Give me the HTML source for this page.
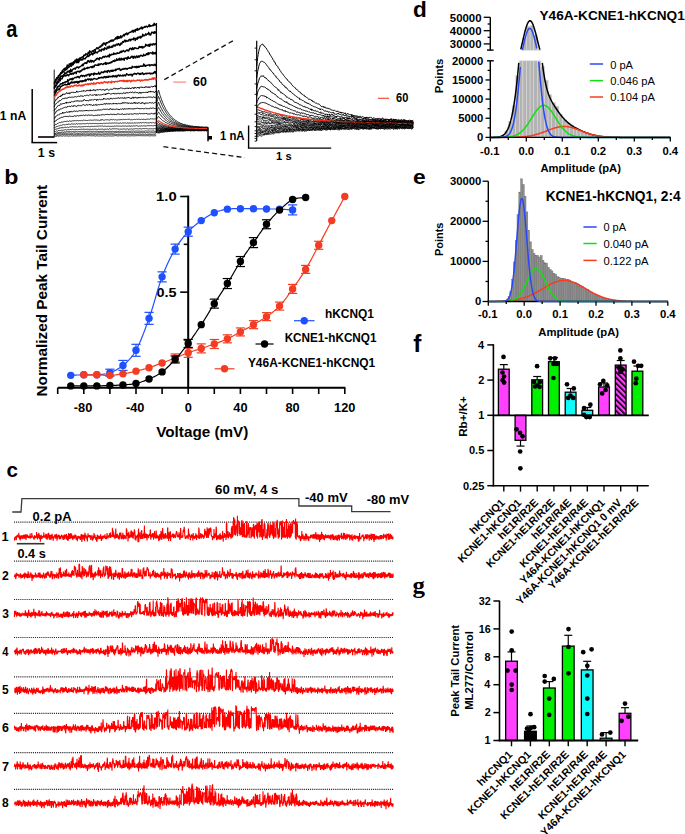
<!DOCTYPE html>
<html><head><meta charset="utf-8"><style>
html,body{margin:0;padding:0;background:#fff;}
svg{display:block;}
</style></head><body>
<svg width="685" height="834" viewBox="0 0 685 834">
<rect width="685" height="834" fill="#fff"/>
<text x="6.20" y="36.76" font-family="Liberation Sans" font-weight="bold" font-size="24.00" textLength="11.12" lengthAdjust="spacingAndGlyphs" fill="#000" >a</text>
<line x1="32.20" y1="89.00" x2="32.20" y2="142.60" stroke="#000" stroke-width="1.5" />
<line x1="31.45" y1="142.60" x2="57.20" y2="142.60" stroke="#000" stroke-width="1.5" />
<text x="-0.13" y="119.80" font-family="Liberation Sans" font-weight="bold" font-size="12.46" textLength="26.40" lengthAdjust="spacingAndGlyphs" fill="#000" >1 nA</text>
<text x="37.86" y="157.07" font-family="Liberation Sans" font-weight="bold" font-size="12.57" textLength="17.18" lengthAdjust="spacingAndGlyphs" fill="#000" >1 s</text>
<line x1="38.00" y1="137.00" x2="54.20" y2="137.00" stroke="#1a0808" stroke-width="1.7" />
<polyline points="54.2,83.3 54.7,82.3 55.2,80.9 55.7,79.5 56.2,78.8 56.7,77.7 57.2,77.7 57.7,77.9 58.2,75.9 58.7,75.4 59.2,75.5 59.7,74.9 60.2,74.1 60.7,72.6 61.2,72.8 61.7,72.9 62.2,70.8 62.7,71.1 63.2,69.5 63.7,69.5 64.2,68.6 64.7,69.5 65.2,68.0 65.7,68.9 66.2,68.2 66.7,67.3 67.2,64.9 67.7,66.3 68.2,66.3 68.7,65.9 69.2,63.9 69.7,64.6 70.2,63.7 70.7,63.5 71.2,64.6 71.7,62.9 72.2,63.2 72.7,63.6 73.2,62.1 73.7,62.0 74.2,61.9 74.7,61.3 75.2,60.0 75.7,60.8 76.2,61.6 76.7,59.0 77.2,60.8 77.7,60.1 78.2,59.1 78.7,60.9 79.2,59.7 79.7,57.9 80.2,58.3 80.7,58.4 81.2,57.4 81.7,57.8 82.2,56.8 82.7,57.0 83.2,57.3 83.7,55.3 84.2,55.8 84.7,54.9 85.2,55.3 85.7,53.8 86.2,54.0 86.7,53.9 87.2,54.6 87.7,54.7 88.2,52.3 88.7,52.4 89.2,53.3 89.7,50.8 90.2,51.7 90.7,51.9 91.2,52.7 91.7,52.1 92.2,51.0 92.7,50.8 93.2,50.6 93.7,51.7 94.2,49.9 94.7,49.7 95.2,50.0 95.7,49.2 96.2,48.8 96.7,47.8 97.2,48.6 97.7,47.8 98.2,48.8 98.7,48.0 99.2,47.1 99.7,47.3 100.2,46.1 100.7,47.0 101.2,45.9 101.7,46.1 102.2,44.2 102.7,45.4 103.2,43.4 103.7,42.9 104.2,44.1 104.7,43.2 105.2,43.7 105.7,45.2 106.2,42.6 106.7,42.6 107.2,43.1 107.7,42.9 108.2,42.1 108.7,41.8 109.2,42.2 109.7,41.9 110.2,40.5 110.7,41.1 111.2,41.2 111.7,40.0 112.2,41.0 112.7,39.9 113.2,41.0 113.7,40.1 114.2,39.8 114.7,39.0 115.2,39.2 115.7,37.6 116.2,38.0 116.7,38.8 117.2,36.5 117.7,38.7 118.2,36.5 118.7,38.3 119.2,36.9 119.7,38.1 120.2,37.2 120.7,35.7 121.2,37.7 121.7,37.5 122.2,36.2 122.7,35.8 123.2,35.6 123.7,34.5 124.2,36.1 124.7,34.5 125.2,34.6 125.7,33.7 126.2,33.6 126.7,33.0 127.2,34.8 127.7,33.4 128.2,34.0 128.7,33.1 129.2,32.5 129.7,32.6 130.2,32.2 130.7,32.4 131.2,31.8 131.7,31.7 132.2,30.5 132.7,30.6 133.2,32.3 133.7,30.3 134.2,30.0 134.7,31.0 135.2,31.8 135.7,29.5 136.2,30.2 136.7,29.6 137.2,28.4 137.7,30.3 138.2,29.4 138.7,29.5 139.2,28.5 139.7,29.2 140.2,28.2 140.7,28.3 141.2,27.4 141.7,27.1 142.2,29.1 142.7,27.5 143.2,28.0 143.7,27.7 144.2,27.0 144.7,26.6 145.2,27.3 145.7,26.5 146.2,26.2 146.7,26.3 147.2,27.2 147.7,26.8 148.2,26.4 148.7,25.6 149.2,24.6 149.7,26.6 150.2,26.4 150.7,25.4 151.2,25.9 151.7,26.0 152.2,25.7 152.7,25.6 153.2,24.4 153.7,25.7 154.2,23.3 154.7,25.0 155.2,24.5 155.7,24.6 156.2,25.2" fill="none" stroke="#000" stroke-width="1.4" stroke-linejoin="round"/>
<polyline points="156.6,99.1 157.1,96.4 157.6,93.7 158.1,91.1 158.6,90.2 159.1,91.9 159.6,93.8 160.1,95.5 160.6,96.7 161.1,98.4 161.6,99.7 162.1,101.0 162.6,102.4 163.1,103.5 163.6,104.8 164.1,105.7 164.6,106.8 165.1,107.7 165.6,108.6 166.1,109.7 166.6,110.4 167.1,111.3 167.6,112.0 168.1,112.7 168.6,113.5 169.1,114.2 169.6,114.9 170.1,115.3 170.6,116.0 171.1,116.3 171.6,117.1 172.1,117.4 172.6,117.8 173.1,118.5 173.6,119.0 174.1,119.1 174.6,119.6 175.1,120.0 175.6,120.3 176.1,120.8 176.6,121.0 177.1,121.3 177.6,121.8 178.1,121.9 178.6,122.3 179.1,122.4 179.6,122.6 180.1,122.8 180.6,123.4 181.1,123.4 181.6,123.6 182.1,123.8 182.6,124.0 183.1,124.2 183.6,124.5 184.1,124.3 184.6,124.4 185.1,124.6 185.6,124.7 186.1,125.1 186.6,125.2 187.1,125.1 187.6,125.2 188.1,125.4 188.6,125.7 189.1,125.3 189.6,125.8 190.1,125.7 190.6,126.1 191.1,125.9 191.6,126.1 192.1,126.0 192.6,126.1 193.1,126.5 193.6,126.5 194.1,126.4 194.6,126.4 195.1,126.3 195.6,126.5 196.1,126.6 196.6,126.7 197.1,126.7 197.6,126.6 198.1,126.8 198.6,126.8 199.1,127.0 199.6,127.1 200.1,126.9 200.6,126.9 201.1,127.0 201.6,127.0 202.1,127.0 202.6,127.1 203.1,127.0 203.6,127.2 204.1,127.1 204.6,127.2 205.1,127.2 205.6,127.1 206.1,127.1 206.6,127.2 207.1,127.2 207.6,127.3" fill="none" stroke="#000" stroke-width="0.85" stroke-linejoin="round"/>
<polyline points="54.2,84.5 54.7,82.4 55.2,82.5 55.7,80.5 56.2,80.3 56.7,79.8 57.2,77.6 57.7,78.4 58.2,77.6 58.7,76.6 59.2,75.9 59.7,75.3 60.2,74.1 60.7,74.1 61.2,73.5 61.7,73.3 62.2,71.8 62.7,72.4 63.2,71.9 63.7,71.4 64.2,70.9 64.7,70.9 65.2,68.9 65.7,70.1 66.2,69.5 66.7,69.1 67.2,68.9 67.7,67.5 68.2,67.4 68.7,67.6 69.2,67.0 69.7,66.4 70.2,64.9 70.7,66.2 71.2,66.4 71.7,65.7 72.2,64.9 72.7,63.2 73.2,64.8 73.7,63.6 74.2,61.4 74.7,63.1 75.2,61.5 75.7,61.3 76.2,61.6 76.7,62.8 77.2,61.3 77.7,61.6 78.2,62.7 78.7,62.4 79.2,60.9 79.7,60.7 80.2,59.5 80.7,59.6 81.2,60.0 81.7,59.8 82.2,59.3 82.7,59.9 83.2,58.4 83.7,58.7 84.2,58.8 84.7,58.5 85.2,58.8 85.7,57.9 86.2,57.1 86.7,57.3 87.2,56.0 87.7,55.2 88.2,56.6 88.7,55.9 89.2,56.1 89.7,54.2 90.2,54.9 90.7,54.5 91.2,54.2 91.7,52.8 92.2,54.0 92.7,54.8 93.2,53.9 93.7,52.9 94.2,53.2 94.7,53.5 95.2,50.5 95.7,52.2 96.2,52.6 96.7,52.4 97.2,52.9 97.7,52.2 98.2,51.4 98.7,51.3 99.2,51.3 99.7,49.8 100.2,50.1 100.7,50.6 101.2,51.2 101.7,49.2 102.2,49.3 102.7,49.3 103.2,50.1 103.7,48.8 104.2,49.9 104.7,47.8 105.2,48.4 105.7,48.5 106.2,49.1 106.7,49.1 107.2,46.9 107.7,47.3 108.2,48.2 108.7,47.2 109.2,46.1 109.7,47.9 110.2,47.3 110.7,47.1 111.2,46.3 111.7,47.4 112.2,46.3 112.7,47.0 113.2,45.3 113.7,45.2 114.2,45.9 114.7,45.0 115.2,45.9 115.7,45.6 116.2,44.2 116.7,44.7 117.2,44.3 117.7,45.1 118.2,43.7 118.7,43.6 119.2,44.7 119.7,45.5 120.2,45.1 120.7,43.3 121.2,43.3 121.7,44.1 122.2,42.5 122.7,41.6 123.2,42.4 123.7,42.3 124.2,41.0 124.7,40.1 125.2,40.2 125.7,41.8 126.2,40.5 126.7,40.9 127.2,41.1 127.7,41.2 128.2,40.2 128.7,40.9 129.2,39.5 129.7,39.8 130.2,39.2 130.7,40.8 131.2,39.8 131.7,39.1 132.2,39.2 132.7,39.2 133.2,39.8 133.7,37.9 134.2,38.2 134.7,38.4 135.2,40.6 135.7,39.2 136.2,38.1 136.7,38.4 137.2,39.4 137.7,37.3 138.2,37.0 138.7,38.1 139.2,37.3 139.7,37.3 140.2,36.3 140.7,38.0 141.2,37.4 141.7,36.5 142.2,36.5 142.7,34.1 143.2,36.0 143.7,35.2 144.2,35.6 144.7,35.7 145.2,35.0 145.7,33.8 146.2,35.1 146.7,34.1 147.2,34.3 147.7,33.8 148.2,33.9 148.7,32.3 149.2,34.9 149.7,33.9 150.2,34.5 150.7,35.0 151.2,33.5 151.7,32.1 152.2,32.6 152.7,32.3 153.2,33.0 153.7,33.3 154.2,31.6 154.7,33.1 155.2,31.8 155.7,33.1 156.2,32.5" fill="none" stroke="#000" stroke-width="1.4" stroke-linejoin="round"/>
<polyline points="156.6,103.6 157.1,101.6 157.6,99.4 158.1,97.2 158.6,96.4 159.1,97.9 159.6,99.3 160.1,100.6 160.6,102.0 161.1,102.9 161.6,104.4 162.1,105.3 162.6,106.6 163.1,107.4 163.6,108.3 164.1,109.4 164.6,110.1 165.1,110.9 165.6,111.7 166.1,112.6 166.6,113.4 167.1,114.1 167.6,114.6 168.1,115.4 168.6,115.9 169.1,116.4 169.6,117.0 170.1,117.6 170.6,117.9 171.1,118.4 171.6,118.8 172.1,119.3 172.6,119.6 173.1,120.2 173.6,120.4 174.1,120.8 174.6,121.0 175.1,121.5 175.6,121.8 176.1,122.0 176.6,122.5 177.1,122.6 177.6,123.0 178.1,123.1 178.6,123.2 179.1,123.4 179.6,123.7 180.1,123.9 180.6,124.0 181.1,124.2 181.6,124.2 182.1,124.5 182.6,124.4 183.1,124.9 183.6,124.9 184.1,125.0 184.6,125.2 185.1,125.4 185.6,125.3 186.1,125.4 186.6,125.6 187.1,125.5 187.6,125.8 188.1,126.2 188.6,125.9 189.1,126.2 189.6,126.0 190.1,126.3 190.6,126.3 191.1,126.4 191.6,126.5 192.1,126.7 192.6,126.6 193.1,126.7 193.6,126.6 194.1,126.8 194.6,126.8 195.1,126.9 195.6,126.9 196.1,127.1 196.6,126.7 197.1,127.0 197.6,127.1 198.1,127.0 198.6,127.0 199.1,127.1 199.6,127.0 200.1,127.2 200.6,127.5 201.1,127.4 201.6,127.1 202.1,127.2 202.6,127.3 203.1,127.5 203.6,127.3 204.1,127.3 204.6,127.5 205.1,127.5 205.6,127.4 206.1,127.3 206.6,127.3 207.1,127.4 207.6,127.2" fill="none" stroke="#000" stroke-width="0.85" stroke-linejoin="round"/>
<polyline points="54.2,87.8 54.7,85.7 55.2,85.5 55.7,85.5 56.2,84.2 56.7,81.9 57.2,82.6 57.7,82.0 58.2,79.9 58.7,79.1 59.2,79.2 59.7,77.6 60.2,79.1 60.7,76.0 61.2,76.2 61.7,76.3 62.2,75.8 62.7,75.6 63.2,75.3 63.7,74.7 64.2,75.4 64.7,72.7 65.2,73.9 65.7,73.0 66.2,73.3 66.7,73.0 67.2,71.6 67.7,71.3 68.2,72.1 68.7,71.6 69.2,70.6 69.7,72.3 70.2,72.1 70.7,69.3 71.2,70.3 71.7,71.7 72.2,70.2 72.7,69.6 73.2,69.1 73.7,68.7 74.2,68.8 74.7,68.3 75.2,69.2 75.7,68.0 76.2,67.9 76.7,67.0 77.2,67.5 77.7,66.9 78.2,67.3 78.7,68.0 79.2,67.2 79.7,67.0 80.2,66.6 80.7,66.3 81.2,65.8 81.7,65.2 82.2,65.7 82.7,64.2 83.2,65.6 83.7,64.3 84.2,63.3 84.7,63.2 85.2,62.8 85.7,63.3 86.2,62.5 86.7,63.4 87.2,62.1 87.7,60.8 88.2,61.7 88.7,60.6 89.2,61.8 89.7,62.2 90.2,61.7 90.7,60.3 91.2,60.5 91.7,62.0 92.2,60.9 92.7,60.6 93.2,61.2 93.7,62.1 94.2,61.2 94.7,60.4 95.2,60.3 95.7,60.2 96.2,59.1 96.7,58.6 97.2,59.1 97.7,58.2 98.2,58.7 98.7,58.8 99.2,59.9 99.7,57.7 100.2,58.0 100.7,58.0 101.2,58.3 101.7,58.6 102.2,57.5 102.7,57.1 103.2,56.4 103.7,56.6 104.2,57.3 104.7,57.0 105.2,56.1 105.7,56.6 106.2,56.7 106.7,56.9 107.2,56.2 107.7,56.5 108.2,55.3 108.7,55.5 109.2,57.1 109.7,54.3 110.2,55.1 110.7,55.5 111.2,54.7 111.7,54.2 112.2,54.5 112.7,54.5 113.2,54.5 113.7,53.0 114.2,54.2 114.7,53.7 115.2,53.5 115.7,54.0 116.2,53.9 116.7,53.9 117.2,52.6 117.7,53.4 118.2,53.4 118.7,53.2 119.2,53.3 119.7,52.1 120.2,52.0 120.7,52.6 121.2,51.0 121.7,52.2 122.2,51.6 122.7,51.5 123.2,50.4 123.7,50.7 124.2,51.2 124.7,51.7 125.2,51.7 125.7,50.9 126.2,50.6 126.7,50.0 127.2,50.7 127.7,50.1 128.2,50.5 128.7,51.0 129.2,49.6 129.7,48.5 130.2,48.9 130.7,48.3 131.2,48.4 131.7,49.9 132.2,48.9 132.7,47.6 133.2,49.1 133.7,49.4 134.2,48.2 134.7,47.7 135.2,47.9 135.7,48.2 136.2,48.1 136.7,48.6 137.2,48.6 137.7,48.5 138.2,48.6 138.7,48.0 139.2,46.4 139.7,47.2 140.2,47.4 140.7,46.8 141.2,47.7 141.7,46.8 142.2,46.4 142.7,48.1 143.2,47.2 143.7,46.8 144.2,47.0 144.7,46.8 145.2,46.4 145.7,44.2 146.2,45.4 146.7,45.6 147.2,44.9 147.7,45.5 148.2,46.1 148.7,44.8 149.2,44.3 149.7,46.4 150.2,44.7 150.7,44.0 151.2,44.9 151.7,44.9 152.2,44.0 152.7,45.1 153.2,44.0 153.7,43.7 154.2,44.3 154.7,44.7 155.2,43.7 155.7,44.1 156.2,43.7" fill="none" stroke="#000" stroke-width="1.4" stroke-linejoin="round"/>
<polyline points="156.6,108.3 157.1,106.7 157.6,104.7 158.1,103.0 158.6,102.3 159.1,103.8 159.6,104.8 160.1,106.1 160.6,107.0 161.1,108.1 161.6,108.8 162.1,109.8 162.6,110.9 163.1,111.3 163.6,112.3 164.1,113.2 164.6,113.7 165.1,114.4 165.6,115.1 166.1,115.5 166.6,116.2 167.1,116.6 167.6,117.2 168.1,117.7 168.6,118.2 169.1,118.7 169.6,119.2 170.1,119.4 170.6,120.2 171.1,120.5 171.6,120.8 172.1,121.0 172.6,121.3 173.1,121.7 173.6,122.0 174.1,122.0 174.6,122.6 175.1,123.1 175.6,122.8 176.1,123.4 176.6,123.5 177.1,123.7 177.6,124.0 178.1,123.9 178.6,124.3 179.1,124.6 179.6,124.6 180.1,124.7 180.6,124.9 181.1,125.0 181.6,125.4 182.1,125.2 182.6,125.5 183.1,125.4 183.6,125.7 184.1,125.7 184.6,125.5 185.1,126.0 185.6,125.9 186.1,126.1 186.6,126.4 187.1,126.2 187.6,126.2 188.1,126.6 188.6,126.5 189.1,126.8 189.6,126.7 190.1,126.6 190.6,126.8 191.1,127.0 191.6,127.0 192.1,126.9 192.6,127.0 193.1,127.0 193.6,127.0 194.1,127.3 194.6,127.1 195.1,127.0 195.6,127.1 196.1,127.3 196.6,127.3 197.1,127.3 197.6,127.2 198.1,127.4 198.6,127.2 199.1,127.2 199.6,127.5 200.1,127.4 200.6,127.5 201.1,127.6 201.6,127.6 202.1,127.5 202.6,127.8 203.1,127.6 203.6,127.5 204.1,127.7 204.6,127.7 205.1,127.5 205.6,127.6 206.1,127.6 206.6,127.4 207.1,127.6 207.6,127.6" fill="none" stroke="#000" stroke-width="0.85" stroke-linejoin="round"/>
<polyline points="54.2,89.0 54.7,87.1 55.2,87.0 55.7,86.3 56.2,85.4 56.7,83.9 57.2,84.1 57.7,82.2 58.2,82.2 58.7,82.6 59.2,80.8 59.7,80.2 60.2,80.7 60.7,79.3 61.2,78.8 61.7,78.6 62.2,78.7 62.7,76.2 63.2,76.7 63.7,76.2 64.2,75.8 64.7,75.8 65.2,75.7 65.7,76.1 66.2,75.0 66.7,75.5 67.2,75.4 67.7,74.6 68.2,75.0 68.7,75.8 69.2,74.8 69.7,74.0 70.2,74.3 70.7,73.5 71.2,74.1 71.7,74.3 72.2,73.2 72.7,73.4 73.2,74.2 73.7,73.0 74.2,73.3 74.7,72.3 75.2,72.1 75.7,72.2 76.2,73.7 76.7,71.9 77.2,71.5 77.7,71.3 78.2,71.4 78.7,71.8 79.2,71.3 79.7,72.2 80.2,70.9 80.7,71.5 81.2,70.7 81.7,70.7 82.2,69.2 82.7,69.9 83.2,69.7 83.7,69.3 84.2,67.9 84.7,69.5 85.2,68.6 85.7,68.4 86.2,68.2 86.7,68.0 87.2,68.5 87.7,67.3 88.2,67.5 88.7,68.1 89.2,67.8 89.7,67.3 90.2,67.1 90.7,66.7 91.2,67.0 91.7,67.6 92.2,66.1 92.7,67.6 93.2,67.0 93.7,66.1 94.2,66.7 94.7,65.1 95.2,64.9 95.7,65.0 96.2,65.4 96.7,65.3 97.2,65.1 97.7,65.4 98.2,63.9 98.7,65.4 99.2,64.0 99.7,64.5 100.2,64.5 100.7,63.9 101.2,63.7 101.7,63.8 102.2,64.4 102.7,64.6 103.2,64.6 103.7,63.4 104.2,63.5 104.7,63.2 105.2,64.1 105.7,62.4 106.2,64.4 106.7,63.2 107.2,63.0 107.7,63.6 108.2,63.7 108.7,63.0 109.2,63.3 109.7,62.6 110.2,63.0 110.7,62.8 111.2,61.8 111.7,62.6 112.2,61.7 112.7,61.6 113.2,60.7 113.7,60.8 114.2,61.4 114.7,60.0 115.2,61.1 115.7,60.7 116.2,60.5 116.7,58.8 117.2,60.0 117.7,60.3 118.2,59.4 118.7,59.8 119.2,58.1 119.7,60.0 120.2,59.0 120.7,59.9 121.2,58.2 121.7,59.8 122.2,59.1 122.7,59.6 123.2,58.4 123.7,58.7 124.2,60.3 124.7,58.2 125.2,58.1 125.7,58.3 126.2,57.7 126.7,59.0 127.2,59.2 127.7,57.4 128.2,56.7 128.7,58.4 129.2,58.3 129.7,58.2 130.2,58.3 130.7,56.9 131.2,57.2 131.7,56.2 132.2,56.1 132.7,57.7 133.2,56.5 133.7,58.2 134.2,56.7 134.7,56.2 135.2,57.2 135.7,57.9 136.2,57.0 136.7,55.9 137.2,56.7 137.7,57.4 138.2,56.2 138.7,56.0 139.2,57.1 139.7,56.4 140.2,55.4 140.7,55.7 141.2,55.3 141.7,55.8 142.2,55.7 142.7,56.2 143.2,55.7 143.7,54.2 144.2,55.4 144.7,55.6 145.2,55.2 145.7,55.2 146.2,54.0 146.7,53.7 147.2,54.7 147.7,53.5 148.2,52.7 148.7,54.6 149.2,53.3 149.7,53.4 150.2,52.8 150.7,52.9 151.2,52.9 151.7,53.3 152.2,53.7 152.7,52.0 153.2,54.0 153.7,52.7 154.2,52.8 154.7,53.8 155.2,53.3 155.7,52.3 156.2,54.5" fill="none" stroke="#000" stroke-width="1.4" stroke-linejoin="round"/>
<polyline points="156.6,112.1 157.1,111.0 157.6,109.5 158.1,107.8 158.6,107.3 159.1,108.5 159.6,109.3 160.1,110.0 160.6,111.2 161.1,111.9 161.6,112.6 162.1,113.6 162.6,114.1 163.1,114.7 163.6,115.4 164.1,115.9 164.6,116.5 165.1,117.1 165.6,117.5 166.1,118.1 166.6,118.8 167.1,119.1 167.6,119.6 168.1,119.9 168.6,120.3 169.1,120.8 169.6,121.0 170.1,121.5 170.6,121.5 171.1,121.9 171.6,122.1 172.1,122.5 172.6,122.8 173.1,123.2 173.6,123.2 174.1,123.5 174.6,123.7 175.1,123.8 175.6,124.0 176.1,124.3 176.6,124.3 177.1,124.6 177.6,124.8 178.1,124.9 178.6,125.0 179.1,125.1 179.6,125.6 180.1,125.3 180.6,125.8 181.1,125.8 181.6,125.8 182.1,125.8 182.6,126.2 183.1,126.3 183.6,126.1 184.1,126.3 184.6,126.5 185.1,126.5 185.6,126.8 186.1,126.6 186.6,126.8 187.1,126.6 187.6,127.1 188.1,126.8 188.6,126.7 189.1,127.0 189.6,127.0 190.1,127.3 190.6,127.1 191.1,127.2 191.6,127.3 192.1,127.4 192.6,127.3 193.1,127.5 193.6,127.4 194.1,127.4 194.6,127.4 195.1,127.5 195.6,127.4 196.1,127.7 196.6,127.4 197.1,127.7 197.6,127.7 198.1,127.6 198.6,127.5 199.1,127.6 199.6,127.7 200.1,127.8 200.6,127.7 201.1,127.8 201.6,127.7 202.1,127.8 202.6,127.6 203.1,127.9 203.6,127.8 204.1,127.8 204.6,128.0 205.1,127.9 205.6,127.5 206.1,127.9 206.6,127.7 207.1,128.0 207.6,128.2" fill="none" stroke="#000" stroke-width="0.85" stroke-linejoin="round"/>
<polyline points="54.2,92.8 54.7,92.0 55.2,90.8 55.7,90.1 56.2,89.4 56.7,88.9 57.2,87.0 57.7,87.8 58.2,85.9 58.7,86.2 59.2,86.3 59.7,85.6 60.2,84.2 60.7,83.9 61.2,83.6 61.7,83.7 62.2,84.1 62.7,82.6 63.2,83.2 63.7,82.9 64.2,82.4 64.7,82.1 65.2,82.4 65.7,81.7 66.2,81.9 66.7,81.6 67.2,82.1 67.7,79.7 68.2,81.3 68.7,80.2 69.2,80.0 69.7,79.4 70.2,78.7 70.7,79.4 71.2,79.0 71.7,79.7 72.2,78.2 72.7,79.7 73.2,78.9 73.7,78.4 74.2,77.9 74.7,77.7 75.2,77.4 75.7,77.5 76.2,77.7 76.7,77.5 77.2,76.6 77.7,77.1 78.2,76.6 78.7,77.1 79.2,77.9 79.7,77.1 80.2,76.5 80.7,75.6 81.2,75.5 81.7,75.3 82.2,76.6 82.7,75.7 83.2,75.9 83.7,75.4 84.2,76.0 84.7,76.6 85.2,75.4 85.7,75.5 86.2,75.1 86.7,75.9 87.2,74.7 87.7,74.6 88.2,74.3 88.7,74.1 89.2,75.1 89.7,76.2 90.2,74.0 90.7,75.0 91.2,74.5 91.7,73.7 92.2,74.1 92.7,74.1 93.2,73.8 93.7,75.2 94.2,73.0 94.7,74.1 95.2,74.1 95.7,73.5 96.2,73.8 96.7,74.3 97.2,73.8 97.7,73.9 98.2,73.9 98.7,72.2 99.2,74.0 99.7,74.3 100.2,73.4 100.7,73.4 101.2,71.9 101.7,72.5 102.2,72.1 102.7,72.1 103.2,72.8 103.7,71.8 104.2,72.1 104.7,70.9 105.2,71.8 105.7,71.8 106.2,71.2 106.7,71.2 107.2,72.5 107.7,70.6 108.2,70.6 108.7,70.5 109.2,71.6 109.7,72.1 110.2,71.0 110.7,70.5 111.2,70.5 111.7,71.3 112.2,70.1 112.7,71.3 113.2,71.1 113.7,70.2 114.2,70.3 114.7,70.3 115.2,70.7 115.7,69.1 116.2,70.2 116.7,69.3 117.2,68.9 117.7,69.4 118.2,69.2 118.7,68.8 119.2,68.4 119.7,68.7 120.2,70.2 120.7,70.5 121.2,69.7 121.7,69.9 122.2,68.9 122.7,69.2 123.2,69.4 123.7,68.5 124.2,68.5 124.7,69.1 125.2,68.7 125.7,68.2 126.2,68.9 126.7,68.6 127.2,69.2 127.7,68.5 128.2,68.2 128.7,68.3 129.2,68.2 129.7,67.8 130.2,67.7 130.7,68.2 131.2,68.0 131.7,68.3 132.2,66.3 132.7,67.0 133.2,67.0 133.7,67.1 134.2,66.9 134.7,66.7 135.2,67.5 135.7,67.2 136.2,66.3 136.7,67.8 137.2,67.4 137.7,66.4 138.2,67.3 138.7,66.3 139.2,67.2 139.7,66.4 140.2,66.0 140.7,66.3 141.2,66.0 141.7,66.4 142.2,66.3 142.7,66.3 143.2,65.8 143.7,63.9 144.2,66.1 144.7,64.8 145.2,66.1 145.7,66.4 146.2,65.8 146.7,65.3 147.2,65.3 147.7,65.3 148.2,65.1 148.7,64.9 149.2,64.6 149.7,65.9 150.2,65.0 150.7,65.5 151.2,64.8 151.7,64.9 152.2,64.8 152.7,65.3 153.2,65.4 153.7,65.1 154.2,64.5 154.7,64.3 155.2,65.7 155.7,64.5 156.2,64.3" fill="none" stroke="#000" stroke-width="1.4" stroke-linejoin="round"/>
<polyline points="156.6,115.8 157.1,114.9 157.6,113.7 158.1,112.4 158.6,112.2 159.1,112.8 159.6,113.6 160.1,114.3 160.6,114.9 161.1,115.8 161.6,116.1 162.1,116.5 162.6,117.4 163.1,117.7 163.6,118.2 164.1,118.4 164.6,119.3 165.1,119.7 165.6,120.1 166.1,120.5 166.6,121.0 167.1,121.1 167.6,121.6 168.1,121.7 168.6,122.0 169.1,122.5 169.6,122.7 170.1,122.7 170.6,123.2 171.1,123.4 171.6,123.5 172.1,123.9 172.6,124.0 173.1,124.1 173.6,124.3 174.1,124.8 174.6,124.6 175.1,125.0 175.6,125.2 176.1,125.3 176.6,125.2 177.1,125.5 177.6,125.7 178.1,125.9 178.6,125.8 179.1,125.8 179.6,126.2 180.1,126.3 180.6,126.3 181.1,126.3 181.6,126.5 182.1,126.6 182.6,126.7 183.1,126.6 183.6,126.8 184.1,126.8 184.6,126.8 185.1,127.0 185.6,127.0 186.1,127.0 186.6,127.2 187.1,127.0 187.6,127.2 188.1,127.3 188.6,127.4 189.1,127.5 189.6,127.3 190.1,127.3 190.6,127.5 191.1,127.6 191.6,127.8 192.1,127.6 192.6,127.5 193.1,127.7 193.6,127.6 194.1,127.5 194.6,128.0 195.1,127.8 195.6,127.8 196.1,127.8 196.6,128.0 197.1,127.8 197.6,128.0 198.1,127.7 198.6,127.7 199.1,128.1 199.6,128.1 200.1,128.0 200.6,128.0 201.1,128.0 201.6,127.9 202.1,128.1 202.6,128.1 203.1,128.0 203.6,128.0 204.1,128.1 204.6,128.1 205.1,128.1 205.6,127.9 206.1,128.1 206.6,128.3 207.1,128.0 207.6,128.0" fill="none" stroke="#000" stroke-width="0.85" stroke-linejoin="round"/>
<polyline points="54.2,95.7 54.7,94.9 55.2,93.7 55.7,91.7 56.2,92.1 56.7,90.4 57.2,90.0 57.7,90.0 58.2,89.0 58.7,89.2 59.2,90.0 59.7,88.3 60.2,88.0 60.7,86.7 61.2,86.6 61.7,86.0 62.2,85.9 62.7,85.4 63.2,85.4 63.7,85.3 64.2,84.7 64.7,84.3 65.2,84.1 65.7,85.0 66.2,84.6 66.7,84.8 67.2,84.7 67.7,83.7 68.2,84.2 68.7,82.8 69.2,84.6 69.7,83.8 70.2,83.0 70.7,82.4 71.2,83.1 71.7,81.8 72.2,82.3 72.7,82.9 73.2,82.4 73.7,82.1 74.2,82.9 74.7,81.8 75.2,82.5 75.7,81.9 76.2,81.6 76.7,82.3 77.2,81.5 77.7,83.0 78.2,81.6 78.7,82.8 79.2,81.3 79.7,82.0 80.2,81.0 80.7,80.9 81.2,81.5 81.7,81.7 82.2,80.6 82.7,81.7 83.2,80.7 83.7,81.0 84.2,81.0 84.7,80.8 85.2,79.5 85.7,81.1 86.2,80.5 86.7,79.8 87.2,79.4 87.7,78.9 88.2,78.9 88.7,79.9 89.2,79.4 89.7,78.9 90.2,79.2 90.7,80.2 91.2,79.1 91.7,78.9 92.2,79.9 92.7,79.5 93.2,79.2 93.7,78.8 94.2,78.4 94.7,78.6 95.2,78.9 95.7,78.9 96.2,79.1 96.7,79.2 97.2,79.0 97.7,78.9 98.2,78.3 98.7,77.6 99.2,78.3 99.7,77.8 100.2,77.7 100.7,77.8 101.2,77.2 101.7,77.2 102.2,77.7 102.7,77.7 103.2,77.1 103.7,77.7 104.2,77.1 104.7,76.6 105.2,77.0 105.7,77.8 106.2,76.5 106.7,77.4 107.2,77.3 107.7,77.4 108.2,76.1 108.7,77.4 109.2,76.4 109.7,76.3 110.2,76.4 110.7,76.8 111.2,76.5 111.7,76.3 112.2,76.9 112.7,75.8 113.2,75.5 113.7,76.6 114.2,76.5 114.7,76.7 115.2,75.6 115.7,76.7 116.2,76.4 116.7,77.0 117.2,75.3 117.7,76.1 118.2,75.6 118.7,74.9 119.2,75.4 119.7,76.2 120.2,75.3 120.7,75.2 121.2,75.9 121.7,75.9 122.2,76.0 122.7,75.1 123.2,75.4 123.7,76.0 124.2,75.1 124.7,74.9 125.2,75.7 125.7,75.9 126.2,74.5 126.7,73.7 127.2,74.3 127.7,74.6 128.2,74.9 128.7,75.3 129.2,74.8 129.7,74.5 130.2,74.9 130.7,74.2 131.2,74.7 131.7,74.5 132.2,76.0 132.7,74.9 133.2,74.0 133.7,73.9 134.2,74.1 134.7,73.3 135.2,73.8 135.7,73.7 136.2,74.5 136.7,73.9 137.2,73.5 137.7,73.2 138.2,73.2 138.7,73.7 139.2,73.5 139.7,74.4 140.2,73.4 140.7,74.3 141.2,74.0 141.7,73.7 142.2,72.7 142.7,73.1 143.2,74.1 143.7,74.5 144.2,73.8 144.7,74.0 145.2,73.4 145.7,73.5 146.2,73.2 146.7,74.0 147.2,73.5 147.7,73.3 148.2,73.2 148.7,73.5 149.2,73.4 149.7,72.9 150.2,74.1 150.7,73.3 151.2,73.1 151.7,73.8 152.2,73.7 152.7,73.1 153.2,73.4 153.7,72.4 154.2,72.4 154.7,71.5 155.2,73.3 155.7,71.7 156.2,72.9" fill="none" stroke="#000" stroke-width="1.4" stroke-linejoin="round"/>
<polyline points="156.6,119.6 157.1,118.5 157.6,117.8 158.1,116.5 158.6,116.6 159.1,117.1 159.6,117.8 160.1,118.2 160.6,118.5 161.1,119.2 161.6,119.6 162.1,120.0 162.6,120.5 163.1,120.9 163.6,121.1 164.1,121.3 164.6,121.6 165.1,122.3 165.6,122.5 166.1,122.7 166.6,122.9 167.1,123.2 167.6,123.4 168.1,123.6 168.6,123.8 169.1,124.4 169.6,124.3 170.1,124.4 170.6,124.5 171.1,124.8 171.6,125.1 172.1,125.3 172.6,125.3 173.1,125.5 173.6,125.6 174.1,125.6 174.6,126.0 175.1,126.0 175.6,126.4 176.1,126.1 176.6,126.3 177.1,126.5 177.6,126.5 178.1,126.4 178.6,126.5 179.1,126.8 179.6,126.9 180.1,126.9 180.6,127.1 181.1,127.1 181.6,127.1 182.1,127.2 182.6,127.2 183.1,127.3 183.6,127.4 184.1,127.4 184.6,127.5 185.1,127.4 185.6,127.3 186.1,127.4 186.6,127.7 187.1,127.7 187.6,127.8 188.1,127.7 188.6,127.8 189.1,127.9 189.6,127.9 190.1,127.7 190.6,127.8 191.1,127.9 191.6,127.8 192.1,128.0 192.6,128.0 193.1,127.9 193.6,128.2 194.1,127.9 194.6,128.0 195.1,128.0 195.6,127.9 196.1,128.1 196.6,128.1 197.1,128.3 197.6,128.2 198.1,128.2 198.6,128.1 199.1,127.9 199.6,128.1 200.1,128.0 200.6,128.3 201.1,128.2 201.6,128.4 202.1,128.3 202.6,128.3 203.1,128.2 203.6,128.2 204.1,128.3 204.6,128.3 205.1,128.1 205.6,128.3 206.1,128.5 206.6,128.2 207.1,128.2 207.6,128.2" fill="none" stroke="#000" stroke-width="0.85" stroke-linejoin="round"/>
<polyline points="54.2,103.5 54.7,101.8 55.2,101.4 55.7,100.4 56.2,98.9 56.7,99.4 57.2,98.8 57.7,97.6 58.2,97.9 58.7,96.8 59.2,96.5 59.7,96.5 60.2,95.9 60.7,96.8 61.2,94.9 61.7,95.7 62.2,95.6 62.7,94.0 63.2,93.8 63.7,94.6 64.2,93.9 64.7,94.3 65.2,94.4 65.7,93.6 66.2,93.2 66.7,92.5 67.2,93.7 67.7,93.0 68.2,93.6 68.7,93.4 69.2,92.6 69.7,93.8 70.2,93.4 70.7,93.2 71.2,92.2 71.7,92.4 72.2,92.3 72.7,92.3 73.2,92.0 73.7,92.7 74.2,92.5 74.7,92.5 75.2,92.0 75.7,92.7 76.2,92.2 76.7,90.9 77.2,91.7 77.7,92.0 78.2,92.3 78.7,91.6 79.2,91.6 79.7,91.3 80.2,91.8 80.7,91.3 81.2,91.2 81.7,91.2 82.2,91.6 82.7,91.1 83.2,90.4 83.7,91.3 84.2,90.6 84.7,91.1 85.2,91.0 85.7,91.4 86.2,91.2 86.7,90.3 87.2,90.4 87.7,89.9 88.2,91.1 88.7,90.6 89.2,91.1 89.7,90.3 90.2,89.6 90.7,91.1 91.2,90.3 91.7,90.3 92.2,90.2 92.7,90.4 93.2,90.4 93.7,89.5 94.2,90.6 94.7,89.9 95.2,89.9 95.7,90.8 96.2,90.4 96.7,89.9 97.2,89.3 97.7,90.1 98.2,90.2 98.7,89.9 99.2,89.4 99.7,89.5 100.2,89.2 100.7,89.8 101.2,90.0 101.7,90.1 102.2,89.4 102.7,89.8 103.2,89.9 103.7,89.5 104.2,89.6 104.7,90.6 105.2,89.7 105.7,89.9 106.2,89.3 106.7,89.5 107.2,88.8 107.7,89.5 108.2,89.9 108.7,90.3 109.2,90.0 109.7,89.7 110.2,89.4 110.7,89.1 111.2,89.2 111.7,89.5 112.2,88.9 112.7,89.5 113.2,88.7 113.7,88.3 114.2,88.5 114.7,88.2 115.2,88.2 115.7,89.2 116.2,88.6 116.7,88.7 117.2,89.1 117.7,89.0 118.2,88.2 118.7,89.2 119.2,88.7 119.7,88.4 120.2,88.5 120.7,87.6 121.2,88.0 121.7,88.2 122.2,88.6 122.7,88.2 123.2,88.3 123.7,88.8 124.2,88.9 124.7,88.6 125.2,88.8 125.7,88.0 126.2,88.1 126.7,88.4 127.2,88.1 127.7,88.0 128.2,89.0 128.7,88.2 129.2,87.7 129.7,88.3 130.2,88.9 130.7,88.0 131.2,88.6 131.7,87.8 132.2,87.8 132.7,87.7 133.2,87.8 133.7,88.6 134.2,87.3 134.7,88.3 135.2,87.3 135.7,87.6 136.2,88.1 136.7,88.0 137.2,87.8 137.7,87.0 138.2,87.7 138.7,87.1 139.2,88.5 139.7,87.4 140.2,87.5 140.7,86.9 141.2,87.3 141.7,86.9 142.2,87.9 142.7,87.3 143.2,87.6 143.7,87.0 144.2,87.0 144.7,87.8 145.2,86.8 145.7,86.5 146.2,87.4 146.7,86.7 147.2,86.9 147.7,87.5 148.2,86.7 148.7,87.5 149.2,86.7 149.7,87.6 150.2,87.5 150.7,86.7 151.2,86.7 151.7,86.3 152.2,86.7 152.7,87.1 153.2,86.0 153.7,87.0 154.2,85.9 154.7,86.0 155.2,85.5 155.7,87.1 156.2,86.2" fill="none" stroke="#000" stroke-width="1.0" stroke-linejoin="round"/>
<polyline points="156.6,124.1 157.1,123.7 157.6,123.4 158.1,122.8 158.6,122.6 159.1,122.9 159.6,123.6 160.1,123.3 160.6,123.8 161.1,124.2 161.6,124.3 162.1,124.4 162.6,124.7 163.1,125.0 163.6,125.2 164.1,125.1 164.6,125.5 165.1,125.5 165.6,125.8 166.1,126.0 166.6,125.9 167.1,125.9 167.6,126.2 168.1,126.5 168.6,126.5 169.1,126.6 169.6,126.9 170.1,126.6 170.6,126.9 171.1,126.8 171.6,127.0 172.1,127.1 172.6,127.3 173.1,127.1 173.6,127.2 174.1,127.2 174.6,127.5 175.1,127.4 175.6,127.6 176.1,127.4 176.6,127.6 177.1,127.8 177.6,127.7 178.1,127.8 178.6,127.9 179.1,127.8 179.6,127.7 180.1,128.0 180.6,128.0 181.1,128.1 181.6,127.8 182.1,127.9 182.6,127.8 183.1,128.0 183.6,128.3 184.1,128.2 184.6,128.2 185.1,128.2 185.6,128.3 186.1,128.2 186.6,128.3 187.1,128.3 187.6,128.0 188.1,128.3 188.6,128.5 189.1,128.3 189.6,128.3 190.1,128.3 190.6,128.3 191.1,128.5 191.6,128.4 192.1,128.3 192.6,128.1 193.1,128.4 193.6,128.2 194.1,128.2 194.6,128.6 195.1,128.6 195.6,128.3 196.1,128.6 196.6,128.6 197.1,128.4 197.6,128.6 198.1,128.3 198.6,128.4 199.1,128.4 199.6,128.4 200.1,128.7 200.6,128.4 201.1,128.4 201.6,128.4 202.1,128.6 202.6,128.5 203.1,128.7 203.6,128.5 204.1,128.4 204.6,128.5 205.1,128.6 205.6,128.5 206.1,128.6 206.6,128.8 207.1,128.5 207.6,128.6" fill="none" stroke="#000" stroke-width="0.85" stroke-linejoin="round"/>
<polyline points="54.2,107.1 54.7,105.5 55.2,104.6 55.7,103.8 56.2,103.8 56.7,103.3 57.2,102.5 57.7,102.1 58.2,102.2 58.7,101.8 59.2,100.6 59.7,100.8 60.2,100.6 60.7,100.5 61.2,99.8 61.7,99.4 62.2,99.2 62.7,98.5 63.2,99.0 63.7,98.6 64.2,98.8 64.7,98.1 65.2,98.4 65.7,98.0 66.2,97.9 66.7,98.5 67.2,97.8 67.7,98.1 68.2,97.4 68.7,97.7 69.2,96.9 69.7,97.3 70.2,97.2 70.7,97.5 71.2,97.4 71.7,97.1 72.2,97.4 72.7,97.0 73.2,97.2 73.7,97.2 74.2,96.9 74.7,96.8 75.2,96.9 75.7,96.5 76.2,96.8 76.7,97.0 77.2,96.8 77.7,96.3 78.2,96.0 78.7,96.3 79.2,96.2 79.7,96.6 80.2,95.9 80.7,95.9 81.2,96.3 81.7,95.7 82.2,95.7 82.7,96.5 83.2,96.5 83.7,96.0 84.2,95.8 84.7,95.4 85.2,95.9 85.7,95.7 86.2,95.6 86.7,95.2 87.2,95.3 87.7,95.2 88.2,95.4 88.7,95.8 89.2,95.4 89.7,94.7 90.2,94.9 90.7,94.6 91.2,94.9 91.7,95.4 92.2,95.4 92.7,95.0 93.2,95.3 93.7,94.9 94.2,94.7 94.7,94.6 95.2,94.7 95.7,95.5 96.2,94.3 96.7,95.4 97.2,95.5 97.7,94.8 98.2,94.9 98.7,94.6 99.2,94.8 99.7,95.0 100.2,94.6 100.7,95.0 101.2,95.0 101.7,94.7 102.2,94.7 102.7,94.5 103.2,94.6 103.7,93.9 104.2,94.3 104.7,94.2 105.2,93.7 105.7,94.9 106.2,93.7 106.7,93.7 107.2,94.0 107.7,93.0 108.2,93.5 108.7,93.1 109.2,93.3 109.7,93.6 110.2,93.8 110.7,94.1 111.2,93.9 111.7,93.9 112.2,93.7 112.7,93.2 113.2,93.8 113.7,93.2 114.2,93.2 114.7,94.1 115.2,93.8 115.7,93.6 116.2,93.8 116.7,93.7 117.2,92.9 117.7,93.5 118.2,93.1 118.7,93.5 119.2,93.3 119.7,94.0 120.2,93.7 120.7,93.2 121.2,93.5 121.7,92.9 122.2,93.5 122.7,93.7 123.2,93.5 123.7,92.6 124.2,93.1 124.7,93.3 125.2,93.2 125.7,93.5 126.2,92.4 126.7,93.1 127.2,92.6 127.7,92.9 128.2,92.9 128.7,93.0 129.2,92.5 129.7,92.6 130.2,92.1 130.7,91.9 131.2,92.7 131.7,92.5 132.2,91.9 132.7,92.1 133.2,92.4 133.7,93.1 134.2,92.8 134.7,92.7 135.2,91.8 135.7,92.4 136.2,92.6 136.7,92.6 137.2,92.6 137.7,92.4 138.2,93.3 138.7,93.2 139.2,92.5 139.7,92.1 140.2,93.4 140.7,92.4 141.2,93.0 141.7,93.2 142.2,92.0 142.7,92.5 143.2,92.3 143.7,92.6 144.2,92.4 144.7,93.0 145.2,92.4 145.7,92.1 146.2,92.6 146.7,92.0 147.2,92.0 147.7,93.0 148.2,91.7 148.7,91.6 149.2,91.8 149.7,91.4 150.2,91.0 150.7,92.2 151.2,91.5 151.7,91.7 152.2,91.8 152.7,91.5 153.2,91.4 153.7,91.8 154.2,92.7 154.7,92.0 155.2,92.1 155.7,91.2 156.2,91.9" fill="none" stroke="#000" stroke-width="1.0" stroke-linejoin="round"/>
<polyline points="156.6,125.5 157.1,125.1 157.6,124.8 158.1,124.6 158.6,124.5 159.1,124.5 159.6,124.8 160.1,124.8 160.6,125.1 161.1,125.2 161.6,125.3 162.1,125.6 162.6,125.7 163.1,126.0 163.6,126.2 164.1,126.2 164.6,126.2 165.1,126.5 165.6,126.3 166.1,126.4 166.6,126.9 167.1,126.9 167.6,127.1 168.1,127.0 168.6,127.0 169.1,127.1 169.6,127.3 170.1,127.3 170.6,127.3 171.1,127.3 171.6,127.4 172.1,127.7 172.6,127.7 173.1,127.6 173.6,127.6 174.1,127.7 174.6,127.9 175.1,127.8 175.6,127.9 176.1,127.7 176.6,127.9 177.1,128.1 177.6,128.2 178.1,128.0 178.6,128.1 179.1,128.3 179.6,128.2 180.1,128.2 180.6,128.3 181.1,128.3 181.6,128.5 182.1,128.4 182.6,128.3 183.1,128.4 183.6,128.4 184.1,128.3 184.6,128.3 185.1,128.6 185.6,128.3 186.1,128.6 186.6,128.5 187.1,128.5 187.6,128.6 188.1,128.6 188.6,128.7 189.1,128.5 189.6,128.5 190.1,128.6 190.6,128.8 191.1,128.7 191.6,128.5 192.1,128.6 192.6,128.5 193.1,128.6 193.6,128.7 194.1,128.9 194.6,128.4 195.1,128.8 195.6,128.7 196.1,128.6 196.6,128.7 197.1,128.6 197.6,128.7 198.1,128.8 198.6,128.5 199.1,128.9 199.6,128.7 200.1,128.9 200.6,128.8 201.1,128.9 201.6,128.8 202.1,128.9 202.6,128.7 203.1,128.6 203.6,128.8 204.1,128.8 204.6,129.0 205.1,128.5 205.6,128.7 206.1,128.9 206.6,128.6 207.1,128.7 207.6,129.0" fill="none" stroke="#000" stroke-width="0.85" stroke-linejoin="round"/>
<polyline points="54.2,110.9 54.7,109.2 55.2,109.4 55.7,108.7 56.2,108.0 56.7,107.3 57.2,106.7 57.7,105.9 58.2,105.7 58.7,105.7 59.2,105.2 59.7,105.6 60.2,104.5 60.7,103.6 61.2,104.1 61.7,104.2 62.2,104.0 62.7,103.7 63.2,103.2 63.7,103.9 64.2,103.1 64.7,103.5 65.2,103.0 65.7,102.5 66.2,103.4 66.7,101.9 67.2,102.4 67.7,102.8 68.2,102.5 68.7,102.7 69.2,102.3 69.7,102.0 70.2,102.9 70.7,102.0 71.2,101.9 71.7,101.5 72.2,101.5 72.7,102.0 73.2,101.9 73.7,101.6 74.2,101.3 74.7,101.6 75.2,100.7 75.7,101.2 76.2,101.2 76.7,100.8 77.2,101.1 77.7,100.7 78.2,100.5 78.7,101.4 79.2,101.0 79.7,101.2 80.2,100.9 80.7,101.1 81.2,100.9 81.7,101.1 82.2,101.5 82.7,100.6 83.2,100.7 83.7,100.6 84.2,99.3 84.7,100.0 85.2,100.5 85.7,100.7 86.2,100.1 86.7,100.8 87.2,100.8 87.7,100.2 88.2,100.8 88.7,100.8 89.2,100.4 89.7,99.7 90.2,100.5 90.7,99.8 91.2,99.7 91.7,99.9 92.2,99.6 92.7,100.1 93.2,99.9 93.7,100.0 94.2,99.7 94.7,99.2 95.2,99.4 95.7,99.9 96.2,99.4 96.7,100.7 97.2,99.5 97.7,99.3 98.2,99.9 98.7,99.8 99.2,99.5 99.7,99.3 100.2,99.6 100.7,99.8 101.2,99.7 101.7,99.3 102.2,99.6 102.7,99.6 103.2,99.6 103.7,98.1 104.2,98.9 104.7,98.9 105.2,99.0 105.7,99.1 106.2,99.2 106.7,99.1 107.2,98.7 107.7,98.7 108.2,99.3 108.7,98.5 109.2,98.8 109.7,99.4 110.2,98.8 110.7,97.9 111.2,98.7 111.7,98.5 112.2,98.6 112.7,98.9 113.2,98.6 113.7,98.3 114.2,98.7 114.7,98.4 115.2,98.3 115.7,98.4 116.2,98.4 116.7,98.2 117.2,98.0 117.7,98.2 118.2,97.8 118.7,97.7 119.2,98.5 119.7,97.9 120.2,97.9 120.7,97.9 121.2,97.9 121.7,98.0 122.2,98.1 122.7,97.7 123.2,98.4 123.7,97.8 124.2,98.4 124.7,97.4 125.2,97.7 125.7,98.5 126.2,98.1 126.7,97.8 127.2,98.1 127.7,97.5 128.2,98.0 128.7,97.2 129.2,97.9 129.7,97.9 130.2,98.3 130.7,98.4 131.2,97.8 131.7,98.7 132.2,97.7 132.7,97.1 133.2,97.0 133.7,98.4 134.2,97.7 134.7,97.5 135.2,97.4 135.7,97.2 136.2,98.2 136.7,97.7 137.2,98.4 137.7,97.7 138.2,97.0 138.7,98.1 139.2,97.5 139.7,97.5 140.2,98.1 140.7,97.3 141.2,97.7 141.7,97.3 142.2,97.0 142.7,97.5 143.2,97.1 143.7,97.8 144.2,97.7 144.7,97.4 145.2,97.5 145.7,97.4 146.2,97.2 146.7,97.6 147.2,97.2 147.7,97.4 148.2,96.8 148.7,97.2 149.2,97.3 149.7,96.9 150.2,97.0 150.7,96.9 151.2,97.5 151.7,96.9 152.2,97.3 152.7,97.7 153.2,97.3 153.7,96.5 154.2,97.2 154.7,97.5 155.2,97.0 155.7,97.6 156.2,97.4" fill="none" stroke="#000" stroke-width="1.0" stroke-linejoin="round"/>
<polyline points="156.6,126.3 157.1,126.2 157.6,125.8 158.1,125.9 158.6,125.7 159.1,126.0 159.6,126.2 160.1,125.5 160.6,126.4 161.1,126.0 161.6,126.6 162.1,126.5 162.6,126.8 163.1,127.2 163.6,126.6 164.1,127.1 164.6,127.1 165.1,126.8 165.6,127.5 166.1,127.4 166.6,127.3 167.1,127.4 167.6,128.3 168.1,127.6 168.6,127.3 169.1,127.6 169.6,127.8 170.1,127.8 170.6,127.9 171.1,127.8 171.6,128.2 172.1,128.0 172.6,127.8 173.1,128.0 173.6,128.1 174.1,128.4 174.6,128.4 175.1,128.2 175.6,128.3 176.1,128.4 176.6,128.8 177.1,128.3 177.6,128.5 178.1,128.6 178.6,128.3 179.1,128.5 179.6,128.6 180.1,128.4 180.6,128.7 181.1,128.8 181.6,128.9 182.1,128.6 182.6,128.7 183.1,129.2 183.6,128.4 184.1,128.7 184.6,128.9 185.1,128.7 185.6,128.9 186.1,128.8 186.6,128.9 187.1,129.0 187.6,128.7 188.1,128.8 188.6,128.8 189.1,128.7 189.6,128.8 190.1,128.5 190.6,129.0 191.1,129.2 191.6,129.2 192.1,129.1 192.6,128.6 193.1,129.2 193.6,128.7 194.1,128.8 194.6,129.3 195.1,128.6 195.6,129.0 196.1,128.9 196.6,128.8 197.1,128.7 197.6,129.0 198.1,128.8 198.6,129.1 199.1,129.2 199.6,128.6 200.1,128.8 200.6,128.8 201.1,128.6 201.6,128.7 202.1,128.9 202.6,128.9 203.1,128.5 203.6,128.8 204.1,129.0 204.6,128.6 205.1,128.7 205.6,129.3 206.1,129.2 206.6,128.6 207.1,128.6 207.6,129.0" fill="none" stroke="#000" stroke-width="0.85" stroke-linejoin="round"/>
<polyline points="54.2,114.2 54.7,113.8 55.2,113.0 55.7,112.8 56.2,111.2 56.7,110.9 57.2,110.7 57.7,111.0 58.2,110.3 58.7,109.5 59.2,109.9 59.7,109.8 60.2,109.1 60.7,108.8 61.2,108.9 61.7,108.9 62.2,108.4 62.7,108.3 63.2,108.0 63.7,107.7 64.2,107.4 64.7,107.6 65.2,107.2 65.7,107.2 66.2,107.4 66.7,107.3 67.2,107.2 67.7,106.3 68.2,106.9 68.7,106.4 69.2,106.3 69.7,106.2 70.2,106.8 70.7,106.6 71.2,106.0 71.7,105.8 72.2,106.2 72.7,106.0 73.2,106.6 73.7,105.5 74.2,105.5 74.7,105.9 75.2,106.0 75.7,106.0 76.2,106.2 76.7,106.6 77.2,105.7 77.7,105.6 78.2,105.2 78.7,105.8 79.2,106.0 79.7,105.5 80.2,105.9 80.7,105.5 81.2,105.9 81.7,105.5 82.2,104.9 82.7,104.9 83.2,104.6 83.7,104.6 84.2,105.2 84.7,105.3 85.2,105.6 85.7,104.9 86.2,104.8 86.7,104.5 87.2,105.2 87.7,105.0 88.2,104.6 88.7,105.1 89.2,105.0 89.7,104.2 90.2,105.1 90.7,104.9 91.2,104.8 91.7,104.8 92.2,105.5 92.7,105.5 93.2,105.6 93.7,104.6 94.2,104.8 94.7,105.3 95.2,104.6 95.7,104.7 96.2,104.3 96.7,105.5 97.2,105.2 97.7,104.9 98.2,104.8 98.7,104.5 99.2,104.5 99.7,104.8 100.2,104.4 100.7,105.0 101.2,104.4 101.7,104.2 102.2,104.8 102.7,104.3 103.2,104.5 103.7,104.0 104.2,103.4 104.7,104.2 105.2,103.6 105.7,104.4 106.2,103.5 106.7,103.3 107.2,104.0 107.7,104.0 108.2,104.0 108.7,103.5 109.2,104.3 109.7,103.5 110.2,103.7 110.7,103.6 111.2,103.7 111.7,104.1 112.2,103.6 112.7,103.9 113.2,104.0 113.7,103.2 114.2,103.4 114.7,103.7 115.2,103.6 115.7,103.8 116.2,103.1 116.7,104.0 117.2,104.0 117.7,103.6 118.2,103.2 118.7,103.6 119.2,103.4 119.7,103.7 120.2,103.5 120.7,103.7 121.2,103.3 121.7,103.8 122.2,102.5 122.7,102.9 123.2,103.3 123.7,102.5 124.2,103.3 124.7,102.6 125.2,103.0 125.7,102.6 126.2,102.8 126.7,103.0 127.2,102.9 127.7,102.8 128.2,103.7 128.7,103.0 129.2,102.7 129.7,103.3 130.2,103.3 130.7,103.4 131.2,103.6 131.7,102.7 132.2,103.4 132.7,103.4 133.2,103.0 133.7,103.2 134.2,102.1 134.7,102.9 135.2,103.7 135.7,102.5 136.2,102.9 136.7,103.1 137.2,103.2 137.7,103.6 138.2,102.5 138.7,103.0 139.2,103.3 139.7,102.6 140.2,103.0 140.7,103.6 141.2,103.5 141.7,103.3 142.2,102.2 142.7,103.1 143.2,103.2 143.7,103.1 144.2,103.1 144.7,104.2 145.2,103.1 145.7,102.8 146.2,103.2 146.7,103.0 147.2,103.0 147.7,103.1 148.2,103.3 148.7,103.0 149.2,102.5 149.7,102.8 150.2,102.9 150.7,102.7 151.2,103.2 151.7,103.0 152.2,102.4 152.7,102.8 153.2,103.4 153.7,103.2 154.2,102.7 154.7,103.0 155.2,102.4 155.7,102.1 156.2,102.7" fill="none" stroke="#000" stroke-width="1.0" stroke-linejoin="round"/>
<polyline points="156.6,127.2 157.1,126.9 157.6,127.1 158.1,126.8 158.6,126.8 159.1,126.9 159.6,127.1 160.1,126.9 160.6,127.1 161.1,126.9 161.6,126.9 162.1,127.0 162.6,127.8 163.1,127.2 163.6,127.8 164.1,128.0 164.6,127.7 165.1,128.2 165.6,128.3 166.1,128.2 166.6,128.5 167.1,128.2 167.6,128.0 168.1,128.3 168.6,128.1 169.1,128.0 169.6,128.0 170.1,128.8 170.6,128.2 171.1,128.4 171.6,128.3 172.1,128.5 172.6,128.4 173.1,128.4 173.6,128.3 174.1,128.3 174.6,128.4 175.1,128.7 175.6,129.1 176.1,128.9 176.6,129.1 177.1,128.8 177.6,128.7 178.1,128.5 178.6,128.8 179.1,128.3 179.6,128.7 180.1,129.2 180.6,128.9 181.1,129.1 181.6,128.8 182.1,128.6 182.6,128.8 183.1,128.8 183.6,129.2 184.1,129.3 184.6,128.8 185.1,128.8 185.6,128.9 186.1,128.9 186.6,128.7 187.1,129.0 187.6,129.0 188.1,129.1 188.6,128.7 189.1,129.0 189.6,128.6 190.1,129.2 190.6,128.8 191.1,128.9 191.6,128.9 192.1,128.9 192.6,128.8 193.1,128.6 193.6,129.4 194.1,129.1 194.6,129.1 195.1,129.5 195.6,129.0 196.1,129.2 196.6,129.1 197.1,129.3 197.6,129.2 198.1,129.1 198.6,129.0 199.1,129.1 199.6,129.3 200.1,128.6 200.6,129.0 201.1,129.0 201.6,129.0 202.1,128.6 202.6,129.2 203.1,128.9 203.6,129.0 204.1,129.0 204.6,128.7 205.1,129.0 205.6,128.7 206.1,128.9 206.6,129.0 207.1,129.1 207.6,129.1" fill="none" stroke="#000" stroke-width="0.85" stroke-linejoin="round"/>
<polyline points="54.2,118.4 54.7,118.5 55.2,117.5 55.7,116.4 56.2,116.2 56.7,115.8 57.2,115.5 57.7,115.1 58.2,114.7 58.7,115.2 59.2,114.4 59.7,114.0 60.2,113.8 60.7,113.6 61.2,114.0 61.7,113.5 62.2,113.6 62.7,112.1 63.2,113.0 63.7,113.1 64.2,113.3 64.7,112.7 65.2,112.0 65.7,112.6 66.2,112.1 66.7,111.7 67.2,112.0 67.7,112.4 68.2,112.2 68.7,112.1 69.2,111.4 69.7,112.4 70.2,111.3 70.7,111.6 71.2,111.2 71.7,111.9 72.2,111.7 72.7,111.8 73.2,111.4 73.7,111.3 74.2,111.3 74.7,110.7 75.2,111.4 75.7,111.4 76.2,111.0 76.7,111.1 77.2,111.2 77.7,111.5 78.2,111.1 78.7,111.0 79.2,110.9 79.7,110.6 80.2,110.8 80.7,110.9 81.2,110.8 81.7,110.8 82.2,111.0 82.7,110.8 83.2,110.7 83.7,110.8 84.2,110.7 84.7,110.7 85.2,110.8 85.7,110.2 86.2,111.0 86.7,110.2 87.2,110.9 87.7,110.6 88.2,110.9 88.7,110.5 89.2,110.2 89.7,110.7 90.2,110.4 90.7,110.5 91.2,110.5 91.7,110.7 92.2,110.7 92.7,110.5 93.2,110.0 93.7,110.3 94.2,110.5 94.7,110.9 95.2,110.4 95.7,110.3 96.2,110.6 96.7,110.1 97.2,110.2 97.7,110.1 98.2,109.6 98.7,110.3 99.2,110.1 99.7,109.9 100.2,109.7 100.7,110.0 101.2,110.3 101.7,109.7 102.2,109.5 102.7,109.8 103.2,109.2 103.7,108.9 104.2,109.4 104.7,109.3 105.2,109.4 105.7,109.2 106.2,109.5 106.7,109.3 107.2,109.2 107.7,109.1 108.2,109.4 108.7,109.6 109.2,109.6 109.7,109.6 110.2,108.4 110.7,109.0 111.2,109.2 111.7,109.4 112.2,108.8 112.7,109.7 113.2,109.5 113.7,109.2 114.2,109.4 114.7,109.3 115.2,109.2 115.7,109.5 116.2,109.2 116.7,108.9 117.2,109.1 117.7,109.3 118.2,109.0 118.7,109.7 119.2,109.0 119.7,109.7 120.2,109.4 120.7,108.8 121.2,109.1 121.7,109.4 122.2,109.0 122.7,108.7 123.2,109.0 123.7,109.5 124.2,108.5 124.7,109.1 125.2,109.0 125.7,108.9 126.2,108.8 126.7,108.8 127.2,109.1 127.7,109.0 128.2,108.5 128.7,109.2 129.2,108.3 129.7,108.8 130.2,108.7 130.7,108.9 131.2,108.7 131.7,108.9 132.2,108.6 132.7,108.9 133.2,108.7 133.7,109.3 134.2,108.4 134.7,108.9 135.2,108.6 135.7,108.5 136.2,108.3 136.7,108.5 137.2,108.0 137.7,108.1 138.2,108.7 138.7,108.1 139.2,109.0 139.7,108.6 140.2,108.7 140.7,108.7 141.2,108.8 141.7,108.5 142.2,108.5 142.7,108.5 143.2,108.8 143.7,108.8 144.2,108.8 144.7,108.5 145.2,108.4 145.7,107.9 146.2,108.6 146.7,108.7 147.2,108.4 147.7,108.8 148.2,108.9 148.7,108.5 149.2,108.8 149.7,108.5 150.2,107.8 150.7,108.2 151.2,108.2 151.7,108.5 152.2,108.0 152.7,108.1 153.2,107.9 153.7,108.2 154.2,108.3 154.7,108.6 155.2,108.5 155.7,108.4 156.2,108.3" fill="none" stroke="#000" stroke-width="1.0" stroke-linejoin="round"/>
<polyline points="156.6,128.2 157.1,128.0 157.6,127.5 158.1,127.4 158.6,127.9 159.1,127.5 159.6,127.7 160.1,128.0 160.6,127.9 161.1,128.1 161.6,127.9 162.1,128.2 162.6,128.4 163.1,128.3 163.6,127.8 164.1,128.5 164.6,128.4 165.1,128.2 165.6,128.7 166.1,128.1 166.6,128.9 167.1,128.4 167.6,128.9 168.1,128.6 168.6,128.4 169.1,128.7 169.6,128.8 170.1,128.8 170.6,129.0 171.1,128.6 171.6,128.9 172.1,129.0 172.6,128.8 173.1,128.6 173.6,128.7 174.1,129.1 174.6,129.1 175.1,128.7 175.6,128.6 176.1,129.2 176.6,128.6 177.1,129.0 177.6,128.8 178.1,128.6 178.6,129.0 179.1,129.0 179.6,129.3 180.1,129.5 180.6,129.0 181.1,129.3 181.6,129.3 182.1,129.0 182.6,128.9 183.1,129.4 183.6,129.0 184.1,129.1 184.6,129.0 185.1,129.1 185.6,129.0 186.1,129.3 186.6,129.4 187.1,129.1 187.6,128.8 188.1,129.2 188.6,128.8 189.1,129.0 189.6,129.4 190.1,129.7 190.6,129.2 191.1,128.9 191.6,129.3 192.1,128.7 192.6,129.0 193.1,129.5 193.6,129.3 194.1,128.9 194.6,128.8 195.1,129.4 195.6,129.2 196.1,129.1 196.6,129.3 197.1,129.1 197.6,128.8 198.1,129.4 198.6,129.1 199.1,129.0 199.6,128.9 200.1,129.3 200.6,129.0 201.1,129.3 201.6,129.2 202.1,129.5 202.6,129.1 203.1,129.1 203.6,128.8 204.1,129.0 204.6,129.4 205.1,129.9 205.6,128.9 206.1,129.0 206.6,129.3 207.1,129.3 207.6,129.1" fill="none" stroke="#000" stroke-width="0.85" stroke-linejoin="round"/>
<polyline points="54.2,122.1 54.7,121.2 55.2,121.1 55.7,121.0 56.2,120.7 56.7,119.8 57.2,119.5 57.7,119.4 58.2,119.3 58.7,118.8 59.2,118.2 59.7,118.3 60.2,118.3 60.7,117.6 61.2,117.2 61.7,117.5 62.2,117.4 62.7,117.3 63.2,117.0 63.7,116.7 64.2,116.7 64.7,116.4 65.2,116.4 65.7,116.4 66.2,116.3 66.7,116.7 67.2,116.1 67.7,116.4 68.2,116.2 68.7,116.7 69.2,116.3 69.7,116.1 70.2,116.4 70.7,116.2 71.2,116.0 71.7,116.5 72.2,116.3 72.7,116.5 73.2,116.4 73.7,116.3 74.2,116.1 74.7,115.7 75.2,116.2 75.7,116.0 76.2,116.1 76.7,115.9 77.2,115.7 77.7,115.5 78.2,115.9 78.7,115.9 79.2,115.6 79.7,115.7 80.2,115.9 80.7,115.3 81.2,115.4 81.7,115.2 82.2,115.8 82.7,115.5 83.2,115.3 83.7,114.9 84.2,115.3 84.7,115.6 85.2,115.3 85.7,115.2 86.2,115.5 86.7,114.9 87.2,115.3 87.7,115.5 88.2,115.1 88.7,115.0 89.2,115.3 89.7,115.1 90.2,115.1 90.7,115.3 91.2,115.3 91.7,115.0 92.2,115.1 92.7,115.4 93.2,115.6 93.7,115.7 94.2,115.1 94.7,115.6 95.2,115.5 95.7,115.2 96.2,115.3 96.7,115.4 97.2,115.6 97.7,114.8 98.2,115.2 98.7,115.0 99.2,115.0 99.7,115.4 100.2,115.3 100.7,114.8 101.2,114.9 101.7,114.9 102.2,114.5 102.7,115.0 103.2,114.7 103.7,114.7 104.2,114.7 104.7,115.1 105.2,114.6 105.7,114.4 106.2,115.0 106.7,114.4 107.2,114.4 107.7,114.1 108.2,114.8 108.7,114.5 109.2,114.6 109.7,114.5 110.2,114.3 110.7,114.2 111.2,114.1 111.7,114.5 112.2,114.4 112.7,114.7 113.2,114.1 113.7,114.2 114.2,114.1 114.7,114.7 115.2,114.0 115.7,114.5 116.2,114.7 116.7,114.3 117.2,114.5 117.7,113.7 118.2,114.2 118.7,113.8 119.2,114.3 119.7,114.2 120.2,114.0 120.7,114.5 121.2,114.3 121.7,114.1 122.2,114.1 122.7,113.9 123.2,114.3 123.7,114.9 124.2,114.1 124.7,114.3 125.2,114.1 125.7,114.5 126.2,114.3 126.7,114.1 127.2,113.8 127.7,114.0 128.2,114.5 128.7,114.1 129.2,114.3 129.7,114.0 130.2,113.7 130.7,114.2 131.2,114.2 131.7,113.9 132.2,114.0 132.7,114.1 133.2,113.9 133.7,114.1 134.2,113.9 134.7,113.4 135.2,114.0 135.7,113.8 136.2,113.7 136.7,114.0 137.2,113.8 137.7,113.9 138.2,114.1 138.7,113.8 139.2,113.4 139.7,113.5 140.2,113.9 140.7,113.6 141.2,113.5 141.7,113.7 142.2,113.8 142.7,113.7 143.2,113.9 143.7,113.5 144.2,113.6 144.7,113.6 145.2,113.7 145.7,113.1 146.2,113.6 146.7,113.3 147.2,114.0 147.7,114.1 148.2,114.2 148.7,113.9 149.2,113.6 149.7,114.0 150.2,113.6 150.7,113.9 151.2,113.5 151.7,113.4 152.2,113.6 152.7,114.0 153.2,113.5 153.7,114.1 154.2,114.2 154.7,113.2 155.2,113.5 155.7,113.2 156.2,113.4" fill="none" stroke="#000" stroke-width="1.0" stroke-linejoin="round"/>
<polyline points="156.6,128.6 157.1,128.8 157.6,128.3 158.1,128.7 158.6,128.6 159.1,128.3 159.6,128.5 160.1,128.5 160.6,128.7 161.1,128.8 161.6,128.4 162.1,128.4 162.6,129.0 163.1,128.8 163.6,128.9 164.1,128.9 164.6,129.2 165.1,128.6 165.6,129.1 166.1,128.7 166.6,129.1 167.1,129.3 167.6,128.7 168.1,129.1 168.6,129.0 169.1,129.0 169.6,129.1 170.1,128.8 170.6,128.9 171.1,129.2 171.6,129.3 172.1,129.0 172.6,128.8 173.1,129.7 173.6,129.4 174.1,129.3 174.6,129.0 175.1,129.1 175.6,129.3 176.1,129.0 176.6,129.6 177.1,129.3 177.6,129.3 178.1,129.0 178.6,129.1 179.1,129.1 179.6,129.3 180.1,129.2 180.6,129.2 181.1,129.4 181.6,129.3 182.1,129.6 182.6,129.3 183.1,129.1 183.6,129.3 184.1,129.6 184.6,129.2 185.1,129.3 185.6,129.2 186.1,129.4 186.6,129.4 187.1,129.2 187.6,129.3 188.1,129.5 188.6,129.6 189.1,129.5 189.6,129.5 190.1,129.3 190.6,129.3 191.1,129.6 191.6,129.1 192.1,129.3 192.6,129.0 193.1,129.3 193.6,129.2 194.1,129.1 194.6,129.5 195.1,129.2 195.6,129.3 196.1,129.3 196.6,129.2 197.1,129.7 197.6,129.3 198.1,129.4 198.6,129.1 199.1,129.3 199.6,129.3 200.1,129.3 200.6,129.2 201.1,129.4 201.6,129.7 202.1,129.3 202.6,129.3 203.1,129.3 203.6,129.9 204.1,129.7 204.6,129.5 205.1,129.5 205.6,129.2 206.1,129.4 206.6,129.4 207.1,129.4 207.6,129.2" fill="none" stroke="#000" stroke-width="0.85" stroke-linejoin="round"/>
<polyline points="54.2,125.6 54.7,125.5 55.2,125.0 55.7,124.2 56.2,124.3 56.7,124.3 57.2,123.6 57.7,123.5 58.2,122.9 58.7,123.2 59.2,122.6 59.7,122.4 60.2,122.5 60.7,122.9 61.2,122.2 61.7,121.9 62.2,122.2 62.7,122.0 63.2,122.2 63.7,121.5 64.2,121.4 64.7,121.5 65.2,121.6 65.7,121.5 66.2,121.7 66.7,121.0 67.2,121.1 67.7,121.2 68.2,121.4 68.7,121.3 69.2,121.1 69.7,120.9 70.2,121.2 70.7,121.2 71.2,121.5 71.7,120.8 72.2,121.2 72.7,120.6 73.2,120.8 73.7,120.7 74.2,120.7 74.7,120.6 75.2,120.6 75.7,120.7 76.2,120.6 76.7,120.8 77.2,120.6 77.7,120.6 78.2,120.9 78.7,120.6 79.2,120.6 79.7,120.5 80.2,120.5 80.7,120.6 81.2,120.3 81.7,120.7 82.2,120.8 82.7,120.7 83.2,120.2 83.7,120.0 84.2,120.2 84.7,120.4 85.2,120.5 85.7,120.3 86.2,120.3 86.7,120.7 87.2,120.2 87.7,120.6 88.2,120.5 88.7,120.0 89.2,120.4 89.7,120.2 90.2,120.1 90.7,120.0 91.2,120.0 91.7,120.4 92.2,120.2 92.7,120.3 93.2,120.0 93.7,120.2 94.2,120.2 94.7,119.8 95.2,119.8 95.7,120.2 96.2,120.2 96.7,119.9 97.2,120.1 97.7,120.2 98.2,120.5 98.7,119.9 99.2,120.2 99.7,120.5 100.2,120.1 100.7,120.3 101.2,119.4 101.7,120.3 102.2,119.9 102.7,119.5 103.2,120.1 103.7,120.2 104.2,120.2 104.7,120.1 105.2,119.9 105.7,119.7 106.2,119.8 106.7,119.8 107.2,119.9 107.7,119.6 108.2,119.8 108.7,120.0 109.2,119.8 109.7,120.2 110.2,120.2 110.7,119.4 111.2,119.6 111.7,119.4 112.2,119.5 112.7,119.9 113.2,119.5 113.7,119.5 114.2,119.7 114.7,120.0 115.2,119.7 115.7,119.7 116.2,120.0 116.7,119.9 117.2,119.9 117.7,119.9 118.2,119.5 118.7,119.8 119.2,119.5 119.7,119.9 120.2,119.9 120.7,119.5 121.2,120.0 121.7,119.4 122.2,119.9 122.7,119.7 123.2,119.4 123.7,119.4 124.2,119.5 124.7,119.5 125.2,119.4 125.7,119.7 126.2,119.2 126.7,119.5 127.2,119.5 127.7,119.1 128.2,119.6 128.7,119.2 129.2,119.0 129.7,119.4 130.2,119.5 130.7,119.8 131.2,119.4 131.7,119.8 132.2,119.8 132.7,119.7 133.2,119.7 133.7,119.4 134.2,119.2 134.7,119.5 135.2,119.6 135.7,119.4 136.2,119.3 136.7,119.0 137.2,119.5 137.7,119.4 138.2,119.0 138.7,119.4 139.2,119.5 139.7,119.3 140.2,119.5 140.7,119.5 141.2,119.0 141.7,119.3 142.2,119.4 142.7,119.5 143.2,119.7 143.7,118.9 144.2,119.3 144.7,119.5 145.2,119.6 145.7,119.7 146.2,119.0 146.7,119.1 147.2,119.0 147.7,119.3 148.2,118.8 148.7,119.4 149.2,119.3 149.7,119.2 150.2,118.7 150.7,118.9 151.2,119.2 151.7,118.7 152.2,118.9 152.7,118.9 153.2,119.1 153.7,119.0 154.2,119.0 154.7,118.8 155.2,118.9 155.7,118.9 156.2,119.1" fill="none" stroke="#000" stroke-width="0.8" stroke-linejoin="round"/>
<polyline points="156.6,129.4 157.1,129.0 157.6,128.8 158.1,129.1 158.6,128.8 159.1,129.2 159.6,128.9 160.1,129.1 160.6,129.1 161.1,129.1 161.6,129.1 162.1,129.0 162.6,129.2 163.1,129.1 163.6,129.3 164.1,129.2 164.6,128.8 165.1,129.3 165.6,129.6 166.1,129.4 166.6,129.4 167.1,129.4 167.6,129.2 168.1,129.0 168.6,129.5 169.1,129.6 169.6,129.5 170.1,129.5 170.6,129.5 171.1,129.4 171.6,129.4 172.1,129.4 172.6,129.5 173.1,129.2 173.6,129.3 174.1,129.5 174.6,129.4 175.1,128.9 175.6,129.5 176.1,129.0 176.6,129.8 177.1,129.6 177.6,129.6 178.1,129.3 178.6,129.2 179.1,129.4 179.6,129.5 180.1,129.3 180.6,129.5 181.1,129.6 181.6,129.6 182.1,129.3 182.6,129.0 183.1,129.5 183.6,129.3 184.1,129.6 184.6,129.8 185.1,129.8 185.6,129.6 186.1,129.7 186.6,129.8 187.1,129.5 187.6,129.6 188.1,129.7 188.6,129.5 189.1,129.4 189.6,129.3 190.1,129.5 190.6,129.4 191.1,129.7 191.6,129.4 192.1,129.8 192.6,129.8 193.1,129.3 193.6,129.7 194.1,129.4 194.6,129.8 195.1,129.6 195.6,129.5 196.1,129.7 196.6,129.4 197.1,129.6 197.6,129.6 198.1,129.5 198.6,129.6 199.1,129.3 199.6,129.6 200.1,129.3 200.6,129.7 201.1,129.6 201.6,129.7 202.1,129.4 202.6,130.2 203.1,129.5 203.6,129.6 204.1,129.4 204.6,129.8 205.1,129.4 205.6,129.7 206.1,129.3 206.6,129.6 207.1,129.5 207.6,129.7" fill="none" stroke="#000" stroke-width="0.85" stroke-linejoin="round"/>
<polyline points="54.2,128.0 54.7,127.5 55.2,127.4 55.7,126.9 56.2,126.7 56.7,126.8 57.2,126.1 57.7,126.4 58.2,126.1 58.7,125.8 59.2,125.8 59.7,125.7 60.2,125.4 60.7,125.3 61.2,125.4 61.7,125.3 62.2,125.0 62.7,124.8 63.2,124.6 63.7,124.7 64.2,124.8 64.7,124.8 65.2,124.7 65.7,124.9 66.2,124.4 66.7,124.4 67.2,124.3 67.7,124.7 68.2,123.8 68.7,124.2 69.2,124.2 69.7,124.1 70.2,124.6 70.7,124.3 71.2,124.2 71.7,123.8 72.2,124.1 72.7,123.9 73.2,124.0 73.7,124.1 74.2,123.9 74.7,124.1 75.2,124.3 75.7,124.1 76.2,123.9 76.7,123.5 77.2,124.1 77.7,124.1 78.2,123.8 78.7,123.8 79.2,124.0 79.7,123.8 80.2,124.1 80.7,123.7 81.2,123.7 81.7,123.9 82.2,123.6 82.7,123.8 83.2,123.9 83.7,123.5 84.2,123.9 84.7,123.6 85.2,123.8 85.7,123.7 86.2,123.6 86.7,123.5 87.2,123.3 87.7,123.5 88.2,123.5 88.7,123.9 89.2,123.7 89.7,123.3 90.2,123.6 90.7,123.5 91.2,123.4 91.7,123.6 92.2,123.6 92.7,123.4 93.2,123.4 93.7,123.5 94.2,123.3 94.7,123.6 95.2,123.5 95.7,123.4 96.2,123.4 96.7,123.6 97.2,123.7 97.7,123.6 98.2,123.3 98.7,123.6 99.2,123.5 99.7,123.6 100.2,123.7 100.7,123.4 101.2,123.5 101.7,123.4 102.2,123.3 102.7,123.8 103.2,123.6 103.7,123.1 104.2,123.5 104.7,123.2 105.2,123.5 105.7,123.3 106.2,123.2 106.7,123.3 107.2,123.3 107.7,123.3 108.2,123.2 108.7,123.2 109.2,123.3 109.7,123.0 110.2,123.2 110.7,123.1 111.2,123.0 111.7,123.2 112.2,122.9 112.7,123.1 113.2,123.0 113.7,123.2 114.2,123.0 114.7,123.0 115.2,123.2 115.7,122.8 116.2,123.1 116.7,123.0 117.2,123.1 117.7,123.1 118.2,123.3 118.7,123.2 119.2,123.4 119.7,123.1 120.2,122.9 120.7,122.9 121.2,123.2 121.7,123.4 122.2,123.1 122.7,122.9 123.2,123.1 123.7,123.0 124.2,123.0 124.7,122.9 125.2,122.6 125.7,123.0 126.2,123.3 126.7,123.2 127.2,122.7 127.7,123.0 128.2,122.7 128.7,123.5 129.2,123.1 129.7,122.9 130.2,123.3 130.7,122.9 131.2,123.1 131.7,123.0 132.2,122.8 132.7,123.1 133.2,122.8 133.7,123.3 134.2,123.0 134.7,122.8 135.2,122.6 135.7,123.3 136.2,123.2 136.7,122.7 137.2,123.1 137.7,122.9 138.2,122.8 138.7,122.8 139.2,122.7 139.7,123.1 140.2,122.8 140.7,122.4 141.2,123.2 141.7,122.9 142.2,122.5 142.7,122.6 143.2,122.6 143.7,122.7 144.2,122.8 144.7,122.8 145.2,122.7 145.7,122.6 146.2,122.9 146.7,122.7 147.2,123.2 147.7,122.6 148.2,123.0 148.7,122.7 149.2,122.6 149.7,123.0 150.2,122.7 150.7,122.5 151.2,122.6 151.7,122.9 152.2,122.5 152.7,123.0 153.2,122.8 153.7,122.6 154.2,122.9 154.7,123.0 155.2,122.8 155.7,122.7 156.2,122.9" fill="none" stroke="#000" stroke-width="0.8" stroke-linejoin="round"/>
<polyline points="156.6,129.0 157.1,129.5 157.6,129.7 158.1,129.5 158.6,129.4 159.1,129.7 159.6,130.0 160.1,129.6 160.6,129.5 161.1,129.4 161.6,130.1 162.1,129.6 162.6,129.8 163.1,129.9 163.6,129.9 164.1,129.4 164.6,129.9 165.1,129.8 165.6,129.8 166.1,129.9 166.6,129.5 167.1,129.6 167.6,129.5 168.1,129.8 168.6,129.5 169.1,129.8 169.6,129.4 170.1,129.6 170.6,129.6 171.1,129.6 171.6,129.7 172.1,129.6 172.6,129.6 173.1,129.2 173.6,129.9 174.1,129.5 174.6,129.6 175.1,129.5 175.6,129.9 176.1,129.5 176.6,129.8 177.1,129.9 177.6,130.0 178.1,129.9 178.6,129.8 179.1,129.4 179.6,130.0 180.1,129.9 180.6,129.9 181.1,129.9 181.6,129.7 182.1,129.6 182.6,129.9 183.1,130.0 183.6,129.5 184.1,129.9 184.6,129.7 185.1,129.9 185.6,129.8 186.1,129.9 186.6,129.9 187.1,129.9 187.6,129.4 188.1,129.9 188.6,129.7 189.1,129.5 189.6,129.9 190.1,129.4 190.6,129.9 191.1,130.1 191.6,129.6 192.1,129.9 192.6,129.8 193.1,129.8 193.6,129.4 194.1,129.8 194.6,129.7 195.1,129.9 195.6,129.7 196.1,129.9 196.6,129.8 197.1,129.9 197.6,130.0 198.1,129.7 198.6,129.9 199.1,129.8 199.6,129.8 200.1,129.6 200.6,129.9 201.1,130.0 201.6,129.7 202.1,129.9 202.6,129.8 203.1,129.5 203.6,129.8 204.1,130.0 204.6,129.6 205.1,129.3 205.6,129.8 206.1,129.6 206.6,130.1 207.1,129.7 207.6,129.7" fill="none" stroke="#000" stroke-width="0.85" stroke-linejoin="round"/>
<polyline points="54.2,130.0 54.7,129.9 55.2,129.5 55.7,129.2 56.2,129.2 56.7,128.9 57.2,129.1 57.7,128.5 58.2,128.5 58.7,128.3 59.2,128.0 59.7,128.4 60.2,127.6 60.7,128.2 61.2,127.6 61.7,127.8 62.2,128.1 62.7,127.3 63.2,127.4 63.7,127.8 64.2,127.5 64.7,127.4 65.2,127.4 65.7,127.2 66.2,127.3 66.7,127.5 67.2,127.1 67.7,127.1 68.2,127.3 68.7,127.4 69.2,126.9 69.7,127.1 70.2,126.9 70.7,126.9 71.2,126.9 71.7,126.9 72.2,126.7 72.7,126.6 73.2,126.8 73.7,126.9 74.2,127.1 74.7,126.7 75.2,126.8 75.7,126.9 76.2,126.9 76.7,126.8 77.2,126.8 77.7,127.2 78.2,126.7 78.7,126.7 79.2,126.5 79.7,126.9 80.2,126.7 80.7,127.1 81.2,126.7 81.7,126.8 82.2,126.8 82.7,127.0 83.2,126.4 83.7,126.9 84.2,126.6 84.7,126.6 85.2,126.6 85.7,126.6 86.2,126.6 86.7,126.2 87.2,126.7 87.7,126.5 88.2,126.3 88.7,126.5 89.2,126.9 89.7,126.5 90.2,126.3 90.7,126.7 91.2,126.3 91.7,126.4 92.2,126.3 92.7,126.4 93.2,126.5 93.7,126.5 94.2,126.3 94.7,126.4 95.2,126.4 95.7,126.3 96.2,126.3 96.7,126.1 97.2,126.1 97.7,126.3 98.2,126.0 98.7,126.3 99.2,126.2 99.7,126.0 100.2,126.0 100.7,126.1 101.2,126.1 101.7,126.1 102.2,126.0 102.7,126.0 103.2,126.4 103.7,126.3 104.2,126.1 104.7,126.3 105.2,126.2 105.7,126.1 106.2,126.1 106.7,126.6 107.2,126.3 107.7,126.3 108.2,126.1 108.7,126.3 109.2,126.6 109.7,126.2 110.2,126.3 110.7,126.4 111.2,126.2 111.7,126.4 112.2,126.2 112.7,126.2 113.2,126.0 113.7,126.6 114.2,126.2 114.7,126.1 115.2,126.3 115.7,126.0 116.2,126.1 116.7,125.9 117.2,126.1 117.7,126.0 118.2,126.2 118.7,126.0 119.2,126.0 119.7,126.1 120.2,126.1 120.7,126.1 121.2,126.3 121.7,126.3 122.2,126.2 122.7,125.9 123.2,126.2 123.7,125.9 124.2,126.1 124.7,126.1 125.2,126.0 125.7,125.9 126.2,125.9 126.7,126.5 127.2,126.0 127.7,126.0 128.2,126.2 128.7,126.1 129.2,126.2 129.7,125.8 130.2,125.8 130.7,126.6 131.2,126.0 131.7,125.9 132.2,126.0 132.7,126.1 133.2,125.7 133.7,126.0 134.2,125.9 134.7,126.1 135.2,126.0 135.7,125.8 136.2,125.8 136.7,125.6 137.2,126.2 137.7,125.8 138.2,126.0 138.7,126.3 139.2,125.9 139.7,126.1 140.2,125.9 140.7,126.1 141.2,126.0 141.7,125.8 142.2,126.1 142.7,125.9 143.2,125.7 143.7,125.9 144.2,126.0 144.7,125.7 145.2,126.0 145.7,126.0 146.2,126.3 146.7,125.7 147.2,125.9 147.7,125.4 148.2,125.6 148.7,125.7 149.2,125.8 149.7,125.7 150.2,125.7 150.7,125.6 151.2,125.6 151.7,125.7 152.2,125.8 152.7,125.8 153.2,125.9 153.7,125.9 154.2,125.3 154.7,125.5 155.2,125.6 155.7,125.5 156.2,125.8" fill="none" stroke="#000" stroke-width="0.8" stroke-linejoin="round"/>
<polyline points="156.6,129.8 157.1,130.4 157.6,129.7 158.1,129.9 158.6,130.3 159.1,130.2 159.6,130.6 160.1,130.5 160.6,130.2 161.1,130.2 161.6,129.7 162.1,129.9 162.6,130.0 163.1,130.0 163.6,129.7 164.1,129.8 164.6,129.8 165.1,130.2 165.6,130.1 166.1,129.9 166.6,129.9 167.1,130.0 167.6,129.8 168.1,129.9 168.6,129.6 169.1,130.1 169.6,130.2 170.1,130.0 170.6,130.0 171.1,130.0 171.6,130.4 172.1,130.0 172.6,129.6 173.1,129.7 173.6,130.1 174.1,130.1 174.6,130.1 175.1,130.1 175.6,129.9 176.1,129.6 176.6,129.8 177.1,129.5 177.6,129.8 178.1,129.6 178.6,129.9 179.1,129.9 179.6,129.5 180.1,130.0 180.6,130.0 181.1,129.6 181.6,129.9 182.1,130.0 182.6,129.8 183.1,130.1 183.6,129.9 184.1,130.1 184.6,129.9 185.1,129.8 185.6,130.0 186.1,130.0 186.6,129.9 187.1,129.8 187.6,129.7 188.1,129.8 188.6,129.7 189.1,129.9 189.6,129.9 190.1,129.8 190.6,129.9 191.1,129.9 191.6,130.2 192.1,130.1 192.6,129.7 193.1,129.9 193.6,129.8 194.1,129.8 194.6,129.8 195.1,129.7 195.6,129.6 196.1,129.3 196.6,129.9 197.1,130.1 197.6,129.7 198.1,130.0 198.6,129.8 199.1,129.9 199.6,129.7 200.1,129.8 200.6,129.8 201.1,129.3 201.6,129.9 202.1,129.8 202.6,129.3 203.1,130.0 203.6,129.8 204.1,129.9 204.6,129.9 205.1,129.8 205.6,129.6 206.1,129.8 206.6,129.8 207.1,130.3 207.6,130.2" fill="none" stroke="#000" stroke-width="0.85" stroke-linejoin="round"/>
<polyline points="54.2,131.9 54.7,131.7 55.2,131.7 55.7,131.5 56.2,131.1 56.7,130.9 57.2,131.3 57.7,131.1 58.2,130.5 58.7,130.4 59.2,130.5 59.7,130.6 60.2,130.6 60.7,130.4 61.2,130.1 61.7,130.3 62.2,130.3 62.7,130.2 63.2,130.1 63.7,130.2 64.2,130.0 64.7,129.8 65.2,129.9 65.7,129.6 66.2,130.0 66.7,129.9 67.2,129.6 67.7,129.8 68.2,130.0 68.7,129.4 69.2,129.7 69.7,130.0 70.2,129.4 70.7,129.6 71.2,129.4 71.7,129.6 72.2,129.2 72.7,129.3 73.2,129.5 73.7,129.6 74.2,129.6 74.7,129.6 75.2,129.7 75.7,129.6 76.2,129.6 76.7,129.4 77.2,129.4 77.7,129.9 78.2,129.7 78.7,129.5 79.2,129.4 79.7,129.4 80.2,129.2 80.7,129.6 81.2,129.2 81.7,129.3 82.2,129.6 82.7,128.9 83.2,129.4 83.7,129.0 84.2,129.2 84.7,129.3 85.2,129.3 85.7,129.4 86.2,129.2 86.7,129.3 87.2,129.1 87.7,129.3 88.2,129.1 88.7,129.5 89.2,129.1 89.7,129.5 90.2,129.3 90.7,129.3 91.2,129.5 91.7,129.4 92.2,129.0 92.7,129.4 93.2,128.9 93.7,129.4 94.2,129.3 94.7,129.1 95.2,129.3 95.7,129.2 96.2,129.6 96.7,129.2 97.2,129.5 97.7,129.5 98.2,129.2 98.7,129.1 99.2,129.5 99.7,129.2 100.2,129.3 100.7,129.2 101.2,129.1 101.7,129.2 102.2,129.1 102.7,129.0 103.2,129.2 103.7,129.5 104.2,129.4 104.7,129.1 105.2,129.2 105.7,129.2 106.2,129.3 106.7,129.2 107.2,129.0 107.7,129.0 108.2,129.2 108.7,129.5 109.2,128.9 109.7,128.7 110.2,129.2 110.7,129.0 111.2,129.0 111.7,129.2 112.2,129.0 112.7,128.7 113.2,128.6 113.7,128.9 114.2,128.7 114.7,128.9 115.2,128.7 115.7,128.9 116.2,128.7 116.7,128.9 117.2,128.9 117.7,129.1 118.2,129.2 118.7,129.0 119.2,128.8 119.7,129.3 120.2,129.1 120.7,129.1 121.2,129.1 121.7,129.2 122.2,129.1 122.7,129.1 123.2,129.1 123.7,128.9 124.2,128.9 124.7,129.0 125.2,129.1 125.7,129.1 126.2,129.1 126.7,129.1 127.2,129.0 127.7,128.8 128.2,129.2 128.7,129.2 129.2,128.9 129.7,129.2 130.2,129.2 130.7,129.1 131.2,128.7 131.7,128.9 132.2,128.9 132.7,129.3 133.2,128.8 133.7,129.0 134.2,128.8 134.7,128.9 135.2,129.1 135.7,128.6 136.2,128.5 136.7,129.0 137.2,128.9 137.7,128.8 138.2,129.0 138.7,129.0 139.2,128.5 139.7,128.8 140.2,129.0 140.7,128.6 141.2,128.7 141.7,129.0 142.2,128.7 142.7,128.6 143.2,128.7 143.7,128.6 144.2,128.9 144.7,128.5 145.2,129.0 145.7,128.5 146.2,128.8 146.7,128.5 147.2,128.7 147.7,128.9 148.2,128.9 148.7,129.0 149.2,128.8 149.7,128.7 150.2,128.7 150.7,128.8 151.2,128.6 151.7,128.9 152.2,128.8 152.7,128.9 153.2,128.8 153.7,128.8 154.2,128.6 154.7,128.7 155.2,128.5 155.7,128.7 156.2,128.7" fill="none" stroke="#000" stroke-width="0.8" stroke-linejoin="round"/>
<polyline points="156.6,130.8 157.1,131.1 157.6,130.7 158.1,130.4 158.6,130.7 159.1,130.7 159.6,130.7 160.1,130.8 160.6,130.8 161.1,130.0 161.6,130.8 162.1,130.4 162.6,130.3 163.1,130.7 163.6,130.4 164.1,130.1 164.6,130.1 165.1,130.4 165.6,130.5 166.1,130.7 166.6,130.3 167.1,130.2 167.6,130.6 168.1,130.2 168.6,130.6 169.1,130.3 169.6,130.3 170.1,130.2 170.6,130.3 171.1,130.1 171.6,130.0 172.1,130.2 172.6,130.0 173.1,130.2 173.6,130.2 174.1,130.1 174.6,130.1 175.1,130.1 175.6,130.5 176.1,130.1 176.6,130.0 177.1,130.0 177.6,130.2 178.1,130.1 178.6,130.1 179.1,130.0 179.6,130.1 180.1,130.2 180.6,130.2 181.1,129.7 181.6,129.8 182.1,129.5 182.6,130.2 183.1,130.3 183.6,130.3 184.1,130.1 184.6,130.3 185.1,130.0 185.6,130.0 186.1,129.7 186.6,129.9 187.1,129.9 187.6,130.2 188.1,130.4 188.6,129.9 189.1,130.1 189.6,130.1 190.1,129.9 190.6,129.6 191.1,129.9 191.6,129.7 192.1,130.0 192.6,130.0 193.1,130.0 193.6,130.0 194.1,130.1 194.6,129.8 195.1,130.2 195.6,129.6 196.1,130.0 196.6,130.1 197.1,129.8 197.6,129.7 198.1,130.1 198.6,129.9 199.1,130.2 199.6,130.2 200.1,130.0 200.6,130.0 201.1,130.2 201.6,130.1 202.1,129.8 202.6,130.0 203.1,130.1 203.6,130.0 204.1,130.0 204.6,130.0 205.1,130.0 205.6,129.8 206.1,129.7 206.6,130.2 207.1,129.9 207.6,130.0" fill="none" stroke="#000" stroke-width="0.85" stroke-linejoin="round"/>
<polyline points="54.2,133.3 54.7,133.4 55.2,133.2 55.7,133.6 56.2,132.9 56.7,132.8 57.2,133.0 57.7,132.9 58.2,132.3 58.7,132.6 59.2,132.7 59.7,132.3 60.2,132.5 60.7,132.3 61.2,132.1 61.7,132.2 62.2,132.1 62.7,131.9 63.2,132.4 63.7,131.9 64.2,131.8 64.7,132.0 65.2,131.8 65.7,132.0 66.2,131.7 66.7,131.8 67.2,131.7 67.7,131.7 68.2,131.7 68.7,131.7 69.2,131.9 69.7,131.6 70.2,131.6 70.7,131.6 71.2,131.7 71.7,131.7 72.2,131.8 72.7,131.4 73.2,131.7 73.7,131.6 74.2,131.6 74.7,131.7 75.2,131.3 75.7,131.7 76.2,131.7 76.7,131.4 77.2,131.6 77.7,131.9 78.2,131.6 78.7,131.7 79.2,131.6 79.7,131.5 80.2,131.5 80.7,131.5 81.2,131.8 81.7,131.7 82.2,131.4 82.7,131.7 83.2,131.5 83.7,131.4 84.2,131.6 84.7,131.3 85.2,131.3 85.7,131.7 86.2,131.2 86.7,131.5 87.2,131.2 87.7,131.4 88.2,131.4 88.7,131.4 89.2,131.1 89.7,131.3 90.2,131.4 90.7,131.2 91.2,131.4 91.7,131.5 92.2,131.3 92.7,131.4 93.2,131.2 93.7,131.4 94.2,131.5 94.7,131.8 95.2,131.5 95.7,131.4 96.2,131.6 96.7,131.2 97.2,131.5 97.7,131.3 98.2,131.3 98.7,131.6 99.2,131.4 99.7,131.6 100.2,131.3 100.7,131.5 101.2,131.4 101.7,131.4 102.2,131.1 102.7,131.6 103.2,131.4 103.7,131.3 104.2,131.1 104.7,131.2 105.2,131.6 105.7,131.4 106.2,131.4 106.7,131.5 107.2,131.4 107.7,131.5 108.2,131.5 108.7,131.4 109.2,131.5 109.7,131.2 110.2,131.5 110.7,131.4 111.2,131.4 111.7,131.4 112.2,131.3 112.7,131.4 113.2,131.6 113.7,131.4 114.2,131.3 114.7,131.6 115.2,131.6 115.7,131.4 116.2,131.4 116.7,131.3 117.2,131.4 117.7,131.6 118.2,131.5 118.7,131.4 119.2,131.4 119.7,131.1 120.2,131.4 120.7,131.4 121.2,131.5 121.7,131.6 122.2,131.4 122.7,131.4 123.2,131.1 123.7,131.5 124.2,131.4 124.7,131.5 125.2,131.3 125.7,131.3 126.2,131.5 126.7,131.2 127.2,131.4 127.7,131.4 128.2,131.1 128.7,131.1 129.2,131.3 129.7,131.3 130.2,131.3 130.7,131.3 131.2,131.1 131.7,131.2 132.2,131.3 132.7,131.1 133.2,131.1 133.7,131.0 134.2,131.2 134.7,131.4 135.2,130.9 135.7,131.2 136.2,131.3 136.7,131.0 137.2,131.1 137.7,131.0 138.2,131.0 138.7,131.2 139.2,131.2 139.7,131.1 140.2,131.2 140.7,131.2 141.2,131.0 141.7,131.4 142.2,131.4 142.7,131.1 143.2,131.4 143.7,131.2 144.2,131.1 144.7,131.4 145.2,130.8 145.7,130.9 146.2,131.2 146.7,131.0 147.2,130.9 147.7,131.3 148.2,131.2 148.7,130.9 149.2,131.0 149.7,131.2 150.2,131.4 150.7,130.8 151.2,131.2 151.7,131.1 152.2,130.9 152.7,131.1 153.2,130.8 153.7,131.0 154.2,131.3 154.7,131.2 155.2,131.3 155.7,131.2 156.2,131.1" fill="none" stroke="#000" stroke-width="0.8" stroke-linejoin="round"/>
<polyline points="156.6,131.3 157.1,130.7 157.6,131.2 158.1,130.9 158.6,131.4 159.1,131.4 159.6,131.2 160.1,131.3 160.6,131.1 161.1,131.1 161.6,131.4 162.1,131.2 162.6,130.8 163.1,130.7 163.6,130.8 164.1,130.7 164.6,130.8 165.1,130.6 165.6,130.9 166.1,130.7 166.6,130.7 167.1,130.6 167.6,130.8 168.1,130.3 168.6,130.9 169.1,130.6 169.6,130.6 170.1,130.7 170.6,130.7 171.1,130.6 171.6,130.5 172.1,130.4 172.6,130.1 173.1,130.5 173.6,130.3 174.1,130.3 174.6,130.9 175.1,130.0 175.6,130.4 176.1,130.6 176.6,130.6 177.1,130.6 177.6,130.1 178.1,130.1 178.6,130.5 179.1,130.2 179.6,130.7 180.1,130.4 180.6,130.3 181.1,130.4 181.6,130.2 182.1,130.3 182.6,130.1 183.1,130.3 183.6,130.2 184.1,130.3 184.6,129.9 185.1,129.9 185.6,130.3 186.1,130.3 186.6,130.0 187.1,130.2 187.6,130.0 188.1,130.7 188.6,129.9 189.1,130.6 189.6,130.0 190.1,130.3 190.6,130.2 191.1,130.1 191.6,130.4 192.1,130.4 192.6,130.1 193.1,130.0 193.6,130.7 194.1,130.5 194.6,130.2 195.1,130.1 195.6,130.3 196.1,130.2 196.6,130.5 197.1,130.0 197.6,130.2 198.1,130.0 198.6,130.5 199.1,130.6 199.6,130.2 200.1,130.3 200.6,130.5 201.1,130.1 201.6,130.0 202.1,130.4 202.6,130.3 203.1,130.1 203.6,130.5 204.1,130.2 204.6,129.8 205.1,130.3 205.6,130.2 206.1,130.6 206.6,130.2 207.1,130.1 207.6,130.3" fill="none" stroke="#000" stroke-width="0.85" stroke-linejoin="round"/>
<polyline points="54.2,134.4 54.7,134.1 55.2,134.2 55.7,134.0 56.2,134.2 56.7,134.3 57.2,133.7 57.7,133.7 58.2,133.6 58.7,133.6 59.2,133.6 59.7,133.6 60.2,133.8 60.7,133.3 61.2,133.2 61.7,133.1 62.2,133.5 62.7,133.5 63.2,133.1 63.7,133.1 64.2,133.3 64.7,133.4 65.2,133.4 65.7,133.2 66.2,133.3 66.7,133.2 67.2,133.1 67.7,133.4 68.2,133.2 68.7,133.0 69.2,133.1 69.7,133.0 70.2,133.2 70.7,133.3 71.2,133.0 71.7,133.3 72.2,133.4 72.7,133.2 73.2,133.0 73.7,133.0 74.2,133.1 74.7,132.9 75.2,133.0 75.7,133.1 76.2,133.1 76.7,133.3 77.2,133.0 77.7,133.5 78.2,133.3 78.7,133.3 79.2,133.0 79.7,133.3 80.2,133.0 80.7,133.3 81.2,133.2 81.7,132.9 82.2,133.0 82.7,133.3 83.2,133.1 83.7,132.9 84.2,133.0 84.7,133.0 85.2,132.9 85.7,132.9 86.2,132.9 86.7,132.9 87.2,133.0 87.7,132.8 88.2,133.0 88.7,133.0 89.2,133.0 89.7,133.1 90.2,133.2 90.7,133.1 91.2,133.1 91.7,133.0 92.2,133.1 92.7,132.9 93.2,133.1 93.7,133.2 94.2,133.1 94.7,133.1 95.2,132.9 95.7,133.2 96.2,132.9 96.7,133.0 97.2,133.0 97.7,133.1 98.2,132.9 98.7,132.8 99.2,132.7 99.7,132.9 100.2,132.8 100.7,132.9 101.2,133.1 101.7,132.5 102.2,132.6 102.7,132.9 103.2,133.0 103.7,132.9 104.2,132.9 104.7,133.0 105.2,133.0 105.7,133.2 106.2,133.0 106.7,132.8 107.2,132.9 107.7,133.0 108.2,132.8 108.7,132.9 109.2,132.9 109.7,132.9 110.2,133.1 110.7,132.9 111.2,132.8 111.7,132.9 112.2,133.0 112.7,133.2 113.2,132.9 113.7,133.1 114.2,132.9 114.7,132.6 115.2,132.9 115.7,132.7 116.2,132.6 116.7,132.6 117.2,133.1 117.7,132.5 118.2,132.7 118.7,133.0 119.2,132.9 119.7,132.5 120.2,132.7 120.7,132.7 121.2,132.8 121.7,132.9 122.2,132.7 122.7,132.7 123.2,132.9 123.7,132.5 124.2,132.7 124.7,132.8 125.2,132.6 125.7,132.7 126.2,132.6 126.7,132.8 127.2,132.7 127.7,132.9 128.2,132.9 128.7,132.7 129.2,132.7 129.7,132.8 130.2,132.7 130.7,132.5 131.2,132.9 131.7,132.8 132.2,132.9 132.7,132.6 133.2,132.9 133.7,133.1 134.2,132.9 134.7,132.5 135.2,132.7 135.7,132.7 136.2,132.7 136.7,132.6 137.2,132.7 137.7,132.6 138.2,132.7 138.7,132.5 139.2,132.6 139.7,132.8 140.2,132.6 140.7,132.7 141.2,132.5 141.7,132.6 142.2,132.6 142.7,132.8 143.2,132.5 143.7,132.8 144.2,132.4 144.7,132.6 145.2,132.8 145.7,132.8 146.2,132.6 146.7,132.6 147.2,132.9 147.7,132.5 148.2,132.8 148.7,132.7 149.2,132.8 149.7,133.1 150.2,133.0 150.7,132.8 151.2,132.6 151.7,132.8 152.2,132.8 152.7,132.7 153.2,133.0 153.7,132.5 154.2,132.8 154.7,132.8 155.2,132.7 155.7,133.0 156.2,132.6" fill="none" stroke="#000" stroke-width="0.8" stroke-linejoin="round"/>
<polyline points="156.6,131.6 157.1,131.6 157.6,131.5 158.1,131.8 158.6,132.2 159.1,131.7 159.6,131.5 160.1,131.7 160.6,131.2 161.1,131.5 161.6,131.3 162.1,131.6 162.6,131.3 163.1,131.5 163.6,131.7 164.1,131.1 164.6,130.9 165.1,131.2 165.6,131.0 166.1,131.0 166.6,130.8 167.1,131.1 167.6,130.9 168.1,130.4 168.6,130.8 169.1,130.9 169.6,131.1 170.1,130.7 170.6,130.6 171.1,131.0 171.6,130.6 172.1,130.7 172.6,130.8 173.1,130.8 173.6,130.6 174.1,130.4 174.6,130.8 175.1,130.5 175.6,130.5 176.1,131.0 176.6,130.8 177.1,130.3 177.6,130.4 178.1,130.5 178.6,130.3 179.1,130.1 179.6,130.7 180.1,130.7 180.6,130.5 181.1,130.4 181.6,130.5 182.1,130.6 182.6,130.2 183.1,130.4 183.6,130.3 184.1,130.6 184.6,130.5 185.1,130.1 185.6,130.3 186.1,130.8 186.6,130.2 187.1,130.4 187.6,130.2 188.1,130.7 188.6,130.4 189.1,130.3 189.6,130.1 190.1,130.3 190.6,130.6 191.1,130.5 191.6,130.1 192.1,130.7 192.6,130.3 193.1,130.1 193.6,130.4 194.1,130.2 194.6,130.2 195.1,130.2 195.6,130.3 196.1,130.2 196.6,130.0 197.1,130.5 197.6,130.2 198.1,130.6 198.6,130.5 199.1,130.5 199.6,130.4 200.1,130.6 200.6,130.3 201.1,130.1 201.6,130.4 202.1,129.7 202.6,130.2 203.1,130.4 203.6,130.2 204.1,130.6 204.6,130.5 205.1,130.3 205.6,130.2 206.1,130.6 206.6,130.2 207.1,130.2 207.6,130.5" fill="none" stroke="#000" stroke-width="0.85" stroke-linejoin="round"/>
<polyline points="54.2,135.3 54.7,135.4 55.2,135.1 55.7,134.8 56.2,135.1 56.7,135.2 57.2,134.9 57.7,135.1 58.2,135.1 58.7,134.8 59.2,134.8 59.7,134.7 60.2,134.9 60.7,134.9 61.2,134.9 61.7,134.6 62.2,134.6 62.7,134.5 63.2,134.4 63.7,134.4 64.2,134.4 64.7,134.6 65.2,134.7 65.7,134.7 66.2,134.6 66.7,134.5 67.2,134.6 67.7,134.7 68.2,134.5 68.7,134.6 69.2,134.5 69.7,134.5 70.2,134.6 70.7,134.4 71.2,134.7 71.7,134.3 72.2,134.6 72.7,134.4 73.2,134.8 73.7,134.8 74.2,134.5 74.7,134.6 75.2,134.5 75.7,134.6 76.2,134.7 76.7,135.0 77.2,134.4 77.7,134.8 78.2,134.5 78.7,134.6 79.2,134.7 79.7,134.6 80.2,134.6 80.7,134.5 81.2,134.5 81.7,134.5 82.2,134.7 82.7,134.3 83.2,134.4 83.7,134.3 84.2,134.3 84.7,134.3 85.2,134.5 85.7,134.7 86.2,134.6 86.7,134.2 87.2,134.4 87.7,134.2 88.2,134.4 88.7,134.6 89.2,134.5 89.7,134.5 90.2,134.4 90.7,134.1 91.2,134.1 91.7,134.4 92.2,134.5 92.7,134.6 93.2,134.4 93.7,134.4 94.2,134.5 94.7,134.6 95.2,134.4 95.7,134.3 96.2,134.6 96.7,134.5 97.2,134.5 97.7,134.3 98.2,134.5 98.7,134.2 99.2,134.2 99.7,134.4 100.2,134.4 100.7,134.5 101.2,134.6 101.7,134.4 102.2,134.7 102.7,134.3 103.2,134.5 103.7,134.2 104.2,134.4 104.7,134.4 105.2,134.3 105.7,134.5 106.2,134.1 106.7,134.4 107.2,134.3 107.7,134.4 108.2,134.4 108.7,134.3 109.2,134.3 109.7,134.2 110.2,134.4 110.7,134.2 111.2,134.4 111.7,134.1 112.2,134.5 112.7,134.2 113.2,134.5 113.7,134.3 114.2,134.4 114.7,134.3 115.2,134.4 115.7,134.4 116.2,134.6 116.7,134.5 117.2,134.5 117.7,134.6 118.2,134.3 118.7,134.6 119.2,134.5 119.7,134.3 120.2,134.6 120.7,134.5 121.2,134.8 121.7,134.5 122.2,134.5 122.7,134.6 123.2,134.2 123.7,134.5 124.2,134.4 124.7,134.7 125.2,134.7 125.7,134.5 126.2,134.3 126.7,134.5 127.2,134.5 127.7,134.6 128.2,134.4 128.7,134.3 129.2,134.5 129.7,134.3 130.2,134.7 130.7,134.3 131.2,134.3 131.7,134.4 132.2,134.2 132.7,134.4 133.2,134.4 133.7,134.4 134.2,134.4 134.7,134.6 135.2,134.5 135.7,134.2 136.2,134.3 136.7,134.5 137.2,134.3 137.7,134.4 138.2,134.3 138.7,134.3 139.2,134.2 139.7,134.2 140.2,134.1 140.7,134.3 141.2,134.2 141.7,134.5 142.2,134.3 142.7,134.3 143.2,134.5 143.7,134.3 144.2,134.3 144.7,134.3 145.2,134.2 145.7,134.3 146.2,134.3 146.7,134.6 147.2,134.3 147.7,134.4 148.2,134.3 148.7,134.5 149.2,134.7 149.7,134.3 150.2,134.5 150.7,134.5 151.2,134.4 151.7,134.4 152.2,134.2 152.7,134.5 153.2,134.4 153.7,134.2 154.2,134.5 154.7,134.4 155.2,134.4 155.7,134.0 156.2,134.2" fill="none" stroke="#000" stroke-width="0.8" stroke-linejoin="round"/>
<polyline points="156.6,131.5 157.1,132.3 157.6,132.3 158.1,132.4 158.6,132.7 159.1,132.7 159.6,132.5 160.1,132.0 160.6,131.8 161.1,131.8 161.6,131.5 162.1,132.3 162.6,131.7 163.1,131.8 163.6,131.7 164.1,132.1 164.6,131.4 165.1,131.8 165.6,131.5 166.1,131.4 166.6,130.9 167.1,131.5 167.6,131.1 168.1,131.1 168.6,131.3 169.1,131.2 169.6,131.4 170.1,130.9 170.6,131.1 171.1,131.1 171.6,131.0 172.1,131.1 172.6,130.9 173.1,131.2 173.6,130.8 174.1,130.6 174.6,130.9 175.1,131.1 175.6,130.7 176.1,130.7 176.6,130.7 177.1,130.8 177.6,130.7 178.1,130.8 178.6,130.4 179.1,131.1 179.6,130.8 180.1,130.5 180.6,131.0 181.1,130.8 181.6,131.0 182.1,130.4 182.6,131.0 183.1,130.7 183.6,130.2 184.1,130.8 184.6,130.5 185.1,130.4 185.6,130.6 186.1,130.2 186.6,130.7 187.1,130.5 187.6,130.5 188.1,130.9 188.6,130.6 189.1,130.4 189.6,130.3 190.1,130.5 190.6,130.8 191.1,130.4 191.6,130.3 192.1,130.7 192.6,130.5 193.1,130.5 193.6,131.0 194.1,130.2 194.6,130.6 195.1,130.1 195.6,130.4 196.1,130.6 196.6,130.8 197.1,130.2 197.6,130.7 198.1,130.7 198.6,130.5 199.1,131.1 199.6,130.5 200.1,130.3 200.6,130.6 201.1,130.1 201.6,130.8 202.1,130.7 202.6,130.4 203.1,130.6 203.6,130.6 204.1,130.9 204.6,130.3 205.1,130.2 205.6,130.0 206.1,130.4 206.6,130.1 207.1,130.4 207.6,130.6" fill="none" stroke="#000" stroke-width="0.85" stroke-linejoin="round"/>
<polyline points="54.2,136.2 54.7,136.1 55.2,136.4 55.7,136.2 56.2,136.2 56.7,136.3 57.2,135.9 57.7,136.0 58.2,136.4 58.7,136.0 59.2,135.9 59.7,136.0 60.2,135.9 60.7,135.9 61.2,136.0 61.7,136.0 62.2,136.0 62.7,136.1 63.2,135.8 63.7,135.8 64.2,136.1 64.7,135.9 65.2,136.1 65.7,135.9 66.2,135.7 66.7,136.0 67.2,135.8 67.7,136.0 68.2,136.1 68.7,136.2 69.2,135.9 69.7,136.0 70.2,136.0 70.7,136.0 71.2,135.6 71.7,135.9 72.2,136.0 72.7,136.0 73.2,135.8 73.7,136.0 74.2,136.0 74.7,135.9 75.2,135.9 75.7,135.9 76.2,135.9 76.7,136.1 77.2,136.1 77.7,135.8 78.2,135.8 78.7,135.8 79.2,136.0 79.7,135.9 80.2,135.9 80.7,135.9 81.2,135.9 81.7,135.8 82.2,135.7 82.7,135.7 83.2,135.8 83.7,135.8 84.2,135.8 84.7,135.8 85.2,136.0 85.7,135.8 86.2,135.8 86.7,135.8 87.2,135.7 87.7,135.6 88.2,135.7 88.7,135.7 89.2,135.9 89.7,135.6 90.2,135.7 90.7,135.8 91.2,135.8 91.7,135.9 92.2,136.0 92.7,135.7 93.2,135.8 93.7,135.7 94.2,136.0 94.7,135.8 95.2,135.9 95.7,136.1 96.2,135.8 96.7,135.8 97.2,135.9 97.7,135.8 98.2,136.0 98.7,136.0 99.2,136.0 99.7,135.9 100.2,135.9 100.7,135.9 101.2,135.9 101.7,135.7 102.2,135.9 102.7,136.0 103.2,135.9 103.7,135.9 104.2,135.9 104.7,136.0 105.2,136.0 105.7,136.2 106.2,135.8 106.7,136.0 107.2,136.0 107.7,135.9 108.2,135.9 108.7,135.8 109.2,135.9 109.7,136.0 110.2,136.1 110.7,135.8 111.2,136.0 111.7,136.0 112.2,136.0 112.7,135.9 113.2,135.9 113.7,135.9 114.2,135.7 114.7,135.8 115.2,135.6 115.7,135.6 116.2,135.7 116.7,135.6 117.2,135.9 117.7,136.0 118.2,135.8 118.7,135.8 119.2,135.7 119.7,135.8 120.2,135.8 120.7,135.8 121.2,135.7 121.7,135.7 122.2,135.7 122.7,135.8 123.2,135.7 123.7,135.9 124.2,135.7 124.7,135.9 125.2,135.6 125.7,135.7 126.2,135.8 126.7,135.8 127.2,135.8 127.7,136.0 128.2,135.8 128.7,135.8 129.2,135.7 129.7,136.0 130.2,135.9 130.7,135.8 131.2,135.5 131.7,135.8 132.2,135.7 132.7,135.9 133.2,135.9 133.7,135.7 134.2,135.8 134.7,135.9 135.2,135.8 135.7,135.7 136.2,135.6 136.7,135.7 137.2,135.6 137.7,135.8 138.2,135.7 138.7,135.5 139.2,135.7 139.7,135.6 140.2,135.3 140.7,135.9 141.2,135.9 141.7,135.6 142.2,135.7 142.7,135.8 143.2,135.7 143.7,135.7 144.2,135.7 144.7,135.8 145.2,135.7 145.7,135.8 146.2,135.8 146.7,135.7 147.2,135.8 147.7,135.6 148.2,135.9 148.7,135.6 149.2,135.8 149.7,135.9 150.2,135.9 150.7,135.8 151.2,135.9 151.7,135.6 152.2,135.8 152.7,135.8 153.2,135.8 153.7,135.7 154.2,135.9 154.7,135.7 155.2,135.7 155.7,135.8 156.2,135.8" fill="none" stroke="#000" stroke-width="0.8" stroke-linejoin="round"/>
<polyline points="156.6,132.6 157.1,132.5 157.6,133.0 158.1,132.9 158.6,132.9 159.1,133.3 159.6,132.9 160.1,132.3 160.6,132.6 161.1,132.3 161.6,132.2 162.1,132.2 162.6,132.2 163.1,132.2 163.6,131.9 164.1,131.6 164.6,131.9 165.1,132.1 165.6,131.5 166.1,131.9 166.6,131.8 167.1,131.6 167.6,131.7 168.1,131.4 168.6,131.4 169.1,131.3 169.6,131.5 170.1,131.7 170.6,131.2 171.1,131.6 171.6,130.8 172.1,131.1 172.6,131.0 173.1,131.6 173.6,131.0 174.1,131.3 174.6,130.7 175.1,131.1 175.6,131.2 176.1,131.0 176.6,130.4 177.1,131.0 177.6,131.2 178.1,131.3 178.6,131.0 179.1,130.6 179.6,130.9 180.1,131.1 180.6,130.7 181.1,131.0 181.6,130.8 182.1,130.9 182.6,131.0 183.1,130.7 183.6,131.4 184.1,130.8 184.6,130.9 185.1,130.6 185.6,130.8 186.1,130.7 186.6,130.4 187.1,130.4 187.6,130.8 188.1,130.7 188.6,130.2 189.1,130.3 189.6,130.7 190.1,130.7 190.6,130.8 191.1,130.4 191.6,130.8 192.1,130.6 192.6,130.6 193.1,130.7 193.6,130.9 194.1,130.8 194.6,130.9 195.1,130.5 195.6,130.6 196.1,130.4 196.6,130.5 197.1,130.6 197.6,130.6 198.1,130.8 198.6,130.7 199.1,130.8 199.6,130.7 200.1,130.9 200.6,130.7 201.1,130.9 201.6,130.7 202.1,130.8 202.6,130.6 203.1,130.4 203.6,130.3 204.1,131.1 204.6,130.7 205.1,130.7 205.6,130.6 206.1,130.5 206.6,131.3 207.1,130.4 207.6,130.6" fill="none" stroke="#000" stroke-width="0.85" stroke-linejoin="round"/>
<line x1="54.20" y1="69.60" x2="54.20" y2="137.50" stroke="#000" stroke-width="0.9" />
<line x1="156.40" y1="23.00" x2="156.40" y2="133.00" stroke="#000" stroke-width="1.3" />
<polyline points="54.2,96.8 54.7,97.2 55.2,95.7 55.7,95.2 56.2,95.3 56.7,94.8 57.2,92.6 57.7,93.0 58.2,92.4 58.7,91.8 59.2,91.3 59.7,90.7 60.2,91.1 60.7,90.3 61.2,89.7 61.7,90.0 62.2,89.6 62.7,89.1 63.2,88.9 63.7,89.3 64.2,88.5 64.7,88.2 65.2,87.6 65.7,87.7 66.2,87.1 66.7,87.6 67.2,87.6 67.7,86.3 68.2,87.1 68.7,87.2 69.2,86.9 69.7,86.4 70.2,87.2 70.7,86.1 71.2,85.8 71.7,85.9 72.2,86.2 72.7,86.6 73.2,86.6 73.7,86.1 74.2,85.3 74.7,85.6 75.2,85.3 75.7,85.6 76.2,84.9 76.7,85.9 77.2,86.0 77.7,85.6 78.2,85.9 78.7,85.2 79.2,84.9 79.7,85.2 80.2,86.0 80.7,85.8 81.2,85.0 81.7,85.8 82.2,85.1 82.7,85.9 83.2,85.4 83.7,84.8 84.2,85.3 84.7,84.5 85.2,84.3 85.7,84.0 86.2,84.6 86.7,84.3 87.2,84.1 87.7,83.8 88.2,84.7 88.7,83.8 89.2,83.6 89.7,84.4 90.2,84.4 90.7,83.9 91.2,83.0 91.7,83.5 92.2,83.9 92.7,83.6 93.2,84.3 93.7,82.8 94.2,83.8 94.7,83.2 95.2,84.1 95.7,83.4 96.2,83.8 96.7,83.0 97.2,82.6 97.7,82.7 98.2,82.9 98.7,82.7 99.2,83.6 99.7,83.6 100.2,83.0 100.7,82.4 101.2,82.7 101.7,82.3 102.2,83.4 102.7,82.9 103.2,82.9 103.7,82.4 104.2,81.6 104.7,82.1 105.2,81.8 105.7,82.5 106.2,82.3 106.7,82.0 107.2,82.2 107.7,83.1 108.2,81.9 108.7,81.8 109.2,82.1 109.7,81.9 110.2,82.0 110.7,82.4 111.2,82.9 111.7,81.2 112.2,82.1 112.7,81.9 113.2,81.8 113.7,81.7 114.2,81.6 114.7,82.2 115.2,81.4 115.7,81.5 116.2,81.6 116.7,81.6 117.2,81.3 117.7,81.7 118.2,81.3 118.7,81.4 119.2,81.4 119.7,80.8 120.2,80.8 120.7,80.6 121.2,81.1 121.7,80.7 122.2,80.4 122.7,81.1 123.2,81.2 123.7,80.2 124.2,81.7 124.7,80.9 125.2,80.8 125.7,81.4 126.2,80.9 126.7,80.6 127.2,81.9 127.7,80.4 128.2,80.9 128.7,81.2 129.2,80.3 129.7,80.8 130.2,81.0 130.7,82.0 131.2,80.4 131.7,80.8 132.2,81.1 132.7,80.8 133.2,80.1 133.7,80.8 134.2,80.5 134.7,80.8 135.2,81.0 135.7,81.0 136.2,80.7 136.7,80.6 137.2,79.9 137.7,80.3 138.2,80.4 138.7,80.1 139.2,80.4 139.7,80.0 140.2,81.0 140.7,81.2 141.2,80.0 141.7,80.3 142.2,80.1 142.7,80.8 143.2,80.3 143.7,80.1 144.2,80.0 144.7,80.1 145.2,79.4 145.7,80.1 146.2,79.5 146.7,80.0 147.2,79.7 147.7,80.1 148.2,79.5 148.7,79.9 149.2,79.0 149.7,79.5 150.2,79.1 150.7,79.2 151.2,79.1 151.7,79.4 152.2,77.9 152.7,79.0 153.2,78.1 153.7,79.4 154.2,77.8 154.7,78.3 155.2,78.0 155.7,79.7 156.2,78.3" fill="none" stroke="#f2361e" stroke-width="1.4" stroke-linejoin="round"/>
<polyline points="156.6,122.4 157.1,122.1 157.6,121.4 158.1,120.8 158.6,120.7 159.1,120.9 159.6,121.5 160.1,121.7 160.6,122.1 161.1,122.3 161.6,122.7 162.1,122.8 162.6,123.3 163.1,123.6 163.6,123.8 164.1,124.0 164.6,124.2 165.1,124.0 165.6,124.6 166.1,124.7 166.6,124.9 167.1,125.0 167.6,125.1 168.1,125.3 168.6,125.6 169.1,125.8 169.6,125.7 170.1,125.8 170.6,126.2 171.1,126.1 171.6,126.5 172.1,126.4 172.6,126.4 173.1,126.7 173.6,126.9 174.1,126.6 174.6,127.0 175.1,126.9 175.6,127.2 176.1,127.0 176.6,126.9 177.1,127.3 177.6,127.4 178.1,127.6 178.6,127.6 179.1,127.5 179.6,127.5 180.1,127.5 180.6,127.5 181.1,127.5 181.6,127.6 182.1,127.4 182.6,127.8 183.1,127.8 183.6,128.1 184.1,127.9 184.6,127.8 185.1,128.0 185.6,127.8 186.1,127.9 186.6,127.8 187.1,128.2 187.6,128.1 188.1,127.9 188.6,128.1 189.1,128.2 189.6,128.2 190.1,128.2 190.6,128.0 191.1,128.1 191.6,128.2 192.1,128.3 192.6,128.1 193.1,128.1 193.6,128.4 194.1,128.1 194.6,128.4 195.1,128.3 195.6,128.4 196.1,128.5 196.6,128.4 197.1,128.4 197.6,128.2 198.1,128.2 198.6,128.4 199.1,128.5 199.6,128.5 200.1,128.6 200.6,128.4 201.1,128.4 201.6,128.5 202.1,128.4 202.6,128.4 203.1,128.3 203.6,128.5 204.1,128.3 204.6,128.5 205.1,128.2 205.6,128.5 206.1,128.3 206.6,128.5 207.1,128.2 207.6,128.4" fill="none" stroke="#f2361e" stroke-width="1.1" stroke-linejoin="round"/>
<line x1="208.00" y1="127.20" x2="208.00" y2="141.30" stroke="#000" stroke-width="1.5" />
<rect x="208" y="136" width="4" height="3.5" fill="#000"/>
<line x1="173.20" y1="82.10" x2="186.10" y2="82.10" stroke="#f58a7a" stroke-width="1.2" />
<text x="193.06" y="86.17" font-family="Liberation Sans" font-weight="bold" font-size="12.54" textLength="13.90" lengthAdjust="spacingAndGlyphs" fill="#000" >60</text>
<line x1="164.30" y1="79.60" x2="234.70" y2="39.80" stroke="#111" stroke-width="1.3" stroke-dasharray="5,3.2"/>
<line x1="163.40" y1="146.70" x2="244.90" y2="157.60" stroke="#111" stroke-width="1.3" stroke-dasharray="5,3.2"/>
<text x="219.92" y="140.00" font-family="Liberation Sans" font-weight="bold" font-size="12.46" textLength="24.63" lengthAdjust="spacingAndGlyphs" fill="#000" >1 nA</text>
<line x1="248.60" y1="125.50" x2="248.60" y2="148.10" stroke="#000" stroke-width="1.4" />
<line x1="247.90" y1="148.10" x2="331.20" y2="148.10" stroke="#000" stroke-width="1.4" />
<text x="276.13" y="160.49" font-family="Liberation Sans" font-weight="bold" font-size="10.57" textLength="15.46" lengthAdjust="spacingAndGlyphs" fill="#000" >1 s</text>
<polyline points="256.7,66.1 257.2,61.5 257.7,57.6 258.2,54.4 258.7,51.7 259.2,49.2 259.7,47.7 260.2,45.7 260.7,45.1 261.2,44.9 261.7,44.7 262.2,44.2 262.7,43.9 263.2,45.3 263.7,45.6 264.2,45.7 264.7,46.8 265.2,46.9 265.7,47.7 266.2,48.1 266.7,49.2 267.2,49.8 267.7,50.5 268.2,51.8 268.7,52.4 269.2,52.7 269.7,54.1 270.2,55.0 270.7,55.4 271.2,56.3 271.7,57.3 272.2,58.0 272.7,58.9 273.2,59.9 273.7,60.4 274.2,61.9 274.7,61.9 275.2,62.8 275.7,64.3 276.2,65.2 276.7,65.3 277.2,66.0 277.7,66.5 278.2,67.9 278.7,68.3 279.2,68.8 279.7,69.8 280.2,70.8 280.7,71.3 281.2,72.5 281.7,72.9 282.2,73.3 282.7,73.9 283.2,74.7 283.7,75.5 284.2,76.1 284.7,76.8 285.2,77.2 285.7,77.9 286.2,78.7 286.7,78.9 287.2,79.2 287.7,80.6 288.2,80.9 288.7,81.2 289.2,81.9 289.7,82.3 290.2,82.5 290.7,83.4 291.2,83.6 291.7,84.6 292.2,85.1 292.7,85.9 293.2,86.1 293.7,86.7 294.2,87.0 294.7,87.5 295.2,87.7 295.7,88.8 296.2,89.1 296.7,89.3 297.2,90.0 297.7,90.3 298.2,90.6 298.7,91.3 299.2,92.0 299.7,92.0 300.2,92.1 300.7,92.8 301.2,93.8 301.7,93.5 302.2,94.5 302.7,94.5 303.2,95.1 303.7,95.3 304.2,95.2 304.7,95.9 305.2,97.0 305.7,96.7 306.2,97.3 306.7,97.3 307.2,97.8 307.7,98.2 308.2,98.6 308.7,99.5 309.2,99.1 309.7,99.4 310.2,99.5 310.7,99.6 311.2,99.8 311.7,100.9 312.2,100.4 312.7,101.7 313.2,101.8 313.7,101.7 314.2,101.7 314.7,102.4 315.2,102.7 315.7,103.3 316.2,103.0 316.7,103.3 317.2,103.7 317.7,103.9 318.2,104.0 318.7,103.9 319.2,104.1 319.7,104.7 320.2,105.1 320.7,105.8 321.2,106.5 321.7,106.5 322.2,106.3 322.7,107.1 323.2,106.5 323.7,106.6 324.2,107.9 324.7,106.8 325.2,107.3 325.7,107.5 326.2,108.4 326.7,107.8 327.2,108.5 327.7,108.2 328.2,108.1 328.7,108.9 329.2,109.0 329.7,108.7 330.2,109.0 330.7,109.2 331.2,110.1 331.7,110.0 332.2,110.1 332.7,110.4 333.2,110.1 333.7,110.7 334.2,110.4 334.7,110.3 335.2,110.7 335.7,111.2 336.2,111.3 336.7,111.9 337.2,110.8 337.7,111.6 338.2,112.0 338.7,111.6 339.2,112.3 339.7,112.1 340.2,111.9 340.7,113.1 341.2,112.1 341.7,113.3 342.2,112.8 342.7,112.6 343.2,112.8 343.7,113.0 344.2,113.0 344.7,113.7 345.2,112.8 345.7,114.4 346.2,114.3 346.7,114.7 347.2,113.7 347.7,113.1 348.2,114.0 348.7,114.4 349.2,114.7 349.7,114.4 350.2,114.7 350.7,114.9 351.2,114.2 351.7,115.9 352.2,114.6 352.7,115.4 353.2,115.9 353.7,115.0 354.2,115.5 354.7,116.4 355.2,115.5 355.7,116.3 356.2,116.0 356.7,116.1 357.2,116.4 357.7,116.0 358.2,116.1 358.7,116.8 359.2,116.5 359.7,116.7 360.2,115.9 360.7,116.6 361.2,117.3 361.7,117.2 362.2,117.0 362.7,116.6 363.2,116.6 363.7,117.2 364.2,117.8 364.7,117.2 365.2,117.9 365.7,117.1 366.2,118.0 366.7,116.9 367.2,117.6 367.7,117.0 368.2,117.9 368.7,118.0 369.2,117.2 369.7,117.4 370.2,117.6 370.7,117.1 371.2,117.4 371.7,117.5 372.2,118.5 372.7,118.8 373.2,117.9 373.7,118.0 374.2,118.4 374.7,118.0 375.2,118.2 375.7,118.8 376.2,118.6 376.7,118.5 377.2,118.2 377.7,119.4 378.2,118.3 378.7,118.7 379.2,118.2 379.7,118.5 380.2,118.9 380.7,118.6 381.2,119.2 381.7,119.0 382.2,118.2 382.7,117.8 383.2,119.6 383.7,118.8 384.2,119.9 384.7,119.2 385.2,118.8 385.7,119.5 386.2,119.1 386.7,119.3 387.2,118.9 387.7,119.7 388.2,120.0 388.7,119.2 389.2,120.4 389.7,119.2 390.2,119.7 390.7,118.7 391.2,118.6 391.7,120.8 392.2,120.4 392.7,120.3 393.2,118.8 393.7,119.9 394.2,120.0 394.7,119.9 395.2,120.0 395.7,119.4 396.2,119.8 396.7,119.3 397.2,119.8 397.7,120.2 398.2,119.6 398.7,119.9 399.2,119.8 399.7,120.1 400.2,120.6 400.7,120.3 401.2,120.4 401.7,119.4 402.2,120.0 402.7,120.7 403.2,119.8 403.7,120.0 404.2,119.8 404.7,121.0 405.2,120.1 405.7,120.0 406.2,120.7 406.7,121.0 407.2,120.7 407.7,121.0 408.2,120.6 408.7,120.4 409.2,120.3 409.7,120.2 410.2,120.2 410.7,120.7 411.2,120.5 411.7,120.6 412.2,120.9 412.7,120.6 413.2,119.9" fill="none" stroke="#000" stroke-width="1.0" stroke-linejoin="round"/>
<polyline points="256.7,78.0 257.2,74.6 257.7,71.4 258.2,69.3 258.7,66.7 259.2,64.8 259.7,63.3 260.2,62.7 260.7,61.6 261.2,61.5 261.7,61.2 262.2,61.2 262.7,61.6 263.2,61.9 263.7,62.0 264.2,62.1 264.7,62.7 265.2,63.0 265.7,63.7 266.2,64.4 266.7,65.3 267.2,65.9 267.7,66.3 268.2,67.0 268.7,67.5 269.2,68.8 269.7,69.1 270.2,70.1 270.7,70.1 271.2,70.8 271.7,71.6 272.2,72.0 272.7,72.7 273.2,73.0 273.7,74.2 274.2,74.6 274.7,75.4 275.2,75.7 275.7,75.9 276.2,77.2 276.7,78.0 277.2,77.9 277.7,78.5 278.2,79.3 278.7,79.9 279.2,80.1 279.7,81.6 280.2,82.0 280.7,82.1 281.2,82.3 281.7,83.4 282.2,84.4 282.7,84.6 283.2,85.2 283.7,85.2 284.2,86.0 284.7,86.0 285.2,87.5 285.7,87.6 286.2,87.3 286.7,87.9 287.2,89.0 287.7,89.4 288.2,89.7 288.7,90.4 289.2,91.2 289.7,91.2 290.2,91.0 290.7,91.9 291.2,92.0 291.7,92.6 292.2,93.3 292.7,93.6 293.2,93.7 293.7,94.4 294.2,94.6 294.7,95.3 295.2,95.5 295.7,96.0 296.2,96.2 296.7,96.9 297.2,97.0 297.7,97.4 298.2,97.6 298.7,98.1 299.2,97.9 299.7,99.5 300.2,98.9 300.7,99.4 301.2,99.6 301.7,99.9 302.2,100.4 302.7,100.5 303.2,100.8 303.7,100.8 304.2,101.3 304.7,101.5 305.2,102.6 305.7,102.0 306.2,102.3 306.7,103.0 307.2,103.6 307.7,102.9 308.2,103.2 308.7,104.0 309.2,104.4 309.7,104.0 310.2,104.2 310.7,104.7 311.2,105.5 311.7,105.5 312.2,106.0 312.7,105.9 313.2,106.2 313.7,106.6 314.2,106.6 314.7,106.9 315.2,106.7 315.7,107.1 316.2,107.6 316.7,107.6 317.2,107.6 317.7,108.3 318.2,108.5 318.7,108.5 319.2,108.4 319.7,109.2 320.2,110.0 320.7,108.9 321.2,108.8 321.7,109.3 322.2,109.4 322.7,109.5 323.2,109.7 323.7,110.6 324.2,110.8 324.7,111.2 325.2,111.1 325.7,110.7 326.2,111.5 326.7,111.0 327.2,111.3 327.7,111.1 328.2,112.2 328.7,112.2 329.2,111.8 329.7,112.0 330.2,112.3 330.7,112.5 331.2,112.9 331.7,112.7 332.2,113.0 332.7,112.3 333.2,113.0 333.7,112.5 334.2,114.1 334.7,114.0 335.2,113.9 335.7,114.2 336.2,114.7 336.7,114.3 337.2,113.4 337.7,114.1 338.2,113.2 338.7,114.0 339.2,113.9 339.7,114.6 340.2,114.9 340.7,114.4 341.2,114.8 341.7,115.1 342.2,115.0 342.7,115.1 343.2,114.2 343.7,115.2 344.2,115.9 344.7,115.7 345.2,115.0 345.7,115.6 346.2,116.0 346.7,115.5 347.2,116.4 347.7,115.7 348.2,116.0 348.7,116.2 349.2,117.5 349.7,116.3 350.2,116.3 350.7,117.0 351.2,116.5 351.7,116.9 352.2,115.7 352.7,117.1 353.2,117.0 353.7,116.4 354.2,117.8 354.7,117.1 355.2,117.2 355.7,116.7 356.2,116.6 356.7,117.2 357.2,116.7 357.7,117.9 358.2,118.1 358.7,117.4 359.2,116.9 359.7,117.6 360.2,117.3 360.7,118.1 361.2,118.1 361.7,117.9 362.2,118.2 362.7,118.7 363.2,119.2 363.7,118.0 364.2,118.7 364.7,118.3 365.2,117.9 365.7,119.2 366.2,118.8 366.7,118.7 367.2,118.8 367.7,118.6 368.2,118.2 368.7,119.7 369.2,119.3 369.7,119.0 370.2,119.5 370.7,119.7 371.2,118.9 371.7,119.4 372.2,118.9 372.7,119.5 373.2,119.1 373.7,120.5 374.2,119.1 374.7,119.6 375.2,119.6 375.7,119.2 376.2,119.9 376.7,119.4 377.2,119.3 377.7,119.5 378.2,119.2 378.7,120.3 379.2,120.0 379.7,120.2 380.2,119.0 380.7,119.9 381.2,119.4 381.7,119.9 382.2,120.5 382.7,120.0 383.2,119.8 383.7,120.5 384.2,120.5 384.7,121.0 385.2,119.0 385.7,120.2 386.2,119.9 386.7,119.7 387.2,120.2 387.7,119.6 388.2,119.0 388.7,119.8 389.2,120.1 389.7,121.3 390.2,119.9 390.7,119.7 391.2,119.3 391.7,120.2 392.2,120.3 392.7,120.5 393.2,119.7 393.7,120.1 394.2,119.3 394.7,120.6 395.2,119.7 395.7,119.1 396.2,121.2 396.7,120.9 397.2,120.8 397.7,120.8 398.2,120.1 398.7,121.3 399.2,120.2 399.7,121.7 400.2,120.9 400.7,119.8 401.2,121.2 401.7,121.8 402.2,120.7 402.7,121.4 403.2,120.7 403.7,120.5 404.2,119.5 404.7,121.6 405.2,120.7 405.7,121.1 406.2,120.4 406.7,120.5 407.2,121.6 407.7,120.8 408.2,120.8 408.7,120.4 409.2,121.2 409.7,121.5 410.2,120.8 410.7,121.0 411.2,120.5 411.7,121.9 412.2,120.8 412.7,121.1 413.2,122.1" fill="none" stroke="#000" stroke-width="1.0" stroke-linejoin="round"/>
<polyline points="256.7,88.8 257.2,85.9 257.7,83.8 258.2,81.9 258.7,80.8 259.2,78.9 259.7,77.7 260.2,77.1 260.7,76.6 261.2,75.7 261.7,76.3 262.2,76.2 262.7,76.2 263.2,75.6 263.7,76.6 264.2,77.2 264.7,77.0 265.2,78.1 265.7,77.9 266.2,78.0 266.7,78.9 267.2,79.3 267.7,79.9 268.2,80.1 268.7,81.0 269.2,81.0 269.7,81.7 270.2,81.8 270.7,82.4 271.2,83.2 271.7,83.4 272.2,84.0 272.7,84.6 273.2,85.2 273.7,85.8 274.2,86.3 274.7,86.8 275.2,87.1 275.7,87.3 276.2,87.5 276.7,88.3 277.2,88.7 277.7,88.8 278.2,90.3 278.7,89.7 279.2,90.8 279.7,91.3 280.2,91.5 280.7,92.7 281.2,92.4 281.7,92.6 282.2,93.7 282.7,93.4 283.2,93.6 283.7,94.1 284.2,94.6 284.7,95.2 285.2,95.6 285.7,95.5 286.2,96.4 286.7,97.3 287.2,96.8 287.7,97.3 288.2,97.9 288.7,98.4 289.2,98.2 289.7,98.5 290.2,98.8 290.7,99.7 291.2,100.0 291.7,99.4 292.2,99.7 292.7,100.3 293.2,100.5 293.7,101.4 294.2,101.6 294.7,102.4 295.2,102.4 295.7,102.4 296.2,103.0 296.7,102.7 297.2,102.8 297.7,103.5 298.2,104.0 298.7,103.6 299.2,104.6 299.7,104.8 300.2,104.7 300.7,105.1 301.2,105.2 301.7,105.6 302.2,106.0 302.7,105.8 303.2,106.5 303.7,106.7 304.2,107.0 304.7,106.3 305.2,106.6 305.7,107.6 306.2,107.4 306.7,107.5 307.2,107.7 307.7,107.7 308.2,108.3 308.7,108.3 309.2,108.6 309.7,109.1 310.2,108.8 310.7,109.7 311.2,108.8 311.7,110.5 312.2,109.4 312.7,110.3 313.2,110.5 313.7,110.4 314.2,110.8 314.7,110.7 315.2,110.3 315.7,111.2 316.2,111.6 316.7,111.2 317.2,110.9 317.7,111.5 318.2,112.0 318.7,112.1 319.2,112.5 319.7,112.5 320.2,112.6 320.7,111.8 321.2,113.5 321.7,112.9 322.2,113.3 322.7,113.0 323.2,113.2 323.7,113.4 324.2,114.1 324.7,114.2 325.2,114.0 325.7,114.7 326.2,113.8 326.7,114.3 327.2,114.0 327.7,114.9 328.2,114.5 328.7,115.0 329.2,115.4 329.7,113.9 330.2,115.8 330.7,115.1 331.2,115.0 331.7,114.4 332.2,115.2 332.7,114.4 333.2,115.6 333.7,115.5 334.2,116.5 334.7,115.7 335.2,116.4 335.7,116.5 336.2,117.0 336.7,116.1 337.2,116.6 337.7,115.7 338.2,115.9 338.7,116.4 339.2,116.6 339.7,116.1 340.2,116.6 340.7,117.2 341.2,116.7 341.7,116.9 342.2,116.7 342.7,117.8 343.2,118.1 343.7,117.4 344.2,117.3 344.7,118.2 345.2,117.7 345.7,117.3 346.2,117.0 346.7,117.4 347.2,118.9 347.7,117.6 348.2,119.3 348.7,118.0 349.2,117.9 349.7,118.8 350.2,118.0 350.7,118.4 351.2,117.8 351.7,117.7 352.2,118.0 352.7,118.6 353.2,118.2 353.7,117.5 354.2,118.9 354.7,118.6 355.2,118.6 355.7,118.5 356.2,117.6 356.7,119.7 357.2,118.7 357.7,119.3 358.2,119.8 358.7,119.7 359.2,119.2 359.7,119.2 360.2,119.4 360.7,119.8 361.2,119.6 361.7,119.1 362.2,119.6 362.7,119.6 363.2,119.9 363.7,119.6 364.2,120.3 364.7,119.7 365.2,120.1 365.7,119.7 366.2,119.4 366.7,119.2 367.2,119.7 367.7,120.1 368.2,120.6 368.7,119.9 369.2,119.7 369.7,119.7 370.2,120.7 370.7,120.1 371.2,119.8 371.7,120.5 372.2,119.4 372.7,120.2 373.2,120.2 373.7,120.2 374.2,119.6 374.7,120.8 375.2,121.2 375.7,119.6 376.2,120.4 376.7,120.8 377.2,121.7 377.7,120.2 378.2,120.0 378.7,120.5 379.2,121.6 379.7,120.6 380.2,120.7 380.7,121.6 381.2,119.5 381.7,119.5 382.2,121.2 382.7,121.1 383.2,120.0 383.7,121.1 384.2,120.8 384.7,120.9 385.2,120.4 385.7,120.6 386.2,120.4 386.7,120.9 387.2,120.8 387.7,121.9 388.2,121.3 388.7,120.1 389.2,121.2 389.7,121.8 390.2,121.2 390.7,121.7 391.2,121.1 391.7,121.5 392.2,120.6 392.7,121.6 393.2,120.4 393.7,121.9 394.2,120.4 394.7,120.1 395.2,121.5 395.7,121.1 396.2,121.3 396.7,121.5 397.2,121.3 397.7,120.8 398.2,121.4 398.7,121.5 399.2,121.6 399.7,122.4 400.2,121.0 400.7,121.4 401.2,121.7 401.7,121.2 402.2,120.8 402.7,121.1 403.2,122.0 403.7,121.3 404.2,121.8 404.7,121.1 405.2,121.8 405.7,121.2 406.2,121.1 406.7,121.6 407.2,121.6 407.7,122.4 408.2,120.7 408.7,121.9 409.2,122.5 409.7,122.4 410.2,121.4 410.7,121.3 411.2,121.4 411.7,121.8 412.2,121.8 412.7,121.9 413.2,122.0" fill="none" stroke="#000" stroke-width="1.0" stroke-linejoin="round"/>
<polyline points="256.7,96.2 257.2,94.2 257.7,92.3 258.2,90.7 258.7,89.7 259.2,88.7 259.7,88.5 260.2,87.2 260.7,86.6 261.2,86.7 261.7,86.1 262.2,86.4 262.7,86.7 263.2,86.8 263.7,86.9 264.2,86.9 264.7,86.9 265.2,87.5 265.7,87.7 266.2,88.4 266.7,88.5 267.2,89.1 267.7,88.8 268.2,89.9 268.7,89.8 269.2,89.9 269.7,90.4 270.2,91.0 270.7,91.9 271.2,92.2 271.7,92.0 272.2,92.8 272.7,93.1 273.2,93.1 273.7,93.6 274.2,93.7 274.7,94.4 275.2,94.3 275.7,95.2 276.2,95.5 276.7,95.9 277.2,96.2 277.7,97.2 278.2,97.1 278.7,97.6 279.2,98.1 279.7,98.5 280.2,98.7 280.7,98.7 281.2,98.9 281.7,99.3 282.2,99.7 282.7,100.2 283.2,100.5 283.7,101.1 284.2,101.1 284.7,101.9 285.2,102.0 285.7,101.8 286.2,102.5 286.7,101.7 287.2,103.2 287.7,103.2 288.2,103.5 288.7,103.2 289.2,104.6 289.7,104.1 290.2,104.4 290.7,105.0 291.2,104.9 291.7,104.9 292.2,105.6 292.7,105.4 293.2,106.1 293.7,106.2 294.2,106.7 294.7,106.3 295.2,107.2 295.7,107.1 296.2,107.8 296.7,107.3 297.2,108.2 297.7,108.1 298.2,108.4 298.7,108.1 299.2,108.7 299.7,108.9 300.2,108.7 300.7,108.8 301.2,109.1 301.7,109.9 302.2,109.7 302.7,110.2 303.2,110.1 303.7,110.3 304.2,110.5 304.7,110.5 305.2,111.1 305.7,111.0 306.2,111.2 306.7,110.8 307.2,111.5 307.7,111.4 308.2,111.6 308.7,112.2 309.2,111.7 309.7,112.1 310.2,112.5 310.7,112.9 311.2,112.4 311.7,112.9 312.2,113.0 312.7,112.7 313.2,112.4 313.7,112.7 314.2,113.7 314.7,113.6 315.2,113.2 315.7,113.6 316.2,113.8 316.7,114.0 317.2,114.2 317.7,115.1 318.2,114.2 318.7,114.6 319.2,114.4 319.7,114.6 320.2,114.6 320.7,114.9 321.2,114.9 321.7,115.4 322.2,115.4 322.7,115.1 323.2,116.3 323.7,115.2 324.2,115.9 324.7,116.7 325.2,115.7 325.7,116.6 326.2,116.7 326.7,116.4 327.2,115.6 327.7,117.0 328.2,116.5 328.7,116.4 329.2,117.2 329.7,116.4 330.2,117.3 330.7,116.7 331.2,117.2 331.7,116.6 332.2,117.0 332.7,116.8 333.2,117.0 333.7,117.5 334.2,117.4 334.7,117.6 335.2,118.2 335.7,117.6 336.2,116.9 336.7,117.7 337.2,117.9 337.7,118.4 338.2,118.5 338.7,118.5 339.2,118.1 339.7,118.5 340.2,117.6 340.7,118.9 341.2,118.6 341.7,118.7 342.2,118.4 342.7,118.6 343.2,118.3 343.7,119.0 344.2,118.1 344.7,119.3 345.2,119.1 345.7,119.9 346.2,119.0 346.7,119.0 347.2,119.2 347.7,119.2 348.2,119.1 348.7,118.7 349.2,118.7 349.7,119.1 350.2,119.2 350.7,118.8 351.2,118.9 351.7,119.4 352.2,119.9 352.7,119.5 353.2,120.0 353.7,120.2 354.2,120.1 354.7,119.6 355.2,119.6 355.7,118.9 356.2,119.5 356.7,120.2 357.2,119.4 357.7,120.7 358.2,120.8 358.7,119.9 359.2,120.6 359.7,119.4 360.2,119.6 360.7,120.0 361.2,120.3 361.7,120.2 362.2,119.9 362.7,121.4 363.2,120.6 363.7,120.6 364.2,120.8 364.7,120.6 365.2,120.4 365.7,120.3 366.2,119.7 366.7,121.4 367.2,120.2 367.7,119.8 368.2,120.3 368.7,119.9 369.2,121.9 369.7,121.0 370.2,121.6 370.7,121.6 371.2,121.2 371.7,121.2 372.2,120.5 372.7,120.9 373.2,120.7 373.7,121.0 374.2,120.6 374.7,121.7 375.2,121.5 375.7,121.0 376.2,120.2 376.7,121.5 377.2,121.6 377.7,121.1 378.2,120.5 378.7,121.5 379.2,121.8 379.7,120.2 380.2,121.6 380.7,120.3 381.2,121.4 381.7,122.3 382.2,121.4 382.7,121.6 383.2,121.2 383.7,121.4 384.2,122.7 384.7,122.2 385.2,121.3 385.7,121.3 386.2,121.5 386.7,122.7 387.2,121.7 387.7,122.2 388.2,121.4 388.7,120.9 389.2,122.3 389.7,121.6 390.2,121.2 390.7,121.3 391.2,121.3 391.7,121.4 392.2,120.9 392.7,122.4 393.2,121.9 393.7,122.3 394.2,121.6 394.7,122.0 395.2,121.9 395.7,122.4 396.2,122.2 396.7,122.0 397.2,121.5 397.7,121.2 398.2,121.4 398.7,121.5 399.2,121.6 399.7,121.2 400.2,122.8 400.7,122.1 401.2,120.8 401.7,121.3 402.2,121.2 402.7,122.1 403.2,122.5 403.7,121.4 404.2,122.3 404.7,121.9 405.2,122.6 405.7,122.8 406.2,122.2 406.7,122.4 407.2,122.0 407.7,121.9 408.2,121.4 408.7,122.3 409.2,122.0 409.7,121.9 410.2,122.1 410.7,122.0 411.2,121.6 411.7,121.8 412.2,122.7 412.7,122.0 413.2,122.9" fill="none" stroke="#000" stroke-width="1.0" stroke-linejoin="round"/>
<polyline points="256.7,102.9 257.2,101.4 257.7,100.4 258.2,99.4 258.7,98.0 259.2,97.5 259.7,96.9 260.2,96.5 260.7,95.8 261.2,95.6 261.7,95.1 262.2,95.6 262.7,95.8 263.2,96.2 263.7,95.6 264.2,95.9 264.7,96.0 265.2,96.8 265.7,96.1 266.2,96.7 266.7,97.9 267.2,97.7 267.7,97.4 268.2,98.1 268.7,98.6 269.2,98.8 269.7,98.9 270.2,99.0 270.7,99.8 271.2,99.9 271.7,100.4 272.2,100.6 272.7,100.6 273.2,101.4 273.7,101.2 274.2,101.7 274.7,101.7 275.2,102.1 275.7,102.4 276.2,102.5 276.7,103.1 277.2,103.6 277.7,104.1 278.2,104.2 278.7,104.0 279.2,104.7 279.7,104.7 280.2,105.3 280.7,104.7 281.2,105.7 281.7,105.4 282.2,106.1 282.7,105.9 283.2,106.5 283.7,106.4 284.2,106.2 284.7,106.7 285.2,107.1 285.7,107.4 286.2,107.0 286.7,107.5 287.2,107.8 287.7,108.2 288.2,108.5 288.7,108.4 289.2,108.4 289.7,109.1 290.2,109.2 290.7,109.7 291.2,109.5 291.7,110.0 292.2,109.8 292.7,110.3 293.2,110.4 293.7,110.7 294.2,110.5 294.7,110.9 295.2,110.8 295.7,111.2 296.2,111.6 296.7,112.4 297.2,111.7 297.7,112.1 298.2,112.1 298.7,112.5 299.2,112.5 299.7,112.8 300.2,112.7 300.7,113.5 301.2,113.3 301.7,112.6 302.2,113.3 302.7,113.4 303.2,112.8 303.7,113.4 304.2,113.6 304.7,113.7 305.2,114.0 305.7,113.6 306.2,114.5 306.7,114.6 307.2,114.6 307.7,114.5 308.2,114.7 308.7,114.7 309.2,115.3 309.7,115.2 310.2,115.8 310.7,115.2 311.2,115.9 311.7,115.3 312.2,115.6 312.7,115.4 313.2,116.0 313.7,115.9 314.2,116.2 314.7,116.6 315.2,116.2 315.7,116.5 316.2,116.7 316.7,116.5 317.2,116.4 317.7,116.8 318.2,117.0 318.7,117.2 319.2,117.3 319.7,116.8 320.2,117.3 320.7,117.7 321.2,117.1 321.7,117.5 322.2,117.2 322.7,117.6 323.2,118.3 323.7,117.8 324.2,117.4 324.7,118.0 325.2,118.0 325.7,118.4 326.2,117.5 326.7,117.8 327.2,118.2 327.7,117.6 328.2,118.8 328.7,117.6 329.2,118.1 329.7,117.9 330.2,118.3 330.7,119.0 331.2,119.0 331.7,119.2 332.2,119.1 332.7,118.0 333.2,119.1 333.7,118.2 334.2,118.8 334.7,119.0 335.2,118.9 335.7,119.4 336.2,118.9 336.7,120.1 337.2,119.6 337.7,120.0 338.2,119.8 338.7,119.9 339.2,119.6 339.7,120.5 340.2,119.2 340.7,119.9 341.2,119.8 341.7,119.7 342.2,120.0 342.7,119.6 343.2,120.4 343.7,120.4 344.2,120.1 344.7,120.4 345.2,119.6 345.7,119.3 346.2,119.9 346.7,120.1 347.2,121.5 347.7,120.2 348.2,120.9 348.7,120.8 349.2,121.5 349.7,120.5 350.2,120.8 350.7,120.4 351.2,120.2 351.7,120.1 352.2,120.3 352.7,121.4 353.2,120.9 353.7,120.7 354.2,120.8 354.7,120.5 355.2,120.8 355.7,120.8 356.2,121.2 356.7,121.4 357.2,120.1 357.7,121.1 358.2,121.7 358.7,120.5 359.2,120.9 359.7,121.2 360.2,121.7 360.7,121.5 361.2,121.1 361.7,121.5 362.2,121.8 362.7,121.5 363.2,122.3 363.7,121.5 364.2,120.8 364.7,120.9 365.2,121.3 365.7,121.3 366.2,121.8 366.7,121.6 367.2,122.4 367.7,121.9 368.2,122.3 368.7,121.1 369.2,121.3 369.7,121.9 370.2,121.6 370.7,121.9 371.2,121.8 371.7,121.3 372.2,122.6 372.7,122.3 373.2,120.9 373.7,121.4 374.2,121.8 374.7,122.1 375.2,121.7 375.7,121.1 376.2,122.3 376.7,121.7 377.2,122.5 377.7,122.0 378.2,122.4 378.7,122.3 379.2,122.4 379.7,121.7 380.2,122.5 380.7,122.1 381.2,121.3 381.7,121.8 382.2,121.8 382.7,122.3 383.2,122.4 383.7,121.5 384.2,122.4 384.7,122.0 385.2,121.5 385.7,122.5 386.2,121.7 386.7,121.5 387.2,122.5 387.7,122.6 388.2,121.8 388.7,122.7 389.2,122.7 389.7,121.9 390.2,123.3 390.7,122.2 391.2,122.4 391.7,121.0 392.2,122.6 392.7,121.9 393.2,122.5 393.7,121.4 394.2,122.9 394.7,123.1 395.2,123.3 395.7,120.8 396.2,122.7 396.7,122.5 397.2,120.8 397.7,122.0 398.2,122.3 398.7,123.1 399.2,122.0 399.7,122.5 400.2,122.4 400.7,122.6 401.2,122.2 401.7,122.9 402.2,123.0 402.7,121.7 403.2,123.1 403.7,122.1 404.2,122.3 404.7,123.1 405.2,122.6 405.7,122.8 406.2,122.9 406.7,122.8 407.2,122.2 407.7,122.0 408.2,122.9 408.7,123.0 409.2,122.7 409.7,122.5 410.2,123.0 410.7,122.6 411.2,121.9 411.7,122.7 412.2,122.9 412.7,123.0 413.2,122.1" fill="none" stroke="#000" stroke-width="1.0" stroke-linejoin="round"/>
<polyline points="256.7,108.0 257.2,107.1 257.7,105.9 258.2,105.1 258.7,104.6 259.2,103.8 259.7,103.7 260.2,102.8 260.7,103.0 261.2,102.6 261.7,103.0 262.2,102.4 262.7,102.4 263.2,102.9 263.7,102.5 264.2,102.6 264.7,102.9 265.2,103.1 265.7,102.8 266.2,103.5 266.7,103.5 267.2,103.8 267.7,104.1 268.2,104.2 268.7,104.8 269.2,104.8 269.7,104.9 270.2,105.2 270.7,105.7 271.2,105.8 271.7,106.2 272.2,106.0 272.7,106.3 273.2,107.0 273.7,106.7 274.2,107.4 274.7,107.4 275.2,107.2 275.7,107.2 276.2,108.0 276.7,107.8 277.2,108.0 277.7,107.9 278.2,108.9 278.7,108.8 279.2,109.0 279.7,109.3 280.2,109.5 280.7,109.6 281.2,109.9 281.7,109.9 282.2,109.4 282.7,110.5 283.2,110.6 283.7,110.7 284.2,111.3 284.7,110.6 285.2,110.4 285.7,111.8 286.2,111.7 286.7,111.2 287.2,111.8 287.7,112.2 288.2,111.8 288.7,112.5 289.2,113.1 289.7,113.0 290.2,112.8 290.7,113.0 291.2,112.8 291.7,113.3 292.2,113.3 292.7,113.2 293.2,113.3 293.7,114.3 294.2,113.9 294.7,113.8 295.2,114.1 295.7,114.7 296.2,114.9 296.7,114.4 297.2,114.7 297.7,115.0 298.2,114.8 298.7,114.7 299.2,114.9 299.7,115.3 300.2,115.2 300.7,115.1 301.2,115.5 301.7,116.0 302.2,116.0 302.7,115.9 303.2,116.6 303.7,115.9 304.2,116.2 304.7,115.9 305.2,116.7 305.7,116.5 306.2,116.1 306.7,116.5 307.2,117.4 307.7,117.1 308.2,117.0 308.7,117.4 309.2,116.7 309.7,117.0 310.2,116.9 310.7,117.2 311.2,117.4 311.7,117.8 312.2,118.0 312.7,118.1 313.2,118.7 313.7,117.8 314.2,118.0 314.7,118.2 315.2,117.9 315.7,118.1 316.2,118.4 316.7,118.1 317.2,118.6 317.7,118.9 318.2,118.2 318.7,117.8 319.2,118.7 319.7,118.4 320.2,118.9 320.7,118.7 321.2,119.1 321.7,119.4 322.2,119.4 322.7,119.0 323.2,118.8 323.7,118.3 324.2,118.5 324.7,119.1 325.2,119.5 325.7,119.2 326.2,119.3 326.7,119.0 327.2,119.0 327.7,119.0 328.2,120.0 328.7,119.0 329.2,120.1 329.7,119.5 330.2,120.2 330.7,120.1 331.2,120.3 331.7,120.6 332.2,119.8 332.7,119.8 333.2,120.0 333.7,119.9 334.2,120.6 334.7,120.3 335.2,120.4 335.7,120.6 336.2,120.3 336.7,121.0 337.2,119.7 337.7,120.7 338.2,120.8 338.7,120.3 339.2,120.4 339.7,121.1 340.2,120.6 340.7,119.9 341.2,120.2 341.7,121.3 342.2,120.5 342.7,121.5 343.2,121.6 343.7,120.9 344.2,121.3 344.7,120.7 345.2,120.9 345.7,120.8 346.2,121.4 346.7,120.6 347.2,121.2 347.7,121.3 348.2,121.5 348.7,120.3 349.2,120.5 349.7,120.9 350.2,121.3 350.7,121.5 351.2,121.5 351.7,122.5 352.2,121.8 352.7,121.8 353.2,121.3 353.7,122.0 354.2,121.9 354.7,122.0 355.2,121.6 355.7,122.0 356.2,122.5 356.7,121.3 357.2,120.6 357.7,122.2 358.2,122.2 358.7,121.7 359.2,121.6 359.7,123.3 360.2,121.6 360.7,121.2 361.2,121.6 361.7,122.2 362.2,121.6 362.7,121.7 363.2,122.1 363.7,121.8 364.2,122.1 364.7,122.0 365.2,121.5 365.7,122.1 366.2,121.5 366.7,122.6 367.2,121.6 367.7,122.0 368.2,121.2 368.7,121.9 369.2,121.5 369.7,123.0 370.2,122.1 370.7,122.5 371.2,121.3 371.7,121.6 372.2,122.2 372.7,121.6 373.2,122.9 373.7,122.1 374.2,122.4 374.7,122.5 375.2,122.3 375.7,122.8 376.2,122.0 376.7,122.6 377.2,123.0 377.7,122.5 378.2,122.5 378.7,122.3 379.2,122.5 379.7,122.8 380.2,122.3 380.7,121.6 381.2,122.6 381.7,122.4 382.2,122.8 382.7,122.6 383.2,123.4 383.7,121.9 384.2,122.1 384.7,122.9 385.2,122.0 385.7,122.8 386.2,122.6 386.7,121.6 387.2,123.0 387.7,123.3 388.2,122.7 388.7,121.9 389.2,123.1 389.7,122.1 390.2,122.6 390.7,122.9 391.2,122.3 391.7,121.8 392.2,122.6 392.7,122.7 393.2,122.3 393.7,122.3 394.2,123.1 394.7,122.7 395.2,122.5 395.7,122.5 396.2,122.9 396.7,122.8 397.2,122.7 397.7,122.1 398.2,122.6 398.7,122.5 399.2,122.8 399.7,123.4 400.2,123.3 400.7,123.2 401.2,122.9 401.7,122.7 402.2,123.0 402.7,122.6 403.2,122.7 403.7,122.4 404.2,122.8 404.7,122.8 405.2,123.8 405.7,123.2 406.2,122.7 406.7,123.3 407.2,122.7 407.7,123.4 408.2,123.3 408.7,124.4 409.2,122.4 409.7,122.9 410.2,122.9 410.7,123.1 411.2,123.3 411.7,122.4 412.2,122.6 412.7,123.1 413.2,123.5" fill="none" stroke="#000" stroke-width="1.0" stroke-linejoin="round"/>
<polyline points="256.7,109.0 257.2,109.6 257.7,110.2 258.2,109.4 258.7,109.9 259.2,110.9 259.7,110.0 260.2,110.4 260.7,111.0 261.2,111.0 261.7,110.9 262.2,112.1 262.7,111.3 263.2,111.9 263.7,111.7 264.2,111.8 264.7,111.3 265.2,112.3 265.7,111.9 266.2,112.8 266.7,111.9 267.2,112.3 267.7,112.8 268.2,113.0 268.7,112.7 269.2,113.1 269.7,112.8 270.2,113.6 270.7,112.6 271.2,113.9 271.7,114.5 272.2,114.5 272.7,114.6 273.2,114.2 273.7,114.7 274.2,114.4 274.7,114.6 275.2,114.7 275.7,113.5 276.2,115.4 276.7,115.3 277.2,115.5 277.7,114.6 278.2,115.4 278.7,115.4 279.2,114.3 279.7,114.7 280.2,115.7 280.7,115.3 281.2,115.6 281.7,115.4 282.2,116.5 282.7,115.1 283.2,115.4 283.7,115.7 284.2,115.7 284.7,115.9 285.2,116.2 285.7,115.6 286.2,116.5 286.7,117.1 287.2,117.2 287.7,117.5 288.2,117.3 288.7,117.0 289.2,117.8 289.7,117.3 290.2,117.9 290.7,117.1 291.2,116.3 291.7,116.8 292.2,117.3 292.7,117.5 293.2,117.3 293.7,118.0 294.2,117.1 294.7,117.3 295.2,118.1 295.7,117.9 296.2,117.9 296.7,118.6 297.2,118.4 297.7,117.8 298.2,118.2 298.7,117.3 299.2,118.0 299.7,118.3 300.2,117.6 300.7,119.2 301.2,119.3 301.7,118.8 302.2,119.0 302.7,119.3 303.2,118.6 303.7,119.3 304.2,119.2 304.7,118.4 305.2,118.7 305.7,118.8 306.2,119.6 306.7,119.3 307.2,119.7 307.7,119.1 308.2,118.8 308.7,120.3 309.2,120.4 309.7,119.4 310.2,119.2 310.7,119.8 311.2,118.8 311.7,119.2 312.2,118.7 312.7,119.5 313.2,119.5 313.7,119.3 314.2,119.2 314.7,119.0 315.2,119.3 315.7,120.1 316.2,119.5 316.7,120.3 317.2,119.5 317.7,119.8 318.2,119.8 318.7,119.8 319.2,120.3 319.7,119.1 320.2,120.4 320.7,120.3 321.2,120.0 321.7,120.0 322.2,119.8 322.7,120.3 323.2,120.0 323.7,119.6 324.2,120.1 324.7,120.4 325.2,120.2 325.7,120.1 326.2,120.4 326.7,120.1 327.2,120.2 327.7,119.8 328.2,120.4 328.7,121.0 329.2,120.5 329.7,120.3 330.2,121.1 330.7,120.8 331.2,120.8 331.7,121.0 332.2,121.1 332.7,120.8 333.2,120.4 333.7,121.6 334.2,120.9 334.7,120.6 335.2,121.1 335.7,121.5 336.2,120.5 336.7,121.7 337.2,121.2 337.7,122.1 338.2,121.5 338.7,121.3 339.2,121.8 339.7,121.9 340.2,121.1 340.7,121.3 341.2,121.1 341.7,121.6 342.2,120.6 342.7,121.1 343.2,120.3 343.7,121.5 344.2,120.3 344.7,120.9 345.2,121.5 345.7,121.2 346.2,121.3 346.7,121.1 347.2,121.4 347.7,120.9 348.2,121.9 348.7,122.1 349.2,122.0 349.7,121.7 350.2,122.2 350.7,121.9 351.2,122.1 351.7,121.9 352.2,121.8 352.7,121.4 353.2,120.6 353.7,122.0 354.2,121.7 354.7,122.7 355.2,121.0 355.7,122.3 356.2,121.5 356.7,121.8 357.2,121.4 357.7,121.9 358.2,121.7 358.7,122.2 359.2,122.0 359.7,122.0 360.2,122.3 360.7,122.1 361.2,121.8 361.7,122.4 362.2,122.0 362.7,122.3 363.2,121.9 363.7,121.8 364.2,120.7 364.7,122.2 365.2,121.5 365.7,122.3 366.2,122.6 366.7,121.3 367.2,122.2 367.7,121.8 368.2,122.1 368.7,121.3 369.2,121.9 369.7,121.8 370.2,122.5 370.7,122.8 371.2,122.0 371.7,121.8 372.2,122.9 372.7,121.9 373.2,122.0 373.7,122.1 374.2,122.3 374.7,122.4 375.2,121.9 375.7,122.1 376.2,122.8 376.7,122.7 377.2,122.2 377.7,122.0 378.2,121.8 378.7,122.2 379.2,121.5 379.7,121.9 380.2,121.5 380.7,121.4 381.2,121.7 381.7,121.7 382.2,121.4 382.7,121.7 383.2,121.9 383.7,121.6 384.2,121.6 384.7,121.8 385.2,122.2 385.7,122.5 386.2,122.1 386.7,121.9 387.2,122.0 387.7,122.9 388.2,122.5 388.7,121.8 389.2,122.3 389.7,122.2 390.2,122.2 390.7,121.6 391.2,122.3 391.7,121.7 392.2,122.0 392.7,123.0 393.2,122.7 393.7,122.0 394.2,121.9 394.7,121.8 395.2,121.4 395.7,121.8 396.2,122.3 396.7,121.9 397.2,122.6 397.7,122.3 398.2,122.1 398.7,123.2 399.2,122.8 399.7,122.6 400.2,123.3 400.7,123.1 401.2,122.2 401.7,122.6 402.2,122.4 402.7,122.1 403.2,123.5 403.7,123.3 404.2,122.0 404.7,122.7 405.2,121.6 405.7,122.8 406.2,122.3 406.7,122.3 407.2,123.0 407.7,122.4 408.2,122.1 408.7,122.6 409.2,122.1 409.7,122.6 410.2,122.3 410.7,122.8 411.2,122.8 411.7,122.9 412.2,122.1 412.7,123.3 413.2,122.5" fill="none" stroke="#000" stroke-width="0.7" stroke-linejoin="round"/>
<polyline points="256.7,111.4 257.2,111.4 257.7,112.2 258.2,112.2 258.7,112.7 259.2,112.1 259.7,113.1 260.2,112.7 260.7,112.5 261.2,112.4 261.7,112.4 262.2,112.4 262.7,113.8 263.2,112.6 263.7,113.7 264.2,113.4 264.7,113.4 265.2,113.7 265.7,114.0 266.2,114.7 266.7,114.6 267.2,114.3 267.7,113.9 268.2,113.8 268.7,115.7 269.2,114.4 269.7,114.3 270.2,115.6 270.7,114.6 271.2,115.6 271.7,115.8 272.2,115.7 272.7,116.1 273.2,115.1 273.7,115.3 274.2,115.8 274.7,116.0 275.2,116.0 275.7,116.4 276.2,115.8 276.7,115.4 277.2,116.6 277.7,116.3 278.2,116.9 278.7,117.6 279.2,116.7 279.7,117.0 280.2,116.6 280.7,117.5 281.2,117.3 281.7,117.2 282.2,117.5 282.7,116.7 283.2,117.6 283.7,117.6 284.2,118.2 284.7,116.8 285.2,117.7 285.7,118.6 286.2,117.5 286.7,117.7 287.2,118.8 287.7,119.2 288.2,118.1 288.7,117.7 289.2,117.8 289.7,117.8 290.2,117.6 290.7,117.7 291.2,118.1 291.7,118.1 292.2,118.3 292.7,118.2 293.2,117.6 293.7,118.7 294.2,118.7 294.7,118.4 295.2,118.8 295.7,119.2 296.2,119.0 296.7,119.0 297.2,119.4 297.7,119.5 298.2,118.9 298.7,119.2 299.2,118.7 299.7,119.0 300.2,119.4 300.7,119.4 301.2,119.2 301.7,119.2 302.2,119.0 302.7,119.5 303.2,118.9 303.7,119.6 304.2,119.5 304.7,119.2 305.2,120.0 305.7,119.8 306.2,120.3 306.7,119.8 307.2,120.3 307.7,120.8 308.2,120.2 308.7,120.4 309.2,120.0 309.7,120.1 310.2,119.3 310.7,120.0 311.2,119.5 311.7,120.1 312.2,119.2 312.7,119.7 313.2,120.2 313.7,120.4 314.2,119.6 314.7,120.1 315.2,121.5 315.7,120.7 316.2,120.4 316.7,119.1 317.2,119.9 317.7,120.4 318.2,120.4 318.7,120.5 319.2,120.7 319.7,120.5 320.2,120.7 320.7,119.5 321.2,121.6 321.7,120.5 322.2,120.4 322.7,121.4 323.2,121.2 323.7,121.4 324.2,120.6 324.7,121.0 325.2,121.1 325.7,120.5 326.2,121.0 326.7,121.0 327.2,120.9 327.7,120.7 328.2,120.5 328.7,121.2 329.2,121.2 329.7,121.7 330.2,121.3 330.7,121.0 331.2,120.7 331.7,121.3 332.2,121.1 332.7,122.3 333.2,122.4 333.7,122.3 334.2,121.2 334.7,121.1 335.2,121.6 335.7,121.4 336.2,122.5 336.7,121.8 337.2,121.5 337.7,121.8 338.2,122.2 338.7,121.3 339.2,121.9 339.7,121.0 340.2,121.5 340.7,121.3 341.2,121.7 341.7,121.7 342.2,122.2 342.7,122.1 343.2,121.6 343.7,121.3 344.2,121.4 344.7,121.5 345.2,121.8 345.7,121.5 346.2,122.4 346.7,122.2 347.2,121.6 347.7,121.5 348.2,121.6 348.7,121.7 349.2,121.8 349.7,121.1 350.2,121.8 350.7,121.2 351.2,121.9 351.7,122.1 352.2,121.5 352.7,122.1 353.2,121.8 353.7,121.7 354.2,122.8 354.7,122.4 355.2,122.2 355.7,121.8 356.2,122.0 356.7,121.9 357.2,122.2 357.7,121.6 358.2,122.0 358.7,121.9 359.2,121.5 359.7,122.8 360.2,122.5 360.7,121.9 361.2,121.5 361.7,121.9 362.2,121.7 362.7,121.8 363.2,121.4 363.7,121.6 364.2,122.0 364.7,122.1 365.2,121.1 365.7,122.0 366.2,121.5 366.7,121.6 367.2,121.9 367.7,121.9 368.2,122.6 368.7,122.5 369.2,122.2 369.7,122.0 370.2,123.0 370.7,123.1 371.2,122.5 371.7,122.2 372.2,122.7 372.7,122.9 373.2,122.0 373.7,123.0 374.2,122.1 374.7,122.7 375.2,122.1 375.7,122.4 376.2,122.1 376.7,122.4 377.2,122.9 377.7,122.2 378.2,122.5 378.7,122.9 379.2,122.4 379.7,123.6 380.2,122.0 380.7,123.8 381.2,122.4 381.7,123.2 382.2,123.3 382.7,122.7 383.2,121.7 383.7,122.2 384.2,122.3 384.7,122.7 385.2,122.8 385.7,123.0 386.2,123.0 386.7,121.9 387.2,122.9 387.7,121.6 388.2,122.6 388.7,122.2 389.2,121.8 389.7,123.0 390.2,122.6 390.7,123.1 391.2,122.0 391.7,122.1 392.2,122.6 392.7,122.3 393.2,122.6 393.7,122.3 394.2,122.4 394.7,122.1 395.2,123.1 395.7,122.4 396.2,122.1 396.7,122.9 397.2,122.8 397.7,122.8 398.2,122.7 398.7,122.6 399.2,122.8 399.7,121.8 400.2,122.0 400.7,122.2 401.2,123.0 401.7,123.4 402.2,122.7 402.7,122.7 403.2,123.3 403.7,122.6 404.2,123.0 404.7,122.9 405.2,122.1 405.7,122.8 406.2,122.7 406.7,122.0 407.2,122.0 407.7,121.9 408.2,123.1 408.7,123.3 409.2,122.8 409.7,123.3 410.2,121.8 410.7,123.1 411.2,123.4 411.7,123.2 412.2,122.1 412.7,123.1 413.2,122.6" fill="none" stroke="#000" stroke-width="0.7" stroke-linejoin="round"/>
<polyline points="256.7,116.0 257.2,116.1 257.7,115.3 258.2,116.5 258.7,115.8 259.2,116.2 259.7,117.5 260.2,116.1 260.7,116.8 261.2,116.9 261.7,117.0 262.2,117.1 262.7,117.0 263.2,118.2 263.7,116.4 264.2,116.8 264.7,118.2 265.2,117.7 265.7,117.0 266.2,117.1 266.7,117.5 267.2,118.6 267.7,117.6 268.2,117.0 268.7,117.6 269.2,117.4 269.7,118.4 270.2,117.9 270.7,118.5 271.2,118.1 271.7,118.9 272.2,118.2 272.7,118.3 273.2,117.7 273.7,118.0 274.2,118.5 274.7,118.2 275.2,119.6 275.7,118.5 276.2,118.2 276.7,119.1 277.2,118.6 277.7,119.2 278.2,119.1 278.7,118.9 279.2,119.7 279.7,119.2 280.2,119.7 280.7,119.1 281.2,118.7 281.7,118.8 282.2,119.2 282.7,119.3 283.2,119.4 283.7,119.6 284.2,118.9 284.7,119.7 285.2,119.0 285.7,119.2 286.2,120.9 286.7,120.3 287.2,119.8 287.7,120.7 288.2,120.6 288.7,120.4 289.2,120.8 289.7,120.1 290.2,120.3 290.7,120.1 291.2,120.9 291.7,120.1 292.2,120.4 292.7,120.8 293.2,120.4 293.7,120.9 294.2,121.6 294.7,120.4 295.2,121.5 295.7,120.5 296.2,120.4 296.7,121.0 297.2,121.4 297.7,120.7 298.2,120.8 298.7,120.8 299.2,120.8 299.7,121.1 300.2,120.7 300.7,121.1 301.2,121.4 301.7,120.9 302.2,121.7 302.7,120.9 303.2,120.8 303.7,122.1 304.2,122.1 304.7,121.4 305.2,121.9 305.7,121.8 306.2,121.2 306.7,121.8 307.2,121.7 307.7,122.2 308.2,120.8 308.7,122.0 309.2,121.8 309.7,121.4 310.2,121.4 310.7,121.5 311.2,121.0 311.7,121.4 312.2,122.0 312.7,121.1 313.2,121.6 313.7,120.7 314.2,121.6 314.7,121.9 315.2,121.8 315.7,121.9 316.2,121.4 316.7,122.2 317.2,121.5 317.7,122.4 318.2,122.0 318.7,122.0 319.2,122.7 319.7,121.9 320.2,122.8 320.7,122.4 321.2,122.4 321.7,122.9 322.2,122.5 322.7,122.4 323.2,122.3 323.7,122.5 324.2,122.2 324.7,122.2 325.2,121.7 325.7,120.9 326.2,122.1 326.7,122.1 327.2,122.7 327.7,122.4 328.2,122.7 328.7,123.2 329.2,122.4 329.7,122.1 330.2,122.8 330.7,122.3 331.2,122.5 331.7,123.2 332.2,122.7 332.7,123.0 333.2,121.9 333.7,122.6 334.2,122.9 334.7,121.8 335.2,122.5 335.7,122.7 336.2,121.5 336.7,123.2 337.2,122.2 337.7,122.5 338.2,123.3 338.7,121.8 339.2,122.9 339.7,122.5 340.2,122.9 340.7,122.5 341.2,123.3 341.7,122.2 342.2,122.9 342.7,123.0 343.2,122.7 343.7,122.7 344.2,122.7 344.7,123.2 345.2,123.0 345.7,122.7 346.2,122.3 346.7,122.9 347.2,123.1 347.7,122.8 348.2,123.6 348.7,122.0 349.2,124.0 349.7,122.7 350.2,122.3 350.7,122.1 351.2,123.3 351.7,123.3 352.2,123.0 352.7,123.1 353.2,123.2 353.7,123.0 354.2,123.7 354.7,123.6 355.2,123.3 355.7,122.7 356.2,123.9 356.7,123.1 357.2,122.9 357.7,123.8 358.2,123.4 358.7,122.3 359.2,122.3 359.7,123.0 360.2,122.6 360.7,123.1 361.2,124.4 361.7,124.6 362.2,123.2 362.7,123.4 363.2,123.5 363.7,123.2 364.2,122.6 364.7,123.8 365.2,123.2 365.7,123.4 366.2,123.6 366.7,122.8 367.2,124.0 367.7,123.1 368.2,123.4 368.7,123.2 369.2,123.6 369.7,123.9 370.2,123.1 370.7,123.6 371.2,123.1 371.7,122.7 372.2,123.1 372.7,123.6 373.2,123.5 373.7,123.7 374.2,122.8 374.7,123.0 375.2,123.1 375.7,123.3 376.2,123.1 376.7,122.7 377.2,122.6 377.7,123.8 378.2,123.8 378.7,123.0 379.2,124.0 379.7,123.4 380.2,123.6 380.7,123.9 381.2,123.2 381.7,123.0 382.2,122.5 382.7,123.3 383.2,123.3 383.7,123.6 384.2,123.6 384.7,123.4 385.2,123.8 385.7,122.8 386.2,123.5 386.7,123.5 387.2,123.3 387.7,124.0 388.2,123.5 388.7,123.9 389.2,123.6 389.7,123.0 390.2,123.9 390.7,123.6 391.2,123.1 391.7,123.0 392.2,122.5 392.7,122.8 393.2,122.8 393.7,122.9 394.2,122.7 394.7,123.1 395.2,122.9 395.7,122.2 396.2,122.7 396.7,122.6 397.2,122.4 397.7,122.9 398.2,123.5 398.7,122.6 399.2,122.2 399.7,123.0 400.2,124.5 400.7,122.9 401.2,123.2 401.7,123.0 402.2,123.5 402.7,123.8 403.2,123.1 403.7,123.8 404.2,122.8 404.7,123.4 405.2,122.8 405.7,123.5 406.2,123.1 406.7,123.5 407.2,122.9 407.7,123.5 408.2,123.4 408.7,123.2 409.2,123.1 409.7,123.0 410.2,123.4 410.7,123.6 411.2,123.3 411.7,123.5 412.2,124.0 412.7,123.3 413.2,123.7" fill="none" stroke="#000" stroke-width="0.7" stroke-linejoin="round"/>
<polyline points="256.7,117.8 257.2,117.0 257.7,118.5 258.2,117.8 258.7,118.1 259.2,118.5 259.7,118.2 260.2,118.0 260.7,118.2 261.2,118.5 261.7,118.4 262.2,119.1 262.7,116.8 263.2,117.9 263.7,117.9 264.2,118.6 264.7,118.5 265.2,118.9 265.7,117.9 266.2,118.5 266.7,119.0 267.2,118.8 267.7,118.9 268.2,119.3 268.7,119.9 269.2,118.4 269.7,120.1 270.2,119.6 270.7,119.2 271.2,120.1 271.7,119.9 272.2,120.5 272.7,119.7 273.2,120.5 273.7,119.7 274.2,120.2 274.7,120.4 275.2,120.1 275.7,120.5 276.2,120.0 276.7,120.7 277.2,120.0 277.7,120.1 278.2,120.3 278.7,120.2 279.2,119.9 279.7,120.7 280.2,120.4 280.7,120.8 281.2,119.9 281.7,120.0 282.2,120.6 282.7,120.3 283.2,120.6 283.7,120.9 284.2,121.2 284.7,121.4 285.2,121.1 285.7,120.5 286.2,121.1 286.7,120.8 287.2,121.4 287.7,120.6 288.2,121.6 288.7,121.2 289.2,121.1 289.7,120.7 290.2,121.4 290.7,121.0 291.2,121.4 291.7,121.0 292.2,121.1 292.7,121.7 293.2,122.1 293.7,120.9 294.2,121.5 294.7,121.9 295.2,121.6 295.7,121.7 296.2,122.9 296.7,121.6 297.2,122.1 297.7,121.7 298.2,121.8 298.7,120.8 299.2,122.4 299.7,121.9 300.2,121.5 300.7,122.9 301.2,121.8 301.7,121.7 302.2,121.6 302.7,122.5 303.2,122.1 303.7,122.0 304.2,121.6 304.7,121.7 305.2,122.2 305.7,122.1 306.2,121.2 306.7,121.7 307.2,122.3 307.7,123.6 308.2,121.9 308.7,121.4 309.2,122.7 309.7,122.2 310.2,121.9 310.7,122.8 311.2,122.5 311.7,122.3 312.2,122.3 312.7,122.8 313.2,122.8 313.7,122.2 314.2,123.4 314.7,122.4 315.2,123.6 315.7,123.0 316.2,122.8 316.7,123.0 317.2,122.6 317.7,122.8 318.2,123.6 318.7,122.6 319.2,123.2 319.7,122.5 320.2,122.9 320.7,123.4 321.2,122.3 321.7,123.1 322.2,121.9 322.7,122.4 323.2,122.7 323.7,123.4 324.2,123.2 324.7,122.4 325.2,122.7 325.7,122.9 326.2,122.1 326.7,123.2 327.2,123.5 327.7,123.6 328.2,122.7 328.7,122.8 329.2,122.5 329.7,122.9 330.2,123.0 330.7,123.5 331.2,123.1 331.7,122.8 332.2,123.5 332.7,123.6 333.2,122.8 333.7,123.0 334.2,123.2 334.7,122.4 335.2,123.0 335.7,123.3 336.2,123.9 336.7,123.1 337.2,122.9 337.7,123.0 338.2,123.4 338.7,123.6 339.2,122.8 339.7,123.2 340.2,123.6 340.7,122.4 341.2,124.0 341.7,123.3 342.2,123.8 342.7,123.4 343.2,123.3 343.7,123.3 344.2,123.5 344.7,123.7 345.2,123.2 345.7,122.6 346.2,122.9 346.7,122.9 347.2,123.7 347.7,122.9 348.2,124.0 348.7,123.4 349.2,123.4 349.7,124.0 350.2,123.4 350.7,123.5 351.2,124.1 351.7,124.0 352.2,123.1 352.7,124.6 353.2,123.9 353.7,123.0 354.2,123.5 354.7,124.0 355.2,123.7 355.7,124.0 356.2,124.7 356.7,123.9 357.2,124.5 357.7,123.9 358.2,123.3 358.7,124.2 359.2,123.2 359.7,123.9 360.2,123.8 360.7,123.0 361.2,123.1 361.7,123.3 362.2,123.6 362.7,124.1 363.2,123.5 363.7,124.4 364.2,124.0 364.7,123.4 365.2,123.5 365.7,123.8 366.2,123.6 366.7,123.8 367.2,124.2 367.7,123.9 368.2,124.1 368.7,123.3 369.2,123.3 369.7,122.9 370.2,122.8 370.7,123.3 371.2,123.4 371.7,123.3 372.2,123.5 372.7,124.3 373.2,123.1 373.7,123.5 374.2,123.3 374.7,123.0 375.2,124.1 375.7,123.6 376.2,124.2 376.7,123.2 377.2,124.5 377.7,124.6 378.2,123.2 378.7,123.5 379.2,123.4 379.7,123.8 380.2,123.0 380.7,123.7 381.2,123.8 381.7,123.2 382.2,122.4 382.7,123.3 383.2,123.5 383.7,124.0 384.2,123.5 384.7,123.2 385.2,124.1 385.7,124.1 386.2,124.2 386.7,123.8 387.2,124.2 387.7,123.9 388.2,122.8 388.7,123.6 389.2,123.9 389.7,123.6 390.2,124.3 390.7,123.3 391.2,123.8 391.7,123.1 392.2,123.7 392.7,123.5 393.2,123.3 393.7,123.1 394.2,123.8 394.7,123.9 395.2,123.4 395.7,123.2 396.2,123.3 396.7,124.0 397.2,123.0 397.7,124.2 398.2,122.8 398.7,123.8 399.2,124.0 399.7,124.2 400.2,123.5 400.7,123.2 401.2,122.9 401.7,124.1 402.2,123.8 402.7,123.6 403.2,123.6 403.7,124.0 404.2,123.8 404.7,124.5 405.2,123.2 405.7,124.4 406.2,123.9 406.7,124.0 407.2,123.8 407.7,123.9 408.2,124.3 408.7,124.0 409.2,123.2 409.7,123.8 410.2,123.7 410.7,123.9 411.2,123.8 411.7,123.8 412.2,124.4 412.7,123.5 413.2,125.0" fill="none" stroke="#000" stroke-width="0.7" stroke-linejoin="round"/>
<polyline points="256.7,121.3 257.2,121.8 257.7,121.0 258.2,121.1 258.7,121.8 259.2,121.8 259.7,122.0 260.2,121.9 260.7,121.7 261.2,121.7 261.7,121.6 262.2,122.1 262.7,122.5 263.2,122.9 263.7,121.7 264.2,122.1 264.7,122.1 265.2,122.1 265.7,121.8 266.2,123.3 266.7,123.0 267.2,122.3 267.7,122.4 268.2,122.6 268.7,122.1 269.2,122.5 269.7,122.9 270.2,123.4 270.7,123.1 271.2,123.3 271.7,122.2 272.2,121.3 272.7,123.2 273.2,122.6 273.7,122.5 274.2,123.2 274.7,122.1 275.2,122.1 275.7,122.1 276.2,123.1 276.7,122.9 277.2,121.7 277.7,123.2 278.2,122.6 278.7,122.9 279.2,122.3 279.7,123.6 280.2,123.0 280.7,123.6 281.2,122.5 281.7,123.3 282.2,123.0 282.7,122.9 283.2,122.7 283.7,122.8 284.2,122.5 284.7,122.9 285.2,123.1 285.7,123.4 286.2,122.4 286.7,122.8 287.2,123.0 287.7,122.6 288.2,123.1 288.7,123.2 289.2,123.2 289.7,123.4 290.2,123.7 290.7,123.5 291.2,123.2 291.7,123.2 292.2,122.7 292.7,122.7 293.2,123.4 293.7,123.4 294.2,124.2 294.7,123.2 295.2,122.8 295.7,123.3 296.2,123.1 296.7,123.0 297.2,124.1 297.7,124.3 298.2,123.6 298.7,123.1 299.2,123.5 299.7,123.3 300.2,122.8 300.7,123.9 301.2,123.7 301.7,124.1 302.2,123.3 302.7,123.6 303.2,123.6 303.7,122.9 304.2,124.8 304.7,122.9 305.2,123.3 305.7,123.8 306.2,123.2 306.7,124.2 307.2,123.7 307.7,123.9 308.2,124.0 308.7,124.0 309.2,124.1 309.7,123.8 310.2,124.1 310.7,124.3 311.2,123.8 311.7,123.7 312.2,123.7 312.7,124.1 313.2,123.8 313.7,123.8 314.2,123.3 314.7,124.7 315.2,123.3 315.7,124.6 316.2,124.2 316.7,124.2 317.2,124.0 317.7,124.2 318.2,124.1 318.7,124.3 319.2,124.2 319.7,124.6 320.2,123.5 320.7,124.2 321.2,124.7 321.7,124.6 322.2,123.6 322.7,124.1 323.2,124.2 323.7,124.2 324.2,123.0 324.7,124.5 325.2,123.4 325.7,125.1 326.2,124.4 326.7,124.1 327.2,124.3 327.7,124.1 328.2,123.8 328.7,123.9 329.2,124.1 329.7,123.8 330.2,124.5 330.7,124.7 331.2,124.7 331.7,124.7 332.2,124.8 332.7,124.6 333.2,125.0 333.7,124.5 334.2,124.7 334.7,125.0 335.2,125.3 335.7,124.2 336.2,123.7 336.7,125.3 337.2,124.8 337.7,125.0 338.2,124.6 338.7,124.4 339.2,124.0 339.7,123.7 340.2,124.9 340.7,124.6 341.2,124.4 341.7,123.8 342.2,124.1 342.7,124.1 343.2,124.4 343.7,123.2 344.2,124.5 344.7,125.0 345.2,124.2 345.7,124.3 346.2,124.5 346.7,123.9 347.2,124.6 347.7,124.0 348.2,124.3 348.7,124.6 349.2,124.7 349.7,124.8 350.2,124.4 350.7,125.1 351.2,124.5 351.7,125.2 352.2,124.6 352.7,124.3 353.2,124.8 353.7,124.2 354.2,124.4 354.7,124.6 355.2,124.8 355.7,124.8 356.2,124.6 356.7,124.3 357.2,123.7 357.7,124.3 358.2,124.2 358.7,124.3 359.2,124.2 359.7,124.1 360.2,124.6 360.7,123.8 361.2,124.4 361.7,124.9 362.2,124.0 362.7,124.0 363.2,124.4 363.7,124.4 364.2,124.6 364.7,125.1 365.2,124.7 365.7,124.9 366.2,124.4 366.7,124.4 367.2,124.9 367.7,124.4 368.2,125.1 368.7,124.4 369.2,124.4 369.7,124.0 370.2,124.2 370.7,123.8 371.2,124.0 371.7,123.5 372.2,124.3 372.7,124.9 373.2,123.4 373.7,125.1 374.2,124.2 374.7,124.7 375.2,123.9 375.7,125.2 376.2,124.0 376.7,124.4 377.2,125.0 377.7,123.8 378.2,123.4 378.7,124.4 379.2,123.9 379.7,123.9 380.2,123.9 380.7,123.7 381.2,125.0 381.7,124.9 382.2,123.8 382.7,124.5 383.2,124.3 383.7,125.0 384.2,124.0 384.7,125.1 385.2,124.4 385.7,124.1 386.2,124.3 386.7,124.1 387.2,125.5 387.7,124.5 388.2,124.1 388.7,124.4 389.2,125.1 389.7,124.0 390.2,123.7 390.7,125.1 391.2,124.8 391.7,124.4 392.2,124.5 392.7,125.0 393.2,123.4 393.7,125.3 394.2,124.6 394.7,125.0 395.2,124.8 395.7,126.1 396.2,124.4 396.7,125.3 397.2,123.7 397.7,124.7 398.2,125.1 398.7,124.0 399.2,123.9 399.7,124.8 400.2,125.1 400.7,125.3 401.2,124.5 401.7,124.9 402.2,124.1 402.7,125.4 403.2,124.5 403.7,125.3 404.2,124.6 404.7,124.5 405.2,125.3 405.7,124.1 406.2,125.1 406.7,124.3 407.2,124.2 407.7,124.2 408.2,125.1 408.7,124.6 409.2,124.4 409.7,123.9 410.2,125.2 410.7,125.3 411.2,125.0 411.7,125.3 412.2,123.4 412.7,124.6 413.2,124.9" fill="none" stroke="#000" stroke-width="0.7" stroke-linejoin="round"/>
<polyline points="256.7,123.4 257.2,123.4 257.7,122.9 258.2,122.9 258.7,123.3 259.2,123.2 259.7,124.1 260.2,123.3 260.7,123.3 261.2,123.2 261.7,122.5 262.2,123.0 262.7,122.7 263.2,123.4 263.7,122.4 264.2,122.8 264.7,123.6 265.2,122.5 265.7,122.9 266.2,124.1 266.7,123.0 267.2,123.5 267.7,123.6 268.2,123.0 268.7,122.5 269.2,124.0 269.7,123.2 270.2,123.6 270.7,123.0 271.2,123.5 271.7,122.7 272.2,122.8 272.7,123.1 273.2,123.4 273.7,123.5 274.2,123.6 274.7,123.9 275.2,123.5 275.7,124.2 276.2,123.6 276.7,124.2 277.2,124.4 277.7,124.7 278.2,122.9 278.7,124.5 279.2,123.0 279.7,124.6 280.2,124.0 280.7,124.1 281.2,123.6 281.7,124.3 282.2,124.3 282.7,123.8 283.2,123.8 283.7,124.6 284.2,124.8 284.7,124.7 285.2,124.2 285.7,124.4 286.2,124.8 286.7,124.7 287.2,124.9 287.7,124.4 288.2,124.1 288.7,124.6 289.2,124.6 289.7,124.3 290.2,124.7 290.7,124.1 291.2,124.7 291.7,124.3 292.2,125.6 292.7,125.2 293.2,124.8 293.7,123.9 294.2,123.9 294.7,124.8 295.2,124.4 295.7,124.6 296.2,123.8 296.7,123.8 297.2,124.5 297.7,124.3 298.2,123.7 298.7,124.0 299.2,124.7 299.7,124.3 300.2,124.7 300.7,125.2 301.2,124.6 301.7,124.3 302.2,123.9 302.7,124.9 303.2,123.8 303.7,124.0 304.2,124.4 304.7,123.8 305.2,124.9 305.7,124.3 306.2,124.8 306.7,124.4 307.2,124.5 307.7,124.7 308.2,123.6 308.7,123.9 309.2,124.2 309.7,125.6 310.2,125.0 310.7,124.9 311.2,124.1 311.7,124.9 312.2,125.0 312.7,124.8 313.2,125.6 313.7,123.9 314.2,124.0 314.7,124.3 315.2,123.9 315.7,124.3 316.2,124.6 316.7,124.3 317.2,124.4 317.7,124.6 318.2,124.8 318.7,124.2 319.2,124.2 319.7,125.1 320.2,124.4 320.7,124.3 321.2,124.7 321.7,124.3 322.2,124.5 322.7,124.6 323.2,124.8 323.7,124.9 324.2,124.1 324.7,124.0 325.2,125.3 325.7,124.2 326.2,123.9 326.7,123.8 327.2,124.8 327.7,124.5 328.2,123.9 328.7,124.2 329.2,124.1 329.7,125.0 330.2,124.8 330.7,124.7 331.2,124.3 331.7,124.7 332.2,125.1 332.7,124.8 333.2,125.3 333.7,124.8 334.2,125.2 334.7,125.2 335.2,124.6 335.7,125.5 336.2,124.9 336.7,125.2 337.2,124.4 337.7,124.3 338.2,124.7 338.7,124.5 339.2,125.1 339.7,125.0 340.2,125.3 340.7,125.1 341.2,124.3 341.7,125.3 342.2,124.5 342.7,124.5 343.2,125.0 343.7,124.9 344.2,125.3 344.7,126.2 345.2,125.2 345.7,125.7 346.2,124.9 346.7,125.0 347.2,124.7 347.7,124.7 348.2,125.6 348.7,125.0 349.2,125.1 349.7,124.5 350.2,125.7 350.7,124.9 351.2,124.6 351.7,124.9 352.2,125.3 352.7,125.3 353.2,125.5 353.7,124.2 354.2,124.6 354.7,125.5 355.2,125.8 355.7,124.5 356.2,124.6 356.7,124.0 357.2,124.4 357.7,124.4 358.2,124.7 358.7,124.3 359.2,125.2 359.7,124.8 360.2,124.8 360.7,125.3 361.2,124.7 361.7,124.3 362.2,125.0 362.7,125.8 363.2,124.8 363.7,125.0 364.2,124.8 364.7,124.9 365.2,125.2 365.7,123.8 366.2,124.4 366.7,124.7 367.2,124.8 367.7,125.4 368.2,126.0 368.7,125.3 369.2,125.2 369.7,125.2 370.2,125.4 370.7,124.3 371.2,124.5 371.7,124.8 372.2,125.0 372.7,123.9 373.2,125.0 373.7,124.0 374.2,125.1 374.7,125.1 375.2,123.7 375.7,125.1 376.2,124.9 376.7,124.6 377.2,125.3 377.7,125.7 378.2,125.1 378.7,124.4 379.2,124.3 379.7,124.4 380.2,124.5 380.7,125.5 381.2,125.2 381.7,125.0 382.2,125.4 382.7,124.9 383.2,124.9 383.7,124.4 384.2,124.5 384.7,124.8 385.2,124.3 385.7,125.6 386.2,124.8 386.7,124.4 387.2,125.2 387.7,124.2 388.2,125.3 388.7,124.9 389.2,125.7 389.7,124.7 390.2,124.7 390.7,124.6 391.2,124.4 391.7,125.2 392.2,124.6 392.7,125.2 393.2,124.7 393.7,125.4 394.2,123.8 394.7,125.2 395.2,125.2 395.7,125.3 396.2,124.8 396.7,125.9 397.2,124.9 397.7,125.2 398.2,124.9 398.7,124.9 399.2,125.1 399.7,125.4 400.2,124.6 400.7,124.9 401.2,124.4 401.7,125.1 402.2,124.6 402.7,124.7 403.2,125.4 403.7,125.2 404.2,125.3 404.7,125.1 405.2,125.4 405.7,125.2 406.2,124.6 406.7,125.1 407.2,124.9 407.7,124.9 408.2,125.1 408.7,124.7 409.2,124.5 409.7,125.5 410.2,125.7 410.7,124.6 411.2,125.3 411.7,125.0 412.2,124.6 412.7,124.6 413.2,124.8" fill="none" stroke="#000" stroke-width="0.7" stroke-linejoin="round"/>
<polyline points="256.7,126.2 257.2,126.3 257.7,127.1 258.2,126.1 258.7,126.9 259.2,126.4 259.7,126.5 260.2,126.2 260.7,126.6 261.2,125.6 261.7,126.3 262.2,126.8 262.7,126.8 263.2,125.6 263.7,125.9 264.2,126.2 264.7,127.3 265.2,126.3 265.7,126.5 266.2,126.4 266.7,126.6 267.2,126.2 267.7,126.8 268.2,126.9 268.7,127.0 269.2,126.2 269.7,127.0 270.2,127.4 270.7,126.9 271.2,126.8 271.7,125.4 272.2,127.0 272.7,127.3 273.2,126.9 273.7,126.6 274.2,126.8 274.7,127.8 275.2,126.0 275.7,126.2 276.2,126.9 276.7,126.6 277.2,125.5 277.7,126.7 278.2,126.7 278.7,126.1 279.2,126.7 279.7,126.8 280.2,125.8 280.7,126.8 281.2,127.5 281.7,127.3 282.2,126.0 282.7,125.8 283.2,126.5 283.7,126.6 284.2,125.8 284.7,126.1 285.2,126.9 285.7,126.5 286.2,126.8 286.7,126.3 287.2,126.7 287.7,126.0 288.2,126.0 288.7,125.7 289.2,125.2 289.7,125.9 290.2,125.4 290.7,125.7 291.2,125.9 291.7,126.1 292.2,126.1 292.7,125.7 293.2,126.0 293.7,126.6 294.2,126.0 294.7,126.1 295.2,125.0 295.7,125.6 296.2,126.6 296.7,125.7 297.2,125.6 297.7,126.6 298.2,125.6 298.7,126.5 299.2,125.9 299.7,125.8 300.2,125.2 300.7,126.7 301.2,125.2 301.7,125.5 302.2,126.4 302.7,125.3 303.2,126.0 303.7,125.7 304.2,125.7 304.7,125.4 305.2,125.4 305.7,125.8 306.2,125.2 306.7,126.0 307.2,125.9 307.7,126.1 308.2,125.9 308.7,125.9 309.2,125.9 309.7,126.0 310.2,125.9 310.7,126.0 311.2,125.3 311.7,124.9 312.2,125.6 312.7,126.0 313.2,125.2 313.7,125.0 314.2,125.6 314.7,126.1 315.2,126.3 315.7,125.6 316.2,125.3 316.7,125.8 317.2,126.1 317.7,125.9 318.2,126.5 318.7,125.8 319.2,126.4 319.7,126.7 320.2,125.5 320.7,125.5 321.2,126.3 321.7,127.4 322.2,126.4 322.7,126.2 323.2,126.9 323.7,126.1 324.2,125.4 324.7,125.7 325.2,126.7 325.7,125.4 326.2,125.4 326.7,126.4 327.2,126.0 327.7,126.4 328.2,125.3 328.7,125.4 329.2,125.6 329.7,125.1 330.2,125.6 330.7,125.7 331.2,126.1 331.7,125.8 332.2,125.5 332.7,126.0 333.2,126.3 333.7,126.4 334.2,126.0 334.7,125.7 335.2,125.8 335.7,125.5 336.2,126.0 336.7,125.9 337.2,126.6 337.7,126.1 338.2,126.2 338.7,126.3 339.2,124.7 339.7,125.2 340.2,125.4 340.7,125.5 341.2,124.8 341.7,125.8 342.2,126.0 342.7,125.9 343.2,126.0 343.7,125.3 344.2,126.5 344.7,125.8 345.2,125.3 345.7,126.2 346.2,126.3 346.7,125.7 347.2,125.2 347.7,125.3 348.2,125.8 348.7,124.8 349.2,126.4 349.7,126.3 350.2,125.7 350.7,126.2 351.2,125.5 351.7,125.1 352.2,126.0 352.7,125.9 353.2,125.2 353.7,124.8 354.2,125.0 354.7,125.9 355.2,125.3 355.7,126.8 356.2,125.1 356.7,125.8 357.2,125.7 357.7,125.4 358.2,125.9 358.7,125.1 359.2,125.5 359.7,125.0 360.2,124.6 360.7,125.6 361.2,125.0 361.7,125.0 362.2,125.9 362.7,125.6 363.2,125.8 363.7,126.4 364.2,125.7 364.7,125.8 365.2,125.1 365.7,126.0 366.2,125.9 366.7,125.1 367.2,125.9 367.7,125.7 368.2,125.4 368.7,125.4 369.2,126.5 369.7,125.1 370.2,125.3 370.7,125.5 371.2,125.4 371.7,124.6 372.2,125.8 372.7,125.9 373.2,126.3 373.7,125.3 374.2,125.0 374.7,126.0 375.2,125.1 375.7,125.4 376.2,125.3 376.7,125.5 377.2,125.3 377.7,125.8 378.2,125.2 378.7,126.6 379.2,125.9 379.7,125.2 380.2,125.0 380.7,125.5 381.2,125.3 381.7,125.1 382.2,126.1 382.7,125.8 383.2,124.9 383.7,125.7 384.2,125.4 384.7,125.9 385.2,125.4 385.7,126.7 386.2,125.8 386.7,126.7 387.2,125.7 387.7,126.5 388.2,125.9 388.7,126.7 389.2,125.9 389.7,125.5 390.2,125.5 390.7,125.6 391.2,126.1 391.7,126.0 392.2,125.9 392.7,126.2 393.2,126.6 393.7,125.5 394.2,126.4 394.7,126.9 395.2,125.6 395.7,125.6 396.2,126.1 396.7,126.1 397.2,125.7 397.7,125.8 398.2,126.6 398.7,126.3 399.2,125.4 399.7,124.9 400.2,125.2 400.7,125.7 401.2,125.2 401.7,125.0 402.2,125.7 402.7,125.4 403.2,125.4 403.7,125.7 404.2,126.1 404.7,125.6 405.2,125.8 405.7,125.5 406.2,126.2 406.7,125.0 407.2,125.1 407.7,125.4 408.2,126.4 408.7,126.1 409.2,125.0 409.7,125.4 410.2,125.8 410.7,125.6 411.2,126.0 411.7,125.4 412.2,124.9 412.7,126.0 413.2,126.3" fill="none" stroke="#000" stroke-width="0.7" stroke-linejoin="round"/>
<polyline points="256.7,128.5 257.2,127.8 257.7,127.6 258.2,128.3 258.7,127.3 259.2,128.2 259.7,127.3 260.2,128.7 260.7,128.3 261.2,127.5 261.7,127.5 262.2,126.8 262.7,127.7 263.2,128.3 263.7,128.1 264.2,127.7 264.7,128.6 265.2,127.9 265.7,127.8 266.2,127.4 266.7,127.8 267.2,128.8 267.7,127.8 268.2,126.8 268.7,127.7 269.2,128.4 269.7,128.1 270.2,127.4 270.7,127.7 271.2,127.0 271.7,128.0 272.2,127.3 272.7,127.4 273.2,127.4 273.7,127.4 274.2,128.4 274.7,128.2 275.2,127.4 275.7,127.5 276.2,128.3 276.7,127.5 277.2,127.3 277.7,127.2 278.2,128.2 278.7,127.5 279.2,127.4 279.7,127.2 280.2,127.1 280.7,127.9 281.2,127.1 281.7,127.1 282.2,126.5 282.7,126.8 283.2,127.1 283.7,127.0 284.2,126.6 284.7,127.0 285.2,127.1 285.7,125.9 286.2,127.2 286.7,126.9 287.2,126.4 287.7,126.9 288.2,127.2 288.7,127.0 289.2,126.9 289.7,126.9 290.2,127.2 290.7,126.3 291.2,126.7 291.7,127.1 292.2,127.0 292.7,126.4 293.2,126.7 293.7,126.5 294.2,126.9 294.7,126.1 295.2,126.0 295.7,126.1 296.2,126.7 296.7,127.8 297.2,127.2 297.7,127.3 298.2,126.8 298.7,127.6 299.2,127.1 299.7,126.9 300.2,127.4 300.7,126.3 301.2,125.9 301.7,126.4 302.2,127.3 302.7,127.0 303.2,126.6 303.7,126.4 304.2,126.3 304.7,126.6 305.2,126.0 305.7,126.8 306.2,126.0 306.7,126.9 307.2,126.1 307.7,125.9 308.2,126.2 308.7,126.0 309.2,126.3 309.7,125.5 310.2,126.1 310.7,126.3 311.2,126.3 311.7,126.0 312.2,126.8 312.7,125.6 313.2,126.4 313.7,126.2 314.2,126.4 314.7,126.2 315.2,126.9 315.7,126.2 316.2,125.8 316.7,127.4 317.2,126.2 317.7,126.1 318.2,126.4 318.7,125.6 319.2,125.9 319.7,126.3 320.2,125.5 320.7,125.9 321.2,126.6 321.7,126.8 322.2,126.0 322.7,126.0 323.2,126.6 323.7,125.4 324.2,125.8 324.7,125.8 325.2,125.4 325.7,125.1 326.2,126.0 326.7,126.6 327.2,126.7 327.7,126.9 328.2,125.2 328.7,126.3 329.2,127.0 329.7,126.0 330.2,125.5 330.7,126.2 331.2,126.2 331.7,126.5 332.2,126.2 332.7,126.8 333.2,126.6 333.7,126.5 334.2,126.4 334.7,126.8 335.2,126.3 335.7,127.2 336.2,127.2 336.7,127.1 337.2,126.2 337.7,126.9 338.2,126.7 338.7,126.9 339.2,125.7 339.7,126.1 340.2,126.4 340.7,127.0 341.2,126.1 341.7,126.8 342.2,126.3 342.7,127.0 343.2,126.3 343.7,125.5 344.2,126.1 344.7,126.5 345.2,126.9 345.7,126.5 346.2,126.1 346.7,125.6 347.2,126.1 347.7,126.2 348.2,126.9 348.7,126.7 349.2,125.7 349.7,125.3 350.2,126.1 350.7,126.4 351.2,125.9 351.7,126.2 352.2,127.0 352.7,126.8 353.2,125.7 353.7,126.6 354.2,126.5 354.7,126.4 355.2,126.6 355.7,126.6 356.2,127.4 356.7,126.4 357.2,125.8 357.7,125.9 358.2,126.4 358.7,126.9 359.2,126.3 359.7,126.2 360.2,126.2 360.7,125.9 361.2,126.1 361.7,125.6 362.2,126.5 362.7,126.4 363.2,126.3 363.7,125.8 364.2,126.0 364.7,125.9 365.2,126.4 365.7,126.0 366.2,126.2 366.7,126.5 367.2,126.7 367.7,125.6 368.2,126.0 368.7,125.6 369.2,126.8 369.7,125.8 370.2,126.8 370.7,125.9 371.2,126.6 371.7,125.9 372.2,125.9 372.7,126.0 373.2,126.1 373.7,126.0 374.2,126.3 374.7,126.4 375.2,126.4 375.7,125.7 376.2,125.2 376.7,126.1 377.2,124.8 377.7,126.5 378.2,126.4 378.7,125.5 379.2,126.2 379.7,125.8 380.2,126.7 380.7,125.8 381.2,125.9 381.7,125.9 382.2,126.2 382.7,125.6 383.2,127.1 383.7,125.9 384.2,126.9 384.7,126.0 385.2,126.0 385.7,125.7 386.2,125.7 386.7,126.1 387.2,126.4 387.7,126.0 388.2,125.6 388.7,126.0 389.2,125.5 389.7,124.8 390.2,126.0 390.7,125.1 391.2,125.6 391.7,125.9 392.2,125.7 392.7,125.8 393.2,126.7 393.7,126.4 394.2,126.7 394.7,126.2 395.2,126.1 395.7,126.9 396.2,126.0 396.7,126.5 397.2,126.4 397.7,126.4 398.2,126.6 398.7,126.3 399.2,126.6 399.7,125.9 400.2,126.4 400.7,125.8 401.2,126.6 401.7,126.6 402.2,126.1 402.7,126.0 403.2,126.2 403.7,126.4 404.2,125.5 404.7,125.7 405.2,126.4 405.7,126.0 406.2,125.5 406.7,124.9 407.2,125.5 407.7,125.0 408.2,125.7 408.7,125.6 409.2,126.5 409.7,125.1 410.2,125.9 410.7,125.1 411.2,125.1 411.7,125.5 412.2,125.3 412.7,126.7 413.2,125.7" fill="none" stroke="#000" stroke-width="0.7" stroke-linejoin="round"/>
<polyline points="256.7,131.7 257.2,130.9 257.7,131.3 258.2,130.4 258.7,131.0 259.2,130.9 259.7,129.8 260.2,130.8 260.7,130.2 261.2,131.0 261.7,130.6 262.2,130.3 262.7,131.6 263.2,130.6 263.7,130.1 264.2,130.4 264.7,130.3 265.2,130.6 265.7,129.4 266.2,130.8 266.7,129.6 267.2,129.6 267.7,129.4 268.2,129.5 268.7,130.4 269.2,129.7 269.7,129.0 270.2,129.3 270.7,129.5 271.2,129.9 271.7,129.2 272.2,129.5 272.7,130.6 273.2,129.1 273.7,129.1 274.2,128.5 274.7,129.4 275.2,128.9 275.7,129.9 276.2,129.4 276.7,129.3 277.2,128.5 277.7,128.4 278.2,128.4 278.7,128.7 279.2,128.4 279.7,128.3 280.2,128.6 280.7,128.4 281.2,128.3 281.7,129.0 282.2,129.0 282.7,128.4 283.2,129.6 283.7,129.0 284.2,129.3 284.7,129.6 285.2,128.2 285.7,129.1 286.2,129.3 286.7,129.4 287.2,129.2 287.7,129.3 288.2,128.1 288.7,128.4 289.2,129.0 289.7,127.9 290.2,128.5 290.7,128.6 291.2,128.7 291.7,128.9 292.2,128.4 292.7,127.9 293.2,127.8 293.7,128.2 294.2,128.4 294.7,128.3 295.2,128.1 295.7,128.0 296.2,127.4 296.7,128.0 297.2,128.3 297.7,127.6 298.2,128.4 298.7,128.5 299.2,129.3 299.7,128.2 300.2,127.9 300.7,127.6 301.2,127.6 301.7,127.3 302.2,127.3 302.7,128.3 303.2,127.9 303.7,127.9 304.2,127.0 304.7,126.7 305.2,126.8 305.7,128.3 306.2,128.1 306.7,127.0 307.2,127.6 307.7,127.6 308.2,127.1 308.7,127.2 309.2,127.9 309.7,127.8 310.2,128.0 310.7,127.7 311.2,127.7 311.7,127.8 312.2,127.6 312.7,128.4 313.2,127.7 313.7,127.8 314.2,127.7 314.7,127.3 315.2,127.6 315.7,127.4 316.2,127.2 316.7,127.9 317.2,128.4 317.7,127.6 318.2,127.5 318.7,127.2 319.2,126.9 319.7,127.9 320.2,127.9 320.7,127.3 321.2,127.7 321.7,127.4 322.2,128.4 322.7,127.7 323.2,127.8 323.7,128.3 324.2,126.5 324.7,127.7 325.2,127.7 325.7,127.3 326.2,127.3 326.7,127.8 327.2,126.9 327.7,126.9 328.2,128.0 328.7,127.9 329.2,127.6 329.7,127.6 330.2,127.3 330.7,127.0 331.2,127.1 331.7,127.4 332.2,127.1 332.7,126.6 333.2,127.3 333.7,127.3 334.2,127.0 334.7,127.4 335.2,127.3 335.7,127.6 336.2,127.2 336.7,127.1 337.2,127.4 337.7,127.5 338.2,127.0 338.7,126.6 339.2,127.7 339.7,126.9 340.2,127.2 340.7,126.8 341.2,127.2 341.7,127.7 342.2,127.9 342.7,126.6 343.2,126.5 343.7,125.6 344.2,127.5 344.7,127.9 345.2,127.3 345.7,127.1 346.2,127.6 346.7,126.8 347.2,127.4 347.7,127.6 348.2,127.5 348.7,127.3 349.2,126.7 349.7,126.8 350.2,126.4 350.7,127.7 351.2,127.4 351.7,127.0 352.2,127.0 352.7,127.1 353.2,126.8 353.7,127.3 354.2,127.2 354.7,127.2 355.2,127.0 355.7,125.9 356.2,126.9 356.7,126.5 357.2,126.3 357.7,128.0 358.2,126.8 358.7,126.9 359.2,126.9 359.7,126.7 360.2,127.8 360.7,126.3 361.2,127.4 361.7,126.8 362.2,127.5 362.7,127.4 363.2,127.0 363.7,126.3 364.2,127.3 364.7,127.4 365.2,127.3 365.7,126.8 366.2,127.2 366.7,126.6 367.2,127.1 367.7,127.2 368.2,126.9 368.7,126.7 369.2,127.1 369.7,126.8 370.2,126.6 370.7,127.5 371.2,127.0 371.7,127.0 372.2,126.9 372.7,127.4 373.2,127.0 373.7,126.8 374.2,127.0 374.7,126.9 375.2,126.5 375.7,126.3 376.2,127.5 376.7,126.6 377.2,127.1 377.7,126.8 378.2,126.6 378.7,126.6 379.2,127.4 379.7,126.4 380.2,126.5 380.7,126.4 381.2,126.7 381.7,126.4 382.2,127.1 382.7,126.5 383.2,127.3 383.7,127.1 384.2,127.0 384.7,126.8 385.2,127.6 385.7,127.9 386.2,126.8 386.7,126.4 387.2,127.1 387.7,126.5 388.2,126.8 388.7,126.9 389.2,126.0 389.7,126.9 390.2,126.0 390.7,125.9 391.2,126.3 391.7,127.3 392.2,126.5 392.7,127.0 393.2,126.5 393.7,127.2 394.2,127.0 394.7,127.5 395.2,127.0 395.7,127.0 396.2,126.1 396.7,127.2 397.2,127.2 397.7,126.9 398.2,126.9 398.7,127.1 399.2,127.1 399.7,126.4 400.2,126.7 400.7,126.9 401.2,126.8 401.7,126.3 402.2,125.8 402.7,127.0 403.2,127.1 403.7,127.5 404.2,126.9 404.7,126.3 405.2,126.8 405.7,126.7 406.2,126.4 406.7,126.1 407.2,126.0 407.7,126.6 408.2,126.6 408.7,126.8 409.2,126.9 409.7,127.1 410.2,127.7 410.7,126.9 411.2,127.5 411.7,126.5 412.2,126.5 412.7,126.6 413.2,125.9" fill="none" stroke="#000" stroke-width="0.7" stroke-linejoin="round"/>
<polyline points="256.7,131.8 257.2,132.1 257.7,131.6 258.2,132.1 258.7,132.1 259.2,131.8 259.7,132.1 260.2,131.6 260.7,131.8 261.2,131.3 261.7,132.5 262.2,131.7 262.7,132.1 263.2,132.5 263.7,132.2 264.2,131.3 264.7,131.4 265.2,131.1 265.7,131.3 266.2,130.7 266.7,130.2 267.2,131.0 267.7,130.8 268.2,131.5 268.7,131.6 269.2,130.3 269.7,130.5 270.2,131.2 270.7,131.4 271.2,130.8 271.7,130.7 272.2,129.8 272.7,131.4 273.2,130.1 273.7,130.6 274.2,130.3 274.7,129.6 275.2,130.4 275.7,130.5 276.2,129.9 276.7,129.9 277.2,130.1 277.7,130.2 278.2,130.2 278.7,129.5 279.2,129.5 279.7,129.6 280.2,128.6 280.7,129.1 281.2,129.6 281.7,129.4 282.2,129.3 282.7,130.1 283.2,129.8 283.7,130.0 284.2,129.5 284.7,129.3 285.2,128.9 285.7,129.4 286.2,128.6 286.7,129.0 287.2,129.6 287.7,129.6 288.2,129.3 288.7,128.9 289.2,129.6 289.7,129.0 290.2,129.3 290.7,129.0 291.2,130.2 291.7,130.1 292.2,128.9 292.7,128.7 293.2,129.3 293.7,129.5 294.2,129.7 294.7,129.2 295.2,128.6 295.7,129.1 296.2,129.1 296.7,128.3 297.2,128.8 297.7,128.9 298.2,128.6 298.7,129.1 299.2,129.4 299.7,129.3 300.2,128.5 300.7,128.6 301.2,129.3 301.7,128.8 302.2,128.8 302.7,130.0 303.2,127.9 303.7,128.6 304.2,128.6 304.7,128.7 305.2,129.4 305.7,128.6 306.2,128.4 306.7,128.5 307.2,128.3 307.7,128.6 308.2,129.5 308.7,128.0 309.2,128.1 309.7,128.1 310.2,127.2 310.7,128.3 311.2,128.1 311.7,127.3 312.2,128.0 312.7,128.3 313.2,127.7 313.7,128.6 314.2,127.8 314.7,127.4 315.2,128.3 315.7,128.1 316.2,128.1 316.7,127.3 317.2,127.3 317.7,127.5 318.2,127.8 318.7,127.9 319.2,128.4 319.7,128.5 320.2,128.1 320.7,128.1 321.2,128.9 321.7,128.1 322.2,128.5 322.7,127.9 323.2,128.1 323.7,128.0 324.2,127.8 324.7,128.3 325.2,127.7 325.7,127.8 326.2,128.1 326.7,128.7 327.2,127.0 327.7,127.9 328.2,128.1 328.7,127.7 329.2,128.2 329.7,128.1 330.2,128.1 330.7,127.7 331.2,127.8 331.7,127.8 332.2,127.5 332.7,127.9 333.2,127.4 333.7,127.5 334.2,127.3 334.7,128.3 335.2,127.5 335.7,127.3 336.2,128.1 336.7,127.6 337.2,127.9 337.7,127.6 338.2,127.9 338.7,127.8 339.2,126.7 339.7,128.1 340.2,128.1 340.7,127.0 341.2,128.0 341.7,127.6 342.2,127.7 342.7,128.1 343.2,128.0 343.7,127.9 344.2,128.3 344.7,128.0 345.2,127.4 345.7,127.0 346.2,127.9 346.7,126.8 347.2,127.3 347.7,127.3 348.2,127.2 348.7,128.1 349.2,127.6 349.7,127.3 350.2,127.7 350.7,127.1 351.2,127.8 351.7,128.2 352.2,127.2 352.7,127.2 353.2,127.7 353.7,126.4 354.2,126.7 354.7,127.0 355.2,126.7 355.7,127.4 356.2,127.6 356.7,127.5 357.2,127.6 357.7,128.0 358.2,128.0 358.7,128.0 359.2,127.4 359.7,127.6 360.2,128.1 360.7,127.7 361.2,128.2 361.7,127.4 362.2,127.5 362.7,127.0 363.2,127.4 363.7,127.6 364.2,127.2 364.7,128.2 365.2,126.6 365.7,127.7 366.2,126.9 366.7,127.3 367.2,126.9 367.7,127.3 368.2,127.4 368.7,127.0 369.2,126.8 369.7,127.1 370.2,127.5 370.7,127.7 371.2,128.1 371.7,126.7 372.2,127.7 372.7,127.2 373.2,127.4 373.7,127.4 374.2,127.6 374.7,127.5 375.2,127.4 375.7,128.0 376.2,127.6 376.7,127.5 377.2,127.9 377.7,126.8 378.2,127.0 378.7,128.0 379.2,127.5 379.7,126.7 380.2,127.8 380.7,127.8 381.2,127.0 381.7,126.6 382.2,127.1 382.7,127.3 383.2,126.8 383.7,126.5 384.2,127.1 384.7,127.0 385.2,126.2 385.7,126.3 386.2,126.7 386.7,126.6 387.2,127.0 387.7,127.2 388.2,127.8 388.7,127.3 389.2,127.6 389.7,126.5 390.2,127.0 390.7,127.7 391.2,126.8 391.7,128.0 392.2,127.7 392.7,127.4 393.2,127.3 393.7,126.8 394.2,126.8 394.7,127.1 395.2,127.1 395.7,127.8 396.2,126.8 396.7,126.9 397.2,126.3 397.7,127.0 398.2,127.1 398.7,127.6 399.2,128.0 399.7,127.6 400.2,126.9 400.7,127.4 401.2,127.4 401.7,127.2 402.2,126.8 402.7,127.5 403.2,127.0 403.7,127.4 404.2,127.4 404.7,126.3 405.2,127.6 405.7,128.3 406.2,127.1 406.7,127.1 407.2,127.7 407.7,126.8 408.2,127.3 408.7,127.3 409.2,126.9 409.7,126.9 410.2,126.7 410.7,126.8 411.2,127.3 411.7,126.6 412.2,126.7 412.7,126.8 413.2,127.3" fill="none" stroke="#000" stroke-width="0.7" stroke-linejoin="round"/>
<polyline points="256.7,133.7 257.2,133.4 257.7,133.7 258.2,133.3 258.7,133.4 259.2,133.1 259.7,132.8 260.2,133.2 260.7,133.5 261.2,133.4 261.7,133.0 262.2,133.1 262.7,132.5 263.2,132.9 263.7,133.3 264.2,133.3 264.7,133.5 265.2,132.2 265.7,133.5 266.2,133.0 266.7,133.4 267.2,132.6 267.7,133.2 268.2,132.5 268.7,131.9 269.2,132.4 269.7,132.0 270.2,132.2 270.7,132.5 271.2,132.5 271.7,132.4 272.2,132.5 272.7,131.3 273.2,132.5 273.7,131.6 274.2,132.0 274.7,131.7 275.2,131.5 275.7,132.3 276.2,131.2 276.7,131.4 277.2,132.2 277.7,130.5 278.2,130.6 278.7,131.9 279.2,131.2 279.7,131.6 280.2,131.2 280.7,130.8 281.2,131.3 281.7,130.8 282.2,130.9 282.7,131.2 283.2,130.5 283.7,130.5 284.2,130.3 284.7,131.4 285.2,131.8 285.7,131.5 286.2,130.7 286.7,130.7 287.2,130.3 287.7,130.6 288.2,131.1 288.7,130.6 289.2,130.5 289.7,129.0 290.2,130.5 290.7,129.8 291.2,130.2 291.7,130.4 292.2,130.3 292.7,130.6 293.2,130.9 293.7,129.1 294.2,129.4 294.7,130.8 295.2,130.2 295.7,129.6 296.2,129.7 296.7,130.0 297.2,130.4 297.7,129.8 298.2,130.0 298.7,129.4 299.2,130.8 299.7,130.3 300.2,129.9 300.7,129.5 301.2,130.1 301.7,130.6 302.2,131.2 302.7,131.1 303.2,130.1 303.7,129.9 304.2,129.6 304.7,130.1 305.2,129.6 305.7,130.3 306.2,130.1 306.7,130.1 307.2,129.3 307.7,130.2 308.2,129.5 308.7,129.0 309.2,129.6 309.7,129.6 310.2,129.5 310.7,129.9 311.2,129.9 311.7,130.4 312.2,129.1 312.7,129.7 313.2,127.9 313.7,129.8 314.2,128.9 314.7,129.4 315.2,128.7 315.7,129.1 316.2,129.0 316.7,128.4 317.2,128.5 317.7,127.6 318.2,129.1 318.7,128.8 319.2,128.8 319.7,129.5 320.2,129.0 320.7,128.9 321.2,127.9 321.7,128.9 322.2,128.7 322.7,129.2 323.2,128.4 323.7,128.1 324.2,128.6 324.7,129.5 325.2,128.2 325.7,129.3 326.2,128.7 326.7,127.8 327.2,128.9 327.7,129.7 328.2,128.8 328.7,128.2 329.2,128.6 329.7,128.2 330.2,129.8 330.7,128.8 331.2,127.5 331.7,128.8 332.2,128.7 332.7,128.1 333.2,128.3 333.7,128.6 334.2,129.3 334.7,128.1 335.2,128.0 335.7,128.8 336.2,128.0 336.7,127.8 337.2,128.3 337.7,128.6 338.2,128.3 338.7,128.0 339.2,128.8 339.7,128.8 340.2,127.5 340.7,127.9 341.2,128.1 341.7,128.4 342.2,128.5 342.7,128.2 343.2,128.4 343.7,128.6 344.2,128.1 344.7,127.8 345.2,128.9 345.7,129.3 346.2,128.6 346.7,128.2 347.2,128.7 347.7,128.2 348.2,127.9 348.7,128.3 349.2,128.7 349.7,128.3 350.2,128.3 350.7,127.8 351.2,128.3 351.7,128.7 352.2,127.8 352.7,127.7 353.2,128.4 353.7,127.9 354.2,127.3 354.7,127.6 355.2,128.4 355.7,128.0 356.2,128.6 356.7,128.1 357.2,128.0 357.7,128.5 358.2,127.9 358.7,128.6 359.2,128.0 359.7,127.9 360.2,128.2 360.7,127.9 361.2,127.5 361.7,127.6 362.2,128.3 362.7,128.2 363.2,128.1 363.7,128.3 364.2,127.7 364.7,128.0 365.2,128.9 365.7,127.9 366.2,129.0 366.7,128.4 367.2,128.7 367.7,128.6 368.2,128.4 368.7,128.6 369.2,128.9 369.7,128.3 370.2,128.1 370.7,128.8 371.2,128.2 371.7,128.2 372.2,128.1 372.7,128.0 373.2,127.3 373.7,127.9 374.2,127.8 374.7,127.5 375.2,127.9 375.7,128.2 376.2,129.0 376.7,127.9 377.2,128.7 377.7,128.0 378.2,128.5 378.7,128.1 379.2,128.6 379.7,128.3 380.2,128.0 380.7,127.5 381.2,128.7 381.7,127.6 382.2,128.0 382.7,129.0 383.2,128.2 383.7,127.9 384.2,128.0 384.7,127.9 385.2,127.6 385.7,127.8 386.2,127.5 386.7,127.3 387.2,127.6 387.7,127.8 388.2,127.7 388.7,127.9 389.2,128.6 389.7,128.6 390.2,127.9 390.7,127.3 391.2,128.4 391.7,127.9 392.2,128.3 392.7,127.8 393.2,128.2 393.7,127.4 394.2,128.1 394.7,127.3 395.2,128.7 395.7,127.7 396.2,126.9 396.7,128.3 397.2,128.3 397.7,128.4 398.2,127.3 398.7,127.9 399.2,128.3 399.7,127.7 400.2,127.8 400.7,127.6 401.2,127.6 401.7,128.3 402.2,127.3 402.7,127.6 403.2,127.8 403.7,127.6 404.2,128.0 404.7,126.8 405.2,128.2 405.7,127.3 406.2,127.6 406.7,127.6 407.2,128.0 407.7,127.7 408.2,127.8 408.7,128.3 409.2,128.9 409.7,127.7 410.2,127.5 410.7,127.4 411.2,127.2 411.7,127.1 412.2,127.5 412.7,127.9 413.2,127.4" fill="none" stroke="#000" stroke-width="0.7" stroke-linejoin="round"/>
<polyline points="256.7,136.4 257.2,134.8 257.7,134.9 258.2,134.4 258.7,134.8 259.2,134.8 259.7,135.3 260.2,133.4 260.7,134.4 261.2,134.7 261.7,134.6 262.2,133.8 262.7,134.2 263.2,135.0 263.7,134.2 264.2,134.9 264.7,133.4 265.2,133.6 265.7,133.7 266.2,133.2 266.7,133.9 267.2,133.1 267.7,133.7 268.2,132.7 268.7,133.0 269.2,133.5 269.7,133.5 270.2,132.8 270.7,132.4 271.2,133.3 271.7,132.5 272.2,133.0 272.7,133.4 273.2,133.0 273.7,131.9 274.2,132.9 274.7,132.6 275.2,131.9 275.7,131.9 276.2,132.7 276.7,132.3 277.2,132.3 277.7,132.6 278.2,132.2 278.7,133.2 279.2,132.5 279.7,131.9 280.2,132.0 280.7,131.7 281.2,132.2 281.7,131.1 282.2,131.9 282.7,131.3 283.2,130.7 283.7,132.0 284.2,131.7 284.7,131.7 285.2,131.4 285.7,131.4 286.2,131.1 286.7,132.1 287.2,132.1 287.7,131.5 288.2,131.6 288.7,131.6 289.2,131.8 289.7,131.5 290.2,131.3 290.7,131.3 291.2,131.5 291.7,131.2 292.2,131.0 292.7,131.7 293.2,131.2 293.7,131.2 294.2,130.3 294.7,131.0 295.2,130.5 295.7,130.2 296.2,129.9 296.7,130.1 297.2,130.1 297.7,130.3 298.2,130.1 298.7,131.0 299.2,130.4 299.7,130.2 300.2,130.1 300.7,129.7 301.2,129.8 301.7,130.2 302.2,129.3 302.7,130.7 303.2,130.7 303.7,129.3 304.2,130.6 304.7,130.5 305.2,130.6 305.7,130.4 306.2,130.7 306.7,129.5 307.2,129.8 307.7,130.3 308.2,130.1 308.7,129.4 309.2,130.3 309.7,130.3 310.2,129.7 310.7,129.9 311.2,130.2 311.7,128.8 312.2,129.6 312.7,129.3 313.2,129.6 313.7,129.1 314.2,129.1 314.7,129.9 315.2,130.6 315.7,129.3 316.2,130.4 316.7,130.1 317.2,130.1 317.7,130.2 318.2,129.4 318.7,130.0 319.2,128.8 319.7,129.0 320.2,129.4 320.7,129.6 321.2,128.6 321.7,128.4 322.2,129.3 322.7,129.2 323.2,129.5 323.7,129.0 324.2,128.4 324.7,129.6 325.2,129.5 325.7,129.3 326.2,130.2 326.7,129.2 327.2,129.8 327.7,129.1 328.2,127.8 328.7,128.5 329.2,127.8 329.7,129.1 330.2,129.6 330.7,128.4 331.2,129.4 331.7,128.9 332.2,129.6 332.7,129.4 333.2,128.7 333.7,129.4 334.2,129.1 334.7,129.5 335.2,129.7 335.7,128.7 336.2,129.5 336.7,128.8 337.2,129.2 337.7,129.0 338.2,128.5 338.7,128.8 339.2,128.6 339.7,128.9 340.2,128.2 340.7,128.3 341.2,129.2 341.7,128.9 342.2,128.8 342.7,128.7 343.2,128.9 343.7,128.8 344.2,129.1 344.7,128.3 345.2,129.0 345.7,128.5 346.2,128.3 346.7,128.9 347.2,129.4 347.7,129.1 348.2,129.9 348.7,129.3 349.2,129.2 349.7,129.0 350.2,128.3 350.7,128.8 351.2,128.8 351.7,129.6 352.2,128.3 352.7,128.6 353.2,128.2 353.7,128.7 354.2,127.8 354.7,128.7 355.2,128.6 355.7,128.7 356.2,129.9 356.7,128.6 357.2,128.9 357.7,128.7 358.2,129.3 358.7,129.8 359.2,129.6 359.7,129.1 360.2,128.4 360.7,129.0 361.2,128.1 361.7,128.4 362.2,128.5 362.7,128.2 363.2,128.7 363.7,128.4 364.2,128.2 364.7,128.8 365.2,128.2 365.7,129.1 366.2,128.8 366.7,128.4 367.2,128.7 367.7,128.2 368.2,128.2 368.7,128.9 369.2,127.8 369.7,128.7 370.2,129.4 370.7,127.4 371.2,129.5 371.7,127.5 372.2,127.3 372.7,127.6 373.2,127.9 373.7,128.3 374.2,127.7 374.7,128.5 375.2,128.9 375.7,128.0 376.2,128.5 376.7,128.8 377.2,129.4 377.7,128.6 378.2,128.9 378.7,128.9 379.2,128.5 379.7,128.4 380.2,128.6 380.7,128.8 381.2,127.9 381.7,128.2 382.2,128.4 382.7,128.4 383.2,128.5 383.7,129.1 384.2,128.8 384.7,127.8 385.2,129.1 385.7,128.1 386.2,128.1 386.7,128.8 387.2,128.2 387.7,127.5 388.2,128.6 388.7,128.3 389.2,128.3 389.7,127.5 390.2,128.4 390.7,127.7 391.2,128.3 391.7,127.4 392.2,127.8 392.7,127.4 393.2,128.0 393.7,128.8 394.2,128.4 394.7,128.0 395.2,128.9 395.7,128.4 396.2,128.5 396.7,128.4 397.2,128.2 397.7,128.3 398.2,128.4 398.7,128.7 399.2,128.5 399.7,128.7 400.2,127.7 400.7,127.5 401.2,128.6 401.7,128.6 402.2,128.7 402.7,128.0 403.2,128.4 403.7,127.9 404.2,128.3 404.7,128.2 405.2,128.1 405.7,128.3 406.2,127.9 406.7,128.1 407.2,128.3 407.7,128.6 408.2,128.1 408.7,128.1 409.2,128.0 409.7,128.6 410.2,128.9 410.7,127.7 411.2,128.4 411.7,128.2 412.2,128.8 412.7,127.1 413.2,128.0" fill="none" stroke="#000" stroke-width="0.7" stroke-linejoin="round"/>
<polyline points="256.7,106.6 257.2,106.8 257.7,107.2 258.2,107.4 258.7,107.6 259.2,107.7 259.7,107.9 260.2,108.1 260.7,108.4 261.2,108.5 261.7,108.7 262.2,109.0 262.7,109.0 263.2,109.2 263.7,109.4 264.2,109.6 264.7,109.8 265.2,110.0 265.7,110.1 266.2,110.4 266.7,110.5 267.2,110.6 267.7,110.9 268.2,110.9 268.7,111.1 269.2,111.3 269.7,111.4 270.2,111.6 270.7,111.8 271.2,111.8 271.7,112.0 272.2,112.2 272.7,112.4 273.2,112.5 273.7,112.8 274.2,112.8 274.7,112.9 275.2,113.0 275.7,113.2 276.2,113.3 276.7,113.4 277.2,113.7 277.7,113.6 278.2,113.9 278.7,114.0 279.2,114.0 279.7,114.2 280.2,114.3 280.7,114.4 281.2,114.7 281.7,114.7 282.2,114.7 282.7,114.8 283.2,114.9 283.7,115.1 284.2,115.2 284.7,115.2 285.2,115.3 285.7,115.5 286.2,115.6 286.7,115.7 287.2,115.8 287.7,116.0 288.2,116.1 288.7,116.1 289.2,116.0 289.7,116.3 290.2,116.4 290.7,116.5 291.2,116.6 291.7,116.7 292.2,116.6 292.7,116.7 293.2,117.0 293.7,117.0 294.2,117.1 294.7,117.2 295.2,117.3 295.7,117.5 296.2,117.3 296.7,117.5 297.2,117.5 297.7,117.7 298.2,117.8 298.7,117.9 299.2,117.9 299.7,117.9 300.2,118.1 300.7,118.2 301.2,118.3 301.7,118.4 302.2,118.4 302.7,118.3 303.2,118.4 303.7,118.5 304.2,118.7 304.7,118.6 305.2,118.8 305.7,118.8 306.2,118.8 306.7,118.9 307.2,118.9 307.7,119.0 308.2,119.1 308.7,119.2 309.2,119.1 309.7,119.3 310.2,119.1 310.7,119.3 311.2,119.4 311.7,119.6 312.2,119.6 312.7,119.5 313.2,119.6 313.7,119.7 314.2,119.7 314.7,120.0 315.2,119.6 315.7,119.9 316.2,119.7 316.7,120.1 317.2,120.0 317.7,120.2 318.2,120.1 318.7,120.2 319.2,120.2 319.7,120.3 320.2,120.3 320.7,120.1 321.2,120.3 321.7,120.3 322.2,120.5 322.7,120.6 323.2,120.6 323.7,120.6 324.2,120.6 324.7,120.6 325.2,120.9 325.7,120.8 326.2,120.8 326.7,120.7 327.2,120.8 327.7,120.9 328.2,120.9 328.7,120.9 329.2,121.0 329.7,121.0 330.2,121.1 330.7,121.0 331.2,121.1 331.7,121.1 332.2,121.3 332.7,121.3 333.2,121.3 333.7,121.2 334.2,121.3 334.7,121.4 335.2,121.5 335.7,121.3 336.2,121.4 336.7,121.5 337.2,121.5 337.7,121.5 338.2,121.6 338.7,121.5 339.2,121.7 339.7,121.6 340.2,121.7 340.7,121.7 341.2,121.8 341.7,121.8 342.2,121.8 342.7,121.9 343.2,121.8 343.7,121.9 344.2,122.0 344.7,121.8 345.2,121.8 345.7,121.9 346.2,122.1 346.7,122.1 347.2,122.0 347.7,122.1 348.2,122.1 348.7,122.2 349.2,122.0 349.7,122.1 350.2,122.1 350.7,122.2 351.2,122.2 351.7,122.2 352.2,122.2 352.7,122.1 353.2,122.5 353.7,122.3 354.2,122.4 354.7,122.3 355.2,122.4 355.7,122.5 356.2,122.5 356.7,122.4 357.2,122.3 357.7,122.4 358.2,122.4 358.7,122.5 359.2,122.4 359.7,122.5 360.2,122.5 360.7,122.5 361.2,122.6 361.7,122.5 362.2,122.5 362.7,122.6 363.2,122.7 363.7,122.6 364.2,122.6 364.7,122.7 365.2,122.7 365.7,122.6 366.2,122.7 366.7,122.7 367.2,122.8 367.7,122.7 368.2,122.7 368.7,122.7 369.2,122.7 369.7,122.8 370.2,122.8 370.7,122.7 371.2,122.8 371.7,122.9 372.2,122.9 372.7,122.9 373.2,123.0 373.7,122.9 374.2,122.9 374.7,122.9 375.2,122.8 375.7,122.9 376.2,123.0 376.7,123.0 377.2,123.0 377.7,122.9 378.2,122.9 378.7,123.0 379.2,123.0 379.7,123.1 380.2,122.8 380.7,123.1 381.2,123.1 381.7,123.1 382.2,123.1 382.7,123.1 383.2,123.0 383.7,123.1 384.2,123.1 384.7,123.0 385.2,123.0 385.7,123.1 386.2,123.0 386.7,123.1 387.2,123.0 387.7,123.2 388.2,123.2 388.7,123.1 389.2,123.1 389.7,123.1 390.2,123.0 390.7,123.2 391.2,123.2 391.7,123.3 392.2,123.2 392.7,123.2 393.2,123.3 393.7,123.4 394.2,123.2 394.7,123.3 395.2,123.4 395.7,123.3 396.2,123.2 396.7,123.2 397.2,123.3 397.7,123.5 398.2,123.3 398.7,123.4 399.2,123.5 399.7,123.2 400.2,123.3 400.7,123.4 401.2,123.4 401.7,123.4 402.2,123.3 402.7,123.4 403.2,123.3 403.7,123.6 404.2,123.3 404.7,123.2 405.2,123.4 405.7,123.5 406.2,123.4 406.7,123.4 407.2,123.3 407.7,123.4 408.2,123.3 408.7,123.3 409.2,123.3 409.7,123.4 410.2,123.6 410.7,123.4 411.2,123.5 411.7,123.6 412.2,123.4 412.7,123.4 413.2,123.5" fill="none" stroke="#f2361e" stroke-width="1.3" />
<polyline points="256.7,113.9 257.2,113.3 257.7,113.6 258.2,113.6 258.7,113.8 259.2,113.5 259.7,113.3 260.2,114.2 260.7,115.0 261.2,115.0 261.7,114.0 262.2,114.9 262.7,114.9 263.2,115.4 263.7,114.7 264.2,115.8 264.7,115.4 265.2,115.9 265.7,115.9 266.2,114.6 266.7,115.4 267.2,116.3 267.7,115.8 268.2,116.2 268.7,115.9 269.2,115.6 269.7,116.0 270.2,116.4 270.7,116.6 271.2,116.8 271.7,115.8 272.2,116.7 272.7,115.9 273.2,116.5 273.7,116.6 274.2,117.3 274.7,117.2 275.2,117.7 275.7,117.0 276.2,117.8 276.7,117.6 277.2,117.7 277.7,117.2 278.2,118.0 278.7,118.0 279.2,118.3 279.7,117.9 280.2,117.9 280.7,118.3 281.2,118.3 281.7,118.4 282.2,119.0 282.7,117.9 283.2,119.4 283.7,117.2 284.2,119.1 284.7,118.4 285.2,119.8 285.7,118.5 286.2,119.4 286.7,118.6 287.2,118.6 287.7,119.5 288.2,119.5 288.7,118.8 289.2,120.1 289.7,118.9 290.2,119.8 290.7,118.8 291.2,118.8 291.7,119.4 292.2,118.9 292.7,119.6 293.2,118.6 293.7,119.7 294.2,119.4 294.7,119.4 295.2,119.9 295.7,119.8 296.2,119.7 296.7,120.4 297.2,120.2 297.7,120.3 298.2,120.8 298.7,120.1 299.2,120.5 299.7,120.0 300.2,120.5 300.7,120.5 301.2,120.0 301.7,119.6 302.2,119.7 302.7,120.0 303.2,120.6 303.7,120.3 304.2,120.2 304.7,120.6 305.2,120.8 305.7,121.1 306.2,120.2 306.7,120.7 307.2,120.9 307.7,120.1 308.2,120.7 308.7,120.4 309.2,120.8 309.7,121.3 310.2,120.3 310.7,120.6 311.2,120.7 311.7,121.2 312.2,120.9 312.7,121.5 313.2,120.9 313.7,121.1 314.2,121.6 314.7,121.5 315.2,121.4 315.7,121.4 316.2,121.8 316.7,122.1 317.2,121.3 317.7,121.1 318.2,121.0 318.7,122.2 319.2,121.2 319.7,121.0 320.2,121.6 320.7,122.0 321.2,120.9 321.7,121.5 322.2,120.9 322.7,121.2 323.2,122.4 323.7,121.7 324.2,121.6 324.7,121.7 325.2,121.9 325.7,121.8 326.2,121.4 326.7,121.5 327.2,122.8 327.7,121.5 328.2,122.4 328.7,121.6 329.2,122.5 329.7,122.2 330.2,121.7 330.7,122.7 331.2,121.4 331.7,121.6 332.2,121.4 332.7,121.5 333.2,121.8 333.7,121.6 334.2,122.0 334.7,122.8 335.2,121.4 335.7,121.6 336.2,121.7 336.7,121.9 337.2,122.7 337.7,122.7 338.2,122.6 338.7,122.5 339.2,123.5 339.7,121.8 340.2,121.8 340.7,122.3 341.2,122.5 341.7,122.4 342.2,122.1 342.7,121.9 343.2,122.4 343.7,122.1 344.2,122.1 344.7,121.9 345.2,123.0 345.7,122.8 346.2,123.5 346.7,122.5 347.2,122.6 347.7,122.5 348.2,122.6 348.7,122.4 349.2,122.5 349.7,121.8 350.2,122.5 350.7,122.9 351.2,121.7 351.7,122.3 352.2,122.7 352.7,123.1 353.2,122.5 353.7,122.8 354.2,123.3 354.7,123.3 355.2,122.5 355.7,122.4 356.2,123.0 356.7,122.7 357.2,122.5 357.7,122.6 358.2,122.8 358.7,122.5 359.2,122.4 359.7,122.5 360.2,121.9 360.7,123.3 361.2,123.2 361.7,123.4 362.2,122.6 362.7,122.8 363.2,122.9 363.7,123.1 364.2,121.9 364.7,123.0 365.2,122.4 365.7,122.7 366.2,122.5 366.7,123.6 367.2,123.1 367.7,122.9 368.2,123.5 368.7,122.8 369.2,122.5 369.7,122.8 370.2,122.7 370.7,122.9 371.2,123.0 371.7,122.7 372.2,122.7 372.7,123.3 373.2,122.9 373.7,123.3 374.2,123.0 374.7,122.5 375.2,122.6 375.7,122.4 376.2,123.6 376.7,123.5 377.2,123.0 377.7,122.6 378.2,123.3 378.7,123.1 379.2,123.2 379.7,122.6 380.2,122.5 380.7,123.8 381.2,122.6 381.7,123.1 382.2,123.5 382.7,122.2 383.2,123.4 383.7,123.0 384.2,122.9 384.7,123.0 385.2,122.3 385.7,121.8 386.2,123.5 386.7,122.7 387.2,123.3 387.7,123.5 388.2,123.3 388.7,123.3 389.2,123.6 389.7,124.0 390.2,123.6 390.7,123.9 391.2,123.2 391.7,123.1 392.2,123.2 392.7,123.3 393.2,123.3 393.7,123.8 394.2,123.3 394.7,122.9 395.2,123.7 395.7,122.9 396.2,122.8 396.7,123.0 397.2,122.6 397.7,122.2 398.2,122.7 398.7,122.6 399.2,122.4 399.7,122.9 400.2,122.6 400.7,122.5 401.2,122.0 401.7,122.8 402.2,123.6 402.7,123.3 403.2,123.4 403.7,122.8 404.2,123.4 404.7,122.6 405.2,122.7 405.7,123.2 406.2,122.3 406.7,123.1 407.2,123.1 407.7,123.7 408.2,122.7 408.7,123.2 409.2,122.9 409.7,122.7 410.2,121.7 410.7,122.5 411.2,123.4 411.7,123.2 412.2,123.0 412.7,124.2 413.2,123.3" fill="none" stroke="#000" stroke-width="0.7" stroke-linejoin="round"/>
<polyline points="256.7,119.2 257.2,120.0 257.7,119.2 258.2,120.0 258.7,119.6 259.2,120.3 259.7,119.8 260.2,119.7 260.7,120.0 261.2,120.0 261.7,120.4 262.2,119.8 262.7,119.5 263.2,119.6 263.7,120.9 264.2,120.0 264.7,120.4 265.2,120.2 265.7,121.1 266.2,120.4 266.7,121.3 267.2,120.5 267.7,121.0 268.2,121.3 268.7,121.4 269.2,120.5 269.7,120.9 270.2,121.0 270.7,120.2 271.2,121.3 271.7,121.3 272.2,121.4 272.7,120.6 273.2,121.2 273.7,121.4 274.2,121.6 274.7,121.0 275.2,121.7 275.7,122.3 276.2,121.4 276.7,121.6 277.2,121.5 277.7,121.0 278.2,121.5 278.7,122.6 279.2,121.5 279.7,121.8 280.2,122.3 280.7,122.1 281.2,121.9 281.7,121.7 282.2,121.7 282.7,122.0 283.2,122.3 283.7,122.2 284.2,122.5 284.7,121.3 285.2,122.7 285.7,122.1 286.2,122.3 286.7,122.1 287.2,122.7 287.7,122.5 288.2,122.7 288.7,122.2 289.2,122.5 289.7,123.0 290.2,123.0 290.7,122.3 291.2,122.6 291.7,122.4 292.2,122.5 292.7,122.4 293.2,122.9 293.7,122.7 294.2,123.1 294.7,123.2 295.2,122.0 295.7,122.7 296.2,122.3 296.7,121.8 297.2,122.3 297.7,122.5 298.2,123.5 298.7,122.8 299.2,122.6 299.7,122.7 300.2,122.3 300.7,122.7 301.2,122.6 301.7,122.1 302.2,122.6 302.7,124.3 303.2,123.2 303.7,123.0 304.2,123.5 304.7,122.6 305.2,123.0 305.7,123.4 306.2,122.3 306.7,122.6 307.2,122.7 307.7,122.7 308.2,122.6 308.7,122.8 309.2,123.2 309.7,122.9 310.2,123.3 310.7,123.5 311.2,122.9 311.7,123.3 312.2,123.1 312.7,123.5 313.2,123.1 313.7,123.2 314.2,124.2 314.7,123.3 315.2,122.8 315.7,123.6 316.2,123.7 316.7,123.3 317.2,123.5 317.7,124.0 318.2,123.4 318.7,123.5 319.2,123.3 319.7,123.8 320.2,123.4 320.7,122.9 321.2,123.1 321.7,123.9 322.2,122.3 322.7,122.5 323.2,123.3 323.7,122.5 324.2,124.0 324.7,122.6 325.2,122.7 325.7,123.2 326.2,124.0 326.7,123.9 327.2,123.9 327.7,123.9 328.2,124.2 328.7,122.9 329.2,123.9 329.7,124.4 330.2,123.3 330.7,123.8 331.2,124.2 331.7,124.3 332.2,123.7 332.7,124.6 333.2,124.0 333.7,124.3 334.2,123.2 334.7,123.3 335.2,123.3 335.7,124.4 336.2,122.5 336.7,122.7 337.2,123.9 337.7,123.6 338.2,122.1 338.7,123.2 339.2,123.2 339.7,124.0 340.2,122.7 340.7,123.3 341.2,124.0 341.7,123.8 342.2,123.1 342.7,123.4 343.2,122.8 343.7,124.1 344.2,123.3 344.7,124.1 345.2,123.9 345.7,123.2 346.2,123.5 346.7,124.0 347.2,123.9 347.7,124.4 348.2,124.2 348.7,123.9 349.2,124.0 349.7,123.4 350.2,123.5 350.7,124.1 351.2,124.0 351.7,123.3 352.2,123.8 352.7,123.6 353.2,123.7 353.7,124.5 354.2,123.6 354.7,123.6 355.2,124.2 355.7,124.0 356.2,124.1 356.7,123.4 357.2,124.1 357.7,123.9 358.2,123.6 358.7,123.8 359.2,124.0 359.7,124.5 360.2,125.0 360.7,124.2 361.2,124.8 361.7,124.2 362.2,123.5 362.7,124.1 363.2,124.7 363.7,124.7 364.2,123.8 364.7,125.0 365.2,123.7 365.7,123.8 366.2,123.8 366.7,124.6 367.2,124.2 367.7,124.3 368.2,123.0 368.7,123.9 369.2,123.9 369.7,124.3 370.2,123.7 370.7,124.5 371.2,123.6 371.7,123.4 372.2,123.3 372.7,124.6 373.2,124.3 373.7,123.8 374.2,124.6 374.7,124.1 375.2,124.1 375.7,123.6 376.2,124.0 376.7,124.2 377.2,124.2 377.7,123.8 378.2,124.5 378.7,124.8 379.2,123.7 379.7,124.4 380.2,123.5 380.7,124.3 381.2,123.7 381.7,124.0 382.2,124.2 382.7,124.2 383.2,124.8 383.7,123.9 384.2,124.2 384.7,124.6 385.2,124.4 385.7,124.5 386.2,124.2 386.7,124.0 387.2,124.5 387.7,124.2 388.2,124.5 388.7,124.6 389.2,123.9 389.7,123.5 390.2,123.6 390.7,123.5 391.2,123.0 391.7,124.6 392.2,124.0 392.7,125.0 393.2,123.9 393.7,124.5 394.2,124.4 394.7,124.3 395.2,124.7 395.7,124.4 396.2,124.3 396.7,124.4 397.2,123.3 397.7,124.0 398.2,123.9 398.7,124.9 399.2,124.5 399.7,124.6 400.2,124.4 400.7,124.1 401.2,124.8 401.7,124.0 402.2,123.6 402.7,124.5 403.2,124.7 403.7,124.3 404.2,124.4 404.7,124.6 405.2,124.8 405.7,124.4 406.2,124.9 406.7,124.4 407.2,125.2 407.7,123.6 408.2,124.5 408.7,124.3 409.2,124.1 409.7,123.5 410.2,124.5 410.7,123.9 411.2,123.6 411.7,123.6 412.2,123.8 412.7,123.9 413.2,123.4" fill="none" stroke="#000" stroke-width="0.7" stroke-linejoin="round"/>
<polyline points="256.7,124.8 257.2,123.9 257.7,124.2 258.2,124.2 258.7,124.0 259.2,125.0 259.7,124.4 260.2,124.2 260.7,124.8 261.2,125.0 261.7,124.4 262.2,125.3 262.7,125.5 263.2,124.8 263.7,125.5 264.2,124.5 264.7,125.0 265.2,125.2 265.7,125.3 266.2,125.6 266.7,125.0 267.2,124.7 267.7,125.3 268.2,125.3 268.7,125.5 269.2,125.0 269.7,125.3 270.2,124.9 270.7,125.5 271.2,125.0 271.7,125.0 272.2,125.9 272.7,125.0 273.2,125.2 273.7,125.4 274.2,124.9 274.7,125.6 275.2,124.9 275.7,125.6 276.2,124.4 276.7,124.4 277.2,125.1 277.7,125.6 278.2,125.7 278.7,124.7 279.2,125.2 279.7,125.0 280.2,124.3 280.7,125.7 281.2,125.2 281.7,125.9 282.2,125.3 282.7,125.0 283.2,125.0 283.7,125.2 284.2,125.6 284.7,125.1 285.2,126.6 285.7,125.4 286.2,124.7 286.7,125.3 287.2,125.9 287.7,125.6 288.2,125.4 288.7,125.2 289.2,125.1 289.7,124.9 290.2,125.3 290.7,125.6 291.2,125.3 291.7,126.3 292.2,125.7 292.7,125.3 293.2,125.6 293.7,126.2 294.2,124.8 294.7,125.7 295.2,126.7 295.7,125.8 296.2,124.9 296.7,125.3 297.2,125.1 297.7,126.4 298.2,124.9 298.7,125.0 299.2,124.9 299.7,124.5 300.2,123.7 300.7,125.1 301.2,125.5 301.7,125.2 302.2,125.6 302.7,125.7 303.2,125.7 303.7,124.6 304.2,126.1 304.7,125.7 305.2,125.7 305.7,125.2 306.2,125.2 306.7,124.9 307.2,125.3 307.7,125.4 308.2,124.8 308.7,125.4 309.2,124.8 309.7,125.2 310.2,124.9 310.7,125.3 311.2,125.7 311.7,124.9 312.2,124.5 312.7,124.6 313.2,125.3 313.7,124.8 314.2,125.4 314.7,125.2 315.2,125.4 315.7,124.8 316.2,124.6 316.7,124.8 317.2,125.4 317.7,124.9 318.2,125.5 318.7,124.2 319.2,124.9 319.7,125.2 320.2,124.4 320.7,124.9 321.2,124.6 321.7,125.3 322.2,125.3 322.7,125.7 323.2,125.1 323.7,124.7 324.2,125.0 324.7,125.2 325.2,125.2 325.7,125.3 326.2,125.8 326.7,125.1 327.2,125.2 327.7,124.8 328.2,124.9 328.7,125.6 329.2,125.4 329.7,124.2 330.2,125.8 330.7,124.4 331.2,125.1 331.7,125.8 332.2,125.4 332.7,125.5 333.2,125.7 333.7,125.4 334.2,124.6 334.7,125.3 335.2,124.9 335.7,124.2 336.2,125.1 336.7,125.4 337.2,125.1 337.7,125.0 338.2,125.9 338.7,125.3 339.2,125.6 339.7,125.3 340.2,126.0 340.7,125.0 341.2,125.7 341.7,126.0 342.2,125.1 342.7,125.8 343.2,124.8 343.7,125.5 344.2,125.5 344.7,124.9 345.2,124.5 345.7,125.1 346.2,125.0 346.7,125.2 347.2,125.1 347.7,125.2 348.2,125.6 348.7,125.1 349.2,124.2 349.7,125.2 350.2,125.1 350.7,125.0 351.2,125.7 351.7,125.0 352.2,124.8 352.7,125.3 353.2,124.5 353.7,125.6 354.2,125.2 354.7,126.0 355.2,125.5 355.7,125.4 356.2,125.3 356.7,124.7 357.2,125.2 357.7,125.4 358.2,125.6 358.7,125.4 359.2,125.5 359.7,125.3 360.2,124.8 360.7,125.2 361.2,124.9 361.7,124.4 362.2,124.2 362.7,125.2 363.2,125.5 363.7,125.5 364.2,124.5 364.7,125.6 365.2,125.7 365.7,124.7 366.2,125.2 366.7,125.9 367.2,125.3 367.7,125.8 368.2,125.1 368.7,125.3 369.2,125.8 369.7,125.5 370.2,125.7 370.7,125.6 371.2,125.0 371.7,126.0 372.2,125.3 372.7,125.3 373.2,125.3 373.7,125.4 374.2,125.0 374.7,125.8 375.2,125.2 375.7,125.6 376.2,125.0 376.7,125.0 377.2,125.1 377.7,125.5 378.2,124.9 378.7,125.8 379.2,125.3 379.7,125.8 380.2,125.2 380.7,125.8 381.2,125.0 381.7,125.0 382.2,125.7 382.7,125.3 383.2,126.1 383.7,125.3 384.2,125.8 384.7,125.2 385.2,124.9 385.7,126.3 386.2,125.4 386.7,125.8 387.2,125.5 387.7,124.7 388.2,125.6 388.7,125.8 389.2,125.9 389.7,125.9 390.2,125.3 390.7,125.0 391.2,125.1 391.7,124.6 392.2,125.5 392.7,125.5 393.2,125.2 393.7,124.8 394.2,125.4 394.7,124.8 395.2,125.7 395.7,124.9 396.2,124.9 396.7,125.1 397.2,124.8 397.7,124.9 398.2,125.1 398.7,124.2 399.2,126.1 399.7,125.4 400.2,125.5 400.7,124.9 401.2,125.4 401.7,125.4 402.2,125.4 402.7,124.6 403.2,125.1 403.7,124.3 404.2,125.0 404.7,124.8 405.2,124.8 405.7,125.0 406.2,125.5 406.7,125.6 407.2,125.1 407.7,124.5 408.2,125.8 408.7,124.6 409.2,125.1 409.7,125.3 410.2,125.1 410.7,126.0 411.2,125.7 411.7,126.0 412.2,125.4 412.7,125.9 413.2,125.5" fill="none" stroke="#000" stroke-width="0.7" stroke-linejoin="round"/>
<polyline points="256.7,129.4 257.2,129.9 257.7,130.0 258.2,130.2 258.7,129.1 259.2,129.9 259.7,128.4 260.2,129.5 260.7,129.9 261.2,129.8 261.7,129.0 262.2,129.3 262.7,128.5 263.2,129.0 263.7,128.6 264.2,129.3 264.7,128.8 265.2,129.2 265.7,128.9 266.2,128.7 266.7,129.6 267.2,129.2 267.7,128.1 268.2,129.2 268.7,129.0 269.2,129.2 269.7,128.8 270.2,127.8 270.7,128.4 271.2,127.6 271.7,128.0 272.2,128.3 272.7,129.2 273.2,128.5 273.7,128.7 274.2,128.8 274.7,128.0 275.2,128.9 275.7,128.4 276.2,127.8 276.7,128.0 277.2,128.2 277.7,128.5 278.2,128.8 278.7,128.0 279.2,128.0 279.7,128.9 280.2,129.6 280.7,129.0 281.2,128.2 281.7,127.9 282.2,128.2 282.7,128.0 283.2,127.4 283.7,128.4 284.2,128.9 284.7,127.5 285.2,127.6 285.7,127.7 286.2,127.4 286.7,128.2 287.2,127.2 287.7,128.2 288.2,128.0 288.7,128.2 289.2,127.2 289.7,127.9 290.2,127.9 290.7,128.0 291.2,127.8 291.7,127.3 292.2,128.1 292.7,128.1 293.2,128.1 293.7,127.1 294.2,127.6 294.7,127.0 295.2,127.3 295.7,127.6 296.2,126.6 296.7,128.5 297.2,127.8 297.7,127.0 298.2,127.0 298.7,127.2 299.2,127.1 299.7,126.6 300.2,127.1 300.7,126.3 301.2,126.9 301.7,128.0 302.2,127.0 302.7,127.0 303.2,127.9 303.7,127.3 304.2,127.4 304.7,127.0 305.2,127.8 305.7,127.1 306.2,127.7 306.7,127.5 307.2,128.0 307.7,127.7 308.2,127.2 308.7,126.7 309.2,127.2 309.7,127.0 310.2,128.1 310.7,127.1 311.2,126.4 311.7,127.5 312.2,127.7 312.7,126.9 313.2,127.6 313.7,126.6 314.2,127.3 314.7,127.1 315.2,127.3 315.7,127.2 316.2,126.8 316.7,127.4 317.2,126.8 317.7,127.1 318.2,127.5 318.7,126.6 319.2,127.0 319.7,127.6 320.2,127.4 320.7,126.6 321.2,126.6 321.7,127.2 322.2,126.7 322.7,126.9 323.2,126.3 323.7,127.3 324.2,126.3 324.7,126.9 325.2,127.1 325.7,126.5 326.2,126.2 326.7,126.3 327.2,126.0 327.7,127.6 328.2,126.0 328.7,126.2 329.2,127.0 329.7,126.9 330.2,127.4 330.7,127.6 331.2,127.2 331.7,127.0 332.2,126.7 332.7,126.9 333.2,127.3 333.7,127.1 334.2,127.2 334.7,126.1 335.2,126.4 335.7,126.5 336.2,126.5 336.7,126.2 337.2,127.0 337.7,127.2 338.2,127.5 338.7,126.5 339.2,126.7 339.7,126.7 340.2,126.7 340.7,126.3 341.2,127.1 341.7,125.9 342.2,126.7 342.7,125.9 343.2,127.2 343.7,126.2 344.2,126.3 344.7,126.8 345.2,126.4 345.7,126.9 346.2,126.7 346.7,127.8 347.2,126.2 347.7,126.3 348.2,127.1 348.7,126.9 349.2,127.1 349.7,126.7 350.2,127.3 350.7,127.0 351.2,127.5 351.7,126.2 352.2,126.9 352.7,126.6 353.2,126.7 353.7,126.1 354.2,126.9 354.7,125.9 355.2,126.9 355.7,126.7 356.2,125.7 356.7,126.6 357.2,125.6 357.7,126.8 358.2,125.9 358.7,126.6 359.2,126.5 359.7,125.8 360.2,125.6 360.7,126.7 361.2,126.3 361.7,126.9 362.2,126.5 362.7,127.7 363.2,126.6 363.7,127.4 364.2,126.7 364.7,126.7 365.2,127.0 365.7,126.5 366.2,126.5 366.7,127.4 367.2,126.4 367.7,125.9 368.2,126.8 368.7,126.0 369.2,126.5 369.7,126.9 370.2,126.8 370.7,127.0 371.2,126.7 371.7,126.6 372.2,126.7 372.7,126.6 373.2,126.5 373.7,127.5 374.2,126.4 374.7,127.2 375.2,126.5 375.7,127.1 376.2,125.4 376.7,126.7 377.2,126.3 377.7,127.1 378.2,127.1 378.7,126.2 379.2,126.5 379.7,127.0 380.2,126.7 380.7,126.7 381.2,127.1 381.7,126.0 382.2,127.2 382.7,126.7 383.2,125.3 383.7,126.1 384.2,126.3 384.7,127.4 385.2,126.4 385.7,125.5 386.2,126.8 386.7,126.4 387.2,126.2 387.7,126.7 388.2,126.1 388.7,126.2 389.2,126.8 389.7,126.7 390.2,127.0 390.7,126.3 391.2,127.4 391.7,125.9 392.2,125.9 392.7,126.7 393.2,126.4 393.7,126.6 394.2,126.6 394.7,126.5 395.2,126.1 395.7,126.7 396.2,127.2 396.7,126.2 397.2,127.5 397.7,127.3 398.2,126.2 398.7,126.8 399.2,126.0 399.7,126.2 400.2,125.7 400.7,125.9 401.2,125.2 401.7,125.9 402.2,125.7 402.7,125.7 403.2,125.4 403.7,126.4 404.2,127.2 404.7,126.3 405.2,126.6 405.7,126.3 406.2,126.6 406.7,126.6 407.2,126.1 407.7,126.4 408.2,126.5 408.7,126.7 409.2,126.5 409.7,126.7 410.2,127.1 410.7,126.8 411.2,126.1 411.7,125.6 412.2,126.2 412.7,126.5 413.2,126.8" fill="none" stroke="#000" stroke-width="0.7" stroke-linejoin="round"/>
<polyline points="256.7,132.3 257.2,132.7 257.7,133.1 258.2,132.8 258.7,133.4 259.2,132.4 259.7,132.6 260.2,131.6 260.7,133.1 261.2,132.8 261.7,132.2 262.2,131.6 262.7,132.7 263.2,131.6 263.7,131.6 264.2,131.2 264.7,131.3 265.2,131.4 265.7,131.2 266.2,132.2 266.7,131.9 267.2,131.7 267.7,131.2 268.2,131.5 268.7,130.9 269.2,131.6 269.7,130.9 270.2,131.1 270.7,131.3 271.2,130.8 271.7,130.4 272.2,131.5 272.7,130.1 273.2,130.3 273.7,130.2 274.2,130.4 274.7,130.7 275.2,129.2 275.7,130.5 276.2,131.4 276.7,131.3 277.2,131.1 277.7,130.6 278.2,130.6 278.7,130.3 279.2,129.8 279.7,130.8 280.2,131.1 280.7,130.8 281.2,130.5 281.7,130.9 282.2,130.7 282.7,131.0 283.2,130.2 283.7,129.7 284.2,130.7 284.7,130.7 285.2,129.9 285.7,130.3 286.2,130.5 286.7,129.1 287.2,131.4 287.7,130.4 288.2,129.8 288.7,129.5 289.2,129.3 289.7,131.4 290.2,129.8 290.7,130.2 291.2,129.5 291.7,129.5 292.2,129.9 292.7,129.3 293.2,129.7 293.7,129.6 294.2,129.9 294.7,130.1 295.2,129.7 295.7,130.3 296.2,129.5 296.7,129.5 297.2,129.7 297.7,129.5 298.2,129.9 298.7,128.1 299.2,128.6 299.7,128.4 300.2,129.8 300.7,129.6 301.2,128.9 301.7,129.3 302.2,128.2 302.7,129.0 303.2,129.7 303.7,129.3 304.2,129.9 304.7,128.8 305.2,129.6 305.7,129.1 306.2,129.0 306.7,128.8 307.2,129.0 307.7,129.2 308.2,128.6 308.7,128.9 309.2,128.6 309.7,128.8 310.2,128.3 310.7,129.1 311.2,129.0 311.7,129.0 312.2,128.8 312.7,128.6 313.2,128.6 313.7,128.5 314.2,128.5 314.7,129.3 315.2,129.0 315.7,128.1 316.2,128.3 316.7,129.3 317.2,129.4 317.7,129.1 318.2,129.7 318.7,128.4 319.2,128.9 319.7,128.3 320.2,129.6 320.7,128.7 321.2,128.7 321.7,128.6 322.2,128.2 322.7,128.5 323.2,127.4 323.7,128.1 324.2,127.9 324.7,128.6 325.2,128.8 325.7,128.3 326.2,127.8 326.7,127.7 327.2,128.6 327.7,128.0 328.2,127.9 328.7,127.6 329.2,128.3 329.7,128.2 330.2,128.6 330.7,127.9 331.2,128.2 331.7,127.6 332.2,128.3 332.7,128.2 333.2,128.0 333.7,128.6 334.2,127.6 334.7,128.8 335.2,128.3 335.7,128.2 336.2,128.1 336.7,127.6 337.2,127.7 337.7,128.4 338.2,128.0 338.7,128.2 339.2,127.9 339.7,128.4 340.2,128.4 340.7,127.5 341.2,129.0 341.7,128.5 342.2,128.5 342.7,128.2 343.2,128.0 343.7,128.4 344.2,129.1 344.7,128.0 345.2,127.4 345.7,127.9 346.2,128.0 346.7,128.4 347.2,127.4 347.7,127.9 348.2,128.0 348.7,128.6 349.2,128.5 349.7,128.3 350.2,128.7 350.7,128.3 351.2,128.3 351.7,127.1 352.2,127.7 352.7,127.5 353.2,128.1 353.7,127.9 354.2,127.4 354.7,127.9 355.2,127.6 355.7,127.8 356.2,127.3 356.7,127.2 357.2,128.2 357.7,127.4 358.2,128.0 358.7,127.2 359.2,127.5 359.7,127.5 360.2,127.1 360.7,128.0 361.2,127.1 361.7,127.7 362.2,126.7 362.7,127.9 363.2,127.7 363.7,128.2 364.2,128.5 364.7,127.2 365.2,127.5 365.7,127.0 366.2,127.5 366.7,127.7 367.2,127.7 367.7,128.0 368.2,127.8 368.7,128.0 369.2,127.3 369.7,127.7 370.2,127.2 370.7,127.7 371.2,126.5 371.7,127.7 372.2,127.7 372.7,127.6 373.2,127.5 373.7,127.0 374.2,127.5 374.7,127.6 375.2,127.9 375.7,128.0 376.2,127.6 376.7,127.7 377.2,127.9 377.7,127.3 378.2,128.0 378.7,128.6 379.2,127.8 379.7,127.4 380.2,127.6 380.7,128.1 381.2,128.2 381.7,126.9 382.2,127.6 382.7,127.2 383.2,127.3 383.7,127.6 384.2,127.7 384.7,127.4 385.2,127.2 385.7,127.5 386.2,127.0 386.7,128.3 387.2,126.8 387.7,127.7 388.2,127.5 388.7,127.4 389.2,127.1 389.7,127.5 390.2,127.5 390.7,127.4 391.2,127.7 391.7,127.9 392.2,127.6 392.7,128.0 393.2,128.1 393.7,127.6 394.2,128.3 394.7,127.8 395.2,127.4 395.7,127.8 396.2,128.1 396.7,127.2 397.2,126.5 397.7,127.6 398.2,127.7 398.7,126.7 399.2,127.2 399.7,127.3 400.2,126.1 400.7,127.6 401.2,127.6 401.7,127.7 402.2,128.0 402.7,126.9 403.2,127.9 403.7,128.5 404.2,126.4 404.7,127.1 405.2,127.7 405.7,127.1 406.2,126.5 406.7,127.4 407.2,127.3 407.7,126.9 408.2,127.3 408.7,127.5 409.2,127.6 409.7,127.4 410.2,126.6 410.7,127.0 411.2,126.0 411.7,126.6 412.2,127.2 412.7,127.5 413.2,127.2" fill="none" stroke="#000" stroke-width="0.7" stroke-linejoin="round"/>
<polyline points="256.7,135.8 257.2,135.7 257.7,136.8 258.2,136.8 258.7,135.8 259.2,135.3 259.7,135.0 260.2,136.2 260.7,135.7 261.2,136.4 261.7,136.0 262.2,136.1 262.7,135.6 263.2,134.9 263.7,134.8 264.2,135.3 264.7,134.0 265.2,134.9 265.7,134.4 266.2,135.1 266.7,134.1 267.2,134.0 267.7,134.7 268.2,132.7 268.7,134.7 269.2,134.2 269.7,133.9 270.2,134.5 270.7,133.8 271.2,134.2 271.7,133.8 272.2,134.1 272.7,133.3 273.2,133.3 273.7,134.3 274.2,133.4 274.7,133.2 275.2,132.8 275.7,132.8 276.2,133.2 276.7,132.6 277.2,132.9 277.7,132.7 278.2,132.0 278.7,132.7 279.2,133.2 279.7,132.5 280.2,132.4 280.7,132.6 281.2,132.1 281.7,131.4 282.2,132.2 282.7,132.1 283.2,131.8 283.7,132.6 284.2,132.1 284.7,131.5 285.2,131.5 285.7,132.5 286.2,132.2 286.7,131.0 287.2,132.1 287.7,131.6 288.2,131.5 288.7,132.3 289.2,132.1 289.7,131.4 290.2,131.8 290.7,132.1 291.2,131.8 291.7,131.9 292.2,131.3 292.7,132.3 293.2,132.3 293.7,131.3 294.2,130.9 294.7,131.3 295.2,131.8 295.7,131.5 296.2,131.2 296.7,131.3 297.2,130.5 297.7,131.2 298.2,131.0 298.7,130.7 299.2,131.4 299.7,130.6 300.2,130.6 300.7,131.2 301.2,131.1 301.7,130.9 302.2,130.9 302.7,130.9 303.2,130.9 303.7,130.3 304.2,131.2 304.7,131.7 305.2,131.0 305.7,130.7 306.2,131.3 306.7,131.0 307.2,130.4 307.7,130.6 308.2,130.5 308.7,131.0 309.2,129.9 309.7,130.9 310.2,130.0 310.7,130.3 311.2,130.0 311.7,130.4 312.2,130.7 312.7,130.4 313.2,129.6 313.7,129.9 314.2,130.2 314.7,131.0 315.2,129.9 315.7,129.8 316.2,129.6 316.7,129.8 317.2,130.0 317.7,129.3 318.2,130.4 318.7,130.3 319.2,130.2 319.7,130.1 320.2,130.9 320.7,129.2 321.2,129.6 321.7,130.9 322.2,129.3 322.7,130.1 323.2,129.8 323.7,129.6 324.2,129.4 324.7,129.7 325.2,129.9 325.7,130.0 326.2,130.1 326.7,129.8 327.2,129.8 327.7,130.1 328.2,129.5 328.7,129.1 329.2,130.0 329.7,128.7 330.2,129.9 330.7,130.2 331.2,129.1 331.7,128.6 332.2,129.1 332.7,129.5 333.2,129.0 333.7,129.9 334.2,129.7 334.7,129.0 335.2,129.6 335.7,128.6 336.2,129.0 336.7,129.4 337.2,129.8 337.7,129.5 338.2,129.7 338.7,128.4 339.2,130.4 339.7,128.7 340.2,129.1 340.7,129.8 341.2,129.3 341.7,129.7 342.2,128.5 342.7,128.7 343.2,129.1 343.7,129.2 344.2,129.5 344.7,129.3 345.2,128.8 345.7,129.5 346.2,128.7 346.7,129.0 347.2,129.3 347.7,128.7 348.2,129.1 348.7,129.4 349.2,129.8 349.7,129.6 350.2,129.4 350.7,129.1 351.2,128.4 351.7,128.7 352.2,128.7 352.7,128.8 353.2,129.0 353.7,128.5 354.2,128.7 354.7,129.4 355.2,128.7 355.7,128.1 356.2,128.8 356.7,128.7 357.2,128.6 357.7,129.8 358.2,129.3 358.7,129.7 359.2,128.5 359.7,129.1 360.2,129.0 360.7,128.7 361.2,128.3 361.7,128.9 362.2,127.9 362.7,129.2 363.2,129.9 363.7,129.4 364.2,127.7 364.7,128.8 365.2,128.4 365.7,128.4 366.2,128.7 366.7,129.3 367.2,129.2 367.7,128.5 368.2,129.1 368.7,129.0 369.2,130.0 369.7,128.3 370.2,128.9 370.7,128.4 371.2,128.8 371.7,127.9 372.2,128.4 372.7,128.7 373.2,128.5 373.7,128.4 374.2,128.6 374.7,128.4 375.2,128.3 375.7,128.8 376.2,128.9 376.7,128.9 377.2,128.1 377.7,128.6 378.2,129.3 378.7,128.0 379.2,128.7 379.7,128.5 380.2,129.1 380.7,129.0 381.2,128.5 381.7,128.2 382.2,127.9 382.7,128.3 383.2,128.3 383.7,128.6 384.2,129.4 384.7,129.5 385.2,128.8 385.7,128.7 386.2,128.6 386.7,129.0 387.2,128.7 387.7,129.5 388.2,128.4 388.7,128.7 389.2,128.4 389.7,129.1 390.2,129.5 390.7,129.0 391.2,128.7 391.7,128.6 392.2,128.7 392.7,128.4 393.2,129.4 393.7,129.4 394.2,129.1 394.7,128.9 395.2,128.2 395.7,129.3 396.2,127.8 396.7,128.2 397.2,129.5 397.7,128.2 398.2,128.0 398.7,127.5 399.2,128.7 399.7,128.8 400.2,128.4 400.7,127.7 401.2,128.4 401.7,128.1 402.2,128.7 402.7,129.0 403.2,128.5 403.7,128.5 404.2,129.1 404.7,129.2 405.2,127.8 405.7,128.5 406.2,127.8 406.7,128.0 407.2,128.8 407.7,127.8 408.2,128.2 408.7,128.9 409.2,128.6 409.7,127.6 410.2,128.3 410.7,128.2 411.2,128.0 411.7,129.4 412.2,128.5 412.7,128.6 413.2,129.0" fill="none" stroke="#000" stroke-width="0.7" stroke-linejoin="round"/>
<line x1="256.70" y1="40.80" x2="256.70" y2="141.10" stroke="#000" stroke-width="1.2" />
<line x1="254.60" y1="48.10" x2="256.70" y2="48.10" stroke="#000" stroke-width="0.9" />
<line x1="254.60" y1="59.80" x2="256.70" y2="59.80" stroke="#000" stroke-width="0.9" />
<line x1="254.60" y1="70.80" x2="256.70" y2="70.80" stroke="#000" stroke-width="0.9" />
<line x1="254.60" y1="83.90" x2="256.70" y2="83.90" stroke="#000" stroke-width="0.9" />
<line x1="254.60" y1="94.30" x2="256.70" y2="94.30" stroke="#000" stroke-width="0.9" />
<line x1="254.60" y1="105.30" x2="256.70" y2="105.30" stroke="#000" stroke-width="0.9" />
<line x1="254.60" y1="114.20" x2="256.70" y2="114.20" stroke="#000" stroke-width="0.9" />
<line x1="254.60" y1="121.80" x2="256.70" y2="121.80" stroke="#000" stroke-width="0.9" />
<line x1="254.60" y1="126.60" x2="256.70" y2="126.60" stroke="#000" stroke-width="0.9" />
<line x1="254.60" y1="130.80" x2="256.70" y2="130.80" stroke="#000" stroke-width="0.9" />
<line x1="254.60" y1="133.50" x2="256.70" y2="133.50" stroke="#000" stroke-width="0.9" />
<line x1="254.60" y1="136.30" x2="256.70" y2="136.30" stroke="#000" stroke-width="0.9" />
<line x1="254.60" y1="138.40" x2="256.70" y2="138.40" stroke="#000" stroke-width="0.9" />
<line x1="254.60" y1="141.10" x2="256.70" y2="141.10" stroke="#000" stroke-width="0.9" />
<line x1="378.00" y1="98.30" x2="389.00" y2="98.30" stroke="#f0503a" stroke-width="1.2" />
<text x="396.11" y="102.18" font-family="Liberation Sans" font-weight="bold" font-size="11.97" textLength="12.30" lengthAdjust="spacingAndGlyphs" fill="#000" >60</text>
<text x="4.29" y="183.80" font-family="Liberation Sans" font-weight="bold" font-size="19.73" textLength="14.15" lengthAdjust="spacingAndGlyphs" fill="#000" >b</text>
<line x1="188.20" y1="195.60" x2="188.20" y2="388.70" stroke="#000" stroke-width="2.0" />
<line x1="57.70" y1="387.80" x2="345.40" y2="387.80" stroke="#000" stroke-width="2.0" />
<line x1="180.20" y1="196.50" x2="188.20" y2="196.50" stroke="#000" stroke-width="1.6" />
<line x1="180.20" y1="292.15" x2="188.20" y2="292.15" stroke="#000" stroke-width="1.6" />
<line x1="183.70" y1="244.32" x2="188.20" y2="244.32" stroke="#000" stroke-width="1.6" />
<line x1="183.70" y1="339.98" x2="188.20" y2="339.98" stroke="#000" stroke-width="1.6" />
<line x1="57.70" y1="387.80" x2="57.70" y2="394.00" stroke="#000" stroke-width="1.6" />
<line x1="83.80" y1="387.80" x2="83.80" y2="394.00" stroke="#000" stroke-width="1.6" />
<line x1="109.90" y1="387.80" x2="109.90" y2="394.00" stroke="#000" stroke-width="1.6" />
<line x1="136.00" y1="387.80" x2="136.00" y2="394.00" stroke="#000" stroke-width="1.6" />
<line x1="162.10" y1="387.80" x2="162.10" y2="394.00" stroke="#000" stroke-width="1.6" />
<line x1="188.20" y1="387.80" x2="188.20" y2="394.00" stroke="#000" stroke-width="1.6" />
<line x1="214.30" y1="387.80" x2="214.30" y2="394.00" stroke="#000" stroke-width="1.6" />
<line x1="240.40" y1="387.80" x2="240.40" y2="394.00" stroke="#000" stroke-width="1.6" />
<line x1="266.50" y1="387.80" x2="266.50" y2="394.00" stroke="#000" stroke-width="1.6" />
<line x1="292.60" y1="387.80" x2="292.60" y2="394.00" stroke="#000" stroke-width="1.6" />
<line x1="318.70" y1="387.80" x2="318.70" y2="394.00" stroke="#000" stroke-width="1.6" />
<line x1="344.80" y1="387.80" x2="344.80" y2="394.00" stroke="#000" stroke-width="1.6" />
<text x="156.11" y="201.10" font-family="Liberation Sans" font-weight="bold" font-size="13.00" textLength="20.61" lengthAdjust="spacingAndGlyphs" fill="#000">1.0</text>
<text x="156.49" y="296.75" font-family="Liberation Sans" font-weight="bold" font-size="13.00" textLength="20.07" lengthAdjust="spacingAndGlyphs" fill="#000">0.5</text>
<text x="83.00" y="412.40" font-family="Liberation Sans" font-weight="bold" font-size="12.80" text-anchor="middle" fill="#000">-80</text>
<text x="135.20" y="412.40" font-family="Liberation Sans" font-weight="bold" font-size="12.80" text-anchor="middle" fill="#000">-40</text>
<text x="188.20" y="412.40" font-family="Liberation Sans" font-weight="bold" font-size="12.80" text-anchor="middle" fill="#000">0</text>
<text x="240.40" y="412.40" font-family="Liberation Sans" font-weight="bold" font-size="12.80" text-anchor="middle" fill="#000">40</text>
<text x="292.60" y="412.40" font-family="Liberation Sans" font-weight="bold" font-size="12.80" text-anchor="middle" fill="#000">80</text>
<text x="344.80" y="412.40" font-family="Liberation Sans" font-weight="bold" font-size="12.80" text-anchor="middle" fill="#000">120</text>
<text x="156.22" y="437.31" font-family="Liberation Sans" font-weight="bold" font-size="14.22" textLength="92.11" lengthAdjust="spacingAndGlyphs" fill="#000" >Voltage (mV)</text>
<text transform="translate(46.50,395.50) rotate(-90)" x="-1.00" y="0" font-family="Liberation Sans" font-weight="bold" font-size="15.20" textLength="211.63" lengthAdjust="spacingAndGlyphs" fill="#000">Normalized Peak Tail Current</text>
<polyline points="70.8,375.4 72.1,375.3 73.4,375.2 74.7,375.2 76.0,375.1 77.3,375.0 78.6,375.0 79.9,374.9 81.2,374.9 82.5,374.8 83.8,374.8 85.1,374.8 86.4,374.8 87.7,374.8 89.0,374.9 90.3,374.9 91.6,374.9 92.9,374.9 94.2,374.9 95.5,374.9 96.8,374.8 98.2,374.7 99.5,374.6 100.8,374.5 102.1,374.3 103.4,374.2 104.7,374.0 106.0,373.8 107.3,373.5 108.6,373.1 109.9,372.7 111.2,372.2 112.5,371.7 113.8,371.1 115.1,370.5 116.4,369.9 117.7,369.1 119.0,368.3 120.3,367.5 121.6,366.5 122.9,365.4 124.3,364.3 125.6,363.2 126.9,362.0 128.2,360.7 129.5,359.4 130.8,357.9 132.1,356.3 133.4,354.5 134.7,352.5 136.0,350.3 137.3,347.8 138.6,345.1 139.9,342.3 141.2,339.2 142.5,336.0 143.8,332.6 145.1,329.2 146.4,325.6 147.7,322.0 149.0,318.4 150.4,314.5 151.7,310.4 153.0,306.2 154.3,301.8 155.6,297.3 156.9,292.9 158.2,288.6 159.5,284.4 160.8,280.5 162.1,276.8 163.4,273.5 164.7,270.3 166.0,267.2 167.3,264.3 168.6,261.5 169.9,258.8 171.2,256.2 172.5,253.8 173.8,251.4 175.1,249.1 176.5,246.9 177.8,244.9 179.1,242.9 180.4,241.1 181.7,239.4 183.0,237.7 184.3,236.1 185.6,234.6 186.9,233.1 188.2,231.7 189.5,230.3 190.8,229.0 192.1,227.8 193.4,226.7 194.7,225.6 196.0,224.5 197.3,223.5 198.6,222.5 199.9,221.6 201.2,220.6 202.6,219.7 203.9,218.8 205.2,217.9 206.5,217.0 207.8,216.2 209.1,215.4 210.4,214.7 211.7,214.0 213.0,213.4 214.3,212.8 215.6,212.2 216.9,211.7 218.2,211.3 219.5,210.8 220.8,210.5 222.1,210.1 223.4,209.8 224.7,209.6 226.0,209.3 227.3,209.1 228.7,209.0 230.0,208.8 231.3,208.8 232.6,208.7 233.9,208.7 235.2,208.7 236.5,208.7 237.8,208.7 239.1,208.8 240.4,208.7 241.7,208.7 243.0,208.7 244.3,208.7 245.6,208.7 246.9,208.7 248.2,208.7 249.5,208.7 250.8,208.7 252.1,208.7 253.4,208.7 254.8,208.8 256.1,208.8 257.4,208.8 258.7,208.8 260.0,208.8 261.3,208.8 262.6,208.9 263.9,208.9 265.2,208.9 266.5,208.9 267.8,209.0 269.1,209.0 270.4,209.0 271.7,209.0 273.0,209.0 274.3,209.0 275.6,209.0 276.9,209.1 278.2,209.1 279.5,209.1 280.9,209.2 282.2,209.2 283.5,209.3 284.8,209.4 286.1,209.5 287.4,209.6 288.7,209.6 290.0,209.7 291.3,209.8 292.6,209.9" fill="none" stroke="#1e50ff" stroke-width="1.2" />
<line x1="109.90" y1="369.19" x2="109.90" y2="376.19" stroke="#1e50ff" stroke-width="1.2" />
<line x1="105.30" y1="369.19" x2="114.50" y2="369.19" stroke="#1e50ff" stroke-width="1.2" />
<line x1="105.30" y1="376.19" x2="114.50" y2="376.19" stroke="#1e50ff" stroke-width="1.2" />
<line x1="122.95" y1="360.42" x2="122.95" y2="370.42" stroke="#1e50ff" stroke-width="1.2" />
<line x1="118.35" y1="360.42" x2="127.55" y2="360.42" stroke="#1e50ff" stroke-width="1.2" />
<line x1="118.35" y1="370.42" x2="127.55" y2="370.42" stroke="#1e50ff" stroke-width="1.2" />
<line x1="136.00" y1="344.31" x2="136.00" y2="356.31" stroke="#1e50ff" stroke-width="1.2" />
<line x1="131.40" y1="344.31" x2="140.60" y2="344.31" stroke="#1e50ff" stroke-width="1.2" />
<line x1="131.40" y1="356.31" x2="140.60" y2="356.31" stroke="#1e50ff" stroke-width="1.2" />
<line x1="149.05" y1="312.36" x2="149.05" y2="324.36" stroke="#1e50ff" stroke-width="1.2" />
<line x1="144.45" y1="312.36" x2="153.65" y2="312.36" stroke="#1e50ff" stroke-width="1.2" />
<line x1="144.45" y1="324.36" x2="153.65" y2="324.36" stroke="#1e50ff" stroke-width="1.2" />
<line x1="162.10" y1="271.85" x2="162.10" y2="281.85" stroke="#1e50ff" stroke-width="1.2" />
<line x1="157.50" y1="271.85" x2="166.70" y2="271.85" stroke="#1e50ff" stroke-width="1.2" />
<line x1="157.50" y1="281.85" x2="166.70" y2="281.85" stroke="#1e50ff" stroke-width="1.2" />
<line x1="175.15" y1="244.11" x2="175.15" y2="254.11" stroke="#1e50ff" stroke-width="1.2" />
<line x1="170.55" y1="244.11" x2="179.75" y2="244.11" stroke="#1e50ff" stroke-width="1.2" />
<line x1="170.55" y1="254.11" x2="179.75" y2="254.11" stroke="#1e50ff" stroke-width="1.2" />
<line x1="188.20" y1="227.20" x2="188.20" y2="236.20" stroke="#1e50ff" stroke-width="1.2" />
<line x1="183.60" y1="227.20" x2="192.80" y2="227.20" stroke="#1e50ff" stroke-width="1.2" />
<line x1="183.60" y1="236.20" x2="192.80" y2="236.20" stroke="#1e50ff" stroke-width="1.2" />
<line x1="292.60" y1="204.89" x2="292.60" y2="214.89" stroke="#1e50ff" stroke-width="1.2" />
<line x1="288.00" y1="204.89" x2="297.20" y2="204.89" stroke="#1e50ff" stroke-width="1.2" />
<line x1="288.00" y1="214.89" x2="297.20" y2="214.89" stroke="#1e50ff" stroke-width="1.2" />
<circle cx="70.75" cy="375.37" r="3.7" fill="#1e50ff"/>
<circle cx="83.80" cy="374.79" r="3.7" fill="#1e50ff"/>
<circle cx="96.85" cy="374.79" r="3.7" fill="#1e50ff"/>
<circle cx="109.90" cy="372.69" r="3.7" fill="#1e50ff"/>
<circle cx="122.95" cy="365.42" r="3.7" fill="#1e50ff"/>
<circle cx="136.00" cy="350.31" r="3.7" fill="#1e50ff"/>
<circle cx="149.05" cy="318.36" r="3.7" fill="#1e50ff"/>
<circle cx="162.10" cy="276.85" r="3.7" fill="#1e50ff"/>
<circle cx="175.15" cy="249.11" r="3.7" fill="#1e50ff"/>
<circle cx="188.20" cy="231.70" r="3.7" fill="#1e50ff"/>
<circle cx="201.25" cy="220.60" r="3.7" fill="#1e50ff"/>
<circle cx="214.30" cy="212.76" r="3.7" fill="#1e50ff"/>
<circle cx="227.35" cy="209.13" r="3.7" fill="#1e50ff"/>
<circle cx="240.40" cy="208.74" r="3.7" fill="#1e50ff"/>
<circle cx="253.45" cy="208.74" r="3.7" fill="#1e50ff"/>
<circle cx="266.50" cy="208.93" r="3.7" fill="#1e50ff"/>
<circle cx="279.55" cy="209.13" r="3.7" fill="#1e50ff"/>
<circle cx="292.60" cy="209.89" r="3.7" fill="#1e50ff"/>
<polyline points="83.8,374.8 85.1,374.8 86.4,374.8 87.7,374.8 89.0,374.8 90.3,374.8 91.6,374.8 92.9,374.7 94.2,374.8 95.5,374.8 96.8,374.8 98.2,374.8 99.5,374.9 100.8,375.0 102.1,375.1 103.4,375.2 104.7,375.3 106.0,375.3 107.3,375.4 108.6,375.4 109.9,375.4 111.2,375.3 112.5,375.2 113.8,375.1 115.1,375.0 116.4,374.8 117.7,374.6 119.0,374.4 120.3,374.2 121.6,374.0 122.9,373.8 124.3,373.6 125.6,373.4 126.9,373.1 128.2,372.9 129.5,372.6 130.8,372.3 132.1,372.1 133.4,371.8 134.7,371.5 136.0,371.2 137.3,370.8 138.6,370.5 139.9,370.2 141.2,369.9 142.5,369.6 143.8,369.2 145.1,368.9 146.4,368.5 147.7,368.1 149.0,367.7 150.4,367.3 151.7,366.8 153.0,366.4 154.3,365.9 155.6,365.4 156.9,364.9 158.2,364.4 159.5,363.9 160.8,363.4 162.1,362.9 163.4,362.4 164.7,362.0 166.0,361.5 167.3,361.0 168.6,360.5 169.9,360.0 171.2,359.5 172.5,359.0 173.8,358.5 175.1,358.0 176.5,357.4 177.8,356.9 179.1,356.4 180.4,355.9 181.7,355.3 183.0,354.8 184.3,354.3 185.6,353.8 186.9,353.3 188.2,352.8 189.5,352.3 190.8,351.9 192.1,351.4 193.4,351.0 194.7,350.5 196.0,350.1 197.3,349.7 198.6,349.3 199.9,348.8 201.2,348.4 202.6,348.0 203.9,347.5 205.2,347.1 206.5,346.7 207.8,346.2 209.1,345.8 210.4,345.4 211.7,344.9 213.0,344.5 214.3,344.0 215.6,343.5 216.9,343.0 218.2,342.6 219.5,342.1 220.8,341.6 222.1,341.1 223.4,340.5 224.7,340.0 226.0,339.4 227.3,338.8 228.7,338.2 230.0,337.6 231.3,336.9 232.6,336.2 233.9,335.5 235.2,334.8 236.5,334.1 237.8,333.4 239.1,332.7 240.4,331.9 241.7,331.2 243.0,330.5 244.3,329.8 245.6,329.1 246.9,328.4 248.2,327.7 249.5,326.9 250.8,326.2 252.1,325.4 253.4,324.7 254.8,323.9 256.1,323.2 257.4,322.4 258.7,321.6 260.0,320.9 261.3,320.1 262.6,319.3 263.9,318.4 265.2,317.5 266.5,316.6 267.8,315.7 269.1,314.8 270.4,313.9 271.7,312.9 273.0,311.9 274.3,310.9 275.6,309.8 276.9,308.7 278.2,307.4 279.5,306.1 280.9,304.7 282.2,303.1 283.5,301.5 284.8,299.8 286.1,298.1 287.4,296.3 288.7,294.4 290.0,292.6 291.3,290.7 292.6,288.9 293.9,287.1 295.2,285.2 296.5,283.4 297.8,281.5 299.1,279.6 300.4,277.6 301.7,275.6 303.0,273.6 304.3,271.5 305.6,269.4 307.0,267.2 308.3,264.9 309.6,262.5 310.9,260.1 312.2,257.7 313.5,255.2 314.8,252.7 316.1,250.2 317.4,247.7 318.7,245.3 320.0,242.8 321.3,240.4 322.6,237.9 323.9,235.4 325.2,232.9 326.5,230.5 327.8,228.0 329.1,225.5 330.4,223.1 331.8,220.6 333.1,218.2 334.4,215.7 335.7,213.3 337.0,210.9 338.3,208.5 339.6,206.1 340.9,203.7 342.2,201.3 343.5,198.9 344.8,196.5" fill="none" stroke="#f43c22" stroke-width="1.2" />
<line x1="175.15" y1="353.96" x2="175.15" y2="361.96" stroke="#f43c22" stroke-width="1.2" />
<line x1="170.55" y1="353.96" x2="179.75" y2="353.96" stroke="#f43c22" stroke-width="1.2" />
<line x1="170.55" y1="361.96" x2="179.75" y2="361.96" stroke="#f43c22" stroke-width="1.2" />
<line x1="188.20" y1="348.29" x2="188.20" y2="357.29" stroke="#f43c22" stroke-width="1.2" />
<line x1="183.60" y1="348.29" x2="192.80" y2="348.29" stroke="#f43c22" stroke-width="1.2" />
<line x1="183.60" y1="357.29" x2="192.80" y2="357.29" stroke="#f43c22" stroke-width="1.2" />
<line x1="201.25" y1="343.89" x2="201.25" y2="352.89" stroke="#f43c22" stroke-width="1.2" />
<line x1="196.65" y1="343.89" x2="205.85" y2="343.89" stroke="#f43c22" stroke-width="1.2" />
<line x1="196.65" y1="352.89" x2="205.85" y2="352.89" stroke="#f43c22" stroke-width="1.2" />
<line x1="214.30" y1="339.49" x2="214.30" y2="348.49" stroke="#f43c22" stroke-width="1.2" />
<line x1="209.70" y1="339.49" x2="218.90" y2="339.49" stroke="#f43c22" stroke-width="1.2" />
<line x1="209.70" y1="348.49" x2="218.90" y2="348.49" stroke="#f43c22" stroke-width="1.2" />
<line x1="227.35" y1="334.83" x2="227.35" y2="342.83" stroke="#f43c22" stroke-width="1.2" />
<line x1="222.75" y1="334.83" x2="231.95" y2="334.83" stroke="#f43c22" stroke-width="1.2" />
<line x1="222.75" y1="342.83" x2="231.95" y2="342.83" stroke="#f43c22" stroke-width="1.2" />
<line x1="240.40" y1="327.94" x2="240.40" y2="335.94" stroke="#f43c22" stroke-width="1.2" />
<line x1="235.80" y1="327.94" x2="245.00" y2="327.94" stroke="#f43c22" stroke-width="1.2" />
<line x1="235.80" y1="335.94" x2="245.00" y2="335.94" stroke="#f43c22" stroke-width="1.2" />
<line x1="253.45" y1="320.67" x2="253.45" y2="328.67" stroke="#f43c22" stroke-width="1.2" />
<line x1="248.85" y1="320.67" x2="258.05" y2="320.67" stroke="#f43c22" stroke-width="1.2" />
<line x1="248.85" y1="328.67" x2="258.05" y2="328.67" stroke="#f43c22" stroke-width="1.2" />
<line x1="266.50" y1="312.64" x2="266.50" y2="320.64" stroke="#f43c22" stroke-width="1.2" />
<line x1="261.90" y1="312.64" x2="271.10" y2="312.64" stroke="#f43c22" stroke-width="1.2" />
<line x1="261.90" y1="320.64" x2="271.10" y2="320.64" stroke="#f43c22" stroke-width="1.2" />
<line x1="279.55" y1="302.11" x2="279.55" y2="310.11" stroke="#f43c22" stroke-width="1.2" />
<line x1="274.95" y1="302.11" x2="284.15" y2="302.11" stroke="#f43c22" stroke-width="1.2" />
<line x1="274.95" y1="310.11" x2="284.15" y2="310.11" stroke="#f43c22" stroke-width="1.2" />
<line x1="292.60" y1="284.40" x2="292.60" y2="293.40" stroke="#f43c22" stroke-width="1.2" />
<line x1="288.00" y1="284.40" x2="297.20" y2="284.40" stroke="#f43c22" stroke-width="1.2" />
<line x1="288.00" y1="293.40" x2="297.20" y2="293.40" stroke="#f43c22" stroke-width="1.2" />
<line x1="305.65" y1="265.39" x2="305.65" y2="273.39" stroke="#f43c22" stroke-width="1.2" />
<line x1="301.05" y1="265.39" x2="310.25" y2="265.39" stroke="#f43c22" stroke-width="1.2" />
<line x1="301.05" y1="273.39" x2="310.25" y2="273.39" stroke="#f43c22" stroke-width="1.2" />
<line x1="318.70" y1="241.28" x2="318.70" y2="249.28" stroke="#f43c22" stroke-width="1.2" />
<line x1="314.10" y1="241.28" x2="323.30" y2="241.28" stroke="#f43c22" stroke-width="1.2" />
<line x1="314.10" y1="249.28" x2="323.30" y2="249.28" stroke="#f43c22" stroke-width="1.2" />
<circle cx="83.80" cy="374.79" r="3.7" fill="#f43c22"/>
<circle cx="96.85" cy="374.79" r="3.7" fill="#f43c22"/>
<circle cx="109.90" cy="375.37" r="3.7" fill="#f43c22"/>
<circle cx="122.95" cy="373.84" r="3.7" fill="#f43c22"/>
<circle cx="136.00" cy="371.16" r="3.7" fill="#f43c22"/>
<circle cx="149.05" cy="367.71" r="3.7" fill="#f43c22"/>
<circle cx="162.10" cy="362.93" r="3.7" fill="#f43c22"/>
<circle cx="175.15" cy="357.96" r="3.7" fill="#f43c22"/>
<circle cx="188.20" cy="352.79" r="3.7" fill="#f43c22"/>
<circle cx="201.25" cy="348.39" r="3.7" fill="#f43c22"/>
<circle cx="214.30" cy="343.99" r="3.7" fill="#f43c22"/>
<circle cx="227.35" cy="338.83" r="3.7" fill="#f43c22"/>
<circle cx="240.40" cy="331.94" r="3.7" fill="#f43c22"/>
<circle cx="253.45" cy="324.67" r="3.7" fill="#f43c22"/>
<circle cx="266.50" cy="316.64" r="3.7" fill="#f43c22"/>
<circle cx="279.55" cy="306.11" r="3.7" fill="#f43c22"/>
<circle cx="292.60" cy="288.90" r="3.7" fill="#f43c22"/>
<circle cx="305.65" cy="269.39" r="3.7" fill="#f43c22"/>
<circle cx="318.70" cy="245.28" r="3.7" fill="#f43c22"/>
<circle cx="331.75" cy="220.60" r="3.7" fill="#f43c22"/>
<circle cx="344.80" cy="196.50" r="3.7" fill="#f43c22"/>
<polyline points="70.8,385.9 72.1,385.9 73.4,385.9 74.7,385.9 76.0,385.9 77.3,385.9 78.6,385.9 79.9,385.9 81.2,385.9 82.5,385.9 83.8,385.9 85.1,385.9 86.4,385.9 87.7,385.9 89.0,385.9 90.3,385.9 91.6,385.9 92.9,385.9 94.2,385.9 95.5,385.9 96.8,385.9 98.2,385.9 99.5,385.8 100.8,385.8 102.1,385.8 103.4,385.7 104.7,385.7 106.0,385.6 107.3,385.6 108.6,385.6 109.9,385.5 111.2,385.5 112.5,385.4 113.8,385.4 115.1,385.3 116.4,385.3 117.7,385.2 119.0,385.2 120.3,385.1 121.6,385.0 122.9,384.9 124.3,384.8 125.6,384.7 126.9,384.6 128.2,384.5 129.5,384.4 130.8,384.3 132.1,384.1 133.4,383.9 134.7,383.7 136.0,383.4 137.3,383.1 138.6,382.7 139.9,382.4 141.2,382.0 142.5,381.5 143.8,381.1 145.1,380.6 146.4,380.1 147.7,379.6 149.0,379.0 150.4,378.4 151.7,377.8 153.0,377.2 154.3,376.6 155.6,376.0 156.9,375.3 158.2,374.5 159.5,373.7 160.8,372.9 162.1,371.9 163.4,370.9 164.7,369.8 166.0,368.7 167.3,367.5 168.6,366.3 169.9,365.0 171.2,363.7 172.5,362.3 173.8,360.9 175.1,359.5 176.5,358.0 177.8,356.5 179.1,355.0 180.4,353.5 181.7,351.8 183.0,350.2 184.3,348.6 185.6,346.9 186.9,345.2 188.2,343.4 189.5,341.7 190.8,339.9 192.1,338.1 193.4,336.2 194.7,334.4 196.0,332.5 197.3,330.5 198.6,328.6 199.9,326.7 201.2,324.7 202.6,322.7 203.9,320.6 205.2,318.5 206.5,316.4 207.8,314.2 209.1,312.1 210.4,309.9 211.7,307.8 213.0,305.7 214.3,303.6 215.6,301.6 216.9,299.6 218.2,297.6 219.5,295.6 220.8,293.6 222.1,291.7 223.4,289.7 224.7,287.7 226.0,285.6 227.3,283.5 228.7,281.4 230.0,279.2 231.3,277.0 232.6,274.7 233.9,272.5 235.2,270.2 236.5,268.0 237.8,265.8 239.1,263.6 240.4,261.5 241.7,259.5 243.0,257.5 244.3,255.6 245.6,253.7 246.9,251.8 248.2,250.0 249.5,248.1 250.8,246.3 252.1,244.5 253.4,242.6 254.8,240.7 256.1,238.8 257.4,236.9 258.7,235.0 260.0,233.1 261.3,231.3 262.6,229.4 263.9,227.6 265.2,225.9 266.5,224.2 267.8,222.6 269.1,221.1 270.4,219.6 271.7,218.1 273.0,216.7 274.3,215.3 275.6,213.9 276.9,212.6 278.2,211.3 279.5,210.1 280.9,208.8 282.2,207.6 283.5,206.4 284.8,205.2 286.1,204.1 287.4,203.0 288.7,202.0 290.0,201.1 291.3,200.3 292.6,199.6 293.9,199.0 295.2,198.6 296.5,198.3 297.8,198.1 299.1,198.0 300.4,197.9 301.7,197.8 303.0,197.7 304.3,197.6 305.6,197.5" fill="none" stroke="#000" stroke-width="1.2" />
<line x1="175.15" y1="355.99" x2="175.15" y2="362.99" stroke="#000" stroke-width="1.2" />
<line x1="170.55" y1="355.99" x2="179.75" y2="355.99" stroke="#000" stroke-width="1.2" />
<line x1="170.55" y1="362.99" x2="179.75" y2="362.99" stroke="#000" stroke-width="1.2" />
<line x1="188.20" y1="339.42" x2="188.20" y2="347.42" stroke="#000" stroke-width="1.2" />
<line x1="183.60" y1="339.42" x2="192.80" y2="339.42" stroke="#000" stroke-width="1.2" />
<line x1="183.60" y1="347.42" x2="192.80" y2="347.42" stroke="#000" stroke-width="1.2" />
<line x1="214.30" y1="299.13" x2="214.30" y2="308.13" stroke="#000" stroke-width="1.2" />
<line x1="209.70" y1="299.13" x2="218.90" y2="299.13" stroke="#000" stroke-width="1.2" />
<line x1="209.70" y1="308.13" x2="218.90" y2="308.13" stroke="#000" stroke-width="1.2" />
<line x1="227.35" y1="278.54" x2="227.35" y2="288.54" stroke="#000" stroke-width="1.2" />
<line x1="222.75" y1="278.54" x2="231.95" y2="278.54" stroke="#000" stroke-width="1.2" />
<line x1="222.75" y1="288.54" x2="231.95" y2="288.54" stroke="#000" stroke-width="1.2" />
<line x1="240.40" y1="256.54" x2="240.40" y2="266.54" stroke="#000" stroke-width="1.2" />
<line x1="235.80" y1="256.54" x2="245.00" y2="256.54" stroke="#000" stroke-width="1.2" />
<line x1="235.80" y1="266.54" x2="245.00" y2="266.54" stroke="#000" stroke-width="1.2" />
<line x1="253.45" y1="237.60" x2="253.45" y2="247.60" stroke="#000" stroke-width="1.2" />
<line x1="248.85" y1="237.60" x2="258.05" y2="237.60" stroke="#000" stroke-width="1.2" />
<line x1="248.85" y1="247.60" x2="258.05" y2="247.60" stroke="#000" stroke-width="1.2" />
<line x1="266.50" y1="219.74" x2="266.50" y2="228.74" stroke="#000" stroke-width="1.2" />
<line x1="261.90" y1="219.74" x2="271.10" y2="219.74" stroke="#000" stroke-width="1.2" />
<line x1="261.90" y1="228.74" x2="271.10" y2="228.74" stroke="#000" stroke-width="1.2" />
<circle cx="70.75" cy="385.89" r="3.7" fill="#000"/>
<circle cx="83.80" cy="385.89" r="3.7" fill="#000"/>
<circle cx="96.85" cy="385.89" r="3.7" fill="#000"/>
<circle cx="109.90" cy="385.50" r="3.7" fill="#000"/>
<circle cx="122.95" cy="384.93" r="3.7" fill="#000"/>
<circle cx="136.00" cy="383.40" r="3.7" fill="#000"/>
<circle cx="149.05" cy="379.00" r="3.7" fill="#000"/>
<circle cx="162.10" cy="371.92" r="3.7" fill="#000"/>
<circle cx="175.15" cy="359.49" r="3.7" fill="#000"/>
<circle cx="188.20" cy="343.42" r="3.7" fill="#000"/>
<circle cx="201.25" cy="324.67" r="3.7" fill="#000"/>
<circle cx="214.30" cy="303.63" r="3.7" fill="#000"/>
<circle cx="227.35" cy="283.54" r="3.7" fill="#000"/>
<circle cx="240.40" cy="261.54" r="3.7" fill="#000"/>
<circle cx="253.45" cy="242.60" r="3.7" fill="#000"/>
<circle cx="266.50" cy="224.24" r="3.7" fill="#000"/>
<circle cx="279.55" cy="210.08" r="3.7" fill="#000"/>
<circle cx="292.60" cy="199.56" r="3.7" fill="#000"/>
<circle cx="305.65" cy="197.46" r="3.7" fill="#000"/>
<line x1="294.00" y1="320.70" x2="314.50" y2="320.70" stroke="#1e50ff" stroke-width="1.2" />
<circle cx="304.25" cy="320.70" r="3.7" fill="#1e50ff"/>
<text x="325.03" y="318.00" font-family="Liberation Sans" font-weight="bold" font-size="12.97" textLength="48.89" lengthAdjust="spacingAndGlyphs" fill="#000">hKCNQ1</text>
<line x1="255.50" y1="344.00" x2="273.60" y2="344.00" stroke="#000" stroke-width="1.2" />
<circle cx="264.55" cy="344.00" r="3.7" fill="#000"/>
<text x="284.64" y="342.30" font-family="Liberation Sans" font-weight="bold" font-size="12.83" textLength="91.85" lengthAdjust="spacingAndGlyphs" fill="#000">KCNE1-hKCNQ1</text>
<line x1="214.60" y1="368.80" x2="234.50" y2="368.80" stroke="#f43c22" stroke-width="1.2" />
<circle cx="224.55" cy="368.80" r="3.7" fill="#f43c22"/>
<text x="247.92" y="367.00" font-family="Liberation Sans" font-weight="bold" font-size="13.10" textLength="127.36" lengthAdjust="spacingAndGlyphs" fill="#000">Y46A-KCNE1-hKCNQ1</text>
<text x="6.58" y="476.69" font-family="Liberation Sans" font-weight="bold" font-size="20.91" textLength="11.46" lengthAdjust="spacingAndGlyphs" fill="#000" >c</text>
<polyline points="12.3,512.0 21.0,512.0 21.9,498.6 298.9,498.6 298.9,506.0 351.7,506.0 351.7,511.7 390.6,511.7" fill="none" stroke="#3a3a3a" stroke-width="1.3" stroke-linejoin="miter"/>
<text x="215.04" y="494.00" font-family="Liberation Sans" font-weight="bold" font-size="13.00" textLength="63.43" lengthAdjust="spacingAndGlyphs" fill="#000">60 mV, 4 s</text>
<text x="305.04" y="502.40" font-family="Liberation Sans" font-weight="bold" font-size="12.86" textLength="42.68" lengthAdjust="spacingAndGlyphs" fill="#000">-40 mV</text>
<text x="366.75" y="503.70" font-family="Liberation Sans" font-weight="bold" font-size="13.29" textLength="42.37" lengthAdjust="spacingAndGlyphs" fill="#000">-80 mV</text>
<text x="32.54" y="520.70" font-family="Liberation Sans" font-weight="bold" font-size="12.14" textLength="39.03" lengthAdjust="spacingAndGlyphs" fill="#000">0.2 pA</text>
<line x1="16.80" y1="543.70" x2="44.40" y2="543.70" stroke="#333" stroke-width="1.6" />
<text x="17.45" y="557.90" font-family="Liberation Sans" font-weight="bold" font-size="13.29" textLength="28.38" lengthAdjust="spacingAndGlyphs" fill="#000">0.4 s</text>
<line x1="14.00" y1="522.10" x2="394.00" y2="522.10" stroke="#222" stroke-width="1.2" stroke-dasharray="1.05,1.05"/>
<text x="1.63" y="541.10" font-family="Liberation Sans" font-weight="bold" font-size="12.75" textLength="7.10" lengthAdjust="spacingAndGlyphs" fill="#000" >1</text>
<line x1="14.00" y1="561.20" x2="394.00" y2="561.20" stroke="#222" stroke-width="1.2" stroke-dasharray="1.05,1.05"/>
<text x="2.03" y="579.80" font-family="Liberation Sans" font-weight="bold" font-size="12.57" textLength="6.81" lengthAdjust="spacingAndGlyphs" fill="#000" >2</text>
<line x1="14.00" y1="599.50" x2="394.00" y2="599.50" stroke="#222" stroke-width="1.2" stroke-dasharray="1.05,1.05"/>
<text x="2.16" y="618.38" font-family="Liberation Sans" font-weight="bold" font-size="12.39" textLength="6.67" lengthAdjust="spacingAndGlyphs" fill="#000" >3</text>
<line x1="14.00" y1="637.50" x2="394.00" y2="637.50" stroke="#222" stroke-width="1.2" stroke-dasharray="1.05,1.05"/>
<text x="2.23" y="655.70" font-family="Liberation Sans" font-weight="bold" font-size="12.75" textLength="6.18" lengthAdjust="spacingAndGlyphs" fill="#000" >4</text>
<line x1="14.00" y1="676.80" x2="394.00" y2="676.80" stroke="#222" stroke-width="1.2" stroke-dasharray="1.05,1.05"/>
<text x="2.04" y="694.37" font-family="Liberation Sans" font-weight="bold" font-size="12.57" textLength="6.67" lengthAdjust="spacingAndGlyphs" fill="#000" >5</text>
<line x1="14.00" y1="713.30" x2="394.00" y2="713.30" stroke="#222" stroke-width="1.2" stroke-dasharray="1.05,1.05"/>
<text x="1.97" y="732.48" font-family="Liberation Sans" font-weight="bold" font-size="12.39" textLength="6.88" lengthAdjust="spacingAndGlyphs" fill="#000" >6</text>
<line x1="14.00" y1="752.60" x2="394.00" y2="752.60" stroke="#222" stroke-width="1.2" stroke-dasharray="1.05,1.05"/>
<text x="1.89" y="770.60" font-family="Liberation Sans" font-weight="bold" font-size="12.75" textLength="7.03" lengthAdjust="spacingAndGlyphs" fill="#000" >7</text>
<line x1="14.00" y1="789.40" x2="394.00" y2="789.40" stroke="#222" stroke-width="1.2" stroke-dasharray="1.05,1.05"/>
<text x="2.04" y="807.48" font-family="Liberation Sans" font-weight="bold" font-size="12.39" textLength="6.67" lengthAdjust="spacingAndGlyphs" fill="#000" >8</text>
<path d="M14.4 537.7l.2 2.3 .2 .4 .2-3.5 .2 .4 .2 .3 .2 .4 .2-1.2 .2-.6 .2 3.5 .2 0 .2-2.6 .2-1 .2-.1 .2-.9 .2-.2 .2 1.6 .2-.7 .2 1.7 .2-1.4 .2-.6 .2 .9 .2-3.7 .2 4.8 .2-1 .2 2.8 .2-3.1 .2 .5 .2-1.3 .2 5.1 .2-3.1 .2 1.7 .2-2.6 .2 1.5 .2-2.6 .2 .6 .2 .5 .2-1 .2 2.7 .2 .2 .2 .6 .2-3.6 .2 .5 .2 .9 .2 1.2 .2-3.3 .2 1.7 .2 2.2 .2-1.5 .2-.4 .2-1.7 .2 1.3 .2 1.8 .2 .5 .2-4.6 .2 3.5 .2-1.3 .2-.9 .2 4.7 .2-2 .2-3 .2 .1 .2 2 .2-2.8 .2 2.2 .2 1.2 .2-3 .2 2.5 .2 .5 .2-1.9 .2 1.8 .2 .4 .2-.4 .2-1.9 .2 2.6 .2-1.9 .2 .8 .2-.2 .2-.1 .2-3.5 .2 5.2 .2-.9 .2-.6 .2 .8 .2-1.8 .2 .5 .2 1.1 .2-4.6 .2 2.4 .2 .3 .2 .5 .2-.4 .2-.4 .2 1.7 .2 .9 .2-.5 .2 1 .2-.9 .2 1.7 .2 .1 .2-3.4 .2-.6 .2 .4 .2 .3 .2 1.9 .2-.4 .2-.5 .2-1.5 .2 .5 .2 .4 .2 .8 .2-5.5 .2 5.5 .2 .3 .2-2 .2 3.6 .2-1.1 .2-.2 .2-3.9 .2 4.1 .2-1.1 .2 .1 .2-4.3 .2 1.3 .2 2.2 .2-1.7 .2 4.4 .2-4.1 .2 3.2 .2-.7 .2 4.2 .2-4.7 .2 2.4 .2-3.3 .2-1.2 .2 2.5 .2 1.6 .2-3.1 .2 2.6 .2-.7 .2-1 .2 .4 .2-.2 .2-1.2 .2 1.3 .2 .4 .2-2 .2-3.1 .2 5.4 .2-2.2 .2 2.1 .2-2.5 .2 2.2 .2-1.1 .2-.1 .2 .5 .2 .7 .2-3.6 .2 5.1 .2-.4 .2-1.2 .2-3.3 .2 4.2 .2-1.4 .2 2.8 .2-3.6 .2 .5 .2 2 .2-5.3 .2 2.9 .2 .4 .2-3.7 .2 2.4 .2 2 .2 .3 .2 2.2 .2-1.2 .2-3.9 .2 3.6 .2-.7 .2-.5 .2-2.1 .2 5.1 .2-.3 .2-2.4 .2-1.9 .2-.6 .2 0 .2 3.5 .2-4.5 .2 4.8 .2-2.2 .2 .9 .2 .7 .2 2.8 .2-2.9 .2-1.5 .2 .9 .2-.4 .2-.1 .2 0 .2-1.8 .2 2.2 .2-2.8 .2 4.3 .2-2.6 .2-1.4 .2 3.1 .2 .1 .2-1 .2-2.8 .2 .4 .2 3.2 .2 2.9 .2-3.4 .2 .1 .2 .5 .2-2.5 .2 3.4 .2-2.9 .2 1.1 .2-1.5 .2-.7 .2 .7 .2-.2 .2 .9 .2 3.3 .2-2.2 .2-1.4 .2 1.6 .2-1.6 .2 2.9 .2-.5 .2-2 .2 .5 .2 .2 .2-1.8 .2-.3 .2 1.8 .2-1.2 .2 1.5 .2 1.5 .2-1.8 .2 1.4 .2 2 .2-3.8 .2 3.3 .2-3.9 .2-.6 .2 2.4 .2-.7 .2-2.2 .2 4.8 .2-.8 .2-3.1 .2 1.3 .2 .1 .2-1.9 .2 2.6 .2-2.9 .2-.6 .2 5.5 .2-3.5 .2-.3 .2 .9 .2-.8 .2 4.9 .2-2.9 .2 .6 .2 .1 .2 2.1 .2-7.5 .2 5.1 .2-1 .2-.2 .2 1.9 .2-1 .2-4 .2 3.4 .2-.7 .2 2.2 .2-5.5 .2 4.7 .2-.8 .2 .9 .2-.5 .2-4.2 .2 4.8 .2-1.3 .2-1.2 .2 3 .2-1.7 .2 3 .2-1 .2-3.7 .2 3.2 .2-1.4 .2 0 .2-.2 .2 1.9 .2-3.1 .2 2.2 .2-3.4 .2 3.2 .2-2.7 .2-.1 .2 2.1 .2-1.8 .2 3.8 .2-3.7 .2 4.6 .2-1.4 .2-1.2 .2 .9 .2-.8 .2 3.7 .2-3.2 .2-1.8 .2 1.7 .2-1.3 .2 .5 .2-.9 .2 .1 .2 2.4 .2-1.5 .2 1.4 .2-1.9 .2 .4 .2-.7 .2 3 .2 .6 .2-3 .2 1.7 .2-4 .2 .2 .2 3.5 .2-4.2 .2 7.8 .2-3 .2 1.2 .2-3.2 .2-2.2 .2 .8 .2 0 .2 2.9 .2-3.3 .2 .4 .2 4.1 .2-4.9 .2 1 .2 3.5 .2 1.9 .2-7.1 .2-1.3 .2 3 .2 1.6 .2-.5 .2-.8 .2-1.3 .2 3.7 .2-2.3 .2-.3 .2 1.2 .2 2.5 .2-2.2 .2 4.1 .2-5 .2 1.6 .2-4.8 .2 2.6 .2 1.1 .2-1.2 .2-.2 .2 .4 .2-.7 .2 .8 .2 1 .2 .5 .2-2.5 .2 1.5 .2-1 .2 3 .2 1.4 .2-2.7 .2 .4 .2-1.2 .2 1.3 .2-1.2 .2-1.8 .2 4.4 .2 1.7 .2-2.8 .2-1.1 .2 .8 .2 2.1 .2-3.8 .2 2.1 .2-.9 .2-4.1 .2 3.1 .2 1.7 .2-.3 .2-.9 .2-2 .2 2.7 .2-.1 .2 .6 .2 2.1 .2-3 .2 1.8 .2-1.1 .2 4 .2-3.9 .2 3.7 .2-6.4 .2-.3 .2 2.9 .2-1.1 .2 2.6 .2-.9 .2 0 .2-2.8 .2 1.4 .2 1.5 .2-2.5 .2 1 .2 2.1 .2-2.2 .2 .5 .2 1.7 .2-1.3 .2-3.3 .2 2.8 .2-.2 .2 .5 .2 3.4 .2-2 .2-1.7 .2-1.4 .2 2.6 .2-1.1 .2 2 .2-1.8 .2 1.3 .2-3.2 .2 1.1 .2 .4 .2-1.5 .2 2.2 .2-1.3 .2 0 .2-.6 .2 1 .2-2.7 .2 4.4 .2-.9 .2 .3 .2 1.2 .2-1.7 .2-1.1 .2 2.9 .2-3 .2 .9 .2-4.1 .2 2.8 .2 1 .2 1.1 .2-.2 .2 .7 .2-2.7 .2 0 .2 1.3 .2-1.7 .2 .7 .2 .7 .2-3.6 .2 .7 .2 3.4 .2-1.9 .2 2.5 .2-5.5 .2 2.3 .2 2.9 .2-1.6 .2 1.1 .2-1.8 .2-.3 .2 .9 .2-.9 .2 1.1 .2-8.3 .2 9.2 .2-2.9 .2-.6 .2-3 .2 4.3 .2-1.5 .2 3.5 .2-.2 .2 1.1 .2-2.4 .2 .2 .2 2.9 .2 0 .2-3.8 .2-2.1 .2-.9 .2-3.1 .2 9.8 .2-3.1 .2 1.3 .2 .3 .2-2.7 .2 3.8 .2-2.7 .2-1.4 .2 3.1 .2-.3 .2-1.2 .2 .8 .2 3.1 .2-1.8 .2-1.2 .2-.6 .2 3.8 .2-3.9 .2-2.7 .2 5.5 .2-2.9 .2-2.9 .2 1.3 .2 0 .2-1.4 .2 2.5 .2 .3 .2 3.9 .2-3 .2-.9 .2 .7 .2 .5 .2 1.4 .2 .6 .2-5.7 .2 .8 .2 2.6 .2 3.3 .2-4.2 .2 2.8 .2-2.9 .2 0 .2 .5 .2 2.9 .2-3.2 .2 1 .2 .4 .2 1.1 .2-1.5 .2 1.4 .2 1.5 .2-1.6 .2-9.5 .2 7.9 .2-6.6 .2 6.4 .2-1.5 .2 .4 .2 .6 .2-2.4 .2 8.5 .2-3.6 .2-2.5 .2-.3 .2-3.4 .2 2.2 .2 .7 .2 3.6 .2-1.9 .2 1.5 .2-1.2 .2-.2 .2-1.2 .2 2 .2-5.7 .2 0 .2-1.1 .2 2.8 .2-2 .2 6.3 .2-3.2 .2-.9 .2 4.2 .2-2.4 .2-3.4 .2 5.2 .2 1.6 .2-2.7 .2-.1 .2-2.5 .2 .1 .2-.8 .2-3.3 .2 4.5 .2-2.7 .2 8.7 .2-4.9 .2 1.6 .2-.4 .2 .5 .2 4 .2-4.8 .2 2.2 .2-1.7 .2-.7 .2 2 .2-.8 .2-.9 .2-1.4 .2 2.5 .2 5.2 .2-6.2 .2-5.3 .2-2.2 .2 13.8 .2-8.5 .2 1.4 .2-2.3 .2-.4 .2 3.9 .2 .5 .2-.8 .2 2.8 .2-.3 .2-.3 .2-6.8 .2 3.1 .2 1.8 .2-6.2 .2 1.2 .2 7.6 .2-2.3 .2 2.3 .2-4.8 .2 .7 .2-.5 .2 .7 .2-.3 .2-1.6 .2 5.3 .2-1.3 .2-2.4 .2-9.2 .2 12.6 .2-6 .2 2.1 .2-.3 .2 .9 .2 2.2 .2 .7 .2-1 .2-2.7 .2-.4 .2 4.6 .2-.7 .2 2.8 .2-6.1 .2 .5 .2 0 .2 .3 .2 2.2 .2-.7 .2-1.1 .2 2.7 .2-2.1 .2-.9 .2-.1 .2-1.2 .2 2 .2-1.1 .2 1.3 .2-6.4 .2 .2 .2 5.7 .2 4.1 .2-5.4 .2 3.3 .2-1.2 .2 .5 .2-1.7 .2-.2 .2 2.5 .2-4.2 .2 3.3 .2-2.9 .2-.6 .2 3.4 .2-1.1 .2 4.4 .2-6.5 .2 3.4 .2-.1 .2 .1 .2-5.7 .2 2.6 .2 4.2 .2 0 .2-.6 .2-.2 .2 1.6 .2-.4 .2-7.7 .2 4.8 .2 3 .2-3.4 .2 2.2 .2-2.4 .2 1.5 .2 1.7 .2-1.9 .2 2.2 .2-2.5 .2 3.8 .2-3.2 .2 4.9 .2-3.3 .2-1.4 .2-1.9 .2 1.3 .2 4.2 .2-5.6 .2-.6 .2 3.2 .2 1.7 .2-2.9 .2-5.1 .2 1.1 .2 .1 .2 2.3 .2 5.6 .2-3.5 .2-1.2 .2-.7 .2-6.4 .2 2.9 .2 2.9 .2 4 .2-1.6 .2-.9 .2 3.8 .2-5.6 .2 4.6 .2-1.5 .2 .3 .2-.5 .2-2 .2 3 .2 1.1 .2-5.6 .2 3.7 .2-.4 .2-.3 .2 1.2 .2-1 .2-.4 .2 2.8 .2-3.8 .2 .9 .2-7.6 .2-.7 .2 8.1 .2 3.5 .2-4 .2 5.9 .2-7.1 .2-1.5 .2 3 .2-1 .2 4.4 .2-1.4 .2-2.7 .2-3.1 .2-.2 .2 9.8 .2-4.3 .2 .2 .2 .4 .2-.5 .2-.4 .2-1.6 .2 1.7 .2 .2 .2-2.7 .2 2.5 .2-2.4 .2-.7 .2 2.8 .2 1 .2 .7 .2-2.6 .2-1.6 .2 1 .2 1.1 .2 .2 .2 1.1 .2-1.2 .2 2.2 .2-3 .2 2 .2-3.2 .2-.4 .2 .2 .2-2.8 .2 3.5 .2-2.5 .2 .5 .2 2.1 .2 2.4 .2-1.4 .2-.5 .2 2.4 .2-2.6 .2 2 .2-.3 .2 .6 .2-4.9 .2 1.8 .2 2.4 .2 .4 .2 2.6 .2 .1 .2-1.7 .2-3.7 .2-6.2 .2 3.5 .2 2.9 .2 3.1 .2-.2 .2 0 .2 .1 .2-.4 .2-.8 .2-.9 .2 2.3 .2-1.2 .2-3.5 .2-2.7 .2 .3 .2-.9 .2 2.5 .2-2.6 .2-2.7 .2 2.8 .2 .2 .2 6.6 .2-.6 .2 2.9 .2-1.7 .2 1 .2 .8 .2-.7 .2-.1 .2-2.5 .2 1.7 .2-1 .2 1.6 .2-2.4 .2 2.2 .2-2.1 .2 2.3 .2 .8 .2 0 .2-10 .2 3 .2 1.7 .2 3.3 .2-2.8 .2 2.6 .2-2.1 .2 2 .2-1.2 .2 3.5 .2 1.6 .2-2.4 .2 .4 .2-1.1 .2-.9 .2-.3 .2-1.6 .2 .6 .2 2.8 .2-2 .2 1.4 .2-2.2 .2 5.7 .2-5 .2-2.6 .2 3.5 .2 1 .2 1 .2-2.2 .2-.6 .2 3.3 .2-1.2 .2 .2 .2 .3 .2-1.5 .2-1.1 .2 1.5 .2-3.8 .2 3.3 .2 1.8 .2-2.3 .2 3.7 .2-3.9 .2-1.2 .2 2.9 .2-1.4 .2 1.4 .2-2.2 .2 2.1 .2-.7 .2 .3 .2 1.2 .2-10.8 .2 1.1 .2 2.3 .2 7.9 .2-.9 .2-3.2 .2 2.3 .2-1.1 .2 .1 .2-2.2 .2-.9 .2 5.4 .2-.3 .2-4 .2 1.9 .2 .7 .2-1.1 .2 1.9 .2-1.5 .2-1.8 .2 1.7 .2 1.6 .2-2.5 .2 2.9 .2 .6 .2-.8 .2-.1 .2-1.1 .2 1.1 .2-6.1 .2-2.8 .2 2.8 .2 3.8 .2-.7 .2-3.6 .2 1.5 .2-1 .2 3.1 .2 1.4 .2 2 .2-1.4 .2-5.9 .2-3.3 .2 7.6 .2-5.9 .2 2.1 .2 6.8 .2-1.1 .2 1.1 .2-9.6 .2 6.6 .2 .4 .2-1.2 .2-.4 .2-2.3 .2-3.8 .2 4.2 .2-.4 .2-2.1 .2-1.8 .2 1.3 .2-.2 .2 6.7 .2-.2 .2 1.4 .2-.5 .2 .4 .2 .1 .2 2.1 .2 1.4 .2-3.5 .2-.2 .2-.2 .2 2 .2-.5 .2-1 .2-7.6 .2 8.4 .2 .9 .2-2.5 .2 1.5 .2-3.9 .2 2 .2 2 .2-3.6 .2 .2 .2-3.6 .2-4 .2 2.9 .2 10.8 .2-3 .2 2.4 .2-.3 .2-4 .2 1 .2 1 .2 1.2 .2 .6 .2-1.2 .2-.8 .2-2.3 .2 3.6 .2-2.8 .2 2.7 .2 .6 .2-4.9 .2 6.1 .2-6.9 .2 2.2 .2-.2 .2 1.7 .2-1.2 .2 3.7 .2-1.4 .2-2.8 .2 1 .2 1.6 .2 .4 .2-1.5 .2-5.8 .2 3.4 .2 2.3 .2 5.1 .2-5.5 .2-.6 .2 1.9 .2 .3 .2-1.1 .2-3.7 .2 2.3 .2 0 .2 2.2 .2-2.3 .2 .6 .2-1.6 .2 .9 .2 4.8 .2-2.6 .2-15 .2 12 .2-11.6 .2 14.8 .2-1.9 .2 .9 .2-.6 .2-.3 .2-4.5 .2 5.9 .2 1.5 .2-2.9 .2-.5 .2 .7 .2-.8 .2-2.7 .2 2.5 .2 .6 .2 1.9 .2-3.6 .2 1.2 .2 .6 .2 .7 .2 2.6 .2-2.3 .2-9.1 .2 5.9 .2-1.5 .2-5.8 .2 11.7 .2-.8 .2-1.4 .2-1.9 .2 2.7 .2-14.7 .2 3.2 .2-7.5 .2 5.3 .2-4.8 .2 4.7 .2 12.3 .2-11.9 .2-3.5 .2 14.1 .2-2.1 .2 3 .2 1.1 .2-.8 .2-9.1 .2 1.4 .2 1.3 .2-.4 .2-4 .2 2.6 .2 7.1 .2-17.8 .2 20.4 .2-13.7 .2-2.4 .2 2.7 .2-.5 .2-1.3 .2 1.4 .2-.9 .2 12.5 .2-7 .2-4.6 .2 6.2 .2 7.1 .2-1.2 .2-3.9 .2 3 .2-6.3 .2 4.2 .2-2.6 .2 6.1 .2-14.5 .2 1.9 .2 0 .2-2.2 .2 17.1 .2-2.1 .2-10.4 .2 1.4 .2-2.6 .2 8.9 .2 2.6 .2 1.8 .2-2.1 .2-11.8 .2 14.4 .2-14.3 .2 12.2 .2-.3 .2 1.4 .2-.3 .2-.5 .2 2.1 .2-1.7 .2-.2 .2-1.8 .2-12.7 .2 16.4 .2-1.1 .2-1 .2-.4 .2-1.4 .2 .3 .2-8.9 .2-1.8 .2 .1 .2 2.1 .2 9 .2-.1 .2 3.4 .2-6.9 .2-3.8 .2 2.7 .2-1.3 .2 .5 .2 .4 .2-2.4 .2 1.6 .2 9.8 .2-3.5 .2-.5 .2 2.5 .2-4 .2-5.8 .2 2.7 .2-2.2 .2 8.3 .2-1 .2 1 .2 .6 .2-12.7 .2 .4 .2 11.5 .2-3.7 .2 4.9 .2 1.6 .2-11.1 .2-1 .2-1 .2 1.3 .2 2.8 .2-.8 .2-3.9 .2 3.9 .2-3.8 .2 9.5 .2 .9 .2 1.3 .2-14.1 .2 2.1 .2-1.2 .2 14.9 .2-5.2 .2-6.9 .2 1 .2 1.5 .2-6.3 .2 3.2 .2 6.5 .2-9 .2-1.7 .2 1.5 .2 14.4 .2-10.3 .2-1.8 .2 1.4 .2 4.4 .2-6.3 .2 11.8 .2-1.8 .2 2.3 .2-16.8 .2 2.4 .2-3.6 .2 3 .2 18 .2-6.3 .2-4.8 .2 8.4 .2-3.4 .2-2.2 .2 1.2 .2 3.2 .2-10.8 .2-1.8 .2 0 .2 1.7 .2-1.9 .2 2.5 .2 12.6 .2-3.2 .2 2.8 .2-1 .2-1.5 .2 .2 .2 1.9 .2-4 .2-.7 .2-4 .2 10.2 .2-2.9 .2-8.8 .2-4.7 .2 .6 .2 1.4 .2 .3 .2 .9 .2 9.1 .2 .7 .2-.3 .2 1.4 .2 .8 .2-.3 .2-11.7 .2-2.8 .2 12.3 .2-2.5 .2 .3 .2-6.2 .2-.6 .2-.7 .2-.7 .2 9.1 .2-1.7 .2 2.8 .2 .6 .2-4.1 .2-6.5 .2-3.5 .2 15.3 .2 1.5 .2 .3 .2-3.1 .2 2.2 .2-14.9 .2 13.3 .2 .5 .2-2.2 .2 2.1 .2-1.7 .2 .8 .2-7.7 .2 9.7 .2-2.1 .2-13.4 .2-.2 .2 5.5 .2-5.6 .2 1.5 .2-3.4 .2 2.7 .2 11.1 .2 1.1 .2-3.7 .2 7.7 .2-2.7 .2 .8 .2-8.5 .2 6.7 .2 .8 .2 1.6 .2-13.6 .2-1 .2-.2 .2 1.7 .2-1.4 .2 2.2 .2-4.2 .2 3.9 .2-2.8 .2 13.6 .2 3.8 .2-1.9 .2-2.7 .2-14.5 .2 2.3 .2 14.8 .2-10 .2 1.3 .2-2.1 .2 4.1 .2 6.8 .2-2.7 .2 1.9 .2-1.4 .2-12.2 .2-1.1 .2 15 .2 .1 .2 .8 .2-1.1 .2-.4 .2-1.7 .2 1 .2 .7 .2-17.4 .2 14.6 .2 1.8 .2 1.7 .2-8.4 .2 10 .2-4.5 .2 1.5 .2-1 .2-12.2 .2 12.5 .2 .9 .2 1.2 .2-11.5 .2 9.9 .2-1.6 .2 4.3 .2-10.7 .2-3.8 .2 10.6 .2-5 .2 8 .2-14.8 .2 12.3 .2 1.2 .2-2.4 .2-5.5 .2-2.5 .2 0 .2-2.2 .2 4.3 .2 5.5 .2-12 .2 .2 .2 .9 .2-2.4 .2 1.2 .2 2.4 .2-1.1 .2 .3 .2 1.5 .2-.9 .2 1 .2-1.8 .2-1.6 .2 17.5 .2-19.9 .2 14.5 .2 .4 .2 6.2 .2-4.1 .2-9.3 .2-4.6 .2 .9 .2 2.7 .2-1.3 .2 12.2 .2 1 .2-.8 .2 .1 .2 .3 .2-.7 .2 1 .2 1.3 .2-3.3 .2 2.3 .2 1.1 .2-1.8 .2 .1 .2 3.4 .2-1.2 .2 2.1 .2-.7 .2-3.9 .2-.6 .2 .7 .2 2.1 .2-7.6 .2 6.1 .2 2.1 .2-2.1 .2 .5 .2-1 .2-2.5 .2 4.6 .2-2.1 .2 1.4 .2-.8 .2 3.4 .2-2.6 .2-.1 .2-.9 .2-1.2 .2 2.1 .2 1.2 .2-1.9 .2-3.8 .2 2.4 .2 4.8 .2-4.4 .2 1.3 .2-3.7 .2 2.3 .2-.5 .2 3 .2-.3 .2-.2 .2 .8 .2-2.6 .2 3.9 .2-3.5 .2 2 .2 2.1 .2-4.6 .2 1.6 .2-.9 .2 .5 .2 .3 .2-.7 .2 .2 .2 1.2 .2-3.6 .2 1 .2 .4 .2-1.6 .2 3 .2-1.4 .2-.8 .2-.9 .2 .9 .2 2.3 .2-3 .2 3.8 .2-.5 .2-.6 .2-3.5 .2 1.6 .2 3.2 .2-2.5 .2-.7 .2 0 .2 2 .2-3.9 .2 5 .2-1.4 .2-2.2 .2 2.8 .2-5.8 .2 2.6 .2 2.7 .2 2.2 .2-4.8 .2-.4 .2 2.4 .2 .3 .2-1.4 .2-.1 .2 4.1 .2-4.3 .2-1.2 .2 2 .2 3.1 .2-1.1 .2-1.3 .2-2.2 .2 2.1 .2 5.2 .2-4 .2 .8 .2-4.6 .2 2.1 .2-.3 .2 4 .2-3.5 .2 .3 .2-.8 .2-4.1 .2 7 .2-5.3 .2 2.3 .2-1.8 .2 1.7 .2 .3 .2-.1 .2 3.4 .2-4.7 .2 1.6 .2 1.5 .2-1.7 .2-.2 .2 4.4 .2-2 .2-2.9 .2 1.9 .2-2 .2 2.4 .2-3.3 .2 3.9 .2-.7 .2-.1 .2-.6 .2 .4 .2-1.9 .2 1.6 .2 1 .2-.3 .2-2.4 .2 2.6 .2-3.1 .2 .8 .2-.3 .2 .5 .2 .8 .2 1.4 .2 .7 .2-1.1 .2-2.1 .2 2.6 .2 .5 .2-3.1 .2-.8 .2 1.9 .2 3.7 .2-4 .2 .3 .2 1.5 .2-3.3 .2 .2 .2 1.7 .2 1.8 .2-2 .2-.6 .2-1.8 .2 5.8 .2-4.9 .2 4.5 .2-3.6 .2 3.3 .2 1 .2-4.5 .2 2.6 .2 .2 .2 .9 .2-2.7 .2 2.7 .2-2 .2-1.9 .2 3.6 .2 .4 .2-2.2 .2-.2 .2 1.5 .2 1.6 .2-5.1 .2 4 .2 1.6 .2-5.1 .2 2.6 .2-.9 .2 .4 .2 1.6 .2-4.9 .2 1.9 .2-1.5 .2 1.9 .2 3.8 .2-5.1 .2 1.1 .2-.3 .2 1.8 .2-1.4 .2-.8 .2 .1 .2 1 .2-1.9 .2-2.1 .2 6.3 .2-1.8 .2-1.3 .2 .8 .2 1.5 .2-2.8 .2 1.6 .2-1 .2 3.1 .2-6.5 .2 1.8 .2 5 .2-4.6 .2 .7 .2-.7 .2-2 .2 3.9 .2 1.4 .2-.7 .2-2.7 .2 1.2 .2 3.9 .2-3.3 .2-1.3 .2 3.2 .2-2.1 .2-2.8 .2 1.8 .2 3.2 .2-2 .2 .1 .2 1.3 .2-2.5 .2-1.3 .2 2.7 .2-1.1 .2 1.1 .2-1.3 .2 0 .2-1.1 .2 3 .2 2.9 .2-5.6 .2 4.2 .2-.8 .2-2.3 .2-.7 .2 2.7 .2-1.6 .2 .1 .2-.3 .2 4.1 .2-6.1 .2 3.5 .2 2.6 .2-3.1 .2 3.5 .2-3.8 .2 .3 .2 1 .2-2.6 .2 1.4 .2 .9 .2-2.2 .2 2 .2 1.1 .2-3.9 .2 1.8 .2 1 .2-2 .2 3.1 .2 .3 .2-3.2 .2 1.5 .2-1.6 .2 .9 .2 1 .2-1.1 .2 .6 .2-1.1 .2 2.9 .2-.4 .2-2.8 .2 2.1 .2 3.7 .2-5.5 .2 3.3 .2 2.2 .2-5 .2 1.7 .2-5.2 .2 6.3 .2-1.3 .2 .3 .2-1.1 .2 1.4 .2 .3 .2-.7 .2-1.7 .2 .2 .2 .4 .2-.5 .2-1.1 .2-.7 .2 2 .2-1.4 .2 1 .2-1.6 .2-.1 .2 1.7 .2 .3 .2 4.3 .2-4 .2 2 .2-1 .2-.4 .2-1.1 .2 1.6 .2-.2 .2-3.4 .2 3.7 .2-1.7 .2-2.4 .2 1.4 .2 2.6 .2 .5 .2-1.8 .2 2.3 .2-.7 .2-4.1 .2 .8 .2 2.5 .2-2.2 .2 .5 .2 1.6 .2-1 .2-.7 .2-1.3 .2 6.2 .2-6.1 .2 1.7 .2 2.6 .2-2.1 .2-1.4 .2-.4 .2 4 .2-.7 .2-4.8 .2 1.1 .2 3.6 .2 1.8 .2-3.8 .2 2.7 .2-4.6 .2-.1 .2 .8 .2 3 .2-.5 .2 .9 .2-4.4 .2 6.1 .2-3.7 .2 5.4 .2-4.3 .2-3.6 .2 3.1 .2-1.4 .2 4.2 .2-2.3 .2 1.8 .2-3.7 .2 .1 .2 1.7 .2-.2 .2-1.8 .2 2.6 .2 1.2 .2-2.8 .2-.3 .2 .1 .2 1.8 .2-1.2 .2 1 .2 1.3 .2-2.6 .2 .1 .2-.1 .2 3.2 .2-2.9 .2 .3 .2-.7 .2 2.1 .2-.8 .2-2.8 .2 3.7 .2-1 .2 1.4 .2-1.2 .2-1.1 .2-1.7 .2 3.6 .2 .4 .2-3.8 .2 1.5 .2 .9 .2-1.1 .2 .9 .2-1.3 .2-.5 .2 3.3 .2-5.3 .2 4.2 .2-2.5 .2 1.5 .2-1.3 .2 1.6 .2-1.4 .2 1.6 .2-3 .2 .6 .2 1.7 .2 1.4 .2-2.6 .2 4.9 .2-4.1 .2 2 .2-4.6 .2 1.4 .2 0 .2-.3 .2-.7 .2 2 .2-.8 .2 4.5 .2-3 .2 .6 .2-4.2 .2 6.3 .2 .1 .2-4.7 .2 .1 .2 .4 .2 3.9 .2-4.9 .2 .5 .2-1 .2 3.4 .2 1 .2-3.3 .2 3.8 .2-1.8 .2-1.8 .2 2.5 .2 1.3 .2 0 .2-1.3 .2 1.4 .2-2.4 .2 .6" fill="none" stroke="#ff0000" stroke-width="1.1" stroke-linejoin="bevel"/>
<path d="M14.4 575.5l.2 1.7 .2-1.6 .2-1.3 .2 2.6 .2-1.5 .2 1.5 .2 2.4 .2-2.4 .2-3.7 .2 .6 .2 2.6 .2-3.7 .2 2 .2 1.2 .2-1.3 .2-.6 .2 1.4 .2-.6 .2-.3 .2 1.8 .2-2 .2 .7 .2 2.6 .2-.7 .2-1.4 .2-.3 .2 .8 .2-.1 .2-2.6 .2 .9 .2 3.3 .2-3.6 .2 4.6 .2-1.7 .2-1.2 .2-.8 .2 1.1 .2 1.1 .2-.5 .2 1.5 .2-1.6 .2-1.9 .2 2 .2 .4 .2-1.5 .2-1.4 .2 .2 .2 2.4 .2-2.6 .2 4.7 .2-1.8 .2-4.4 .2 1.2 .2 2 .2-2.3 .2 2 .2 1.8 .2-.4 .2-3 .2 3.2 .2 .5 .2-3 .2 2.4 .2-2.2 .2-1.2 .2 4.4 .2-.1 .2-3.6 .2-3 .2 6.4 .2-2.8 .2 1.7 .2-3 .2 3.3 .2 1 .2-1.7 .2 1.2 .2-.9 .2 1.2 .2-2.7 .2-.2 .2-2.4 .2 2.7 .2 .2 .2-1.4 .2 3.8 .2-2.3 .2 5.7 .2-4.1 .2-2.5 .2 1.4 .2 1.4 .2 .6 .2 .7 .2-3.4 .2 2.5 .2-1.8 .2 1.7 .2-1.9 .2 .1 .2 .7 .2-1.7 .2 1.1 .2 .7 .2-3.9 .2 2.3 .2 .1 .2 2.6 .2-1.5 .2-.3 .2-1.3 .2 2.1 .2-1.4 .2 2.2 .2-2.2 .2 .5 .2 1.1 .2-.2 .2-3.5 .2 3 .2-.4 .2-3.2 .2 1.1 .2 3.8 .2-1.1 .2-1.4 .2 2.4 .2-4.7 .2 5.4 .2-3.4 .2 3.6 .2-3.3 .2-.2 .2 1.4 .2-1 .2 2.2 .2-.4 .2-2 .2 .3 .2 .3 .2 3 .2-3.1 .2 1.9 .2-1.8 .2-1.4 .2-1.4 .2 3.2 .2 .4 .2-.4 .2 1.8 .2-.9 .2 1.9 .2-2.1 .2-2.7 .2 3.6 .2-3.9 .2 1.6 .2-2 .2 3.8 .2 .9 .2-4.9 .2 .8 .2 .3 .2-2.1 .2 3.1 .2-.3 .2-2 .2-1.5 .2 1.4 .2 3 .2-3.2 .2 2.7 .2 .4 .2 .8 .2-1.4 .2 .6 .2 2.2 .2-3.5 .2 1.1 .2 2.1 .2-4.2 .2 3.2 .2-5.7 .2 1.7 .2 .1 .2 2.4 .2 .3 .2-4 .2 7.3 .2 .5 .2-1.5 .2-2.6 .2 1.2 .2-2 .2 .2 .2-.4 .2 1.9 .2-1.4 .2 .1 .2 4 .2-3.7 .2 1.6 .2-.4 .2-1.5 .2 .1 .2 2.7 .2-2.9 .2 2.1 .2-1.9 .2 .1 .2 3.3 .2-5.7 .2 1.7 .2 .2 .2 1.8 .2-2 .2 1.4 .2 .9 .2 2.3 .2-1.8 .2-4.1 .2 5.5 .2-3.1 .2-7 .2 2.1 .2 3.1 .2 1 .2-.8 .2-2.7 .2-3.5 .2 10 .2-5.5 .2 1.3 .2-.8 .2 2.6 .2 2.5 .2 0 .2-3 .2 2.1 .2-2.1 .2-.2 .2 1.6 .2-.6 .2-.3 .2-3.4 .2 2.1 .2 1.6 .2 1.1 .2-.1 .2-2.1 .2 1.7 .2-3 .2 3 .2-5.6 .2 4.4 .2-1.4 .2 3.6 .2-2.1 .2 .3 .2-4.9 .2-1.5 .2 7.6 .2-2.5 .2-.1 .2 1.9 .2 .3 .2-.4 .2 .8 .2-1.3 .2-1 .2 1.9 .2-3.6 .2 2.8 .2 1.6 .2-.7 .2 1 .2-2.5 .2 0 .2-.4 .2 0 .2 1.2 .2 1.3 .2-1.7 .2 2.8 .2-1.9 .2-4.4 .2 4.8 .2-2 .2-2.7 .2-1.4 .2 4 .2 1.1 .2-1.8 .2-2.4 .2 2.7 .2 .7 .2-.5 .2 2.1 .2-5.5 .2-4.7 .2 3.5 .2-.8 .2-.3 .2 1.9 .2-2.8 .2-.1 .2 7.7 .2-1.1 .2 .3 .2 2.4 .2-3.7 .2 4.4 .2 .2 .2-3 .2-4.6 .2 3.3 .2 1.4 .2-.4 .2-.6 .2 3.1 .2-1.1 .2 1.1 .2-12.7 .2 2.5 .2-.6 .2-1.9 .2 12.9 .2-1.8 .2 .5 .2 2 .2-3.6 .2 3.7 .2-6 .2 2.5 .2-1 .2-.4 .2-.1 .2 6.7 .2-13.2 .2 3.1 .2-1.3 .2-.5 .2 7.3 .2-2 .2 .2 .2 .6 .2 3.1 .2-5 .2-3.7 .2 7.9 .2-.9 .2-.6 .2-1 .2-1.3 .2 1.7 .2-4.5 .2 1.1 .2 3.2 .2-1.1 .2 5.1 .2-6 .2 5 .2-2.1 .2-.3 .2-1.2 .2 .5 .2 .8 .2-2.9 .2 5.4 .2-1.5 .2-.3 .2 0 .2-6.5 .2-1.9 .2 1.3 .2-2.4 .2 4.2 .2-4.2 .2 7.8 .2 .7 .2 2.8 .2 1.1 .2-2.1 .2-5.1 .2-5.5 .2 .4 .2 8.6 .2 3.2 .2-4 .2 1.6 .2-2 .2 2.4 .2-1.8 .2 6.8 .2-4 .2-2.3 .2 2.4 .2-1.6 .2-1 .2 2 .2-3.4 .2 5.2 .2-.4 .2-4.3 .2 1.7 .2-3 .2 4.3 .2-.5 .2-.2 .2-1.3 .2 .9 .2-1.1 .2 .8 .2-.8 .2 0 .2 0 .2-3.3 .2 3.1 .2 2.9 .2-5.5 .2-3.5 .2 1.1 .2 2.1 .2 1.4 .2 3.6 .2-3.7 .2-.9 .2-1.1 .2 4.8 .2-.2 .2 3.8 .2-8 .2 2.2 .2 2.9 .2 0 .2-1.7 .2 1.9 .2-.6 .2 .2 .2 1.8 .2-3.6 .2 1.9 .2-4.2 .2-2.7 .2 3.2 .2-3.7 .2-1.5 .2 6.5 .2 2.1 .2 1.6 .2-2.5 .2 .6 .2 0 .2 1.2 .2-2.9 .2 1.5 .2-9 .2 2.5 .2 .7 .2 2 .2-3.1 .2-.6 .2 1.6 .2-2.5 .2 8.8 .2-2.2 .2-4.6 .2 10.8 .2-3.5 .2 2.3 .2 0 .2-3.2 .2 .6 .2-7.6 .2 9.3 .2-10.5 .2 10 .2-2.9 .2 2.7 .2-1.2 .2-8.1 .2 2.4 .2 1.6 .2-1 .2 5.8 .2 3.6 .2-6.3 .2 1.1 .2-.1 .2 1.5 .2-.8 .2 .4 .2-1.1 .2 .2 .2 4.8 .2 1.1 .2-6.9 .2 2.6 .2-3.1 .2 2.3 .2 2 .2-.6 .2-1.1 .2-.4 .2 2.1 .2-5.7 .2-1.5 .2 3 .2 .5 .2 1 .2 1.4 .2-.6 .2-1.2 .2 .4 .2 3.1 .2-3.1 .2 4.2 .2-2.7 .2-3.4 .2 1.9 .2 2.9 .2-.6 .2-2.6 .2-1.1 .2 7 .2-6.5 .2 4.2 .2-4.6 .2-.4 .2 1.2 .2 3.4 .2-1 .2-.9 .2 1.1 .2-2 .2 4 .2-2.6 .2-4.4 .2-3.3 .2 2.2 .2-2 .2 8.6 .2-4.2 .2 4.2 .2 .6 .2-.9 .2 1.2 .2 .5 .2-3.2 .2-.4 .2 0 .2-2.6 .2-.4 .2 3.5 .2 3.5 .2-3 .2-.9 .2 3.4 .2-4.6 .2 1.8 .2 1.1 .2 .2 .2-3.5 .2-.2 .2 .2 .2 .6 .2 3.6 .2-2.2 .2 .8 .2-2.2 .2-2.2 .2 4.8 .2-.5 .2-1.2 .2 2.2 .2-2.8 .2 .1 .2 .2 .2-.2 .2 2.5 .2-4 .2 3.4 .2-4.1 .2-3.1 .2 6.4 .2 .5 .2-3.4 .2-3.3 .2 5.6 .2 2.4 .2-3.4 .2 3.8 .2-3.4 .2 1.1 .2-1.4 .2-.4 .2-.9 .2 2.2 .2 1.6 .2-1.8 .2-2.1 .2 4.3 .2 1.1 .2-.9 .2-1.7 .2 .4 .2-.7 .2-1.2 .2-.7 .2 5.2 .2-4.6 .2 2.6 .2 1.5 .2-2.2 .2-1.4 .2 1.7 .2 2.1 .2-4.4 .2-5.1 .2 5.8 .2 2.2 .2-4.4 .2-2.4 .2 5.6 .2 1.5 .2-3.7 .2 1.8 .2 1 .2 .5 .2 0 .2-3.7 .2-3.1 .2 4.6 .2 1.5 .2 .4 .2-.9 .2 .6 .2 3.4 .2-.5 .2-1.6 .2-1.6 .2 3.4 .2-8.4 .2-2.1 .2 2.9 .2-1.3 .2-2.5 .2 6 .2 1.2 .2-.1 .2 1.5 .2 .4 .2 0 .2-5.6 .2 3.4 .2 1.5 .2-.7 .2 .1 .2 1.2 .2-5 .2-1.1 .2 .7 .2-2.4 .2-1.4 .2 2 .2 .4 .2 .6 .2-.8 .2-.7 .2 2 .2 5.7 .2-1.3 .2-.2 .2 .8 .2-1.1 .2 1.9 .2-1.8 .2-2.5 .2 6.6 .2-2.5 .2 .9 .2-2 .2 .1 .2 .4 .2 .1 .2-.5 .2-1.2 .2 2.5 .2-.9 .2 0 .2-4.8 .2 4.1 .2 .5 .2-3.2 .2 1.8 .2-4 .2 4.4 .2 1.3 .2 0 .2 1.7 .2-1.5 .2 1.4 .2-.8 .2-4.8 .2 4.1 .2-2.9 .2 3.8 .2 1.1 .2 .1 .2-1.7 .2-.6 .2-2.5 .2 3.7 .2-.8 .2-.9 .2-1.8 .2-.1 .2 1.6 .2 2.3 .2-1.5 .2-1.5 .2 3 .2 .5 .2-1.4 .2-.9 .2 .9 .2-.7 .2 1.2 .2-2.9 .2 4.1 .2-2.1 .2 4 .2-7.8 .2 2.2 .2-1.2 .2 2.7 .2 .6 .2-4.7 .2 1.3 .2 3 .2-1.7 .2 1.3 .2-2 .2 1.3 .2-.3 .2-.2 .2-6.1 .2 8 .2-.7 .2 3.2 .2-6.9 .2 3.5 .2-2.4 .2 .7 .2-.5 .2 3.6 .2-2.6 .2-1.6 .2 3.9 .2-2.5 .2 1.8 .2-.8 .2 4.2 .2-5.3 .2 4.5 .2-2 .2-4.5 .2 3.9 .2-2 .2 1.9 .2 .2 .2-.9 .2-1.5 .2 1.2 .2 .5 .2 .1 .2-2.1 .2 2.8 .2 1.7 .2-2.2 .2 2.8 .2-2.1 .2-1.2 .2-5.9 .2-.3 .2 .9 .2 .9 .2-1.5 .2 1.4 .2 8.3 .2-6.4 .2 3.9 .2-.2 .2 .4 .2-.1 .2-.6 .2-.6 .2 .3 .2-1.2 .2 .3 .2 1.5 .2 0 .2 .1 .2-1.6 .2-.8 .2 5.8 .2-2.8 .2 .7 .2-1.2 .2 .9 .2 .5 .2 .7 .2-2.6 .2 1.1 .2 .5 .2-4.1 .2 2.7 .2 .6 .2-2.2 .2 .5 .2 3 .2-1.2 .2-3.5 .2 1.8 .2 1.2 .2 5.6 .2-5.7 .2-1.9 .2-1.2 .2 4.8 .2-1 .2-2.5 .2 4 .2-.1 .2-3.6 .2 0 .2 2 .2-.7 .2 .9 .2 1 .2-3 .2 1.6 .2-2.9 .2 3.5 .2 .7 .2-6.7 .2 2.8 .2 2.7 .2-3.4 .2-2.3 .2 .9 .2 4.4 .2 1 .2-1.4 .2 2.1 .2-2.5 .2-.3 .2-.8 .2-1.5 .2-.8 .2 4 .2-.4 .2-1.4 .2 1 .2 2.4 .2-1.3 .2 1.7 .2-1.3 .2-1.5 .2 4.6 .2-5.5 .2-1.3 .2 1.8 .2 1.5 .2 1 .2-1 .2-3.8 .2 5.8 .2-1.9 .2-.3 .2-1.1 .2 3.8 .2-.7 .2-3.7 .2 3.6 .2-1.7 .2-5.7 .2 7.2 .2-3.2 .2 1.4 .2 2 .2-1.8 .2-2.8 .2 1.3 .2 1.5 .2-1.7 .2 1.3 .2 1.2 .2-2.3 .2-1.2 .2 2.8 .2 2.3 .2-3.1 .2 1 .2 .2 .2-.4 .2-2.8 .2 3 .2 .1 .2-2.3 .2 2.1 .2-2.2 .2-.5 .2 .4 .2 3.4 .2-.3 .2-4.9 .2 2.6 .2-.7 .2 2.9 .2-6.4 .2 1.2 .2 5.1 .2-1 .2-3 .2 1.9 .2 1.5 .2-1.5 .2 2 .2-4.1 .2 6.5 .2-4 .2-1.1 .2 .4 .2-.3 .2-1.6 .2 .9 .2-.7 .2 4.1 .2-3.6 .2 2.8 .2-1.3 .2 4.7 .2-2.8 .2-3 .2 2.5 .2 .3 .2-1.3 .2-.9 .2 4.2 .2-.4 .2-.6 .2-3.7 .2-3.7 .2 6.8 .2-1 .2-3.3 .2 3 .2-2.2 .2 .4 .2 2.9 .2-6.6 .2 7.5 .2-3.8 .2 1 .2 .5 .2-.4 .2 .2 .2-.9 .2 1.6 .2-2.1 .2-.4 .2 .2 .2-.4 .2 2.5 .2-.3 .2-.7 .2 4.8 .2-1.2 .2-1.6 .2-1.5 .2 3.2 .2-2 .2-.9 .2 0 .2 1.9 .2-1.1 .2-1.5 .2-2.7 .2 5.1 .2-1.2 .2 1.3 .2-1 .2 1.3 .2-.8 .2-1 .2-.2 .2-3 .2 .6 .2 6.3 .2-5.2 .2 .3 .2 4.8 .2-3.1 .2-4 .2-.9 .2 1.4 .2 2.3 .2 2.2 .2-.7 .2-1.7 .2 2.5 .2-4 .2-1.6 .2 6.1 .2 2.9 .2-6 .2-.7 .2 2.2 .2 .2 .2 .9 .2-.4 .2-1.8 .2 .5 .2 1.6 .2-3 .2-3.1 .2 5.2 .2-.7 .2 2.5 .2-.9 .2-.6 .2-.5 .2 1.7 .2-3.1 .2-.8 .2 1.4 .2-1.1 .2 .9 .2-7.7 .2 4.2 .2-1.2 .2 2.5 .2 .3 .2-.7 .2 .5 .2 3.1 .2 .2 .2-2.5 .2-2 .2 2.5 .2-1.2 .2 3.4 .2-1.7 .2 4.6 .2-3.3 .2-1.4 .2 1.2 .2-.2 .2-.3 .2-1.3 .2 .2 .2 4.1 .2-4.1 .2 4.3 .2-8 .2 2.8 .2-1.4 .2 2.4 .2-2.1 .2 3.5 .2-1 .2 1.3 .2 .7 .2 .5 .2-1.9 .2-2.9 .2-.2 .2-3.4 .2 7.1 .2-2.5 .2 2.2 .2-1 .2 0 .2 .8 .2-2.2 .2 2.2 .2 2.8 .2 0 .2 .4 .2-5.5 .2 3.1 .2 2.6 .2-3.5 .2 1.7 .2-.7 .2-.7 .2-1.8 .2 2.1 .2-1 .2 1.1 .2-1.2 .2 1 .2-1 .2 .5 .2-1.3 .2 2.8 .2-1.9 .2-2.7 .2 3.3 .2-2.7 .2 5.3 .2 .5 .2-4.2 .2 5.7 .2-4.3 .2-.9 .2 1.3 .2 .2 .2-1.7 .2 1.7 .2-3.1 .2 3.6 .2-2.5 .2-1.5 .2 2.6 .2-2.2 .2 3.9 .2 1 .2-4.7 .2 1.1 .2-1.2 .2-.1 .2 .5 .2 1.4 .2-2.3 .2 3.9 .2 2.5 .2-5.6 .2 1.7 .2-1 .2-3.5 .2 1.1 .2 6.6 .2-3.2 .2 2.9 .2-2.7 .2 1.4 .2 .5 .2-2.8 .2 3.3 .2-.1 .2-2.8 .2 .6 .2-2.2 .2 4.9 .2-4.5 .2 1.8 .2-5.1 .2 .2 .2 2.4 .2-1.4 .2 1.7 .2 2 .2 2 .2-3.8 .2 .6 .2-4.7 .2 8.1 .2-.3 .2-4.2 .2 .7 .2 1.5 .2-1.7 .2 4.2 .2 .7 .2-2.6 .2-2.2 .2-.9 .2 .3 .2-.4 .2 1.4 .2 1.1 .2 2.3 .2-3.3 .2 1.9 .2 2.8 .2-.1 .2-1.5 .2-.2 .2-5.8 .2 3.4 .2 1.3 .2-.4 .2 1.3 .2 .4 .2-.8 .2-2.7 .2 .9 .2-.8 .2 3.6 .2-1.2 .2 1.5 .2-1.9 .2-2.2 .2 1.7 .2-1.6 .2-.8 .2-.4 .2 2.2 .2 .1 .2-1.4 .2 .9 .2 1 .2-.3 .2-.3 .2-.5 .2 2.4 .2-2 .2 3.9 .2-4.7 .2-3.4 .2 3.4 .2 2.5 .2-.4 .2 .6 .2 .2 .2 1.7 .2-4 .2 3 .2-1.6 .2-3.8 .2 3.1 .2-.1 .2-2.3 .2 4.3 .2-.1 .2-3.7 .2 .9 .2 .8 .2 .1 .2 2.1 .2 .3 .2-4.4 .2-2.4 .2 3.3 .2-2.8 .2-.1 .2 6.8 .2-.2 .2-.2 .2-4 .2 4.4 .2-8.8 .2 4.6 .2-1.1 .2 4 .2 .3 .2-.3 .2-1.3 .2-2.2 .2 4 .2-.5 .2 0 .2-1.5 .2 2.2 .2-2.8 .2-5.7 .2 4.2 .2-2.4 .2 3.8 .2 .3 .2 3.6 .2-2.2 .2-1.4 .2-1 .2 .3 .2 1.3 .2-2.4 .2-2.4 .2 0 .2 2.9 .2 1.4 .2-.8 .2 1.7 .2 2.6 .2 .5 .2-5 .2 1.6 .2 1.2 .2-1.7 .2-2 .2 1.4 .2-.4 .2-.4 .2-2.5 .2 4.4 .2-1.5 .2 4.3 .2-3.2 .2 3.4 .2-3.6 .2 1 .2-1.1 .2 .2 .2-1.3 .2-.5 .2 .6 .2 2.9 .2 .1 .2 .1 .2-3.8 .2 4.8 .2-1.9 .2-2.4 .2 1.3 .2 .2 .2 .6 .2-3.9 .2 .9 .2 3.7 .2-.2 .2-2.6 .2 1.5 .2 1.8 .2-1.5 .2-.6 .2-2.5 .2 1.1 .2 2.7 .2-.7 .2 .6 .2-8.1 .2-2.3 .2 8.6 .2 .4 .2 .3 .2 3 .2-.1 .2-1.8 .2-.4 .2 .4 .2-.9 .2 2.3 .2-4.8 .2 4.3 .2-.8 .2-1.1 .2-2.2 .2 3.2 .2-2.5 .2-.1 .2-.4 .2 2.1 .2 .3 .2-1.3 .2 1.1 .2-1.6 .2 1.8 .2-1.6 .2-1.9 .2 .4 .2 5.7 .2-1.7 .2 1.7 .2-6.7 .2 7 .2-6 .2 .3 .2 3.2 .2 .5 .2-3 .2 1.4 .2-.1 .2 2 .2-2.6 .2-.5 .2 .9 .2-.5 .2 1.7 .2-3.2 .2 1.5 .2 .4 .2 .4 .2-.9 .2 5.2 .2-5.1 .2 2.5 .2-.2 .2-4.7 .2 3.1 .2-.6 .2 0 .2-1.4 .2 2 .2-.2 .2-.9 .2 .3 .2 2.3 .2-2.2 .2-.5 .2 2.1 .2 2.1 .2-8.5 .2-.2 .2 4.4 .2-6 .2 3.2 .2 2.8 .2 1.9 .2-.8 .2 1.2 .2 1.1 .2-2.4 .2 1.3 .2-.8 .2 1.6 .2-.3 .2-1.7 .2 1 .2 .5 .2 1.8 .2-2.2 .2-1.3 .2 1.6 .2 3.4 .2-1.3 .2 .1 .2-4.8 .2 5.8 .2-2.5 .2-.3 .2-.4 .2 .8 .2-4.5 .2 5.2 .2-4.2 .2 5.4 .2-2.5 .2-1.7 .2-.6 .2 1.3 .2 3.2 .2-2.7 .2 .1 .2-1.6 .2 4.2 .2-3.3 .2-.7 .2 1.8 .2-1.6 .2 .6 .2-2.5 .2 .1 .2 3.8 .2-2.4 .2 2.3 .2-.1 .2 .4 .2 0 .2 .8 .2-2.2 .2-.4 .2 2.5 .2-3.8 .2 .3 .2-.6 .2 .9 .2 3.5 .2 .2 .2-3.1 .2-1.8 .2 1.3 .2 1.6 .2 2.5 .2-3.2 .2 2.1 .2-.3 .2-3.9 .2 4.6 .2 .3 .2-1.3 .2-1.1 .2 2.4 .2-1.2 .2-.6 .2 .5 .2 1.7 .2-4.2 .2 1.3 .2-.4 .2 1.3 .2-.2 .2-.9 .2 1.1 .2-.7 .2 2.5 .2-.3 .2-2 .2 .2 .2-.6 .2-.9 .2 2.2 .2 1 .2-5.1 .2 1.5 .2 3.6 .2 .6 .2-4.2 .2-.3 .2-.6 .2 4.3 .2-1.5 .2-.5 .2-1.3 .2 2.7 .2-2.1 .2 3.2 .2-2.8 .2 1.8 .2-.5 .2-.7 .2-.8 .2 3.6 .2-.8 .2-4 .2 4.7 .2-5.2 .2 3.3 .2 .3 .2-1.3 .2-1.8 .2 .2 .2 3.2 .2-2.9 .2 1.4 .2 .4 .2-1.5 .2-.8 .2-.3 .2 1.5 .2 2.5 .2-1.9 .2-.3 .2 3.5 .2-.6 .2-.9 .2-.8 .2 .3 .2 .7 .2-1.2 .2 1.1 .2-1.2 .2 1.3 .2-4.2 .2 .5 .2 4.4 .2-.2 .2-3.8 .2-.4 .2 3.7 .2-2.3 .2 .6 .2 2.2 .2-1.4 .2-.9 .2 2.2 .2-5.2 .2 1.8 .2 6.4 .2-4 .2 1.5 .2-4.3 .2 5 .2-5.7 .2 3.2 .2-.4 .2-2.2 .2 2.6 .2-6.4 .2 6.7 .2-1.4 .2-1.2 .2-1.4 .2 .2 .2 .3 .2 .1 .2 1.9 .2-2.7 .2 1.4 .2-2 .2 6.7 .2-2.7 .2-5.4 .2 5.7 .2 3.6 .2-4.2 .2 .3 .2 .1 .2 2.5 .2 .5 .2-3.4 .2-3.9 .2 3.3 .2-2.8 .2 .5 .2 4.4 .2-2.2 .2-.3 .2 1.6 .2 .5 .2-2.9 .2 4.2 .2-4.3 .2 2.8 .2-1.7 .2 .2 .2-.3 .2 2.4 .2-.3 .2-1.5 .2 2.1 .2-4.5 .2 3.2 .2-3.2 .2-2.5 .2 2 .2 4.4 .2-1.7 .2 .4 .2-1.8 .2 .2 .2-.8 .2 1.9 .2 .5 .2-.3 .2-.1 .2-.3 .2 .5 .2 1.1 .2-2.7 .2 2.4 .2 1 .2-4.3 .2 1 .2 .8 .2-1.3 .2 1 .2-.1 .2 3.9 .2-2.3 .2 2.2 .2-3 .2 .2 .2-.2 .2-.2 .2 5.2 .2-2.5 .2-1.9 .2-3.9 .2 2.8 .2 2.5 .2-1.1 .2-1.1 .2 2 .2-.9 .2-1.8 .2 1.6 .2 1 .2-.1 .2-1.6 .2-.7 .2 .9 .2 1.2 .2-.6 .2 1.5 .2-2.6 .2 .5 .2-.2 .2 1 .2-2.6 .2 4.2 .2-2.7 .2 2.9 .2 .1 .2-4.9 .2 2.8 .2 .5 .2-1 .2 1 .2-2.5 .2 3.2 .2-1.2 .2-.9 .2-4.1 .2 5.9 .2-4 .2 5.1 .2-.7 .2-4.2 .2-.3 .2 3.4 .2 1.5 .2-1.9 .2 .1 .2-.2 .2 2.6 .2-2 .2-3.1 .2 4.6 .2-.7 .2-1.7 .2-.3 .2 2.8 .2-1.5 .2-1.5 .2 2.7 .2-2.8 .2 .3 .2-2.7 .2 2.4 .2 5.3 .2-7.5 .2 .5 .2 4.1 .2-3.1 .2 3 .2 1.3 .2-3.5 .2-.4 .2 2.9 .2-.8 .2 1.6 .2-3 .2 1.2 .2-1.9 .2-.9 .2 .1 .2 .2 .2 4.6 .2-1.3 .2-1.4 .2-.5 .2 0 .2 2.5 .2-2.3 .2-3 .2 2.8 .2-3 .2 2.3 .2-.6 .2-1.7 .2 .1 .2 3 .2 1 .2 0 .2-2.4 .2-.1 .2 1.8 .2 1.4 .2 0 .2-1.6 .2-1.8 .2 2.9 .2-.7 .2-1.5 .2-.9 .2 1 .2 2.9 .2 .3 .2-2.9 .2 1 .2 2.5 .2-5.2 .2 1.5 .2 .6 .2 .9 .2-3.6 .2 3.7 .2-3.4 .2 4.2 .2-1.8 .2-.7 .2 2.4 .2-1.5 .2-1.7 .2 3.3 .2-2.1 .2 1.1 .2 1.7 .2-4.7 .2 3.8 .2 .3 .2 2.3 .2-7.2 .2 4.7 .2 2.5 .2-3.3 .2-.6 .2-.6 .2-2.4 .2 5.4 .2-4.6 .2-1.1 .2 4.7 .2 .5 .2-.3 .2-.1 .2-3.1 .2 1.6 .2-.5 .2-.9 .2 2.1 .2-2.5 .2 1.6 .2 2.9 .2-2.8 .2-.1 .2 1.7 .2-3.6 .2 2.8 .2 1.4 .2-1 .2-2.4 .2 2.8 .2-2.2 .2 2.1 .2-3.2 .2-.2 .2 4.7 .2-3.1 .2 .1 .2-2 .2 1.4 .2 3.5 .2-1.6 .2-1 .2-3.3 .2 4.7 .2-.6 .2 1.2 .2-2.8 .2 1.7 .2-2 .2-1.5 .2-.8 .2 4.7 .2-1.9 .2 .4 .2-2.6 .2 5.8 .2-4 .2-2.1 .2 .8 .2 1.3 .2 2.8 .2-1 .2 .2 .2-2.1 .2 2.8 .2-1.5 .2 1.9 .2-3.2 .2 .3 .2-.4 .2 .4 .2-.4 .2 2.4 .2-1.7 .2-2 .2 1.9 .2-.4 .2-1.8 .2 3.3 .2 0 .2-.4 .2 2.6 .2-5.2 .2 3.8 .2-.6 .2-2.2 .2 4 .2-4.3 .2 2.4 .2 .7 .2-1.7 .2-.6 .2 2.9 .2 .4 .2-3 .2 3.3 .2-1.8 .2-2.7 .2 3.5" fill="none" stroke="#ff0000" stroke-width="1.1" stroke-linejoin="bevel"/>
<path d="M14.4 616.9l.2-6.2 .2 4.8 .2-1.4 .2 .6 .2-1.8 .2 .2 .2-2.4 .2 2.4 .2 .3 .2-.9 .2 4.1 .2-2.5 .2 1.9 .2-1.4 .2-2.5 .2 1.5 .2 0 .2-.5 .2 2.4 .2-.5 .2-1.7 .2 1.4 .2-2.4 .2 .7 .2 3.2 .2-.4 .2-.3 .2 1.2 .2-2.7 .2-.5 .2 .9 .2 1.3 .2 .7 .2-2.4 .2-.1 .2 2.1 .2-1.1 .2-.5 .2-1.7 .2 1 .2 .5 .2 .1 .2-.3 .2 1.8 .2-1.6 .2-.6 .2-.2 .2 1.2 .2 .3 .2 .1 .2-.1 .2-1.9 .2 3.1 .2-4.1 .2-1.8 .2 4.9 .2 .1 .2-2.6 .2 .5 .2 2.5 .2 .1 .2-2.7 .2-.1 .2 2.1 .2 1.4 .2 1.5 .2-3.6 .2 .5 .2-2.3 .2 1.1 .2-3.9 .2 1 .2 5.5 .2-1.6 .2-1.8 .2 3.1 .2-2.2 .2-.6 .2-.5 .2 1 .2 3.1 .2-3.5 .2 4.3 .2-2.3 .2 .9 .2-2 .2-2.3 .2 4 .2-3.6 .2 3.8 .2-.4 .2-1.7 .2-1.3 .2 .2 .2 2.3 .2-2.6 .2-3.6 .2 2.7 .2 4.2 .2-1 .2-2.4 .2 .9 .2 .1 .2 4.8 .2-6.2 .2 .4 .2 1.7 .2 .7 .2-1.6 .2 2.4 .2-1.4 .2-1.2 .2 0 .2 .7 .2 .2 .2 .9 .2 1.5 .2-2.6 .2 1.8 .2 0 .2-2.3 .2-2.8 .2 3.9 .2 .4 .2 1.7 .2-5.9 .2 4.8 .2-1.5 .2 1.1 .2 1.4 .2-1.4 .2 .5 .2-.5 .2-2.6 .2 2.5 .2-1.2 .2 1.3 .2-3.8 .2 4.4 .2-.8 .2-.7 .2-.4 .2 2.4 .2-1.2 .2 .7 .2-.5 .2-1.7 .2 1.4 .2 .9 .2-2.2 .2 1.7 .2-.6 .2 2 .2-2.2 .2-.2 .2-1.1 .2 .3 .2 1.7 .2 1.3 .2-5 .2 2 .2 1.4 .2 .4 .2-2.2 .2-.3 .2 1.3 .2 1.3 .2-.1 .2-1.7 .2 1.6 .2-1.2 .2 0 .2 2 .2-1.5 .2 1.2 .2-.2 .2-1.6 .2-.3 .2 1.4 .2-.5 .2 2.7 .2-1.9 .2-.5 .2-2 .2 1.2 .2 1.7 .2-3.5 .2 .2 .2 3.3 .2-.2 .2-1.7 .2 .8 .2-.7 .2 .6 .2 1.8 .2-.2 .2 2.5 .2-1.3 .2-1.9 .2-1 .2 2.1 .2-1.2 .2 0 .2 .8 .2-1.3 .2-1.1 .2 2 .2-1.5 .2-.6 .2 2.2 .2-2.7 .2-.6 .2 5.6 .2-2 .2-1.8 .2 1 .2-.5 .2-1.2 .2 0 .2-.9 .2 2.8 .2 1.5 .2 .2 .2-2.1 .2 2.3 .2-2.2 .2 1.5 .2 .7 .2-3.3 .2 1.1 .2-.7 .2-.7 .2 1.3 .2 1.8 .2 .4 .2-3.3 .2 .9 .2 3.3 .2-4.2 .2 .7 .2 3.6 .2-3.8 .2 1.7 .2-1.5 .2-2.5 .2 3.6 .2-4 .2 .5 .2 4.8 .2-1 .2-1.4 .2 1.8 .2 .5 .2-1.5 .2-2.8 .2 .3 .2 3.7 .2-2 .2 2.2 .2-3.7 .2 2.7 .2-4.2 .2 4.3 .2-.5 .2 1.3 .2-5.3 .2 1.1 .2 1 .2 2 .2 2 .2-.9 .2-4.3 .2 1.5 .2 3.3 .2-1.3 .2-3.5 .2 3.4 .2 0 .2 .4 .2-1.4 .2 .7 .2 1 .2-1.1 .2 1.2 .2-.3 .2-.3 .2-1.8 .2 1.8 .2 .4 .2-2.7 .2-.6 .2 2.4 .2 .3 .2-2.5 .2 2.1 .2 2.9 .2-7 .2 4.2 .2-.3 .2-.3 .2-.2 .2 .8 .2-.9 .2-.6 .2 2.1 .2 2.1 .2-3.7 .2 1.5 .2 .8 .2-4 .2 1.2 .2-.6 .2 .9 .2 2.2 .2-3 .2 3.5 .2 1.3 .2-4.9 .2 1.7 .2 1 .2-3.3 .2-1.5 .2 3.4 .2-1.6 .2 1.6 .2-1.5 .2 .5 .2-.2 .2 1.3 .2 1.4 .2-1.3 .2 .5 .2-2.9 .2 4.8 .2-.8 .2 .9 .2-2.9 .2-1.3 .2 2.2 .2-2.8 .2 1.9 .2-.3 .2 .1 .2-2.4 .2 4.1 .2-3.8 .2 2.6 .2-.5 .2-3.1 .2 4.6 .2-1.3 .2 3.1 .2 0 .2-4.5 .2-2.2 .2 3.6 .2 1.6 .2-1.9 .2 3.4 .2-2.9 .2-1.5 .2 .9 .2 .8 .2 1.6 .2-2.9 .2 1 .2 1.1 .2-1.7 .2 .8 .2 1.3 .2-.7 .2 .5 .2-2.3 .2-1.5 .2 .9 .2 .8 .2 1.6 .2-1.7 .2-.6 .2 .5 .2 1.3 .2-1.3 .2 2.6 .2-.9 .2-.5 .2-1.6 .2 4 .2-2.3 .2 1 .2-.7 .2-1.6 .2 0 .2 .1 .2 2 .2-.6 .2-3.7 .2 3.9 .2-3.8 .2 1.7 .2 3.2 .2-2.2 .2-.5 .2-4.2 .2 5.8 .2-1.6 .2 .4 .2-2.1 .2 .5 .2 1.6 .2-3.3 .2 4.7 .2-.1 .2-3 .2 .2 .2 1.8 .2-.2 .2-1.5 .2 1.3 .2-1.7 .2-.9 .2 4.1 .2-.6 .2-3 .2 2.4 .2 .2 .2 2.4 .2-.4 .2 .3 .2-3.1 .2 2.5 .2-3.2 .2-.5 .2 5.6 .2-5.4 .2 3.9 .2-3.2 .2-.3 .2 4.5 .2-6.8 .2 3.5 .2 .8 .2-2.2 .2-.5 .2 .1 .2 5.5 .2-7.1 .2 1.3 .2 1.3 .2-1.8 .2 3.8 .2-3 .2 .8 .2 .7 .2-1.3 .2 2.1 .2-3.2 .2 2.3 .2 1.7 .2 .3 .2-4.1 .2-.4 .2 6.3 .2-2 .2-5.1 .2 5.1 .2-1.1 .2 .4 .2 1.9 .2-3 .2 1.4 .2-1.9 .2 3.5 .2-1.6 .2 1.1 .2-1.4 .2-3.2 .2 2.3 .2-.1 .2 .7 .2-2 .2 .5 .2 0 .2-1 .2 2.6 .2-1.8 .2 3.7 .2-3.4 .2-2.2 .2 3.4 .2 1.9 .2 0 .2-3.5 .2 .7 .2 .1 .2 1.4 .2-1.7 .2-3.9 .2 6.6 .2-.8 .2-3 .2 1.7 .2-.5 .2-.9 .2 2.1 .2-2.4 .2 1.7 .2 1.4 .2 .4 .2 1.8 .2-3 .2 .7 .2 .1 .2-2.1 .2-2.4 .2 1.7 .2-1.5 .2 3.4 .2 2.6 .2-1.5 .2 2.8 .2-3.4 .2 3.9 .2-1.2 .2-2 .2 1.9 .2-4 .2-1.3 .2 3 .2 1.8 .2-1.5 .2 .1 .2-1.2 .2-1.2 .2 2.2 .2 .2 .2-2.1 .2 3.2 .2 .8 .2-6.7 .2 4.3 .2-3.1 .2 1.6 .2 .9 .2 1.1 .2-.3 .2 .3 .2-.8 .2-1.7 .2 1.9 .2-1.3 .2 1.7 .2-1.2 .2 .3 .2-3.1 .2 3.5 .2-1.4 .2 1.3 .2-1.1 .2 3.9 .2-.9 .2 1.4 .2-4.7 .2 1.8 .2-1.2 .2-.9 .2 2.2 .2-2.2 .2 5.3 .2-4.3 .2 1.4 .2-2 .2 .5 .2-.5 .2 3.2 .2-.5 .2-1.1 .2-1.8 .2 1.2 .2 .9 .2-2.6 .2 2.3 .2-3.9 .2 2 .2 .2 .2 .4 .2 3.6 .2-5.6 .2 2.9 .2-1.2 .2-1 .2 .7 .2-1.4 .2 3.1 .2 .1 .2-2.8 .2 2.5 .2-.5 .2-4.8 .2 4.4 .2-1 .2-.6 .2-.5 .2-1.8 .2-2.4 .2-2.2 .2 5.1 .2 1.4 .2 3.1 .2-2.1 .2 .9 .2-1.5 .2 .3 .2 1 .2-.8 .2-7.9 .2-3.1 .2 .7 .2-1.1 .2 5.2 .2-.1 .2-2.6 .2 .7 .2-1.4 .2 .3 .2 3.9 .2 6.6 .2-.6 .2-.6 .2-8.5 .2 10.2 .2-2 .2 .6 .2 1.6 .2-1 .2-1.1 .2 1.3 .2-.3 .2-.5 .2-.5 .2 1.6 .2-1.5 .2-1.2 .2 .6 .2 1.2 .2-1.1 .2-.9 .2 3.9 .2-4.3 .2 1.2 .2 3.2 .2-3 .2 .4 .2-7.7 .2 2.6 .2-3.3 .2 4.6 .2-2.3 .2 1.9 .2 4.1 .2-1.4 .2 1.1 .2 3.7 .2-2 .2-6.8 .2 8.6 .2-5.1 .2 2.3 .2 2.2 .2-3.2 .2 2.3 .2-1.4 .2 3.1 .2-1.3 .2-.7 .2-9.9 .2-.6 .2-1.3 .2 .7 .2 7.1 .2 3.2 .2 .9 .2 3 .2-2.9 .2 2.1 .2-4.6 .2 .7 .2 1.8 .2-1.9 .2 2.7 .2-5 .2 3.2 .2-.5 .2 .4 .2-12.3 .2 15.5 .2-2.8 .2 2.7 .2-4.3 .2 4.9 .2-4.1 .2 .6 .2 1.3 .2 .9 .2 .6 .2-2.3 .2-6.8 .2 9.3 .2-3.1 .2-10.6 .2-.2 .2 1.6 .2-3.2 .2 3.4 .2-.5 .2 3.5 .2-1.1 .2 7.2 .2-3.8 .2 2.1 .2 1.2 .2 1.9 .2-4.1 .2 2.4 .2-2 .2 5.1 .2-3.2 .2-5.4 .2 6.3 .2-1.5 .2-10 .2 1 .2-1.2 .2 10.4 .2 3.9 .2-2.7 .2-1.2 .2-7.3 .2-1.9 .2 12.7 .2-3.4 .2 .8 .2 1 .2 .4 .2-1.9 .2 4.2 .2-5.5 .2-4.7 .2-1.4 .2 7.7 .2 .2 .2-1.2 .2-5.1 .2 3.3 .2 5.2 .2-1.5 .2 .3 .2 .4 .2 2.1 .2-4.7 .2 .7 .2 1.9 .2-9.5 .2 .9 .2-2.6 .2 8.9 .2 2.4 .2-17.4 .2 6.4 .2-5 .2 8.5 .2-2 .2 11 .2 .1 .2-4.4 .2 1.6 .2-1.7 .2 2.6 .2-1.4 .2-7.7 .2-1.7 .2 10.2 .2-1.8 .2 .5 .2-9.7 .2 10.2 .2 1.2 .2 1.1 .2-3.4 .2 2.9 .2-2.8 .2 4 .2-2.5 .2-1.5 .2 1.3 .2 1.6 .2-8 .2 .7 .2-1 .2 10.6 .2-2.1 .2-1.3 .2 .1 .2 3.3 .2-3.5 .2-.3 .2-2 .2 3.4 .2-2.9 .2 .7 .2 4.3 .2-16.2 .2 3.2 .2-2.6 .2 8.9 .2 1.4 .2-7.6 .2 8.5 .2-13.6 .2-.2 .2 .4 .2 2.3 .2-.5 .2 10.5 .2-5.7 .2-.8 .2 2.7 .2-4.6 .2 3.6 .2 .2 .2-1.9 .2-.2 .2 1.3 .2-3.2 .2 8.6 .2-12.1 .2 3.2 .2-2.6 .2 1.2 .2-3 .2 2.6 .2 13.7 .2-1.1 .2 1.6 .2-7.2 .2 .1 .2 7.9 .2-2.3 .2-3.1 .2-7.8 .2-.7 .2-.1 .2 11.9 .2 .6 .2-.4 .2-.6 .2 .5 .2-.5 .2-9.5 .2 9.2 .2-15.6 .2 15.9 .2-8.5 .2 7.9 .2-.1 .2 3.2 .2-7.9 .2-2.9 .2 6.5 .2 3.9 .2-5.3 .2 5.4 .2-13.6 .2-3.1 .2 .6 .2 11.7 .2 2.1 .2-2.2 .2-.5 .2 2.7 .2-1.4 .2-11.9 .2-.3 .2-.8 .2 1.7 .2-2 .2 15.2 .2-1.9 .2-10.2 .2-2.9 .2 2 .2 .3 .2-1.7 .2 11.4 .2 3.4 .2-12 .2 11.6 .2-3.3 .2-6.6 .2 .5 .2-.8 .2 1.4 .2 .6 .2-.7 .2 .1 .2 10.6 .2-1.1 .2-14.1 .2-1.6 .2-1.1 .2 .9 .2 16.2 .2-1.4 .2 1 .2-3.6 .2-.9 .2 3.5 .2-4.6 .2 3.8 .2-2.2 .2 3 .2 .5 .2-3 .2 4.2 .2-1.4 .2-.9 .2-1.4 .2-11.9 .2 1 .2 2.2 .2-1.8 .2-2.8 .2 0 .2 3.5 .2 11.1 .2 2 .2-.6 .2 .7 .2 .5 .2-.5 .2-13.2 .2-4 .2 4.7 .2 .3 .2-.6 .2-3 .2 2.9 .2 1.1 .2-1.1 .2-1.4 .2 9.2 .2-5.3 .2 12 .2-15.3 .2 1.6 .2-2.1 .2-1.6 .2 4.3 .2-1.4 .2 1.3 .2-2 .2-2.2 .2 4.6 .2-3.1 .2 13.5 .2 0 .2 1 .2-.7 .2 1.6 .2-8.9 .2 2 .2 7.2 .2-3.2 .2-1.5 .2 1.7 .2 2.5 .2-7.7 .2 1.3 .2-1.8 .2-3.3 .2 7.6 .2-.9 .2-.9 .2 2.9 .2-5.2 .2 6.8 .2-.2 .2 .2 .2-1.4 .2 3.4 .2-7.6 .2-.2 .2-4.9 .2 11.8 .2 .2 .2-2.1 .2-2.8 .2 4.5 .2-2.5 .2-9.5 .2-.2 .2 .2 .2 8.4 .2 2.4 .2 1.6 .2-2.4 .2-1.9 .2 1.4 .2 .2 .2-.1 .2 1.1 .2-.8 .2 .1 .2-9.3 .2-2.2 .2 12.2 .2 1 .2-12 .2 10.5 .2 4.6 .2-4.2 .2 3.1 .2-5.1 .2-.1 .2-1.1 .2 .8 .2 .1 .2 1.5 .2-9.9 .2 9.5 .2-3.9 .2-1.3 .2-.3 .2 4.4 .2 1 .2 3 .2-6.5 .2 5.4 .2 .1 .2-10 .2 1.7 .2 1.5 .2-3.7 .2 9.7 .2-1.3 .2 .4 .2 .4 .2 0 .2-1 .2 .2 .2 3 .2 .6 .2-2 .2 .9 .2-11.5 .2-.2 .2 10.6 .2 1.5 .2-1.6 .2-2.7 .2 3.9 .2 2.1 .2-3.1 .2-3.6 .2 3.3 .2 3.1 .2-3.9 .2 1.1 .2-1.2 .2-8 .2-4.6 .2 11.7 .2 .7 .2 1.5 .2-.7 .2-9.7 .2 .9 .2 6.5 .2-5 .2 .6 .2 1.5 .2 2.4 .2 2 .2-.3 .2-8.9 .2 5.8 .2 5.2 .2 .5 .2-12.3 .2 .6 .2 13.1 .2-3 .2-.9 .2-.3 .2 4.1 .2-3.1 .2-1.2 .2 2 .2-2.6 .2 .2 .2-1.4 .2 6.1 .2-2.7 .2 1.9 .2-.5 .2-3.7 .2-.5 .2 4.9 .2-3.2 .2 1.6 .2-2.6 .2 3.3 .2-2.8 .2-.3 .2 3.7 .2-.6 .2-1.5 .2 2.1 .2-15.7 .2 4.1 .2 12.3 .2-1.4 .2-1.7 .2-1 .2 1.8 .2-2.2 .2 2.2 .2-.8 .2-4.3 .2 .7 .2-2.1 .2 1.7 .2 4.7 .2-3 .2 5.4 .2-3 .2-10.6 .2 2 .2-.3 .2-4.9 .2 17.5 .2-.4 .2-3.8 .2 1.9 .2 0 .2-2.7 .2-7.8 .2 10 .2 2.2 .2-6.6 .2 3.3 .2-1.3 .2 4.2 .2-4.1 .2-6.5 .2 6.6 .2-4.1 .2 .2 .2 .2 .2-1.3 .2 .5 .2-1.3 .2 .2 .2 .1 .2 5.2 .2 5.5 .2-15.3 .2 0 .2 11.1 .2 .2 .2-7 .2 .3 .2-4 .2 .7 .2 3.5 .2-5.3 .2 12.5 .2 1.1 .2-2.4 .2-6.2 .2-4.2 .2 12.7 .2 1.5 .2-4.7 .2 2.9 .2 1.9 .2-3.6 .2 .8 .2-.2 .2-2.3 .2 2.4 .2-3.1 .2-3.3 .2 8.7 .2-18 .2 5 .2 6.5 .2 2.1 .2 2.6 .2-9.5 .2 8.2 .2 3.4 .2-2.8 .2-.3 .2-11 .2 .5 .2 .9 .2 1 .2 3.3 .2 0 .2 7.6 .2-1.7 .2 .6 .2-5.7 .2-4.8 .2 2.3 .2 8.8 .2-8.9 .2 4.7 .2 3.7 .2-.2 .2-.1 .2-8.1 .2 1.6 .2-1.5 .2-.2 .2 7.5 .2 2.5 .2-4.2 .2-4.1 .2 .4 .2-2.1 .2-.5 .2 1.7 .2 5.3 .2-1.8 .2-2.6 .2 3 .2-3.9 .2-.2 .2 1 .2 1.8 .2 2.9 .2-10.5 .2 1.2 .2-1.7 .2 12.8 .2-9.1 .2 9.1 .2 2.4 .2-2.2 .2 0 .2-5.8 .2 3.8 .2 2.7 .2-3.8 .2 1.8 .2 1.9 .2-7.2 .2-1.6 .2 7.5 .2 .8 .2-4.2 .2 3.9 .2-1.8 .2 1 .2-1.9 .2-1 .2-3.9 .2 1.2 .2-.1 .2-3.2 .2 8 .2-.4 .2 2.5 .2 .9 .2-.7 .2 .1 .2 1.9 .2-3 .2 0 .2 1.9 .2-4 .2 .2 .2 2.3 .2 3.1 .2-4.9 .2 1.8 .2-1.4 .2-3.6 .2 5.6 .2-.6 .2-1.2 .2 .5 .2-2.4 .2 1 .2 2.8 .2-5.5 .2 7.3 .2-4.4 .2 2.5 .2-4.9 .2-7.7 .2 2.3 .2 8 .2 1.6 .2 2 .2 1.3 .2-4 .2 3.2 .2-2.8 .2-.3 .2 2.4 .2-3.3 .2-.7 .2 1.7 .2-1.6 .2-.4 .2 .4 .2-4 .2 7.2 .2 2.3 .2-3.2 .2 1 .2-.7 .2 1.7 .2-1 .2-5.1 .2 5.4 .2 .3 .2-5.1 .2-3.2 .2 8.3 .2 .9 .2-3.7 .2-.2 .2-3.7 .2 5.2 .2 .6 .2 .1 .2 .6 .2-3.3 .2 3 .2-.3 .2 4.4 .2-4.5 .2-1.1 .2-.8 .2-2.1 .2-.8 .2 1.5 .2-6.9 .2 1.8 .2-.2 .2 3.4 .2-1 .2 5.5 .2 1.5 .2-2.2 .2-1.4 .2-1.1 .2 3.1 .2-4.9 .2 6.5 .2-6.3 .2-1 .2 1.5 .2-.3 .2-3.3 .2 3.5 .2-.6 .2 6.4 .2-3.7 .2 4.8 .2-4.6 .2 4.9 .2-3.1 .2 1.7 .2-5.1 .2 1.3 .2 4.3 .2-2.9 .2 2.5 .2-3.5 .2 0 .2 1.4 .2 2.5 .2-3.2 .2 5 .2-4 .2 2.8 .2-5.3 .2 2 .2 2.2 .2 .6 .2-2.8 .2 4.6 .2-5.7 .2-2.2 .2 6.5 .2-8 .2 6 .2 1.3 .2-3.1 .2 2.8 .2-4 .2 .8 .2 3.5 .2-.2 .2-2 .2-1.5 .2 1.5 .2-.8 .2 3.9 .2 1.5 .2-5.7 .2 2.2 .2 .1 .2 .3 .2-.4 .2 .9 .2-5.4 .2 3 .2-.3 .2 .5 .2-1.5 .2 1.3 .2 .3 .2 1.6 .2-.3 .2-2.6 .2-.2 .2-.8 .2 1.9 .2 0 .2 .1 .2 2.3 .2-1 .2 1.3 .2-1 .2 .2 .2 1 .2 .1 .2 2.6 .2-4.5 .2-.8 .2-2.3 .2 4.9 .2 1.3 .2-3 .2-.6 .2-1.1 .2 1.7 .2-4.4 .2 5.7 .2-2.7 .2 2.3 .2 2.2 .2-6.1 .2 2.4 .2-1 .2-.1 .2 3.4 .2 0 .2-.6 .2-.2 .2-1.5 .2 1.1 .2 1 .2 .1 .2-2.2 .2 1.5 .2-2 .2-1.4 .2 5.9 .2-3.3 .2-.1 .2-1.2 .2 1.5 .2-1.1 .2 2.2 .2 1.3 .2-3.5 .2-.5 .2 1.4 .2 .3 .2-.9 .2-1.8 .2 3 .2-.3 .2-.3 .2-1 .2 1.1 .2-.4 .2-1.2 .2 1.7 .2-.5 .2 1 .2-1 .2 1.2 .2-3.5 .2 2.6 .2-2.8 .2 5.7 .2-3 .2 1 .2-1.4 .2 .9 .2-.1 .2-.9 .2-2.2 .2 1.3 .2 1.9 .2 .7 .2-1.9 .2-.6 .2 1.1 .2-.9 .2 1.9 .2-4.4 .2 1.5 .2 3.6 .2-1.3 .2 3.8 .2-5.9 .2 4.1 .2-1.8 .2 2.5 .2-.3 .2-4.4 .2 .4 .2 .5 .2 5.2 .2-3.2 .2-3.2 .2-1 .2 3.8 .2-.4 .2-1.3 .2 1.2 .2-3.4 .2 3.2 .2 .4 .2 0 .2-1.9 .2 1.5 .2-1 .2-3.4 .2-.1 .2 5.7 .2-3.3 .2 3.1 .2-2.8 .2 2.4 .2 1.5 .2 1.6 .2-4.5 .2 3.4 .2-2.1 .2-6.5 .2 1.3 .2 5.3 .2 1.2 .2-2.6 .2 .3 .2-1.1 .2-.1 .2 3.4 .2-2.4 .2-.7 .2 2 .2-2.1 .2 1.7 .2-1.3 .2 1.4 .2-1 .2-2.7 .2 4.8 .2-.4 .2-1.3 .2-1 .2 3.1 .2-3.8 .2 2.3 .2 .3 .2 .1 .2-1.4 .2-.4 .2 4 .2-4.8 .2-1.7 .2 .5 .2 2.7 .2-1.5 .2 2.8 .2 .6 .2-5.1 .2 .1 .2 2.6 .2 .8 .2-2.5 .2 1.3 .2-2.4 .2 4.5 .2 1.3 .2-2.1 .2 .4 .2 .3 .2 1.2 .2-.3 .2-.6 .2 .3 .2-3.9 .2 3.3 .2-2.1 .2 2.1 .2-.7 .2 0 .2 .9 .2-.6 .2-1 .2 3.9 .2-3 .2 .7 .2-1.4 .2-.6 .2-.3 .2 1.5 .2-.1 .2 1.1 .2-1.8 .2 2.9 .2-.5 .2-5.9 .2 1.6 .2 1.8 .2 1 .2 .7 .2-.2 .2-1.2 .2 3.4 .2-5.1 .2 1.4 .2-.4 .2 1.5 .2 .4 .2-.6 .2 .8 .2-.8 .2 2.2 .2-3.2 .2 0 .2 1.9 .2-.4 .2 .1 .2-.7 .2-2.3 .2 2.9 .2-1.8 .2 2.5 .2-.6 .2-.4 .2-1 .2 2.5 .2-1.7 .2-2.5 .2 4.2 .2 1.6 .2-1.7 .2-1 .2-2 .2 .8 .2 1.8 .2 .2 .2-1.3 .2 1.6 .2 1.5 .2-3.1 .2 1.1 .2-.3 .2 .2 .2 1.2 .2-3.3 .2-.8 .2 1 .2-.2 .2-.1 .2 2.4 .2 .3 .2-3.1 .2-2.3 .2 .4 .2 3.3 .2-.1 .2-1.8 .2 2.1 .2 1.5 .2-1.6 .2 .9 .2-4.4 .2 4.3 .2-1.9 .2 1.1 .2-2.8 .2 1.4 .2-.3 .2-.2 .2 2 .2-.6 .2 .2 .2 2.2 .2-1.1 .2-.2 .2 .5 .2-.8 .2 1.6 .2-1 .2-1.5 .2 .2 .2 1.6 .2-2.5 .2 1.4 .2-.1 .2-.4 .2 .2 .2 1 .2 1 .2 1.4 .2-2.4 .2 .4 .2 .4 .2-4.3 .2 .5 .2 3.5 .2-.7 .2-1.5 .2 2 .2-2.4 .2-.8 .2 2.6 .2 .1 .2 .5 .2 3.6 .2-5.5 .2 2.2 .2-2.5 .2 .8 .2 .2 .2 2.7 .2-3.1 .2-2.5 .2-1.9 .2 7 .2-2 .2 1.8 .2-2.4 .2-1.5 .2 .6 .2 3.4 .2-3.4 .2 2.4 .2 .9 .2-4.9 .2 5.4 .2-1.9 .2-.1 .2-.3 .2 1.6 .2-2.4 .2 2.3 .2-1.2 .2 .6 .2-1.8 .2 3.1 .2-1 .2-2.3 .2 1.2 .2-.6 .2 1.2 .2 .7 .2-4.4 .2 3.8 .2 1 .2-.9 .2-1 .2 1.4 .2-2.9 .2 .6 .2-.2 .2-.7 .2 2.4 .2 0 .2 .1 .2 .9 .2-2.2 .2 .8 .2-2.1 .2 .3 .2-.8 .2 4.1 .2-1.1 .2-2.3 .2 1.1 .2-1.2 .2-1.5 .2 5.1 .2-1.1 .2 2.1 .2-2.9 .2 0 .2-.8 .2-.3 .2 .4 .2-.5 .2 .8 .2 1.1 .2-1.4 .2 4 .2-3.6 .2 2.6 .2 1 .2-3.8 .2 3 .2-1.2 .2-2.7 .2 1.1 .2-4.3 .2 3.7 .2 1.8 .2-1.7 .2 1.1 .2-.5 .2-.1 .2 .4 .2-.4 .2 .1 .2 1.7 .2 2.6 .2-4.8 .2 1.2 .2-.6 .2-.4 .2 1.5 .2-.3 .2 2.1 .2-.4 .2-2.9 .2-1.6 .2 3.1 .2 .9 .2-.4 .2-.8 .2-.3 .2 0 .2-.3 .2 .7 .2 .6 .2-1.5 .2-1.6 .2 2.8 .2-1.8 .2 1.6 .2-1.1 .2-2.3 .2 2.6 .2 .3 .2 1.3 .2-.3 .2-.4 .2 0 .2 1.5 .2-3.6 .2 4.5 .2-.1 .2-2.3 .2-1.7 .2 3.7 .2-2.9 .2 .8 .2-.3 .2 .4 .2-1.1 .2 1.6 .2-.5 .2-1 .2 1.8 .2-.4 .2-1.6 .2 .2 .2 1.6 .2-3.6 .2 2.9 .2-.2 .2-2.5 .2 1.4" fill="none" stroke="#ff0000" stroke-width="1.1" stroke-linejoin="bevel"/>
<path d="M14.4 650.6l.2 1.2 .2 .5 .2-2.1 .2 .2 .2 4.1 .2-4.2 .2 1.2 .2-1.8 .2-.7 .2 4.4 .2-.2 .2-3.9 .2-1.8 .2 2.4 .2 5.5 .2-3 .2-.8 .2-.6 .2 .5 .2-.3 .2 2 .2-1.2 .2 1.5 .2-2.6 .2 3.3 .2-2.4 .2-1.1 .2-1 .2 .4 .2 2.1 .2 .8 .2-2.7 .2 0 .2 4.5 .2-3.1 .2 1.2 .2-1.5 .2-1.7 .2 1 .2-1.9 .2 1.7 .2-.3 .2 .3 .2-.6 .2-1.1 .2 2.9 .2 .6 .2-.5 .2 2.1 .2-.4 .2-2.2 .2 1 .2 0 .2 .9 .2-2.5 .2 4.1 .2-3 .2 2.1 .2-3.7 .2 .8 .2-1.5 .2 2 .2-.7 .2-.3 .2 2.4 .2-2.2 .2 1.3 .2-2.4 .2-.7 .2 6.2 .2-2.5 .2-.3 .2-2.4 .2 2.4 .2-.7 .2 0 .2 2 .2 .7 .2-1.5 .2-2.7 .2 .1 .2 1.6 .2-2.4 .2 1.1 .2-.6 .2 2.5 .2 1 .2-1.6 .2 1.4 .2-2.1 .2 .6 .2 .5 .2-1.6 .2 1.9 .2-2 .2-.9 .2 2.6 .2 .8 .2 1.2 .2-5.7 .2 3.9 .2 1.7 .2-1.5 .2-1.7 .2-2.8 .2 4.6 .2-4.2 .2 4.6 .2-3.7 .2 1.8 .2-2.6 .2 2.9 .2 2.4 .2-2.2 .2-.4 .2-.3 .2-1 .2 2.9 .2-4.4 .2 1.2 .2 1.4 .2-2.4 .2-.5 .2 2.7 .2-2.7 .2 5.8 .2-1.3 .2 1.1 .2-.1 .2-.8 .2-3.2 .2 2.7 .2 0 .2-.7 .2-1.7 .2-3.2 .2 5.4 .2-1.3 .2 1.7 .2-4 .2 .7 .2-.7 .2 2.3 .2 1.1 .2-1.1 .2 2.8 .2-.6 .2-.9 .2 .9 .2-3 .2 1.4 .2 2 .2-3.6 .2 2.8 .2 1.4 .2-1.4 .2 2.7 .2-5 .2 .7 .2-1.5 .2 3.7 .2-1.7 .2-.4 .2 2.4 .2-3.7 .2 1.9 .2 1.3 .2-5.1 .2 4.1 .2 .5 .2-3.9 .2 5.2 .2-2 .2-1.6 .2 .9 .2-.8 .2 2.1 .2 .9 .2-1.8 .2-1.4 .2 .2 .2 .8 .2 .1 .2-1.2 .2 3.5 .2-6.2 .2 4.5 .2 1.9 .2-3.8 .2 4.5 .2-4.1 .2 2 .2-.6 .2-2.4 .2 2.3 .2-.4 .2 1.7 .2-1.1 .2-1.3 .2 1.9 .2 2.4 .2-2.5 .2-1.5 .2 .6 .2-.1 .2-1.1 .2-1.8 .2 1.4 .2 4.2 .2-.7 .2-1.3 .2-.1 .2 2.3 .2-.6 .2-2.7 .2 .4 .2 1.2 .2-2.3 .2 1.7 .2 0 .2-.3 .2 .1 .2 .1 .2-.3 .2-.1 .2 0 .2-.6 .2 .9 .2-1.3 .2 .7 .2-.2 .2 .8 .2-.3 .2-1.7 .2 3.6 .2-4.5 .2 2 .2 .7 .2-.5 .2 1.6 .2-.7 .2 1.8 .2-5.3 .2 3.5 .2 .6 .2-1 .2-3.3 .2 4.6 .2-.4 .2-3.5 .2 3.3 .2-4.1 .2 4.1 .2-1 .2-.3 .2 .1 .2-1 .2 .1 .2 2.1 .2-4.3 .2 4.2 .2-.8 .2 2.1 .2-1.3 .2 2.8 .2-.5 .2-3.7 .2 1.7 .2-2.5 .2 2.2 .2-.3 .2-1.1 .2 2.5 .2-2.8 .2 1.5 .2 1 .2-2.1 .2-.7 .2 1.1 .2-1.3 .2 3.8 .2-1.7 .2 .7 .2-2 .2-1.2 .2 2.6 .2-2.1 .2 1.6 .2-1.8 .2-.5 .2 3.3 .2-1.6 .2-.3 .2 2.4 .2-5.5 .2 5.6 .2-1.9 .2-2.3 .2 0 .2 1.2 .2 1.7 .2-3.2 .2 4 .2-1.5 .2 .5 .2-1.3 .2 .4 .2 1.6 .2 0 .2-2.7 .2 .1 .2 .7 .2 3.8 .2-3.8 .2 3.1 .2-2.4 .2 3.2 .2-1.5 .2-.9 .2-.6 .2 1.6 .2 .7 .2-3.1 .2 1.5 .2-3 .2 .4 .2 1 .2 3.4 .2-1.8 .2-1.3 .2 3.8 .2-4.8 .2 .7 .2 .4 .2 .1 .2 .5 .2-.8 .2 1.7 .2-1.3 .2 .1 .2-1.1 .2 .1 .2 2.1 .2-1.3 .2 .4 .2-1 .2-2 .2 2.2 .2-3.9 .2 4.8 .2 1.5 .2-3.5 .2-.6 .2 .8 .2 2 .2-.6 .2 0 .2-3 .2 3.5 .2-.7 .2 .6 .2 .8 .2 .3 .2-1.2 .2-2.1 .2 3.1 .2-.3 .2-.6 .2 1.7 .2-3.9 .2 2 .2 1.3 .2-2.4 .2 1.2 .2-.4 .2 .9 .2-2.2 .2 4.7 .2-5.7 .2 2.6 .2-1.3 .2 2.9 .2-4.3 .2 .6 .2 2.6 .2-2.8 .2 .9 .2 .3 .2 1.5 .2 .4 .2-4.1 .2 3.3 .2 2.6 .2-.5 .2-1.4 .2-3.2 .2 4 .2-2.9 .2 1.6 .2 .5 .2-1.1 .2 1.7 .2-1.3 .2-.6 .2-.7 .2 .5 .2-.7 .2-.7 .2 3.7 .2 .8 .2-2.4 .2-2.3 .2 1.2 .2 .9 .2-1.7 .2 1.7 .2 .7 .2-2.8 .2-.6 .2 4.2 .2-.7 .2 .7 .2-2.2 .2 .1 .2 4 .2-1.8 .2 .6 .2-.2 .2-2.9 .2 1.6 .2-4.1 .2 5.9 .2-5.9 .2 4.4 .2-1.5 .2 2.5 .2-.6 .2-.9 .2-.3 .2 .5 .2 .3 .2-.2 .2 1.1 .2 .7 .2-3.6 .2 3.9 .2-4.5 .2 3.4 .2-2.8 .2 4.8 .2-2.8 .2 1 .2 2 .2-1.5 .2 .9 .2-5.2 .2 1.2 .2 1.5 .2-1.1 .2-.2 .2 0 .2-1 .2 4.4 .2-.6 .2-8 .2 8.2 .2-3.9 .2 7.3 .2-10.8 .2 2.9 .2 1.3 .2 1.7 .2 1.1 .2 .4 .2-3.3 .2 .9 .2-.2 .2-1.2 .2-3.3 .2-1.1 .2 3 .2-1.2 .2 1.2 .2 3.9 .2-3.1 .2 1.2 .2-4.4 .2-.7 .2 .5 .2 6.3 .2-1.5 .2-4.5 .2 5.4 .2-2.8 .2 1.9 .2 2.2 .2 1.3 .2-5.2 .2 3.1 .2 1.2 .2 2 .2-4.5 .2 2.2 .2-3.4 .2 3.6 .2-.6 .2-4 .2 1.5 .2 .7 .2-2.8 .2-.4 .2 .5 .2 .2 .2-2.7 .2-.4 .2 2.9 .2-2.6 .2 4.9 .2 .7 .2 3.2 .2-2.7 .2 2.3 .2-1.2 .2-3 .2 4.6 .2-3.7 .2 2.8 .2-1.4 .2-1.6 .2-2.1 .2 3.9 .2-4.2 .2 7.4 .2-5.1 .2 1.1 .2-1 .2-.2 .2 3.4 .2-.1 .2-10.9 .2 1.1 .2 7 .2-.9 .2 3.2 .2-1.6 .2-.8 .2 1.1 .2 .3 .2-1.1 .2 .2 .2 1.2 .2 .1 .2-7.2 .2 7.2 .2-4.2 .2 2.7 .2 2.3 .2 1.9 .2-2.5 .2-.5 .2 3.6 .2-1.6 .2-2.3 .2-.5 .2-3.6 .2 5.1 .2-2.9 .2 2 .2-3 .2 1.1 .2 3.1 .2-.7 .2 4 .2-6.4 .2 1.6 .2 .5 .2-1 .2-.1 .2 .4 .2 1.2 .2 2.8 .2-3.8 .2-1.9 .2 1.9 .2-3.2 .2 3.8 .2-5.3 .2 .6 .2 4.6 .2 .2 .2-2.3 .2 1.2 .2 .9 .2 .2 .2-2.9 .2 1.7 .2-3.1 .2 1.3 .2 .7 .2 1.3 .2 1.4 .2-1.7 .2-.3 .2 .8 .2-.6 .2-5.5 .2 2.8 .2-1.6 .2 1.1 .2 1.1 .2 1 .2 .8 .2-4.8 .2 5.5 .2-3.9 .2 4.9 .2 1.9 .2-3.8 .2-4.9 .2 .6 .2 1.5 .2 1.7 .2 2.3 .2-.6 .2 1.4 .2-1.7 .2-3.6 .2 .7 .2 4.2 .2 .3 .2-4.1 .2 8.3 .2-5.8 .2-.1 .2-4.1 .2 .9 .2 4 .2 2 .2-5.2 .2-.2 .2 2.5 .2 1.5 .2 2.1 .2-2.5 .2 1.7 .2-2 .2 2.7 .2-3.1 .2-3.4 .2 2.6 .2 .9 .2 .2 .2 1.1 .2-7 .2-1.3 .2 2.8 .2-1.4 .2 3.1 .2-2.2 .2 .5 .2-1.2 .2 4.8 .2 2.6 .2-1.9 .2-1.7 .2 2.9 .2-1.2 .2-.2 .2 1.8 .2-3.7 .2 3.2 .2-4.2 .2-.1 .2-.1 .2 2.4 .2-6.2 .2 7.7 .2-5 .2 6.3 .2-2.9 .2 2.9 .2 1.4 .2-5.5 .2 4.8 .2-1.7 .2-.9 .2 .2 .2 1.7 .2-4.5 .2 4.5 .2-.9 .2 1.1 .2-9.3 .2 3 .2 5.4 .2-3.4 .2 3.1 .2-7.7 .2-1.8 .2-.7 .2 4.5 .2 4.9 .2-2.2 .2 3.2 .2-3.1 .2 3 .2-7.6 .2 2.1 .2 1.3 .2-3 .2 7 .2-2.7 .2 3.4 .2-2.8 .2 1.4 .2-1.8 .2 3.5 .2 3.9 .2-6.4 .2 .3 .2-4.2 .2 3.1 .2-.7 .2 4 .2-4.4 .2 5.4 .2-4.1 .2 .1 .2 .3 .2-.6 .2 1.5 .2-.5 .2-1.8 .2 2.6 .2-.9 .2 3 .2-.2 .2-4.6 .2 2.8 .2 .4 .2-1.5 .2-.1 .2 1.3 .2-3.5 .2 1 .2 2.2 .2-3.4 .2 4.4 .2-1.7 .2-7.4 .2 7.7 .2-5.9 .2 4.2 .2 2.1 .2 .6 .2-1.8 .2-1.2 .2 3.3 .2 2.7 .2-.4 .2-4.2 .2-.3 .2-.8 .2 2.4 .2-.9 .2-6.3 .2 8.5 .2-1.9 .2 3.7 .2-3.7 .2-3.2 .2-.8 .2 3.7 .2-2.2 .2 1.6 .2-3.2 .2 1.2 .2 1.3 .2-4.2 .2 6.8 .2 .3 .2-7.5 .2 3 .2-2.4 .2 .5 .2 .1 .2 6.9 .2-2.8 .2 .6 .2-1.4 .2-1.6 .2 5.1 .2-2.6 .2 .6 .2-2.9 .2 3.8 .2 0 .2 2.6 .2-4.4 .2 3.2 .2 2.6 .2-8.8 .2-.5 .2-.6 .2 .5 .2 1 .2 0 .2-2.4 .2 2.8 .2 3.8 .2-2.5 .2-.7 .2 4.3 .2-1.3 .2 1.1 .2-8.4 .2 9.4 .2-2.8 .2-2 .2 1.1 .2 3.4 .2 1 .2-8.5 .2 4.7 .2 3.5 .2-.4 .2-6.5 .2 4.4 .2 .9 .2-1.3 .2 3.7 .2-4.5 .2-3.1 .2 3.7 .2 .7 .2 .5 .2 .7 .2-2.9 .2 3.5 .2-1.2 .2 2 .2-5.3 .2 1.1 .2 2 .2-1 .2-3.3 .2 1 .2-1 .2 3.3 .2 .9 .2-6.4 .2 5.9 .2 1.5 .2-2.6 .2 0 .2 3 .2-6.1 .2 4.7 .2 1 .2-1.5 .2 1.2 .2 1.3 .2-3.1 .2 1.7 .2-5.2 .2-.1 .2 1.4 .2 6.3 .2-4.6 .2 3.2 .2-4.2 .2 3.5 .2 .8 .2-3.2 .2-2.3 .2 3.6 .2-1.7 .2 3.5 .2 .9 .2-1.5 .2-.4 .2-9 .2 .8 .2 7.8 .2-2.5 .2 3.6 .2-3.7 .2 2.3 .2-.9 .2 1 .2-4.4 .2 4.2 .2-1.7 .2-4.9 .2 1.5 .2-1.3 .2 3.2 .2-5.1 .2 5.1 .2 1.5 .2 .7 .2 .3 .2-.2 .2 1.1 .2-.4 .2-1.8 .2 2.4 .2-.9 .2-1.6 .2 2.1 .2 .3 .2-1.6 .2 3.1 .2-4 .2-.7 .2 6 .2-7.3 .2-.4 .2 .6 .2 3 .2 .5 .2-7.5 .2 .6 .2-.4 .2 1.6 .2 4.4 .2 2.6 .2-1.4 .2 1.4 .2-1.4 .2-3.1 .2 3.9 .2-4 .2 4.4 .2 .6 .2-3.1 .2 3.9 .2-3.8 .2-1.3 .2 .2 .2 2.1 .2 2.7 .2-2.3 .2 2 .2-.4 .2-2.7 .2 1.6 .2-.7 .2 3.2 .2-4 .2 .6 .2-6.6 .2-2.5 .2 8.5 .2 .9 .2-3.4 .2 4.9 .2-3.6 .2 4.9 .2-1.6 .2-1.4 .2-3.7 .2-3.3 .2 4.1 .2 5.5 .2-1.8 .2-1.7 .2 .3 .2 2.8 .2-.7 .2-2.3 .2-.7 .2 2.6 .2-1 .2 .4 .2-.6 .2-.4 .2 3.5 .2-1.6 .2-2.1 .2 2.2 .2-.4 .2-4.3 .2 3 .2 1.1 .2 .8 .2-1.7 .2 1.4 .2-3.5 .2-1.2 .2 6.5 .2-4.1 .2 .9 .2-2.4 .2-5 .2 7 .2 2.5 .2-5.6 .2-.5 .2 1.9 .2 .4 .2-1.1 .2 1.9 .2 1.7 .2-3.6 .2 1.3 .2 1.3 .2 2.9 .2-3.7 .2 3.3 .2-3 .2 1.5 .2 .7 .2-3.3 .2 2.8 .2 .6 .2 1.5 .2-2.5 .2 2 .2-.7 .2-2.3 .2 1.9 .2-1.4 .2 2.9 .2-5 .2 4.5 .2-5.8 .2 4.7 .2-.2 .2-4 .2 1.6 .2 .2 .2 4 .2-9.5 .2 7.7 .2 .9 .2-6.6 .2 1.5 .2 1.1 .2 2.1 .2-10.7 .2 8.9 .2 2.2 .2-6 .2 .7 .2 6.9 .2-3.5 .2 1.3 .2-2.9 .2 1.8 .2 1.4 .2 3.7 .2-4.2 .2 .7 .2-10.4 .2 8.9 .2 .5 .2 .3 .2-.6 .2 2.5 .2-7.4 .2-1.2 .2 9.9 .2-5.8 .2 4.1 .2-.8 .2-.9 .2-.6 .2-.5 .2-1.2 .2 3.8 .2 1.8 .2-5.5 .2 .7 .2 1.4 .2 .3 .2 1.4 .2-9.6 .2-1.8 .2 3.1 .2-1.1 .2 8 .2-1.9 .2-2 .2 2.1 .2 2 .2 1.8 .2-4.2 .2 4.2 .2-2.7 .2 1.3 .2-10 .2 4.2 .2-1.9 .2 1.9 .2 5.8 .2-2.1 .2 3.6 .2 .4 .2-2 .2-.9 .2 1.7 .2-.5 .2-1.9 .2-.8 .2 3.5 .2-2.6 .2-7 .2 1.9 .2 6.5 .2-4.8 .2 3.5 .2 1.2 .2-5.3 .2 4.1 .2-1.2 .2 3.5 .2-1.7 .2 1.3 .2 0 .2-2.6 .2 3.6 .2-2 .2 .5 .2-3.2 .2 2.5 .2 1.4 .2-1.8 .2 2.8 .2-3.5 .2 .2 .2-7.1 .2-.1 .2-2.3 .2 2.4 .2 4.9 .2 4.5 .2-1.6 .2 .4 .2-3.5 .2 2.5 .2-.2 .2 3.2 .2-.8 .2-1.4 .2 0 .2-.4 .2 1.8 .2 .3 .2 0 .2-.1 .2-.3 .2-1.9 .2-5.5 .2 .4 .2 5 .2 4.8 .2-2.9 .2 1.2 .2-7.3 .2 2.5 .2 2.9 .2-2.4 .2-4.4 .2 9.4 .2-1.9 .2-2 .2 2 .2-2.3 .2 3.1 .2 .4 .2-2.6 .2 0 .2 1 .2-.3 .2 2.2 .2-3.3 .2 .4 .2 .4 .2 2.6 .2 .3 .2 .1 .2-4.9 .2 6.1 .2-8.5 .2 5.2 .2-.2 .2-3.5 .2 4 .2 1.6 .2-.1 .2-3.3 .2 5.3 .2-8.3 .2 5.5 .2 1.5 .2-1.4 .2-.6 .2 .6 .2-3 .2-2 .2-1.2 .2 1.6 .2-2.1 .2 2 .2-3.5 .2 3.5 .2 5.2 .2-3.9 .2 .4 .2-6.9 .2 1.9 .2 2.8 .2 3.3 .2-1 .2 1.8 .2-.7 .2 3.9 .2-9.5 .2-.6 .2 .4 .2 .9 .2 5.7 .2-1.5 .2 2.8 .2-.7 .2-5.1 .2 2.4 .2-5 .2 2.2 .2-.8 .2 5.4 .2 .2 .2 .9 .2-1.4 .2 1.8 .2-3.3 .2 2.8 .2-3.1 .2 1 .2-6 .2 9 .2-6.2 .2 6.1 .2-3.6 .2 1.7 .2 3 .2-4.2 .2-3.1 .2 7 .2-3 .2-.1 .2 1.4 .2-2.9 .2 0 .2-.7 .2 2.4 .2-8.3 .2 8.2 .2 1.1 .2-2.3 .2 .7 .2 1.3 .2-3.5 .2 5.8 .2 .2 .2-3.2 .2 1.4 .2-.2 .2-3.7 .2 1.5 .2 1.3 .2-1.2 .2 3.7 .2-2.2 .2-.1 .2-2.7 .2-.2 .2 1.4 .2-6.2 .2-4.5 .2 11.3 .2 1.1 .2-2 .2-.3 .2 .6 .2-1.2 .2-10.8 .2 1.7 .2 4.6 .2-4.6 .2 4.4 .2-5.3 .2 3.1 .2-1.8 .2 .6 .2 11.2 .2-2.2 .2 1.3 .2-4.9 .2 2 .2 4.8 .2-1 .2-2 .2 .7 .2 .5 .2-8.7 .2-.1 .2 .3 .2 .3 .2 2.1 .2-3.3 .2-3.3 .2 5 .2 2.1 .2 .4 .2 5.4 .2 .5 .2 3.8 .2-12.6 .2 3.5 .2 5.1 .2-2.3 .2 2.4 .2-.7 .2-1.8 .2 1.4 .2 4.2 .2-3.8 .2-.7 .2 3 .2-1.9 .2-8.7 .2-.1 .2-1.4 .2 10.9 .2-2.9 .2 2.4 .2-8.3 .2 10.7 .2-1.4 .2 .9 .2-1.5 .2 .9 .2-3.3 .2-1.9 .2 5.9 .2-2.4 .2-.2 .2-4.6 .2 3.6 .2-4.3 .2 5.5 .2-1.3 .2 2.3 .2-1.1 .2-6 .2 4.1 .2 2.5 .2-.2 .2-3.5 .2 3.4 .2-1.2 .2-4.6 .2 6.3 .2-2.9 .2-3.8 .2 5.9 .2-9.3 .2 4.8 .2 5.9 .2-2.8 .2-1.1 .2 .2 .2-1 .2 1.4 .2 1.5 .2 .4 .2-2.6 .2 .6 .2 1.4 .2 1.2 .2-.7 .2 1.7 .2-.7 .2-.4 .2-1.2 .2-1.7 .2 5.7 .2-9 .2 4.4 .2-2.2 .2 1.5 .2 2.4 .2-1.8 .2 1.2 .2 3.2 .2-3.1 .2 0 .2 1.9 .2-1.3 .2 .4 .2-3.4 .2 1.1 .2 3.1 .2-2.6 .2 .1 .2 4.1 .2-4 .2-3.3 .2 4.3 .2-.4 .2 .6 .2-.9 .2-1.5 .2-2.1 .2 4 .2 2.7 .2-2.1 .2-1 .2-3.4 .2 3.9 .2 1.6 .2-1.8 .2 .9 .2-3.8 .2 4.5 .2-1.3 .2-2 .2 4.9 .2-1.6 .2-.9 .2-.3 .2-.3 .2 .3 .2 1.3 .2-1.2 .2 .9 .2 2 .2-2 .2 .6 .2 .8 .2-2 .2 1 .2-.4 .2-1.5 .2-.2 .2 6.3 .2-5.4 .2 1.5 .2-2.1 .2-.6 .2-2.1 .2 3.4 .2 3.3 .2-2.8 .2-2.1 .2 3 .2-.6 .2-.5 .2-2.6 .2 2.1 .2 2.4 .2-2.2 .2 3.2 .2-2.4 .2-1.1 .2 .5 .2 2.5 .2-5.5 .2 1.8 .2-.9 .2 2.3 .2 .9 .2-1 .2-1.7 .2 2.2 .2-3.8 .2 4.9 .2-2.7 .2 3.7 .2-3.8 .2 3.7 .2-.7 .2-1.5 .2-4.6 .2 3.7 .2 1.3 .2-2.4 .2 3.3 .2-3.3 .2 .4 .2 5.2 .2-4.3 .2-1.4 .2 1 .2 2.2 .2-3.9 .2 1.8 .2 .8 .2-.8 .2 1.1 .2-3 .2 4.4 .2-1 .2 1.3 .2-.7 .2 0 .2-2.6 .2 1.7 .2-2.5 .2 2.3 .2-2.8 .2 3.7 .2 .3 .2-3.5 .2 .7 .2-.3 .2-2.2 .2 2.9 .2-2.8 .2 1.1 .2 0 .2 2.3 .2 .9 .2-.3 .2-2.2 .2 2.4 .2 1.5 .2-5.3 .2 5.9 .2-2 .2-1.6 .2 .1 .2-.9 .2 1.5 .2 4.5 .2-8.1 .2 3.2 .2-.4 .2-2.3 .2 2.6 .2-.4 .2 3.4 .2-3.2 .2 2 .2-2.2 .2-.5 .2 2.2 .2-2.7 .2 1.4 .2 .3 .2-1.1 .2 1 .2 3.8 .2-5.2 .2-.6 .2 4.3 .2-4.3 .2-.7 .2 1 .2 2.3 .2 .6 .2-2.1 .2 1.4 .2-3 .2 3.9 .2-.8 .2-1.2 .2 .2 .2 2.4 .2-2.1 .2-1.1 .2 2.8 .2-4 .2 .5 .2 3.2 .2-2.9 .2-1.2 .2 0 .2 2.6 .2-.3 .2-1.5 .2 2.3 .2-2.9 .2-.9 .2 3.4 .2-4 .2 3.2 .2 1.7 .2-3.7 .2-1.2 .2 4.4 .2 .3 .2 2.6 .2-4 .2 .3 .2-1.7 .2 3.7 .2 .6 .2-2.9 .2 1.1 .2 1.9 .2-2.4 .2 2.8 .2-.5 .2-2.6 .2-.6 .2-.3 .2-.7 .2 5.1 .2-4 .2-.7 .2-.7 .2 1 .2 2.4 .2-.7 .2-5 .2 4.8 .2 .6 .2 .2 .2 1 .2-1.4 .2 3.5 .2-5.5 .2 3.2 .2-3.4 .2 .4 .2 4 .2-1.4 .2-2.9 .2 2.1 .2-4 .2 1.7 .2 .1 .2-1.6 .2 3.9 .2-3.3 .2 2.1 .2 2.6 .2-1.4 .2-2.3 .2 .5 .2 1.5 .2-3.1 .2 3.3 .2-.1 .2 1.6 .2-2.3 .2 0 .2-3.3 .2 3.6 .2 1.3 .2-1.5 .2-.6 .2-.5 .2-.3 .2 1.4 .2-2.7 .2 3.7 .2-1.7 .2 1.4 .2-1.3 .2 .4 .2-2.1 .2 5.7 .2-1.7 .2-1.5 .2-2.2 .2 5.3 .2-2.5 .2-1.2 .2-.9 .2 1 .2 2.5 .2-3.8 .2 1.3 .2 0 .2 1.2 .2 .9 .2-1.8 .2 .5 .2-.1 .2-1.9 .2 1.2 .2-2 .2 2.5 .2-.4 .2 .3 .2-1.4 .2 5.3 .2-2.2 .2-2.4 .2-1 .2 1.4 .2-.3 .2 .3 .2 .7 .2-2.6 .2 .7 .2 1.5 .2-3.6 .2 7.6 .2-2.6 .2-1 .2 1.2 .2-1.4 .2-.4 .2 .9 .2-.6 .2 1.8 .2-2 .2 2.1 .2 1 .2-1.9 .2-.9 .2-2.4 .2 1.1 .2-.9 .2 1.7 .2 1.9 .2-4.6 .2 3.6 .2-3.7 .2 2.2 .2 2.1 .2-2.2 .2 3.2 .2-2 .2-.7 .2 .4 .2-.1 .2 .8 .2-2.9 .2 2.1 .2-1.1 .2 1.5 .2-1.6 .2 1.5 .2 3.2 .2 .3 .2-4.2 .2 .8 .2 1.1 .2-2.2 .2 1 .2-1.2 .2 2.4 .2-3 .2 5.4 .2-5.4 .2 1.8 .2 2.6 .2-1.9 .2-4.8 .2 5.5 .2-1.3 .2 .8 .2-4 .2 7.2 .2-7 .2 5.2 .2-4.4 .2-.1 .2 3.7 .2-2.7 .2 4.9 .2-1.1 .2-1.7 .2-1.8 .2 .2 .2 1.5 .2-.2 .2-1.4 .2 .9 .2 .3 .2 1.4 .2-3.1 .2 1.2 .2 1.7 .2-.6 .2-5.8 .2 6.1 .2-2.2 .2 2.9 .2-2.6 .2-1.2 .2 7.2 .2-7.1 .2-.8 .2 2.6 .2 1.4 .2-.5 .2-.7 .2-2.2 .2 5.7 .2-6.8 .2 3.6 .2-3.3 .2 3.1 .2-.5 .2 .9 .2-2.7 .2 .3 .2-2.3 .2 2.4 .2-.5 .2 1.3 .2-1.2 .2 2.4 .2-.5 .2 1.5 .2 .2 .2-2.4 .2 2.5 .2-.6 .2-3.9 .2 5.3 .2-4.1 .2 1.4 .2 2.6 .2-3.3 .2 2.6 .2-2.9 .2 .2 .2 3 .2-2.6 .2 2.5 .2 .8 .2-1.5 .2-.2 .2-2.1 .2 0 .2 1.3 .2 .7 .2-3.5 .2 1.7 .2 .9 .2 1.5 .2-1.8 .2-1.6 .2 1.9 .2-1.7 .2 .4 .2 1.9 .2 3.5 .2-.4 .2-6.2 .2 6.7 .2-7 .2 1.9 .2-.3 .2 3.5 .2-3.1 .2 2.5 .2-2.6 .2 .5 .2-.8 .2 .8 .2-.8 .2 5.1 .2-1.1 .2-.9 .2 2.5 .2-4.7 .2-1.2 .2-.1 .2-1.2 .2 2.1 .2 1 .2-2.3 .2 2.3 .2-.2 .2-1.4 .2-1 .2 2.4 .2-.5 .2-1.3 .2-1.3 .2 5.8 .2-1.5 .2-2.3 .2-.6 .2 2.7 .2-2.3 .2 1.5 .2-4.5 .2 4.5 .2 1.1 .2 .6 .2-1.2 .2 .5 .2-.8 .2-.4" fill="none" stroke="#ff0000" stroke-width="1.1" stroke-linejoin="bevel"/>
<path d="M14.4 692.1l.2 0 .2-.7 .2-3.6 .2 .9 .2 4.4 .2-3.9 .2 1.1 .2 2.1 .2-3.4 .2-2.1 .2 2.1 .2 3 .2 .2 .2-.6 .2 3 .2-1.9 .2-5.6 .2 .2 .2 2.9 .2-3 .2 4.9 .2-5.3 .2 3.7 .2-1.9 .2 2.8 .2 2.6 .2-3.5 .2-4.6 .2 3.2 .2-.2 .2 1.5 .2 2.6 .2-3.5 .2-.4 .2-1.3 .2-.3 .2 .5 .2 2 .2 1.3 .2-.7 .2-1.4 .2 1.6 .2-1.8 .2 3.1 .2-4.2 .2-.7 .2 3.2 .2-1.4 .2 3.6 .2-3.5 .2 1.7 .2 .1 .2 1.5 .2 .2 .2-4.7 .2-1.2 .2 2.1 .2 2.5 .2 .4 .2-2.6 .2 4.5 .2-3.6 .2 2.7 .2-2.5 .2-2.4 .2 1.6 .2 2.5 .2 .3 .2-1.6 .2 3.5 .2-3.2 .2 .7 .2-.1 .2-1.5 .2-1.6 .2 2.3 .2-.4 .2-.5 .2 1.3 .2-1.1 .2 2.4 .2-.3 .2-2.3 .2 3.5 .2-2.8 .2-2.6 .2 .5 .2 1.5 .2 1.8 .2-2 .2 3 .2 1.9 .2-5.4 .2 1.9 .2-1.8 .2 3.8 .2-5.5 .2 4.7 .2-2.2 .2 .9 .2 .3 .2-1.6 .2-.4 .2 4.7 .2-2.2 .2-.3 .2 1.9 .2-3.8 .2 2.8 .2-2 .2-2.6 .2 1.6 .2 1.6 .2-1.8 .2-.3 .2 3 .2-1 .2-1.1 .2-1.9 .2 3.8 .2 1 .2-1.7 .2 .9 .2-1.5 .2 2.4 .2-.2 .2-1.3 .2 1.1 .2-1.8 .2 2.8 .2-.7 .2-2.2 .2 2.4 .2-1.6 .2-.9 .2 .7 .2-1.2 .2 1.9 .2-1.2 .2 .3 .2 3.4 .2-7.9 .2 3.7 .2 3 .2-3.8 .2-.9 .2 4.6 .2 .7 .2-3.7 .2 1.2 .2-1.2 .2-.9 .2 2.6 .2 .1 .2-1.1 .2-1.9 .2 2.1 .2-1.3 .2 0 .2 1.4 .2-.4 .2-2.5 .2 3.8 .2-2.1 .2 .2 .2-1.4 .2 .6 .2-1.3 .2 2.4 .2-1.2 .2 .6 .2 2.8 .2-3.2 .2 2.8 .2-3.1 .2 1.5 .2-2.9 .2 3.1 .2 .8 .2-6.5 .2 3.9 .2 2.3 .2-.4 .2-1.5 .2 .8 .2 1.3 .2-.4 .2-3.5 .2 4.2 .2-2.7 .2 1.5 .2 .1 .2-.8 .2 2.6 .2-.9 .2-.4 .2 2.3 .2-3.8 .2 .5 .2 1.8 .2-1.7 .2-1.5 .2 2.4 .2 .4 .2-3.5 .2 3.3 .2-2.1 .2 1.2 .2 .3 .2 2.2 .2-1.9 .2 1.4 .2-2.4 .2 1 .2-1.6 .2 3.4 .2-2.3 .2-1 .2 2.7 .2-.3 .2-.6 .2-.2 .2-.1 .2 0 .2-.5 .2-.6 .2 1.3 .2-1.4 .2 3.3 .2-2.4 .2-.2 .2-3 .2 2.4 .2 .4 .2-3 .2 2 .2-.2 .2 1.1 .2 1.6 .2-4.5 .2 3.9 .2 1.1 .2 0 .2-1.9 .2-2.5 .2 3.7 .2-.8 .2 1 .2 .1 .2-1.5 .2-2.2 .2 1.2 .2-1.3 .2 3 .2-1.2 .2-2.9 .2-.1 .2 4.5 .2-3.4 .2-.6 .2 4.9 .2-2.2 .2-.9 .2 1.2 .2 2.5 .2-2.6 .2 2.4 .2-1.1 .2-1.3 .2 1.6 .2-3.3 .2-.5 .2 1.2 .2 3 .2-3.1 .2 .7 .2-1.1 .2 1.7 .2-1.1 .2 2.1 .2-2.5 .2 1.3 .2 1.6 .2-3.1 .2-.4 .2 .2 .2-1.3 .2 4.8 .2-1.5 .2 1.4 .2-2.3 .2 .9 .2 1.6 .2-1.1 .2 1.7 .2-2.6 .2-3.2 .2 1.3 .2 .5 .2 1.4 .2-1.2 .2-.5 .2 1 .2-1.5 .2 2.5 .2-.2 .2 1.2 .2 1.4 .2-2.7 .2 3.2 .2-3.9 .2-.1 .2 .1 .2-.8 .2 3.7 .2-5.6 .2 4.2 .2-.1 .2-.3 .2-.5 .2 1.3 .2 1.1 .2-2.8 .2 .8 .2 1.7 .2-5.5 .2 5 .2-3 .2 .8 .2 2.3 .2-.5 .2-1.1 .2-.7 .2-.5 .2 1.3 .2 1.1 .2 .6 .2-1.4 .2-.2 .2 1.6 .2-2.6 .2 .6 .2 .6 .2-.9 .2 1.8 .2-1.8 .2-.1 .2 4.7 .2-5.6 .2 2.7 .2-.9 .2-1.8 .2 2 .2-2.7 .2 .1 .2 2.5 .2-4.2 .2 .4 .2 2 .2 .1 .2 1.5 .2-3.7 .2 3.9 .2-1.6 .2 .7 .2-1.5 .2 .1 .2 6.5 .2-4.3 .2-.7 .2 3.4 .2-.9 .2-7.6 .2 5.3 .2 1.5 .2-2.6 .2 .3 .2 2.1 .2-1.8 .2 .1 .2-1.5 .2 1.5 .2-.1 .2 .7 .2 1.5 .2-2.2 .2-3.5 .2 1.7 .2 3.8 .2-2.9 .2 .7 .2 2.2 .2 2.6 .2-7.4 .2 5.9 .2-1.9 .2-.9 .2-2.9 .2 .8 .2 4.1 .2-5.2 .2 7.1 .2-3.1 .2-.8 .2-3.7 .2 3.8 .2 1.8 .2-1 .2 0 .2-.3 .2 .4 .2 .8 .2 2 .2-4.8 .2 1 .2 1.9 .2-2.5 .2-2.1 .2 3.2 .2-1.3 .2 3.3 .2 .3 .2-.3 .2 .5 .2-.5 .2-2.4 .2-1.6 .2 3 .2 2.8 .2-2.9 .2 1.7 .2-1 .2-.8 .2-2.9 .2 2.4 .2 1.9 .2-2.4 .2 .1 .2-1.7 .2-.6 .2 1.1 .2-1.2 .2 4.3 .2 .8 .2-5.1 .2 3.9 .2-.8 .2-1.5 .2 1 .2 3.1 .2-3.3 .2 1.2 .2-2 .2 .8 .2-3.9 .2 3.9 .2 1.2 .2-4.2 .2 2.8 .2-3.4 .2 4.9 .2-1.6 .2 1.2 .2-3.8 .2 3.4 .2 0 .2-2.6 .2 3.9 .2 1.3 .2-3.5 .2-.8 .2 2.2 .2 2.9 .2-4.3 .2-1.3 .2 1.7 .2-1.8 .2 1.7 .2-2 .2 .1 .2 5.2 .2-2.4 .2-1.9 .2 .2 .2 3.8 .2-3.7 .2 2.6 .2-.9 .2 .9 .2-.8 .2-2.4 .2-.3 .2 1.8 .2-.5 .2 2.2 .2-2.4 .2-2.1 .2 2.3 .2 3.9 .2-6 .2 2.3 .2 1.7 .2 1.5 .2-2.4 .2 2.3 .2-3.5 .2 1.4 .2-1.2 .2-2.6 .2 3.5 .2-4.3 .2 7 .2 .7 .2-1.8 .2-3.6 .2 .9 .2 1.5 .2 1.2 .2-2.6 .2-.3 .2 1.2 .2 2 .2-3.3 .2 3.6 .2-2.5 .2-1.2 .2 .6 .2-.7 .2 1.5 .2-.9 .2-1 .2 2 .2-1.6 .2 .9 .2 1.9 .2-.1 .2-1.5 .2 .1 .2-.2 .2-5.5 .2 4.5 .2 .4 .2 2 .2 .8 .2-2.9 .2-.8 .2-.9 .2 3.1 .2 .3 .2-2.2 .2 3 .2-.1 .2-2.2 .2-.3 .2-.1 .2 .9 .2-4.1 .2 .7 .2 2.7 .2 1 .2 1.3 .2-5.9 .2 6.6 .2-5.8 .2 4.1 .2-.4 .2-2.8 .2 2.9 .2-.9 .2 0 .2 .7 .2-2.5 .2 .3 .2-1.2 .2 4.1 .2-.1 .2-2.6 .2-.2 .2 1.9 .2-1.6 .2 2.2 .2 .6 .2-3.4 .2 2.3 .2-1 .2 2.4 .2-4.8 .2 5.3 .2-2.4 .2 .6 .2-1.1 .2-2.6 .2 4 .2 1.3 .2-.3 .2-1.6 .2-2.3 .2-.3 .2 4 .2-1.5 .2 .6 .2-1.2 .2-.5 .2 2.1 .2-3 .2 3.8 .2-1 .2 .7 .2-.3 .2 1.3 .2-2.4 .2 1.5 .2-.5 .2-.1 .2-.7 .2-2.4 .2 4.1 .2 1.1 .2-2.2 .2 1.2 .2-2.4 .2-1.9 .2 5.9 .2-3.3 .2-1.7 .2 2.5 .2-2.5 .2 3.1 .2-.1 .2-1.7 .2 1.4 .2-3.3 .2 3.8 .2-1.6 .2-1.4 .2 1.9 .2-.8 .2 .8 .2 1 .2-.7 .2-.9 .2-.1 .2 .1 .2 1.8 .2-4.5 .2 3.7 .2-.5 .2-3.8 .2 2.2 .2 1 .2 2.4 .2-2.1 .2-1.5 .2-2.1 .2 .1 .2 3.7 .2 3.7 .2-4 .2-2.8 .2-5.1 .2-3.4 .2 14.1 .2-2.3 .2-1.3 .2 .3 .2 .4 .2 1.7 .2-.7 .2-1 .2-2.2 .2 2.1 .2 1.2 .2-1.1 .2-.8 .2-1.4 .2 5.4 .2-3.4 .2 0 .2 0 .2-.9 .2-.4 .2 5.4 .2-5.9 .2 .9 .2-1.6 .2 1.9 .2 1.1 .2-1.3 .2-1.1 .2 3.4 .2-2.7 .2-.6 .2 4.9 .2-3.8 .2 .2 .2 2.6 .2-.4 .2-1.7 .2 .3 .2-.3 .2 0 .2-1 .2 2.5 .2-1.3 .2 .3 .2-1.1 .2-5.7 .2 8 .2-1.2 .2-1.6 .2 1.3 .2-11 .2 2.9 .2 1.9 .2-.9 .2-1.4 .2 .4 .2-.4 .2 7.9 .2 .1 .2-2.2 .2-7.4 .2 9.9 .2 0 .2 1.3 .2-.7 .2-.5 .2-2.3 .2 3.3 .2-12 .2 9.8 .2 1.1 .2-1.8 .2 3.3 .2 .2 .2-3.8 .2 0 .2 2.3 .2-6.7 .2 3.8 .2-2.5 .2 2.7 .2-.2 .2 .4 .2 .4 .2-.7 .2 .2 .2 5 .2-2.2 .2-2.6 .2 3 .2-1.2 .2-1.2 .2 2.7 .2 1.1 .2-14.8 .2 14 .2-1.3 .2-2.5 .2-18 .2 2.1 .2 16.6 .2 1.5 .2-1.3 .2-2.1 .2 2.3 .2-1.1 .2-4.4 .2 .1 .2-1.3 .2 1.1 .2-1.7 .2-.4 .2 4 .2-6.7 .2 4.8 .2 9 .2-18 .2-3.4 .2 3 .2 15.1 .2 .6 .2-20.6 .2 .3 .2 2.7 .2 15.5 .2-.7 .2-8.7 .2-.7 .2 3.2 .2 1.8 .2 9.5 .2-6.7 .2-7.8 .2 2.4 .2 9.9 .2-1.1 .2 2.2 .2-17.9 .2-2.1 .2 14.8 .2 2.8 .2 1.7 .2-12.7 .2 .6 .2-.6 .2 7.7 .2-15.8 .2 22.2 .2-1.1 .2 .2 .2-11.1 .2-2.3 .2 2.2 .2-3.2 .2 13.8 .2-1.2 .2-2.4 .2-15.4 .2 1.1 .2 3 .2-.6 .2-.6 .2 14.7 .2 .4 .2 2.9 .2-22 .2-1.1 .2 1.4 .2 17 .2-8.8 .2 11 .2-11.9 .2 1.1 .2-3.6 .2 .7 .2 .9 .2 10.4 .2 2.1 .2-2.2 .2 .1 .2 .2 .2 3.6 .2-15.9 .2 .2 .2-1 .2-.2 .2-1.4 .2 .2 .2 .6 .2 1.5 .2-5.1 .2 21.1 .2-13.2 .2-1.7 .2 3.2 .2-1.9 .2-.8 .2 13 .2 1.1 .2-2.9 .2 4.1 .2-6.1 .2-9.9 .2 1.2 .2-1.2 .2-1.9 .2 4.9 .2-6.4 .2 6 .2 10.3 .2-7.2 .2 .4 .2-3.3 .2 9.2 .2-3.2 .2-16.4 .2 4.1 .2 3.3 .2-3.2 .2 15.5 .2-8.9 .2-.4 .2 1.1 .2 .5 .2-1.1 .2-1 .2 8.2 .2 2 .2 .2 .2-7.2 .2 1.6 .2-.6 .2-1.4 .2 2.4 .2-1.1 .2-1.5 .2 2 .2-1.4 .2 8.8 .2-8.9 .2 5.2 .2-5.2 .2-.8 .2 1.1 .2 1.6 .2 1.2 .2-3.4 .2 6.9 .2 4.8 .2-1.8 .2-17.5 .2 1.5 .2-3.9 .2 3.3 .2-.6 .2-.6 .2 14.4 .2-5.4 .2 3.5 .2 1.1 .2 5.3 .2-2 .2 .5 .2-1.9 .2-12.7 .2-3.8 .2-1.1 .2 0 .2 2.7 .2 .3 .2 12 .2 .8 .2-16.7 .2 14.7 .2-6 .2 .1 .2 11.7 .2 .8 .2-2.6 .2 2.1 .2-20.2 .2 3.7 .2-.3 .2 2.2 .2-1.1 .2 2.8 .2-3 .2 14 .2-2.4 .2 4.9 .2-4.5 .2-3.8 .2-2.9 .2 3.4 .2-1.9 .2-4.1 .2 1.9 .2-.7 .2 8.9 .2 1.4 .2 .2 .2-1.4 .2-.2 .2 2.6 .2-1.6 .2-11.9 .2 15.9 .2-3.3 .2-19.5 .2 19.9 .2-11.5 .2 12.3 .2-15.8 .2 12 .2 2.6 .2 3.1 .2-3.4 .2 0 .2-1.9 .2-12 .2 .6 .2 11.5 .2 2.8 .2-2.1 .2-1.4 .2 .2 .2-14.3 .2-4.5 .2 7.7 .2 14.9 .2-1.3 .2-1.9 .2 0 .2 .8 .2 3.8 .2-2.1 .2 .8 .2 .4 .2-3.9 .2-1.1 .2 2.5 .2-1.8 .2-10.7 .2-.9 .2 .4 .2-.9 .2-1 .2 2.6 .2-2.6 .2 2 .2-3 .2 .9 .2 .5 .2 3 .2 1.1 .2-2.5 .2 1.4 .2-1.4 .2 2.4 .2-5.6 .2 16.1 .2 1.2 .2 1.1 .2-3.1 .2-.6 .2 1.4 .2-11.8 .2-.8 .2-.3 .2 1.3 .2 2.5 .2-.4 .2-.3 .2 10.8 .2-1.7 .2-10.7 .2 9.5 .2-8 .2 1.1 .2-3.3 .2 12.4 .2-8.2 .2-3 .2 1.5 .2-2.8 .2 1 .2-1.4 .2 11.6 .2-10.8 .2 5.8 .2 .1 .2 6.6 .2 .1 .2-.3 .2 .6 .2 .6 .2 .6 .2-2.6 .2-18.2 .2 20.5 .2-1.4 .2-10.3 .2 10.7 .2 .6 .2-2.3 .2-7.8 .2 0 .2 8.4 .2 2.3 .2-1.9 .2 1 .2-12.9 .2 .6 .2 2.6 .2-4.1 .2-1.5 .2 12.9 .2 1.2 .2 1.9 .2-19.6 .2 1.5 .2-.9 .2-1.8 .2-.3 .2 .4 .2 1.4 .2 1.5 .2-1.7 .2 20.5 .2-3.4 .2-10 .2-1.2 .2 2 .2 .6 .2 .9 .2-1.3 .2-.3 .2-.1 .2 2 .2-3.6 .2-.6 .2 .2 .2 .9 .2 3.1 .2 8.3 .2 .7 .2-17.4 .2 15.8 .2-11.9 .2 10.3 .2-5.2 .2-.5 .2-.9 .2 8.1 .2-8.1 .2 .5 .2 1.5 .2 5 .2 1.2 .2-6.7 .2-1.2 .2 1.6 .2 4.6 .2 3.8 .2-1 .2 .2 .2 1.2 .2-1.8 .2-1.9 .2 1.5 .2-1 .2 5.4 .2-6.8 .2-1.7 .2-3 .2 3.2 .2-2.2 .2-1.6 .2 7.7 .2-5.5 .2 9.1 .2 .4 .2 .7 .2-10.2 .2 .6 .2-.4 .2-.5 .2-1.2 .2 7.6 .2 .7 .2-13 .2 .6 .2 10.5 .2 2.1 .2-.4 .2 .4 .2-.1 .2 .8 .2-3.4 .2 1.4 .2 .9 .2 3.2 .2-5.9 .2 2.5 .2-2.9 .2-3.6 .2-2.9 .2 .9 .2 9 .2-.1 .2 1.1 .2 .5 .2 .1 .2-4.3 .2 .2 .2-4.8 .2 .2 .2 7.9 .2-2.9 .2-6.4 .2-.8 .2 9.7 .2-1.5 .2 4.1 .2-3 .2-.7 .2-10.9 .2 2 .2 8.6 .2-7 .2 2.6 .2-.2 .2 4.9 .2 1.5 .2 .7 .2-11.4 .2 4 .2-5 .2 .4 .2-2.4 .2 5.6 .2 8.8 .2-10.8 .2-3 .2 15.8 .2 .6 .2-8.6 .2-3.1 .2 4 .2-2.6 .2 1.3 .2 7.2 .2-3 .2 2 .2-.3 .2 .5 .2-.1 .2-1.1 .2-.5 .2 .2 .2-9.2 .2 4.5 .2 3.6 .2 .4 .2-1.5 .2 2.1 .2-1.2 .2 2.2 .2-1.9 .2 2.1 .2-1.3 .2 .8 .2-2.5 .2 2.4 .2-14.7 .2 2.4 .2 8.9 .2-6.4 .2 0 .2 10.8 .2-1 .2 .9 .2-.1 .2-2.6 .2 .8 .2-11.4 .2 5.9 .2 1.3 .2-5.1 .2 9.8 .2 .1 .2-1.4 .2 .3 .2 2.9 .2-2.3 .2 1.3 .2-1.7 .2-.3 .2 3.5 .2-4.1 .2 1.9 .2 .5 .2-11.2 .2 4.6 .2-5.8 .2 1.5 .2-2.2 .2 12.8 .2-4.4 .2 2.2 .2-.3 .2 3.2 .2-14.3 .2 3 .2-7.1 .2 17.4 .2-1.9 .2-8 .2 1.9 .2-1 .2 .3 .2 7.2 .2 .3 .2-10 .2 9.4 .2 1.4 .2 1 .2-.2 .2-2 .2-7 .2-.8 .2-.4 .2 2.4 .2-1 .2 9.5 .2-5.2 .2-3.2 .2 9.9 .2-2.3 .2-.9 .2 2 .2-1.3 .2-.7 .2 2.2 .2-8.8 .2 1.1 .2 1 .2-2.5 .2 7.4 .2-.5 .2-11.3 .2 2.2 .2-1.6 .2-.8 .2 2.8 .2-1 .2 10.3 .2-.1 .2 1.7 .2 .8 .2-10.9 .2-.9 .2 .6 .2 6 .2-1.6 .2 5.3 .2-4.9 .2-1.5 .2 2.1 .2 1 .2-4.2 .2 2.5 .2 2.4 .2-1.4 .2 3.1 .2 .6 .2-.2 .2-.4 .2-6 .2 7.4 .2-3.3 .2-.4 .2 2.4 .2 1.7 .2 .4 .2-12.3 .2 9.1 .2 3.7 .2-.9 .2-1.2 .2-11.9 .2 .4 .2 9.9 .2 6 .2-5.7 .2-.8 .2 1.4 .2 1.9 .2-2.1 .2-2.4 .2 4.5 .2-2 .2-2.8 .2-2.7 .2 1.7 .2 1.8 .2 3.6 .2-10.1 .2-2.3 .2 12.1 .2-6.3 .2-1.3 .2 2.9 .2-1.4 .2 2.7 .2 .5 .2 3.8 .2-1.2 .2-1.6 .2 2.3 .2-2 .2 .3 .2 1.3 .2 .5 .2 2 .2-.7 .2-2 .2-12.1 .2 12.3 .2-.6 .2-4 .2-1.5 .2 4.3 .2-.6 .2 3.4 .2 .7 .2-2.2 .2-11.2 .2 1.3 .2 .9 .2-1.1 .2 8 .2 .4 .2 3.9 .2-4.1 .2 3.3 .2-3.1 .2-.9 .2 1.2 .2 3.1 .2 1.5 .2-3.9 .2-2.3 .2 6.9 .2-2.1 .2 1.1 .2-4.6 .2 3.5 .2-3.1 .2 4.1 .2-2.8 .2-.8 .2-.7 .2 3.6 .2-3.2 .2-.3 .2 1.2 .2 .1 .2-1.2 .2 4.3 .2-.8 .2-.1 .2-5.3 .2 .4 .2 .4 .2 2.5 .2 .1 .2 2 .2-2.2 .2 4.2 .2-4 .2 2.9 .2-3.9 .2-1.1 .2 2.5 .2 .5 .2-.5 .2 .7 .2 .3 .2-.9 .2-.9 .2 2.6 .2-2.9 .2 .6 .2-.1 .2-2.5 .2 2.9 .2-1.7 .2 1 .2-.1 .2 1.1 .2 2 .2-.8 .2-1.2 .2 1.6 .2-4.5 .2 3.8 .2 1.4 .2-4.6 .2 3.1 .2-2.9 .2 .9 .2 .8 .2-.1 .2-.3 .2-2.3 .2 1.7 .2 2.2 .2-1.3 .2 .5 .2-3.9 .2 2.1 .2 4 .2 0 .2-2.7 .2-2.4 .2 2 .2 2.4 .2-2.1 .2 1.4 .2-3.8 .2 2.9 .2 .5 .2-2 .2-.2 .2 3.4 .2-2.6 .2-.1 .2-.1 .2 .6 .2-2.2 .2 1.4 .2 3.5 .2-3.3 .2 2.2 .2-1.1 .2-.7 .2 1.4 .2 .1 .2 0 .2-2.2 .2 1 .2 1.3 .2-2.2 .2 4.5 .2-6.4 .2 1 .2 0 .2 2.7 .2-1.7 .2 2.3 .2-2.2 .2-.4 .2 0 .2 1.4 .2 2.2 .2-3.1 .2 1.1 .2-1.6 .2 .5 .2 1.5 .2 .4 .2-2.7 .2 .3 .2 3.6 .2-4.9 .2 3.2 .2-2.3 .2 2.6 .2 1.8 .2-4.2 .2 2.2 .2-2.9 .2 2.8 .2 0 .2-.7 .2 1.1 .2-.8 .2 .4 .2-.8 .2-4.6 .2 2.1 .2 3 .2 .4 .2-.7 .2 2.2 .2-2.7 .2-.5 .2 .2 .2 2.9 .2-.8 .2 2.5 .2-2.2 .2 .9 .2-3.7 .2 3.6 .2-3 .2 1.2 .2-.4 .2 .3 .2-.5 .2-.3 .2-1 .2 1.4 .2 2.2 .2-.8 .2-2.7 .2 4.3 .2-3.3 .2-2.5 .2 .9 .2-1.7 .2 4.8 .2-1.2 .2-.8 .2 1 .2-.2 .2 2.9 .2-4.5 .2 1.5 .2-.3 .2 3 .2-4.5 .2 2.3 .2 .6 .2-2.2 .2 1 .2-.8 .2 3.4 .2-3.7 .2 3.4 .2-2.7 .2-1.7 .2 2.5 .2-2.2 .2 .2 .2 3 .2-.2 .2 2.1 .2-3.3 .2-.4 .2-.7 .2 2.9 .2-2.7 .2 .8 .2 .5 .2-3.5 .2 2.9 .2 .6 .2 .6 .2-2.3 .2 2.1 .2-5.1 .2 3.6 .2 1.2 .2 1.1 .2 1.2 .2-1.6 .2-1.3 .2 1.4 .2 1.7 .2-2.4 .2 1 .2 .5 .2-4 .2 1.3 .2 .8 .2-2 .2 1.4 .2 2.8 .2-1.9 .2-.6 .2-.5 .2 1.4 .2-.9 .2-1.6 .2 2.6 .2-3.2 .2 .7 .2 3.8 .2-2.2 .2 1.2 .2-1.5 .2-2.1 .2 2.4 .2-3 .2 7.1 .2-6.7 .2 3.4 .2-1.2 .2-1.8 .2 3.7 .2-2 .2-1.2 .2-2.6 .2 3.7 .2 3.7 .2-.7 .2-5.1 .2 4.7 .2-1.6 .2 .3 .2 1.2 .2-4.1 .2 1 .2 4.2 .2-3.7 .2 .1 .2-1.8 .2 2.1 .2 1.7 .2 1.7 .2-1.8 .2-1.3 .2-.5 .2 2 .2-1.6 .2-.4 .2-2.9 .2 2 .2 1 .2 0 .2 .1 .2 2.2 .2-5.8 .2 4.5 .2-.9 .2-2.8 .2 3.6 .2-.7 .2-3 .2 3.3 .2 .6 .2-1.3 .2 1.6 .2-2.2 .2 1.3 .2-.2 .2 1 .2-2.9 .2 6.1 .2-6.6 .2 5.1 .2-2.3 .2-.2 .2 1.7 .2-3.2 .2-1.2 .2 4.4 .2 1.6 .2 1.1 .2-3.3 .2-5.6 .2 5.3 .2 .6 .2-.8 .2 .6 .2 .5 .2-.5 .2-1.4 .2-2.1 .2 1.2 .2 2.3 .2 1 .2 .4 .2-1.7 .2-2.5 .2 2.8 .2-3 .2 3.1 .2-2.8 .2 3 .2-.2 .2-2.2 .2 1.9 .2 .1 .2-1.6 .2 .9 .2-.4 .2-2.8 .2 2.1 .2 5.1 .2-3.4 .2-4 .2 3.9 .2 .3 .2-.7 .2 .9 .2 .7 .2 1.6 .2-1.1 .2-2.1 .2-3.4 .2 0 .2 4.3 .2-.8 .2-.6 .2 2.5 .2-4.4 .2-.1 .2 .7 .2 1.6 .2-2.1 .2 1.9 .2-.6 .2 .3 .2-.2 .2-2.3 .2 3.8 .2 .5 .2-4.7 .2 2.2 .2 1.7 .2-.4 .2-3.2 .2 2.8 .2-1.3 .2 3.6 .2-1 .2 1.3 .2-3.9 .2 2.4 .2-2.3 .2 2.5 .2-1.4 .2-1.6 .2 .6 .2 1 .2 1.7 .2-3.9 .2 6.8 .2-3.6 .2-.4 .2 .3 .2-1.3 .2 .6 .2 2.5 .2-4.9 .2 3.1 .2 1.1 .2 .5 .2-5 .2 3.4 .2-3.8 .2 2.2 .2 1.2 .2-.1 .2-.6 .2 1.6 .2 .5 .2-1.2 .2-1.8 .2 .7 .2 1.3 .2 .6 .2-.9 .2-2.4 .2 1.3 .2 1.2 .2-2.8 .2 1.9 .2-.3 .2 2.4 .2 .3 .2-3.7 .2 4.3 .2 .3 .2-3.7 .2 .5 .2-.8 .2-.2 .2-1.4 .2-2.1 .2 5 .2 2.6 .2-5 .2 3.2 .2-2.2 .2 1.3 .2-.6 .2 1.2 .2 0 .2 .2 .2 .3 .2 .9 .2-4.2 .2 .9 .2 2.9 .2-3.5 .2 3.4 .2-1.5 .2 1.8 .2-1.6 .2-.6 .2 .3 .2-2.9 .2 3.7 .2-.6 .2 1.6 .2-.9 .2-2.6 .2 1.7 .2 .9 .2-.8 .2 1.6 .2-1.5 .2 .2 .2-2.8 .2 3.8 .2 .8 .2-3.2 .2-.6 .2 1.2 .2 3.8 .2 0 .2-2.9 .2-2 .2 .5 .2-.9 .2 .5 .2 2.6 .2-.5 .2-1.3" fill="none" stroke="#ff0000" stroke-width="1.1" stroke-linejoin="bevel"/>
<path d="M14.4 725.7l.2 2.4 .2-.9 .2 2.7 .2-.6 .2-1.5 .2-.8 .2 2.1 .2-1.5 .2-.7 .2 4 .2-1.9 .2 1.9 .2-1.9 .2-.1 .2-.2 .2-.5 .2-.4 .2 3.4 .2-3.8 .2 .9 .2 1.7 .2 1.3 .2 .2 .2-4.2 .2 2 .2-.6 .2-2.1 .2 2.3 .2-2.8 .2 .4 .2 .9 .2 3.8 .2-5.5 .2 4.9 .2-7.7 .2 5.8 .2-.9 .2 1 .2-.5 .2-1.3 .2 .7 .2-.2 .2-.4 .2-.5 .2 4.3 .2-2.9 .2 3.2 .2-3.6 .2 .3 .2-.4 .2-.1 .2-.2 .2 1.2 .2-.1 .2-.3 .2-3 .2 7.1 .2-4 .2 .4 .2 1.1 .2-.6 .2-5.5 .2 3.6 .2 1.2 .2-1.2 .2 3.4 .2-1 .2-3.6 .2 2.8 .2 1.8 .2-2.5 .2-2.8 .2 3.9 .2-1.7 .2-2.3 .2 1.8 .2 .8 .2 .3 .2 1.4 .2-.5 .2-3 .2 2.2 .2 1.4 .2-2.4 .2 .3 .2 .3 .2-.5 .2-1.3 .2 2.8 .2-.1 .2 .4 .2-1.3 .2-.9 .2 2 .2-.3 .2-.8 .2 2.5 .2-.5 .2-4.2 .2 2.2 .2-.2 .2 3.1 .2-4.3 .2 1.2 .2 .7 .2 3.4 .2-6.1 .2 .3 .2 .2 .2-1 .2 .4 .2 1.2 .2-.1 .2 1.2 .2-.8 .2-1.6 .2 3.7 .2 .2 .2-3 .2 4.4 .2-4 .2 2.2 .2-2.6 .2 .8 .2 1.9 .2-.5 .2 1.7 .2-1.2 .2-1.5 .2 3.6 .2-4 .2-.2 .2 2.4 .2-1.2 .2-.6 .2 1 .2-2.3 .2 3.6 .2-2 .2 0 .2 1.6 .2-3.9 .2 4.1 .2-.8 .2 .5 .2 1.1 .2-2.4 .2 .9 .2 2.2 .2-1.8 .2-1.7 .2-1.3 .2 1.8 .2 2.1 .2-1.3 .2 .8 .2 .2 .2-1.9 .2-3.1 .2 1.4 .2 4.4 .2-3.8 .2 3 .2-.2 .2-2.2 .2-1.4 .2 4.8 .2-2.5 .2 2.4 .2-2.6 .2-1.5 .2 1.6 .2 .4 .2-.1 .2 2 .2-1.4 .2-1.6 .2-.5 .2-.3 .2 3.9 .2-2.2 .2 2.1 .2-1.1 .2 .6 .2 0 .2-3 .2-.6 .2 .7 .2-.3 .2 1.2 .2-.9 .2 .7 .2 3.8 .2-3.9 .2 1.9 .2-3.3 .2 .1 .2 6.3 .2-2.1 .2-1.6 .2-1.5 .2-.9 .2 .9 .2 4.7 .2-5.1 .2-.4 .2 1 .2 .5 .2 .2 .2-.5 .2-.7 .2 .6 .2 5.2 .2-3.2 .2-4.1 .2 5.4 .2-.3 .2-1.1 .2-.6 .2 2.9 .2-6.2 .2 2.4 .2-1.2 .2 3.8 .2-4.1 .2 3.1 .2-3.9 .2 4.9 .2-3 .2-1.2 .2 0 .2 .7 .2 .6 .2 .7 .2-2.3 .2 4.8 .2-1.9 .2-2.1 .2 2.7 .2 .7 .2-1.4 .2-3.3 .2 2.6 .2-.7 .2-1.9 .2 2.7 .2-1.8 .2 .5 .2 2 .2-4.2 .2 4.5 .2-3 .2 4.2 .2-3.2 .2-1.5 .2 6.8 .2 .2 .2-8.5 .2 4.9 .2-5.5 .2 5 .2-1.5 .2 .8 .2-.2 .2-.7 .2-1.3 .2 2.5 .2 .9 .2-1.9 .2 3.1 .2-3.7 .2 2.7 .2 .8 .2-4.3 .2 3.1 .2-2.1 .2 .3 .2 5.6 .2-3.5 .2-1.2 .2-2.1 .2 2.8 .2-1.3 .2 .5 .2-.1 .2 4.5 .2-2.9 .2-.8 .2 .5 .2-2.8 .2 3.1 .2-1.2 .2-1.8 .2 3.2 .2-5.7 .2 3.7 .2-.7 .2-1.1 .2 1.1 .2 .7 .2 1.7 .2 .5 .2-.7 .2 1.3 .2-6.3 .2 1.2 .2 3.1 .2-2.4 .2 1.8 .2 1.2 .2 1.8 .2-1.6 .2-.3 .2-.4 .2-2 .2 .5 .2-1.4 .2 2.2 .2 .4 .2-2.2 .2 3 .2-2.6 .2 4.2 .2-2.7 .2-1.4 .2 2.7 .2 1.2 .2-2.1 .2-.5 .2-1.8 .2 .1 .2-.9 .2 2.1 .2 3.8 .2-3.7 .2-2.3 .2 3.3 .2-.5 .2 1.8 .2-.8 .2-4 .2 3.3 .2-.1 .2-1.8 .2 3.8 .2-2.2 .2-1 .2 .7 .2 1.6 .2 .9 .2-1.3 .2-.9 .2 1 .2-2.7 .2 1.4 .2-.6 .2 0 .2 4.5 .2-2.3 .2-1.3 .2-3.3 .2 5.1 .2-1.5 .2-1.2 .2 0 .2 1.5 .2-4 .2 1.6 .2 2.9 .2-1.9 .2-.2 .2-.4 .2 4.2 .2-3.8 .2 1.5 .2 1.1 .2-2.2 .2-.5 .2 5.2 .2-2.7 .2 .5 .2-2.6 .2 5.9 .2-3.7 .2-2.9 .2-1.1 .2 4.9 .2-4 .2 4.2 .2-5.4 .2 2.2 .2 3.6 .2-3.4 .2 2 .2-1.3 .2 2.1 .2-1.8 .2-.1 .2 1.9 .2-2.3 .2 1.2 .2 3.7 .2-4.7 .2 2.3 .2-3.1 .2-.6 .2 1.2 .2 2.1 .2 .3 .2-1 .2-1.7 .2 1.7 .2-1.1 .2 3.4 .2-2 .2-.8 .2-.4 .2-.8 .2 .9 .2 3.2 .2-5.7 .2 3.3 .2 .1 .2-3.3 .2 3.7 .2-.3 .2-3.9 .2 4.5 .2-2.4 .2-.4 .2-.7 .2 1.6 .2 2.1 .2-8.2 .2 8.4 .2 1.3 .2-1.7 .2-3.5 .2 2.3 .2-1.7 .2-1.8 .2-2.5 .2-4 .2 3.6 .2 3.4 .2-.7 .2 2.1 .2-.5 .2 3.3 .2-.1 .2 1.7 .2-3.4 .2-1 .2 .6 .2 1.9 .2-1.9 .2 2.3 .2-2.8 .2-.4 .2 3.3 .2-7.5 .2-.3 .2 5.3 .2-.4 .2 .9 .2-2.2 .2 1.3 .2-1.3 .2 2.3 .2-2.4 .2-1.2 .2-.7 .2 1.9 .2 .6 .2-1.4 .2 7.1 .2-4.8 .2 3.2 .2-2.2 .2-1 .2-1.9 .2 0 .2 2.8 .2-.5 .2-.2 .2-5.3 .2 3.3 .2 2.2 .2 .7 .2-.8 .2-3.6 .2 4.3 .2-.9 .2-7 .2 6.6 .2 1.6 .2-1.9 .2 .4 .2-.3 .2-6.3 .2 5 .2 6 .2-2.1 .2-5.1 .2 6.4 .2-3.9 .2 1.1 .2-1.5 .2 1.8 .2-2.9 .2 3.9 .2-.9 .2-2 .2 .7 .2-1.4 .2 1.7 .2-.3 .2-7.2 .2-.6 .2 8 .2-.5 .2 .5 .2-1.1 .2 3.9 .2-3.5 .2 3 .2-2 .2 1.3 .2-5 .2 .3 .2 .2 .2 2.3 .2-.4 .2 3 .2-.4 .2-3.2 .2 2.9 .2 .4 .2-2.5 .2 .5 .2 .2 .2 .3 .2 1.2 .2 .1 .2-2.3 .2-5.7 .2 .4 .2 6.4 .2-2.7 .2 .6 .2 .8 .2 .5 .2 2 .2-2.8 .2 5.8 .2-6.3 .2 2.1 .2-.1 .2-2 .2 3.6 .2-1.1 .2-1.6 .2 .3 .2-1.6 .2-8.2 .2-1.7 .2 10.5 .2 2.8 .2-5 .2 4.1 .2 .2 .2-.9 .2 .8 .2-8.2 .2 9.2 .2-12.7 .2 12.5 .2-2.4 .2-.1 .2 1.7 .2-1.7 .2 2.2 .2-.2 .2 .1 .2-2.8 .2-6 .2 1 .2 .3 .2 1.5 .2-1.3 .2-4.3 .2 10.2 .2-7.2 .2-2.6 .2 1.4 .2 6.4 .2 1.4 .2 3.4 .2-13.4 .2-1.8 .2-.9 .2 1.7 .2 15.7 .2-4.7 .2 .3 .2 5.5 .2-4 .2-7.2 .2 6.1 .2-1.8 .2 3.7 .2-1.7 .2-8.5 .2 6.2 .2 1 .2-.6 .2 2.4 .2-4.1 .2 6 .2-.6 .2-5.6 .2 1.7 .2 2.2 .2 1 .2 .6 .2-13 .2 .3 .2-2.1 .2 13.9 .2-2.4 .2-12.3 .2-.7 .2 1.6 .2 2.5 .2-1.8 .2-2.8 .2 3.9 .2-.2 .2-4.1 .2 1.2 .2 16 .2-8.6 .2 .4 .2 2.6 .2 5.4 .2 .8 .2-3.9 .2 4.8 .2-7.3 .2 4.7 .2-7.5 .2 5.5 .2-1.2 .2 2.4 .2 1.3 .2-2.7 .2 2.2 .2 0 .2-1.4 .2-.5 .2 3.5 .2-14.8 .2 3.4 .2-3.2 .2 1.1 .2 .4 .2 2.2 .2-3.1 .2 2.2 .2-2.4 .2 3.5 .2-4.1 .2 3.5 .2 .1 .2 6.7 .2 4.2 .2-10.8 .2 7.4 .2-.5 .2 .3 .2 1.1 .2 1.8 .2 2.2 .2-3.3 .2-14.4 .2 3.6 .2 7.7 .2 3.6 .2-13.4 .2 11.2 .2-1.2 .2 4 .2-1.2 .2-.6 .2-3 .2 1.9 .2-.2 .2 3.4 .2 .6 .2-12 .2 12.2 .2-7.2 .2-2.9 .2 1 .2-3.2 .2 4.1 .2 .1 .2 3.2 .2 3.8 .2-14 .2-3 .2 3.2 .2 1.6 .2-2.4 .2 13.2 .2-12.7 .2-1.7 .2-.2 .2-1.9 .2 3.3 .2-.3 .2 2.8 .2-2.1 .2 12.2 .2-2.1 .2-1.2 .2-4.7 .2 .1 .2 1.6 .2-.8 .2 0 .2 2.1 .2-1.5 .2 .1 .2-.3 .2 .4 .2 6.4 .2 3 .2-2.6 .2 .9 .2 1.2 .2-14.7 .2-.6 .2 2.2 .2 1.3 .2 .7 .2-3.1 .2 3 .2-3.4 .2 .1 .2 13.1 .2-14 .2-1.4 .2 .9 .2 5.7 .2-4 .2 .2 .2-3 .2 1.2 .2 .3 .2 .6 .2 .9 .2-3.6 .2 15.6 .2-10.9 .2 .1 .2-7.1 .2 19.3 .2-2.7 .2-.5 .2 3.8 .2 .3 .2-3.6 .2 .7 .2-1.2 .2 .3 .2 .2 .2-2.5 .2-7.2 .2 3 .2 6 .2-4.2 .2 .5 .2 0 .2 4.9 .2 1 .2 .3 .2-.5 .2 .4 .2-6 .2 .9 .2 3.8 .2-1.6 .2 4.2 .2-3.8 .2-8 .2 2.4 .2 5.7 .2 .8 .2 2.1 .2-.8 .2-8.5 .2-1.4 .2 7.3 .2 4.5 .2-.9 .2-4.4 .2-3.9 .2 .7 .2 9.3 .2-3.3 .2-7.5 .2 1.6 .2 6.6 .2-1 .2-8.6 .2-.1 .2 .7 .2-1.8 .2 1 .2 10.6 .2-3.1 .2-.4 .2-6.3 .2-7.5 .2 6.1 .2 8 .2 2.9 .2 .2 .2-8.8 .2 1.3 .2-.2 .2 .2 .2 .9 .2 .3 .2-.2 .2-.7 .2 6.9 .2 1.5 .2-3.6 .2-1.2 .2-2 .2-1.4 .2 .8 .2-.6 .2-4.5 .2 2.9 .2 5.1 .2-7.3 .2 .1 .2 12.8 .2-1 .2-.6 .2 .3 .2-2.2 .2 .7 .2 1.5 .2 1 .2-15.9 .2-.7 .2 1.8 .2 13.7 .2-2.7 .2-1.7 .2 1.8 .2 1.7 .2-5.1 .2-.5 .2 2.6 .2-6.3 .2 1.8 .2 2.3 .2 1.5 .2-.1 .2 7 .2-4.2 .2-.7 .2-.4 .2 3 .2-4.9 .2-5.2 .2 11.6 .2-12.1 .2 10.4 .2 .1 .2-1.5 .2-8.5 .2 1.7 .2 3.8 .2 2.2 .2 3.9 .2-2.4 .2-1.7 .2-.6 .2 .5 .2-2.5 .2-8.5 .2-1.1 .2 13.1 .2 .5 .2-13.8 .2 4.3 .2 8.6 .2-3 .2 5.1 .2-2.1 .2-2.2 .2 3.8 .2-1.3 .2 .8 .2-15.8 .2 1.7 .2 .4 .2-1 .2 14.1 .2 .6 .2 .2 .2 .7 .2-1.7 .2-.9 .2-.1 .2-.2 .2 .7 .2-10.5 .2-3.1 .2 4 .2-3.7 .2-.5 .2 13.9 .2-1.2 .2-.9 .2 .6 .2-6.7 .2 10.7 .2-5.7 .2 5.4 .2-1.8 .2 .1 .2-9.3 .2 11 .2-10.2 .2-1.3 .2-2.6 .2 3.9 .2-4.8 .2 4 .2-2.4 .2 8.9 .2 3.6 .2-6.4 .2 3.7 .2 2.5 .2-1.8 .2 1.8 .2-2.7 .2 2.7 .2-10.3 .2-3 .2 4.5 .2-5 .2 14 .2-2.3 .2-6.6 .2-.9 .2 1.6 .2-.2 .2-1 .2 2.1 .2 .2 .2-1.4 .2 8 .2-3.2 .2 2.8 .2-12.2 .2 4.5 .2-6.3 .2 2.2 .2-1.7 .2 14.7 .2-1.2 .2-8.4 .2 8.4 .2-3.7 .2 1.9 .2 .7 .2-.8 .2-17.9 .2 23.3 .2-5.8 .2-12.7 .2-1.4 .2-.3 .2 2.9 .2-2.7 .2 13.4 .2-15.6 .2-1.5 .2 4.1 .2-1.9 .2 16.9 .2 .9 .2-17.7 .2-3.2 .2 1.5 .2-.7 .2 1.3 .2-.8 .2 2.6 .2 14.7 .2-3.9 .2-2.4 .2-1 .2 1.7 .2 .7 .2-1.5 .2-1.2 .2 1 .2 3.2 .2-1.2 .2 1.2 .2-14.7 .2 1.5 .2-.4 .2 1.7 .2 17.3 .2-20.2 .2 19.5 .2-17.4 .2 3.8 .2-2 .2-1.5 .2-.6 .2 1.1 .2 1.3 .2 .1 .2-.8 .2 2.9 .2-3.5 .2 3.1 .2 1 .2 13.8 .2-2.7 .2-12.8 .2-3.2 .2 17.7 .2-10.8 .2 .9 .2 2.3 .2 7.1 .2 4.3 .2-3.6 .2-14.5 .2 2.3 .2 10.5 .2 1.8 .2 3.5 .2-7.7 .2-5.1 .2 .3 .2-.3 .2 1.8 .2-.3 .2 8.3 .2-3 .2-7.9 .2-1.3 .2-.5 .2 3.7 .2 7.5 .2-9.8 .2-5.4 .2 16.8 .2-15.7 .2 2.2 .2 1.5 .2-.1 .2 13.4 .2-16 .2 .1 .2 15.6 .2-3.4 .2-14.4 .2 1.6 .2-.3 .2 3.1 .2 .3 .2-1.8 .2-.7 .2 2.5 .2 .6 .2-1.2 .2 1 .2-3.2 .2 .2 .2 3.8 .2 9.5 .2 3.6 .2 1.9 .2-4.1 .2 1.6 .2-1.3 .2-.2 .2-.8 .2 2.1 .2-10.1 .2 8.8 .2-22.1 .2 2.7 .2 18.5 .2-19 .2-1.2 .2 20 .2-9.3 .2-2.7 .2-2.7 .2 .1 .2 3 .2 13.2 .2-17.1 .2 17 .2-1.5 .2 1.8 .2-9.1 .2-3.7 .2 13.9 .2-14.9 .2-3.5 .2 2.5 .2 .1 .2-1.9 .2 .8 .2 2.6 .2-2.6 .2 .9 .2-.5 .2-.6 .2 .6 .2 14.9 .2-13.4 .2 11 .2 3 .2-2.1 .2-1.8 .2-10.2 .2 1.4 .2 11.1 .2-13.4 .2-.4 .2-1.7 .2 1.6 .2-2.3 .2 16.9 .2-2.7 .2 2 .2 .4 .2 1.5 .2-2.1 .2 .1 .2-6.5 .2 6.5 .2-17.2 .2-.3 .2-3.2 .2 20.3 .2-13.9 .2 .9 .2-2.4 .2 1.7 .2-3.7 .2 1.5 .2 17.2 .2-1.6 .2-16.2 .2 15.5 .2 3.9 .2-9.2 .2 .1 .2 1.2 .2-2.8 .2 9.9 .2-4.1 .2 1.7 .2 2.5 .2-5 .2-16.9 .2 2.4 .2 2.1 .2-.3 .2 0 .2-2.5 .2 .9 .2 .4 .2 1.4 .2-.9 .2-1 .2-.6 .2 2.1 .2-.6 .2-1.6 .2 1.8 .2-1 .2 3.5 .2-4.7 .2 .7 .2 1 .2-2.3 .2 .5 .2-.6 .2 1 .2 18.2 .2 4.5 .2-1.3 .2-4.9 .2-9.1 .2 3.7 .2-2.9 .2 1.5 .2-.5 .2 12.4 .2 .3 .2-1 .2-13.8 .2 .2 .2 0 .2-.3 .2 9.1 .2-5.9 .2 6.2 .2 2.8 .2-7.5 .2 .1 .2-2.8 .2 3.3 .2-3.9 .2 3 .2-.7 .2-.1 .2 1.7 .2 .3 .2 5.3 .2 1.2 .2 .1 .2 1 .2-4.1 .2 .6 .2 6.5 .2-9 .2 5 .2-5.1 .2 4.8 .2-10 .2 1.3 .2 8.7 .2-.8 .2-11.9 .2 .1 .2 6.1 .2-3.7 .2-3.5 .2 1.2 .2 1.2 .2-1.4 .2 2 .2 2.5 .2 4.3 .2 5.9 .2-1.9 .2-12.8 .2 1.1 .2-3.1 .2 2.1 .2 5 .2-4.8 .2 8.6 .2 4.3 .2 1.7 .2 .3 .2-16.2 .2 1.2 .2 .9 .2 1.2 .2 8.4 .2 2.9 .2 .8 .2-2.3 .2 1.1 .2 1.8 .2-9.8 .2 2.4 .2-2.8 .2 .9 .2 6.6 .2-.4 .2 1.2 .2-7.4 .2-.5 .2 .3 .2 7.9 .2-3.1 .2 .2 .2 1.6 .2 1.3 .2-12.2 .2 2.6 .2-1.8 .2 .4 .2 1.4 .2 8.6 .2-.8 .2 1.8 .2-.7 .2-1.5 .2-9.7 .2 6.7 .2-3.5 .2 7.8 .2 .4 .2-3.2 .2 4 .2 .4 .2-2.7 .2 1 .2 3.8 .2-11.5 .2 0 .2 7.5 .2-.1 .2-1.4 .2 1.9 .2-1.1 .2-7.2 .2 10.2 .2 .9 .2-7 .2-3.7 .2-.4 .2 3.3 .2 6.6 .2-7.3 .2 3.5 .2 4 .2-.7 .2-2.6 .2 2.3 .2-1.6 .2 1.1 .2-6.2 .2-1.5 .2 7.6 .2-8.4 .2 2 .2 6.4 .2-.6 .2-4.9 .2 .4 .2-2.2 .2 4.9 .2 1.5 .2 1.6 .2-15 .2 1.3 .2 4 .2 .6 .2 8 .2 1.7 .2-3.4 .2 5.2 .2-3 .2-6.9 .2-2 .2 8.3 .2-2.5 .2 2.2 .2 5.9 .2-14.6 .2 .4 .2-1.3 .2 .2 .2 1.6 .2-3.1 .2 10.6 .2 2.1 .2-7.8 .2-1.3 .2 1.2 .2 .2 .2 6.6 .2 .5 .2-6.9 .2-.7 .2 .1 .2 .8 .2 3.8 .2 2.2 .2 .8 .2 .3 .2 .5 .2-2 .2 2.5 .2 .2 .2-1.6 .2-1.7 .2 1.1 .2 .2 .2 2.3 .2-2.5 .2-10.6 .2-2.1 .2 15.8 .2-3.4 .2 .4 .2 1.9 .2-.9 .2-4 .2 3.6 .2-6.8 .2-6.1 .2 4.5 .2 5.8 .2 1.4 .2-1.8 .2 5.2 .2 .1 .2-.3 .2 4.1 .2-5.9 .2 .5 .2 1.7 .2-4 .2 2.5 .2-2.5 .2 4 .2 0 .2-1.1 .2-2.1 .2-1.9 .2 2 .2 2.9 .2-3.4 .2 1.9 .2-.8 .2 3.3 .2-4.2 .2 3.8 .2-3.8 .2 1 .2 2.1 .2-1.8 .2-2.1 .2 1.6 .2 .9 .2-.4 .2 1.5 .2-.5 .2-.6 .2 1 .2-2.8 .2 1 .2-2.6 .2 1.7 .2 .6 .2-1.9 .2 3.1 .2 3.9 .2-.9 .2-2.8 .2 1.3 .2-2.9 .2 2.5 .2-1.7 .2 1.5 .2-2 .2 2.8 .2 .1 .2 .6 .2-3 .2-.6 .2 3 .2-1.3 .2 1 .2 1.3 .2-4.3 .2 2.3 .2-1.1 .2 .1 .2 1.2 .2 .4 .2 1.5 .2-.6 .2 1.3 .2-2.6 .2-4.1 .2 3.7 .2-2.4 .2 2.1 .2 .4 .2-.6 .2 3.4 .2-4.7 .2 0 .2 2.1 .2 0 .2 .7 .2-1.5 .2 .5 .2 .8 .2-.8 .2 .2 .2-1.6 .2-2.9 .2 3.4 .2 1.5 .2-2.9 .2 .6 .2 3.5 .2-1 .2-.5 .2-1 .2-.6 .2 1.2 .2-3.3 .2 2 .2 4 .2-1.7 .2-3.1 .2 2.6 .2 .5 .2-2.2 .2 1.7 .2-3.2 .2 1.5 .2-.1 .2 3.4 .2-2.8 .2-.6 .2-.2 .2 1.1 .2 3.1 .2-1.9 .2-1.3 .2 .1 .2 2.2 .2-5.4 .2-2 .2 4.6 .2-.7 .2 1 .2 1 .2-3.5 .2 4.5 .2-1.8 .2-2.3 .2 2.8 .2-1 .2 1.9 .2-4.3 .2 .8 .2 6.3 .2-5.3 .2 1.9 .2 1.6 .2 .9 .2-1 .2-3.3 .2 2.1 .2 .2 .2 1.3 .2-.7 .2-2.8 .2-.6 .2 4.4 .2-4.7 .2 3.2 .2 .2 .2-3.3 .2 1.6 .2-1.1 .2 4.3 .2-4.3 .2 2.7 .2-1.4 .2 2.6 .2-1.2 .2 .3 .2-1 .2 2.3 .2-3.7 .2 2.8 .2-1 .2-.4 .2-.2 .2-3.6 .2 5.2 .2-.7 .2 2 .2-2.3 .2-2.1 .2 2.9 .2-3.5 .2 .6 .2 1.9 .2-2.7 .2 4.6 .2-1.6 .2-1.5 .2-1.3 .2 4.2 .2-2.2 .2 3.9 .2-5.2 .2 .9 .2-.9 .2-.7 .2 1.8 .2-.1 .2 4.2 .2-4.6 .2 1.6 .2-.8 .2-2.4 .2 1.3 .2 4.1 .2-1.8 .2 .2 .2-3.3 .2 4.4 .2-2.7 .2-1.6 .2 .4 .2 1.1 .2 .6 .2 .1 .2 1.7 .2-1.1 .2-3.5 .2 3.5 .2-5.6 .2 5 .2-.7 .2-1.3 .2 3.6 .2-2 .2 .1 .2-1.8 .2 2.5 .2-2.3 .2-1 .2 1.6 .2 2.1 .2-2.4 .2 4.2 .2-3.7 .2 2.3 .2-.7 .2 1.2 .2-3.1 .2 2.2 .2 .8 .2-4 .2 .6 .2-1.9 .2 2.5 .2-1.1 .2 3.6 .2-4.9 .2 1 .2-1.3 .2 .6 .2 3.8 .2-2.8 .2 .7 .2 3.2 .2-.9 .2-.8 .2 .2 .2-.6 .2 3.8 .2-2.3 .2-.6 .2 .7 .2 .4 .2-1.5 .2-.6 .2-1.4 .2 2.4 .2-2.1 .2 4.1 .2-3.4 .2 .4 .2-.2 .2-2.8 .2 .3 .2 4.3 .2-1 .2 .3 .2-3.8 .2 3.3 .2-1.7 .2 2.7 .2-2 .2-.3 .2 .1 .2 1.4 .2 .5 .2-4.3 .2 2 .2-1 .2 .2 .2 2.7 .2-1.6 .2-4.1 .2 5 .2 .7 .2 3.8 .2-5 .2 .2 .2 5 .2-3.6 .2-1.9 .2 2.2 .2-1.8 .2-.4 .2-1.5 .2 5.6 .2-2.5 .2-1.6 .2-1.9 .2 1.1 .2-4.5 .2 8.9 .2-5.1 .2 2.3 .2 .6 .2 .5 .2-1.5 .2-.9 .2 3.2 .2 .8 .2-4.7 .2 2.5 .2 .1 .2-1.9 .2 1.8 .2-.1 .2-2.2 .2 1.5 .2-.3 .2-.2 .2 1.5 .2 .3 .2 1.8 .2-6.7 .2 2 .2 1 .2 1.1 .2 1.3 .2-5.3 .2 3.7 .2-3.8 .2 6 .2-2.2 .2-1.2 .2-.8 .2 .6 .2 1 .2 0 .2-1.5 .2 1 .2 2.8 .2-.2 .2-2.8 .2-.9 .2 .4 .2 4.2 .2-.3 .2-4.3 .2 1.5 .2 1.9 .2-1.8 .2-.1 .2-2.7 .2 3.3 .2 1.5 .2-2.4 .2-1.5 .2 2.9 .2 .5 .2-2.5 .2-1.7 .2 3.1 .2-2.4 .2 3.5 .2-.6 .2-1.4 .2 .8 .2-2.5 .2 1.4 .2-2.2 .2 5 .2-4 .2 .5 .2-.8 .2 2.3 .2 2.4 .2-1.6 .2-.9 .2 .7 .2 2.6 .2-4.5 .2 .7 .2 .2 .2 1.5 .2-1.8 .2 .6 .2 .6 .2 1.2 .2 .6 .2-3.5 .2 .3 .2 .1 .2 1.6 .2-.9 .2 1.1 .2 .5 .2-3.7 .2 3.3 .2-1.6 .2 1.4 .2-.8 .2-.5 .2 1.6 .2 .9 .2-2.8 .2 1.6 .2 1.4 .2-3.1 .2 2.3 .2-.1 .2-3.5 .2 .3 .2 1 .2 0 .2 3.4 .2-4.3 .2 4.1 .2-4 .2-.7 .2 1.5 .2-.8 .2 1.3 .2 .8 .2-2.6 .2 1.5 .2 2.5 .2-3 .2 4.7 .2-3.7 .2-1.5 .2 4.8 .2-4.8 .2 3 .2 .7 .2 .3 .2-2.5 .2-2.2 .2 4 .2-1.4 .2-2.6 .2 3 .2-2.1 .2 2.1 .2-.8 .2 1.8 .2-.8 .2-2.2 .2 3.3 .2-.1 .2 2.5 .2-3 .2-.8 .2 .7 .2-1.3 .2 1.4 .2-1.3 .2 2.6 .2-2.7 .2-1.6 .2 .9 .2 4.6 .2-1.4 .2-4 .2 1.9 .2-.2 .2 4.3" fill="none" stroke="#ff0000" stroke-width="1.1" stroke-linejoin="bevel"/>
<path d="M14.4 766.9l.2-1.6 .2-1.6 .2 1.3 .2 .3 .2 .5 .2 3.7 .2-.9 .2-2.4 .2 1 .2-2.1 .2-1 .2-.1 .2 1.3 .2-4.1 .2 2.6 .2 5.7 .2-6 .2 2.2 .2-.5 .2-1.3 .2 2.3 .2 .2 .2 .3 .2-1 .2-.9 .2-.1 .2 .4 .2 4 .2-7.5 .2 5.3 .2-2.6 .2 5 .2-1.9 .2-1.3 .2 3.5 .2-2.2 .2-2.9 .2 3.6 .2 .2 .2-1.5 .2 .2 .2-3.2 .2-1.5 .2 .7 .2 4.5 .2-.9 .2 .3 .2 .2 .2 1.5 .2-4 .2 1.3 .2-.7 .2 1.3 .2-1.8 .2 0 .2 3.8 .2-1.8 .2 .3 .2-1.1 .2 2.4 .2-2 .2-.6 .2-.8 .2 3.2 .2-2.6 .2-3.1 .2 2.6 .2 1.7 .2-2.5 .2 4.2 .2-1.3 .2-.9 .2 4.3 .2-3.9 .2-1.8 .2 2 .2 1.5 .2 .2 .2-1.9 .2-2 .2 4.4 .2-1.2 .2-1.4 .2 2.2 .2 1.5 .2-3.6 .2 2.9 .2-.6 .2-2.4 .2 .3 .2 .1 .2-1.7 .2 1 .2 0 .2 .4 .2-1.9 .2 1.1 .2-.2 .2 3 .2-1.9 .2-2.6 .2 3.3 .2-2.6 .2 1 .2 1.7 .2 .2 .2-2.3 .2 3.9 .2-2.6 .2-1.7 .2 3.2 .2 .3 .2-3.6 .2 .3 .2-.2 .2 3.4 .2-1.5 .2 1.5 .2-6.7 .2 3.3 .2 1.1 .2-1.4 .2 1.9 .2-2.2 .2 2.7 .2-.4 .2 1 .2 1 .2-3 .2 1.5 .2-2.6 .2 4.2 .2-5.5 .2 4.2 .2-2.6 .2 2.7 .2 1.7 .2-1.4 .2 1 .2-5.1 .2-.9 .2 3.7 .2-.6 .2-.8 .2-.2 .2 2.4 .2-.8 .2 2.5 .2-3.5 .2 .8 .2 2.2 .2-.2 .2-.8 .2-1.4 .2-1 .2 1.9 .2 1.8 .2-1 .2-1.2 .2 .5 .2 1.1 .2-1.9 .2 2 .2-1.6 .2 .5 .2 1.7 .2-4.1 .2 .7 .2 1.1 .2 .3 .2-1.8 .2 1.6 .2-1.5 .2-.1 .2 .9 .2 3 .2-2.8 .2 3.8 .2-2.5 .2-.3 .2 2.2 .2-2.5 .2-.8 .2-.7 .2-.7 .2 4.6 .2-1.9 .2-2.2 .2 3 .2 .2 .2 .8 .2 .6 .2-2 .2 0 .2-.9 .2 .2 .2 .6 .2-3 .2 1.7 .2 3.6 .2-4.8 .2 2.3 .2-4.1 .2 3.5 .2-1.9 .2 .7 .2-.8 .2-.6 .2 4.5 .2-2.9 .2 1.7 .2 1.1 .2-.1 .2 .1 .2-2.2 .2 1.4 .2-3.6 .2 3 .2 2.9 .2-4 .2 1.5 .2-5.4 .2 3.1 .2-3 .2 1.4 .2 .7 .2 2.3 .2-3.3 .2 4.6 .2-.1 .2 .2 .2-1.2 .2-3.5 .2-.2 .2 .4 .2 3.4 .2 .4 .2-5.1 .2 5.2 .2-2.3 .2-.9 .2 1.6 .2 1.5 .2 1.8 .2-.2 .2-3.7 .2-1.7 .2 3.4 .2-.1 .2 1.6 .2-.5 .2-2.1 .2-.3 .2 .8 .2-3.7 .2 4.4 .2-2.6 .2 .8 .2 3.3 .2-1.6 .2-2.1 .2 2.8 .2-3.6 .2 2 .2-2.8 .2 1.5 .2 .4 .2 0 .2 1.6 .2-3.4 .2 .4 .2 1.1 .2 .7 .2 2.9 .2-1.6 .2-4.6 .2 2.1 .2 2.5 .2 3.5 .2-5.2 .2 3.4 .2-.7 .2-.3 .2-6.6 .2 4.4 .2-.6 .2 2.4 .2-4.3 .2-4.4 .2 7.6 .2 1.9 .2-9.4 .2-1.9 .2 4.1 .2 4.2 .2-1.9 .2 2 .2-1.2 .2 1.2 .2-1.5 .2 3.8 .2-2.1 .2-.8 .2 .3 .2-1.5 .2 4.3 .2-5.2 .2 4.7 .2-1.8 .2-.1 .2 4.2 .2-3.5 .2-7.1 .2 4.1 .2 .2 .2 3.6 .2-4.1 .2 1.9 .2 2.6 .2-.8 .2-6.1 .2 7.2 .2-3 .2-7.3 .2 5 .2 2 .2 2.7 .2-5.3 .2 6.6 .2-2.6 .2-10 .2 3.5 .2-1.1 .2-3 .2 1.4 .2 11.5 .2-2.4 .2 2.3 .2-2.4 .2 2 .2-1.6 .2-1.9 .2 2.4 .2 .9 .2-2 .2 3 .2-1.8 .2-1.1 .2 2.2 .2-.8 .2 .5 .2-3.5 .2 2.9 .2-1.1 .2 .6 .2-1.5 .2 3.9 .2-.3 .2-3.2 .2 1.6 .2 .1 .2 .6 .2-2 .2 1.8 .2 4 .2-4.9 .2 1.1 .2-2.4 .2 .3 .2 .7 .2-1.2 .2-.3 .2 4.9 .2-4.3 .2 1.3 .2-1.5 .2 .9 .2-3.4 .2 4.9 .2-2.1 .2 3 .2-.6 .2-2 .2-1.5 .2 3.1 .2-1.5 .2-.6 .2 .9 .2 1.2 .2-2.8 .2 3.1 .2-.7 .2 0 .2 .1 .2-3.5 .2 2.1 .2 1.4 .2-1.6 .2 0 .2 4.1 .2-3.1 .2 1.8 .2-1.1 .2 .8 .2-.2 .2-2.8 .2 0 .2 1.1 .2 .4 .2-2.9 .2 2.5 .2-1 .2 2.3 .2-.6 .2-3.5 .2 6.8 .2-7.6 .2 7.5 .2-3.8 .2 6.2 .2-5.6 .2 1.3 .2-1.5 .2-1.5 .2-2 .2 1.9 .2 .5 .2 1.3 .2 1.1 .2-.5 .2-.6 .2 1.3 .2-.8 .2 2.2 .2 1.2 .2-4 .2 .1 .2 1.4 .2-1.1 .2-.1 .2-2.3 .2 .8 .2 1.8 .2-.3 .2-2.5 .2-.7 .2 1.5 .2 .5 .2 .2 .2-1.8 .2-2.4 .2 4 .2 .6 .2 3.9 .2-4.5 .2 .3 .2 2.3 .2-.7 .2-.5 .2-4.2 .2 3.5 .2 1.2 .2-.7 .2-7.9 .2-1.1 .2 10.5 .2-.7 .2-1.5 .2 .3 .2-2.1 .2 4 .2-1.9 .2 3 .2-3.3 .2 .4 .2-.9 .2-3.4 .2 2 .2 .1 .2-2.3 .2 5 .2 .5 .2-.4 .2-1.5 .2-1.3 .2 .8 .2 .4 .2 5.3 .2-8.7 .2-.2 .2 2 .2-5.5 .2 4.5 .2-2.9 .2 3.5 .2-.2 .2 .3 .2-.4 .2 3 .2-3 .2 5.1 .2-1.7 .2-1 .2 1.4 .2-2.6 .2-.3 .2 .6 .2 1 .2-5.7 .2 1.5 .2-.8 .2 .7 .2 3.5 .2-3.3 .2 0 .2 6.3 .2-1.6 .2-.4 .2-3.4 .2 1.4 .2-2.5 .2 2.3 .2 1.2 .2-1.9 .2 1.2 .2 .5 .2-4.5 .2 2.4 .2 5.4 .2-4.7 .2 2.7 .2 .3 .2-.1 .2-1 .2 .6 .2 .8 .2 2.3 .2-2.8 .2-1.4 .2 1.4 .2 1.8 .2-.7 .2-2.2 .2-4.4 .2-.7 .2 .8 .2 7.4 .2-1.2 .2-2.1 .2-1.1 .2 1.6 .2 2.4 .2-.9 .2-2.8 .2-8.1 .2 2.9 .2-3 .2 11 .2-4.1 .2 1 .2 2.5 .2-1.3 .2 .6 .2 1.6 .2-2.9 .2 4.3 .2-6 .2 3 .2 3 .2-7 .2 4.1 .2-2.4 .2-5.4 .2 12.6 .2-7.5 .2 5.6 .2-1.1 .2-4.5 .2 4.8 .2-3.2 .2 .8 .2 3.3 .2-.6 .2-4 .2 3 .2-.7 .2 .1 .2-3.8 .2-2.5 .2 2.6 .2-3.3 .2 8.4 .2-3 .2-2.3 .2 2.1 .2 2.3 .2-9.5 .2 7.5 .2 .9 .2-1 .2 3.2 .2-5.2 .2 2 .2 2.4 .2-1 .2 1.4 .2-1.3 .2 .7 .2-.2 .2-.9 .2 .1 .2-1.9 .2 .7 .2 .9 .2 2.5 .2-.4 .2-2.6 .2-2 .2 2.6 .2 2.4 .2 3.3 .2-9.5 .2 1.1 .2-1.3 .2 2.4 .2-8.3 .2 12.2 .2-.6 .2-2 .2-1.7 .2 2.1 .2 1.1 .2-4.1 .2 5 .2-1.4 .2-2.3 .2 5.1 .2-2.6 .2 .7 .2-1.9 .2 1.1 .2-2.2 .2-2 .2 5.7 .2-1 .2-2.6 .2 .7 .2-5.5 .2 9.1 .2-1.9 .2 .7 .2-4.8 .2 1.1 .2 3 .2 1 .2-.8 .2-.2 .2 1.7 .2-2.4 .2-5.8 .2 4.8 .2-.6 .2-.2 .2 4.5 .2-3.2 .2-8.8 .2 .9 .2 8.4 .2-1.6 .2 2.3 .2-7.6 .2-1.4 .2 0 .2-2.4 .2-.3 .2 2.8 .2 .7 .2 7.2 .2-2.5 .2 .7 .2 1.2 .2 .1 .2 1.8 .2-3.2 .2 1.4 .2-2.6 .2 1.4 .2 1.6 .2 .7 .2-.3 .2-2.3 .2-5.4 .2 9.4 .2-.7 .2-5 .2 3.2 .2-5.9 .2 0 .2 8 .2-.5 .2-.2 .2-1.3 .2 2.9 .2-2 .2-2.4 .2-.6 .2 2.2 .2-3.4 .2-3.8 .2 6.6 .2-.2 .2-4.9 .2 .9 .2 .7 .2 .4 .2-1.5 .2 3.7 .2 1.3 .2-2.1 .2 4.2 .2-.7 .2 .5 .2-1.4 .2-4.8 .2 3.7 .2 .9 .2-.4 .2 4.4 .2-2.7 .2-.9 .2-4.8 .2-1.7 .2-2.7 .2 2.7 .2 3.1 .2 .7 .2 1.7 .2 5.3 .2-2.5 .2-3.8 .2-4.7 .2 3.4 .2-1.6 .2-1.6 .2 .8 .2 2.6 .2 .8 .2 5.3 .2-2.2 .2 .1 .2-1.8 .2 2.4 .2-1 .2 1.7 .2-1 .2 .9 .2-2.5 .2 3.4 .2-2.4 .2 0 .2 2.2 .2-11.6 .2 .5 .2 1.1 .2 8.1 .2-2.6 .2-4.3 .2 5.2 .2-4 .2 6.4 .2-2.7 .2 .9 .2-3.8 .2 3 .2 1.3 .2-1.2 .2-.6 .2-.8 .2 3.3 .2-.1 .2-2.1 .2 1.2 .2-3 .2 2.4 .2 2.4 .2-8.5 .2-2.9 .2 2.6 .2 2.4 .2-3.1 .2-3.6 .2 5 .2 3.9 .2 3.5 .2-2.3 .2-1.5 .2 4.2 .2 1 .2-1.2 .2-.4 .2-2.2 .2 2.7 .2-.3 .2-3.9 .2 3.6 .2-.3 .2-1.2 .2 0 .2 0 .2-.6 .2-3.9 .2 6.9 .2 .2 .2-2.3 .2 1 .2-.4 .2-1.3 .2 2.8 .2-2.1 .2 3.9 .2 1 .2-6.7 .2 .3 .2-.7 .2 3.4 .2-1.2 .2 1.2 .2-5.2 .2 3.4 .2-3.8 .2-2.3 .2 1.5 .2 5.8 .2-6 .2 2.2 .2 1.1 .2-2.3 .2 3.5 .2 6 .2-3 .2-1.5 .2-2.1 .2 3.3 .2-2.4 .2-1.1 .2 2.4 .2-5.2 .2 1.1 .2-.9 .2 4.7 .2 .5 .2-3.9 .2 3.3 .2-3 .2-2.5 .2-1.4 .2-1.3 .2 1.8 .2-.7 .2-2.6 .2 1.4 .2 .3 .2 2 .2 6.9 .2-.1 .2-1.9 .2-.7 .2-4.9 .2 1.3 .2 2.9 .2 .8 .2 3.2 .2 .4 .2-.5 .2-1.8 .2-5 .2 7.9 .2-3.1 .2-2 .2 3.6 .2-.1 .2 .2 .2-1.5 .2 1.1 .2 1.7 .2-5 .2 2.6 .2 3.8 .2-4.3 .2-.7 .2-6.3 .2 8.8 .2 1.5 .2-3 .2 .6 .2 .8 .2-1 .2 .5 .2 1.3 .2-2.4 .2 1.2 .2-2.4 .2-5.8 .2 1.8 .2 9 .2-2.2 .2-1.3 .2 2.1 .2-9.2 .2-1.8 .2 9 .2 .7 .2 2.2 .2-12.2 .2 11 .2 0 .2-1.7 .2-1.6 .2 3.2 .2 .8 .2-2.5 .2 2.3 .2 .6 .2 .6 .2-3.7 .2-1.2 .2 3.1 .2-2 .2-3.9 .2 3.9 .2-1 .2 2.9 .2-6.6 .2-1.9 .2-.7 .2 10 .2-2.7 .2 1.2 .2 .6 .2-.9 .2-1.3 .2 4.6 .2-5.6 .2-4.1 .2 1.7 .2 5.5 .2-3 .2 1.7 .2-.6 .2 .1 .2 3.3 .2-4.2 .2 4.4 .2-2 .2 .1 .2-1.5 .2-3 .2 2.6 .2 .8 .2-1 .2 .5 .2 1.1 .2 2.8 .2-6.2 .2 3.1 .2 .6 .2-5 .2-3.4 .2 9.2 .2-.3 .2 .7 .2-2 .2 .2 .2 1.3 .2-4.8 .2 3.3 .2-7.6 .2 6.3 .2 2.1 .2 .2 .2-2.4 .2-1.2 .2 .3 .2 2.9 .2-.9 .2-3.7 .2 .7 .2 5.4 .2 1.7 .2-4.5 .2-1.7 .2 2.9 .2-.3 .2 .3 .2 1 .2-1.6 .2 2.2 .2-2.8 .2 2.3 .2 .3 .2-8 .2 5.4 .2 2.2 .2-.8 .2 .6 .2 .3 .2 .6 .2-1.7 .2 .9 .2-.5 .2 .6 .2-1.4 .2 1 .2-1.7 .2 0 .2 3 .2 .4 .2-4.4 .2 4.4 .2-1.8 .2 1.4 .2-6.2 .2 5.4 .2-2.8 .2 2.3 .2-4.3 .2-1.3 .2 4.6 .2 1.1 .2-1.7 .2 2.6 .2-.5 .2-.8 .2-.2 .2-3.6 .2-.1 .2 1.2 .2-3.1 .2 1.9 .2-1.2 .2 4.5 .2 1.3 .2 1.5 .2-3.3 .2-1.6 .2 5 .2-3.3 .2 2.6 .2 1.2 .2-6.3 .2 2.7 .2-.5 .2-.3 .2-3.4 .2 1.6 .2-1.2 .2 5.1 .2-.9 .2-.1 .2 .4 .2-5.2 .2 .4 .2-.4 .2 3.9 .2 2.1 .2 .6 .2 .4 .2-.6 .2-2.3 .2-2.5 .2 3.5 .2-4.7 .2 4 .2-.5 .2 1.1 .2-3 .2 2.4 .2-.5 .2-1.4 .2-.2 .2 2.1 .2-1.7 .2-4 .2 7.1 .2-.8 .2 .5 .2 2.6 .2-2.1 .2 .3 .2-3.5 .2 2.9 .2-.4 .2 1.8 .2-.3 .2 .4 .2-1.9 .2-.9 .2-1.6 .2-.9 .2 3.3 .2-1.1 .2-3.1 .2 .3 .2-1 .2 4.3 .2-.5 .2 1.1 .2 1.1 .2-1.4 .2-2.4 .2 4.2 .2-2.9 .2-6 .2 3.5 .2-.4 .2 1.8 .2 1.4 .2 .2 .2-5.5 .2-.8 .2 5.6 .2-2.7 .2 4.5 .2-1.2 .2 4.4 .2-3.7 .2-.8 .2 2.6 .2-1.5 .2-1.4 .2 4 .2-1.8 .2-.8 .2 .6 .2-.2 .2 .3 .2 .6 .2-.9 .2 0 .2-.1 .2-2.4 .2-5.6 .2 8.7 .2-1.7 .2-3.8 .2 4.7 .2-1.7 .2-.6 .2 1.8 .2-.3 .2-2.9 .2 1.2 .2-2.3 .2 .9 .2 3.6 .2 1.3 .2-1.6 .2-.8 .2 3 .2-5 .2 3.3 .2-6 .2 4.1 .2 .5 .2 3.9 .2-5.7 .2-1.6 .2 3.1 .2-.4 .2 2.4 .2-2.5 .2 3.2 .2 .3 .2-3.4 .2-.2 .2-.1 .2 3.2 .2-.6 .2-4.9 .2 4.1 .2 1.9 .2-4.1 .2 2.4 .2-2 .2 .9 .2 1.9 .2 .9 .2 .5 .2-3.3 .2 1.3 .2-.2 .2-4.5 .2 .7 .2 4.7 .2-.7 .2 1.5 .2-1.3 .2-1.4 .2 .1 .2-1.9 .2 4 .2-1.4 .2 1.7 .2-1.5 .2 .3 .2 .5 .2 1.8 .2-3.1 .2 .7 .2 .8 .2-.8 .2-.4 .2 0 .2-.3 .2 1.5 .2 .4 .2-1.8 .2 2 .2-4.6 .2 2.9 .2 3.3 .2-3.3 .2-2.8 .2 4.9 .2 .1 .2-4.6 .2 .8 .2 2.6 .2 3.7 .2-1.5 .2-3.2 .2 .4 .2-.1 .2-1.4 .2-1.8 .2 .2 .2 1.6 .2-4.1 .2 5.3 .2-1.8 .2 3.2 .2-.9 .2 .7 .2-1.8 .2 .7 .2 .9 .2 1.8 .2-3.5 .2-2.8 .2 3.1 .2 1.7 .2-.5 .2-2.1 .2 1.1 .2 5.2 .2-6.2 .2 2.6 .2-3.9 .2 2.7 .2 2.3 .2-.9 .2-1.8 .2-.2 .2-1.1 .2 3 .2 1.3 .2-3.1 .2-.9 .2 1.4 .2 1.1 .2-4.4 .2 5.2 .2-3.6 .2 1.3 .2 2.2 .2 .3 .2-.7 .2-3.4 .2 2.9 .2 .1 .2 0 .2 .5 .2-4.9 .2-5 .2 9.5 .2-3.2 .2 3.6 .2-2.1 .2 1.2 .2-.2 .2 .7 .2-1.2 .2-2 .2 1.5 .2-2.2 .2 2 .2 1.8 .2 1.4 .2-1.6 .2-6 .2 6.1 .2-1.4 .2-.5 .2 .4 .2-1.6 .2 1 .2 1.5 .2-2.2 .2 2.4 .2-2 .2-.2 .2-1.5 .2-1 .2 1 .2 1.6 .2 2.4 .2-.8 .2-2.6 .2 1.1 .2 0 .2 2.5 .2-1.5 .2-5.6 .2 4 .2-1.7 .2 6.2 .2-4.2 .2 2.5 .2-2.8 .2 .8 .2-1.7 .2 4.1 .2-3.4 .2 2.5 .2-2.9 .2 4.3 .2-1.9 .2-1.1 .2-1.2 .2 1.1 .2 5.8 .2-3.1 .2-1.4 .2 3.2 .2-5.1 .2 .9 .2 1.5 .2-1.8 .2-1.7 .2 1.9 .2 0 .2-3.5 .2-3.7 .2 1.2 .2 7.6 .2-1 .2-1.1 .2-.2 .2 4 .2-3.3 .2-4.6 .2 .4 .2-1.7 .2 1.6 .2 .4 .2-.3 .2 .7 .2-.9 .2 6.7 .2-.3 .2 1.9 .2-7.2 .2 .2 .2 1.5 .2 1.4 .2-1.1 .2 3 .2-.1 .2 3.8 .2-3.9 .2 1.5 .2 2.1 .2-5 .2 .5 .2-3.3 .2 7 .2-6 .2 .6 .2 3.2 .2-1.8 .2 3 .2-1.7 .2-.7 .2-1.9 .2 4.3 .2-2.1 .2-.2 .2 1.5 .2-.9 .2-.6 .2 .2 .2 .7 .2 .2 .2-3.2 .2 3.6 .2-4.4 .2 8 .2-6.4 .2 2.7 .2-2.2 .2-2.8 .2 4.1 .2-2.1 .2 2.1 .2 .6 .2 1.2 .2-5.1 .2 .1 .2 4.9 .2-3 .2 1.8 .2-.5 .2 1.9 .2-3.7 .2 1.8 .2-1.4 .2 3.6 .2-2.8 .2 2.5 .2-3.5 .2-.4 .2 2.5 .2 .5 .2-2.7 .2 3.6 .2-3.5 .2 1.6 .2-2 .2-1.1 .2 1.6 .2 2.5 .2-.8 .2-2.4 .2 2.9 .2-1.6 .2 .2 .2 3.1 .2-3.7 .2 2.4 .2-3.5 .2 3.8 .2 .1 .2-3.8 .2 2.7 .2 .3 .2-3.6 .2 0 .2 1.7 .2 .1 .2 .7 .2 .6 .2 .9 .2-2.3 .2 .4 .2-.3 .2 5.1 .2-1.1 .2-4.3 .2 .1 .2 1 .2 .9 .2-2.8 .2 2.7 .2-1 .2 3.2 .2-1.6 .2-4.1 .2 .9 .2 2.1 .2-2.1 .2-1.1 .2 2.9 .2-2.5 .2 2 .2 .1 .2 2.1 .2-1.8 .2 4.5 .2-2.8 .2-.5 .2-.4 .2-.6 .2-1.1 .2 .9 .2 1 .2-3.4 .2 2.5 .2 3.3 .2-2.7 .2 .2 .2-1.8 .2 1.2 .2-2.5 .2 1 .2 1.6 .2-1.4 .2-.1 .2 5.3 .2-1.3 .2-.8 .2-4.4 .2 2.6 .2-2.5 .2 1.9 .2 1.1 .2-.7 .2 .7 .2 .3 .2-2.7 .2 .3 .2 1.2 .2 .5 .2-2.6 .2-1.6 .2 3.1 .2 0 .2 1.8 .2-.7 .2-2.1 .2 2.6 .2 2.6 .2-2.2 .2 .1 .2-.2 .2-2.5 .2 1.4 .2 .8 .2 .4 .2 1.5 .2-1.6 .2-2.2 .2-.5 .2 .9 .2 3.4 .2-4 .2 5.1 .2-5.7 .2-.6 .2 5.6 .2-6 .2 1.8 .2-.6 .2 2.8 .2-.5 .2 1.9 .2-3.3 .2 .9 .2 .5 .2-2.5 .2 1.2 .2-1.4 .2-.8 .2 5.2 .2-2.4 .2-1.4 .2 2.1 .2-3.9 .2 4.2 .2-.9 .2-.4 .2-.5 .2-.1 .2 1.1 .2 .7 .2 .7 .2-.8 .2 .6 .2 1.4 .2 1.1 .2-5.1 .2 3 .2 2.2 .2-2.8 .2 1.4 .2-4.9 .2 5.3 .2-4.4 .2-1.1 .2 3 .2-2.7 .2 3.6 .2-3 .2-3.2 .2 4.1 .2 1.2 .2-.8 .2-.1 .2 .4 .2-1.6 .2 .7 .2-2 .2 1.5 .2 3.5 .2 .1 .2-3.9 .2 2.5 .2-1.7 .2-2 .2 2.3 .2-3.1 .2 4.3 .2-1.2 .2-2.7 .2 5.2 .2-3 .2 1.1 .2-1.8 .2-.7 .2 .8 .2-.7 .2 4.2 .2-2.6 .2-1.2 .2 .7 .2 1.1 .2-4.1 .2 5.8 .2 .2 .2-3.3 .2 2.1 .2-1.4 .2 2 .2-1.2 .2 .6 .2-.9 .2 1 .2-1.7 .2 1.1 .2 .9 .2-1.2 .2 1.8 .2-1.3 .2-2.5 .2 .3 .2 4.2 .2-1.9 .2-.2 .2-.6 .2-.8 .2-1.6 .2 3.7 .2-3.5 .2 .1 .2 1.3 .2 1.6 .2-2.9 .2 1.2 .2 1.2 .2-2.9 .2 1.9 .2-3.1 .2 8.4 .2-5.2 .2 .5 .2-.5 .2 .9 .2 .8 .2-.5 .2-3 .2 4 .2-.4 .2-2.7 .2 .4 .2 4.4 .2-1.1 .2-1.7 .2 1.6 .2-1.4 .2-.6 .2 .9 .2 2.2 .2-2.3 .2-1.6 .2 .9 .2-.5 .2 4.7 .2-1.9 .2-3.2 .2-1.7 .2 2.3 .2 1.2 .2 .1 .2 2.8 .2-4.4 .2 .5 .2 2.3 .2-5.1 .2 2.5 .2 2.4 .2-.9 .2-.8 .2-1.8 .2 1 .2 2.5 .2-2.6 .2-1.5 .2 3.2 .2-3.1 .2-.3 .2 2.1 .2-.3 .2 3 .2-3.1 .2-3.2 .2 5.4 .2-.5 .2-2.6 .2-.9 .2 6.5 .2-2.9 .2-1.6 .2 2.5 .2-3.4 .2 1.4 .2-.5 .2-.1 .2 1.1 .2 1.4 .2-2.9 .2 .6 .2 1.4 .2-3.7 .2 2 .2-.8 .2 3.4 .2-2.1 .2 2.2 .2-5.5 .2 6.2 .2-2.2 .2-2.6 .2 3.1 .2 2.2 .2-1.5 .2-1.8 .2 0 .2 1.4 .2-2.3 .2 3.5 .2-1.1 .2 0 .2-3 .2-1.5 .2 5 .2-1.5 .2-2.1 .2 2.9 .2 .7 .2-.5 .2-2.1 .2-1.6 .2 3.4 .2 2.8 .2-2.5 .2 .3 .2-2.4 .2 .4 .2-1.9 .2 5.5 .2-.8 .2-1.7 .2-2.6 .2 1.9 .2 .1 .2 1 .2-2 .2 .9 .2 1.4 .2-.9 .2 1.8 .2-3.9 .2-.4 .2 2.6 .2 .8 .2 .8 .2-3.5 .2 .5 .2 .9 .2-2.7 .2 1.5 .2 .9 .2 .7 .2-1.8 .2 2 .2-2.3 .2-.9 .2 2.5 .2-2 .2 .3 .2 1.9 .2-1.1 .2 1.1 .2 1.4 .2-3.2 .2 .6 .2 1 .2 .4 .2-.6 .2-1.1 .2 1.1 .2-.2 .2-.6 .2 .6 .2-.9 .2 1.3 .2-1.6 .2 1.8 .2 2.6 .2-5.7 .2 3.3 .2-3 .2 2.4 .2-1.4 .2 .5 .2 1.4 .2-.1 .2-.6 .2 .4 .2 1.8 .2-1.4 .2-.1 .2 .4 .2-1.8 .2 3 .2-3.2 .2 1.3 .2 1.3 .2-2.1 .2 1.5 .2-2 .2 .7 .2-4.6 .2 6.5 .2 .3 .2 .2 .2 .7 .2-1.6 .2-1.7 .2 3.1 .2 0 .2-3.4 .2-2 .2 3.1 .2 2.3 .2-4.3 .2 4.3 .2-1.5 .2 1.7 .2-3.3 .2 .8 .2-1.1 .2 .7 .2 .2 .2-1.1 .2-.9 .2 2.8 .2 .2 .2-2.3 .2-3.6 .2 2.6 .2 .3 .2 3.1 .2-.1 .2-1.4 .2 1.7 .2-1.3 .2 1.5 .2-3.5 .2 1.3 .2 .4 .2-1.7 .2 3.8 .2 .1 .2-4.8 .2 6.2 .2-4.7 .2 1.9 .2-.9 .2-.7 .2 .8 .2 3.3 .2-3.7 .2 .5 .2 2.2" fill="none" stroke="#ff0000" stroke-width="1.1" stroke-linejoin="bevel"/>
<path d="M14.4 804.0l.2 .5 .2-1.2 .2-1.3 .2-.1 .2 .9 .2-1 .2 1.3 .2 2.3 .2 0 .2-2.1 .2 1 .2 .9 .2-3.8 .2 .8 .2 .3 .2-2.3 .2 5.1 .2-3.3 .2 .6 .2-1.2 .2 4.7 .2-5.5 .2 2.8 .2-.8 .2 2.7 .2-4.3 .2 1.9 .2-2.5 .2 1.2 .2 1.2 .2 .5 .2 2.2 .2-3 .2 4 .2-4.7 .2 5 .2-2.3 .2 .9 .2 .6 .2-.7 .2 .4 .2-4.2 .2 1.5 .2 1 .2-4.2 .2 .9 .2 1.6 .2 1.2 .2 1.9 .2-4.7 .2 5.9 .2-5.9 .2 3.5 .2-1.5 .2 1.5 .2 2.4 .2-4.8 .2 3.5 .2-1.4 .2-1.2 .2 1.7 .2-2.7 .2 4.3 .2-3.6 .2 .3 .2 3.5 .2 .2 .2-3.8 .2 .6 .2-2.9 .2 2.7 .2-.8 .2 3 .2-2.6 .2-.4 .2 3.4 .2-1.5 .2-2.7 .2 1.2 .2 4.2 .2-2.7 .2 .1 .2-.4 .2-2 .2 1.9 .2 0 .2 1.3 .2-.3 .2-.6 .2 .3 .2-2.5 .2-1.4 .2 4.2 .2-3.1 .2 4.3 .2-1.5 .2-4.9 .2 4.3 .2-.8 .2 1 .2 .5 .2 .9 .2-4 .2 4.1 .2-2.8 .2-.5 .2 .5 .2 2.1 .2-.8 .2 1.1 .2 .1 .2-4 .2 5.7 .2-5.2 .2-1.3 .2-.5 .2 2.8 .2 1 .2-1.6 .2 2.5 .2-1.4 .2-.4 .2 2.5 .2-1.1 .2-2 .2 2.3 .2-.8 .2 .8 .2 2 .2-4.6 .2-.2 .2-.9 .2 1.9 .2 2.1 .2-.7 .2 4 .2-6.1 .2 1.2 .2-.3 .2-.7 .2 1 .2 3.2 .2-4.5 .2 1.4 .2 .1 .2 1.5 .2-.5 .2 1.2 .2 2.6 .2-6.2 .2-.1 .2 1.8 .2 .1 .2 .6 .2 .8 .2-3.1 .2 1.1 .2 1 .2 .4 .2-4.7 .2 4.4 .2-1.5 .2-1 .2-.3 .2 4.7 .2-3.8 .2-2.2 .2 1.5 .2 2.2 .2 .5 .2-1.6 .2 2.7 .2 .1 .2-6.3 .2 4.7 .2 2.3 .2-3.1 .2-.4 .2-.1 .2-1.6 .2 .9 .2-.9 .2 4.1 .2 .5 .2 2.3 .2-7.1 .2 .4 .2 2.8 .2 1.4 .2-1.7 .2-2.5 .2 2.5 .2-.5 .2-.1 .2 4.3 .2-3 .2-3.2 .2 1.3 .2 .8 .2-2.2 .2-.2 .2 1.2 .2-.3 .2 1.4 .2-1.3 .2 1.5 .2 1.5 .2 3 .2-2.7 .2 1.7 .2-2.6 .2-.3 .2 .4 .2-.1 .2-.3 .2 .1 .2 1.6 .2-2.3 .2-2.2 .2 2.9 .2-1.5 .2 4 .2-2.7 .2 1.7 .2-1.8 .2 1.4 .2-3.4 .2 1.7 .2 1 .2-.7 .2 .2 .2 .9 .2 .8 .2-2 .2-2.6 .2 3.5 .2-2.3 .2 1.3 .2-.1 .2-1.9 .2 6.6 .2-3.7 .2-.5 .2 .1 .2-2.1 .2-.2 .2 .7 .2-.3 .2 3.6 .2-4.9 .2 4 .2-.6 .2-1.3 .2 3.5 .2-2.9 .2 .4 .2-2 .2 2.9 .2-5.6 .2 7.7 .2-4.3 .2 1.4 .2-1.6 .2 2.5 .2-1.8 .2-2.4 .2-1.1 .2 5.1 .2-2.7 .2-.9 .2 2.6 .2 .3 .2 .3 .2 .6 .2-4.9 .2 2.7 .2 .1 .2-.8 .2 1.9 .2 .4 .2-2.8 .2 2.5 .2-.1 .2 .9 .2-.9 .2-4.1 .2 2.6 .2-1.3 .2 2.2 .2 .2 .2-2.8 .2 .9 .2 .2 .2 1.5 .2 1.9 .2-5.9 .2 3.6 .2-1.7 .2 1.7 .2 .2 .2 2 .2-3.8 .2 2.5 .2-.2 .2 .6 .2-3.2 .2 0 .2 .9 .2 .1 .2 .5 .2 .2 .2 2.9 .2-3.9 .2 0 .2-.4 .2-1.8 .2 2.7 .2 3.2 .2-5 .2 1.7 .2 1.3 .2-1.8 .2-1.2 .2 3.3 .2 1 .2-.1 .2 1.1 .2-3.6 .2 4.8 .2-5.2 .2 1.8 .2-.4 .2-2.5 .2 3.7 .2-3.9 .2-1.5 .2 5.1 .2 .5 .2 2.3 .2-5.2 .2 2 .2 .1 .2-3 .2 3.2 .2-3.1 .2 2.1 .2-.8 .2 2.9 .2-.5 .2-.8 .2-3.1 .2 2.3 .2-.1 .2 3.6 .2-2.9 .2-.3 .2 4.7 .2-3.9 .2-3.9 .2 5.9 .2-7.9 .2 6.1 .2-1.4 .2-.9 .2 1 .2 .3 .2-.2 .2-3.7 .2 .9 .2 .1 .2 2.5 .2 .7 .2 .3 .2 2.2 .2-1.3 .2-4 .2-.7 .2 2.5 .2-.8 .2-.6 .2 5.1 .2-2.4 .2-2.7 .2 1.7 .2-1.1 .2-.9 .2 .2 .2 5.4 .2-3.4 .2-.7 .2 1.3 .2-2 .2 3.5 .2-.1 .2 .5 .2-6.8 .2 6.2 .2-4.8 .2 1.7 .2 1.4 .2-1 .2 .2 .2-.1 .2-.4 .2 1.8 .2 2.2 .2-2.5 .2-2.9 .2 4.7 .2 .6 .2-4.1 .2 2.4 .2-1.1 .2 2.9 .2-3.2 .2-2.7 .2 2.5 .2-1.4 .2 2.4 .2-1.9 .2 1.4 .2-2.5 .2 4.3 .2-2.7 .2-.4 .2-.3 .2 2.9 .2 .7 .2 .9 .2-2.4 .2-2.7 .2 3 .2-2.8 .2 1.8 .2-3.3 .2 5.1 .2-.1 .2-3 .2 2 .2 1.1 .2-1.1 .2-1.9 .2 1.4 .2 3.1 .2-2.9 .2-.3 .2-1 .2-.3 .2 3.8 .2-1.9 .2-1 .2 1.8 .2-3.2 .2 1.2 .2 1.3 .2 2.4 .2-4.2 .2 1.3 .2 .9 .2-2.5 .2 3.1 .2-3 .2 1.5 .2-1 .2 5.4 .2-7.3 .2 4.3 .2-1.2 .2 2.6 .2 .1 .2-6.3 .2 2.6 .2 1.7 .2-1 .2-1.1 .2 3.7 .2-1.2 .2-1 .2 .5 .2 .1 .2-1.8 .2 4.4 .2-1.7 .2 .8 .2-2 .2 1.2 .2-2.7 .2 .1 .2 1.3 .2-1.9 .2 3.7 .2 .2 .2-4.3 .2 1.9 .2-.3 .2 1.2 .2-5.8 .2 2.9 .2 1.2 .2 4 .2-2.1 .2-1.3 .2-7.4 .2 11.7 .2-4.9 .2 1.4 .2 .6 .2-1.5 .2 .7 .2-4.7 .2 4.3 .2-3.4 .2 4.4 .2-4.1 .2 2.9 .2 3.1 .2-4.7 .2 3 .2-2.3 .2 .2 .2-.3 .2 .2 .2 2.7 .2-1.2 .2-2 .2 1.6 .2-.4 .2-1 .2 .4 .2 1.5 .2-5.5 .2 0 .2 6.1 .2-1.2 .2 .8 .2-6 .2 1.9 .2-3.1 .2 5.7 .2-1.1 .2-8.1 .2 2.7 .2-3.7 .2 2.3 .2 5.9 .2 4 .2-1.4 .2 .5 .2-.5 .2-4 .2 3 .2 2.7 .2-9.5 .2 6.9 .2-.9 .2-4.6 .2 2.2 .2-4.5 .2-2.3 .2 2.8 .2 .5 .2 9.6 .2-1.1 .2-.2 .2-3.6 .2 1 .2 1.8 .2 1.6 .2 1 .2 1 .2-3.8 .2 .8 .2 .4 .2 1.2 .2-5.2 .2-1.7 .2 1 .2-.4 .2-1.7 .2 5.6 .2-.8 .2 2.7 .2-2.8 .2-2.8 .2-1.2 .2 3.7 .2 1.3 .2-2.1 .2 2.3 .2-.2 .2 1.9 .2-1.6 .2-.7 .2 1.3 .2-9.7 .2 9.6 .2-3.1 .2 2.4 .2-.4 .2 .7 .2 .1 .2-1.7 .2 2.5 .2-3.4 .2-2.4 .2 4 .2 .7 .2-2.1 .2 2.3 .2-.7 .2 1.7 .2-3.7 .2 4.6 .2-3.2 .2-7.4 .2 .2 .2 7.2 .2-6.3 .2-5.4 .2 4.5 .2 1.3 .2-.4 .2 .4 .2-2.4 .2 3.3 .2-3.9 .2 1.1 .2 .4 .2-2.2 .2 .1 .2 2.6 .2-2.4 .2 1.8 .2 .1 .2-.3 .2 4.7 .2 2.4 .2 3.1 .2-1.2 .2 .6 .2-12 .2 9 .2-12.7 .2 2.2 .2-.3 .2 .5 .2-.7 .2-4.8 .2 18.7 .2-.2 .2-3.7 .2 1.7 .2-7.7 .2-1.8 .2 11.5 .2-.9 .2-1.7 .2-6.1 .2 1.3 .2 6.7 .2-9.9 .2 1.1 .2 9.1 .2 .7 .2-.8 .2-1.8 .2 3.9 .2-2.4 .2-1.1 .2-1.2 .2 3.2 .2-4.5 .2-3.6 .2 .3 .2 1.3 .2 4.3 .2 1.1 .2-2.8 .2 1.3 .2 2.7 .2 2.2 .2-3.4 .2 .6 .2 1.8 .2-1.4 .2-4.2 .2 1.5 .2-1.3 .2 .5 .2 4.7 .2-1 .2-10.4 .2 14.3 .2-6.5 .2 .8 .2 2.4 .2-1.9 .2-4.9 .2 .7 .2 1 .2-1.7 .2 1.4 .2 1.5 .2 6.1 .2-3 .2-1 .2 1 .2 2.9 .2-6.3 .2 4 .2-2 .2 .9 .2 3 .2-1.7 .2-2.8 .2 2.2 .2-.2 .2-.9 .2 5 .2-5.2 .2-1 .2 2.1 .2-7.5 .2 1.9 .2-1.6 .2 .1 .2 7.2 .2 5.1 .2-4.1 .2-2.8 .2 3 .2-6.9 .2 1.9 .2 2.2 .2 1.4 .2-6.7 .2 5.6 .2 .1 .2-.5 .2 1.3 .2-2.3 .2 4.2 .2 .2 .2-3 .2-.9 .2 1.6 .2-6.3 .2 1.8 .2 .2 .2 3.1 .2 .3 .2 2.8 .2-10.9 .2 4 .2-2.5 .2-2.3 .2 1.8 .2 4 .2-4.2 .2 9.2 .2 1.4 .2-3.6 .2 1.5 .2-1.6 .2-3.5 .2 .5 .2-1.4 .2 1.2 .2 5.6 .2-.6 .2-2.8 .2 2 .2 2.3 .2-1.5 .2-1.2 .2 .2 .2-3.8 .2-1.4 .2 6.1 .2-1.7 .2 .7 .2-.7 .2 2.2 .2-2.9 .2 3 .2-1.6 .2-1.1 .2-1.1 .2 4.3 .2-2.9 .2-.4 .2 1.9 .2 0 .2 .4 .2-3.1 .2 3.4 .2-.1 .2 .7 .2-3.8 .2 3.6 .2 0 .2-1 .2-3.1 .2 1.2 .2-1.2 .2 1.8 .2 1.9 .2 0 .2-8.2 .2 0 .2 1.2 .2 6.1 .2 2.4 .2 .6 .2-.8 .2-3.2 .2-4.9 .2 7.7 .2-1.2 .2-1.4 .2 1.9 .2-2.3 .2 .1 .2 6.2 .2-6.8 .2 2.4 .2-9.4 .2 9.5 .2-.7 .2-.7 .2 0 .2-2.1 .2 .6 .2 4.1 .2-15.9 .2 1.7 .2-1.4 .2 2.4 .2-2.2 .2-.2 .2 3.6 .2-7 .2 3.5 .2 1.7 .2 .2 .2 14.3 .2-5.7 .2 2.2 .2-.6 .2-.4 .2-7.7 .2 10.5 .2-7.6 .2-2.2 .2 2.3 .2-1.2 .2 7.5 .2 0 .2-8.3 .2-2.6 .2-1.4 .2 12 .2 1 .2 .5 .2-10 .2-2 .2-.7 .2 10.9 .2-6.8 .2 5.8 .2-13.6 .2 2.6 .2-3.6 .2 17.1 .2 1.8 .2-14.6 .2-3 .2 16 .2-14.7 .2 12.2 .2 1 .2-1 .2 .1 .2-4.7 .2 5.1 .2-13.4 .2-2.7 .2-.7 .2-1.6 .2 3 .2-.6 .2 15.7 .2 .2 .2 .1 .2-.9 .2 .7 .2-11.9 .2 9.7 .2 4.8 .2-4.2 .2 2.2 .2-.3 .2-1.5 .2 1.2 .2-4.4 .2 .5 .2 4.3 .2 .3 .2-3 .2 3 .2-16.1 .2 4.7 .2-2.4 .2 12.6 .2 2.5 .2-1 .2-15.6 .2 15.1 .2 1.7 .2-12.7 .2 11.2 .2 1.6 .2-5.6 .2-10.6 .2 14 .2-2 .2 1.2 .2-10.8 .2 3.9 .2-.4 .2-2.9 .2 4.1 .2 5.7 .2 1.4 .2-1.7 .2 2.8 .2-7.2 .2-.5 .2 .3 .2-4.1 .2 10.5 .2 2.4 .2-10.4 .2 3.2 .2-3.7 .2-.5 .2-.4 .2-.2 .2 .8 .2-.4 .2 .7 .2-1.3 .2 9.4 .2-7.1 .2 7.9 .2-16.8 .2 16.2 .2-1 .2 .7 .2 .4 .2-13.9 .2 2.4 .2-5.2 .2 17.8 .2-2.2 .2 1.5 .2-.7 .2-3.7 .2-.4 .2 1.7 .2-3 .2 3.4 .2-9.3 .2 11.7 .2-.2 .2-1.2 .2 2.5 .2-18.4 .2 18.9 .2 1.3 .2-7.7 .2 4.1 .2 3.6 .2-12.8 .2 7.6 .2-1.2 .2 3.5 .2-13 .2-3.9 .2 4.9 .2-6 .2 5.8 .2 11.9 .2 3.8 .2-8.3 .2 2.3 .2-3.6 .2 1.1 .2 5.2 .2-.3 .2 2.5 .2-5.7 .2-8.4 .2 12.8 .2-6.7 .2-1.9 .2-2.1 .2 10.4 .2 .8 .2-.3 .2-.8 .2 2.7 .2-.4 .2-2.4 .2-.2 .2-.7 .2 3.2 .2-3.1 .2 2 .2-6.1 .2-4.4 .2 8.9 .2-3.5 .2 7.7 .2-4.7 .2 .4 .2 .7 .2-.3 .2-2.1 .2 5.2 .2-2.5 .2-8.5 .2 9.5 .2-8 .2-2.1 .2 1.9 .2-2.3 .2 11.8 .2-3.4 .2-2.7 .2 2.3 .2-4.4 .2 4.9 .2 5 .2-7.9 .2-1 .2-.7 .2 7.1 .2-6.4 .2 5.6 .2-2.1 .2-3.1 .2 3.7 .2-1.7 .2 1.5 .2 1.2 .2 2.7 .2-3.1 .2-2.5 .2 3.2 .2-2.5 .2-.5 .2 1.2 .2-6.9 .2 8.8 .2-4.2 .2 3.9 .2-1.4 .2 2.3 .2-4.6 .2 2.6 .2 1.6 .2-1.2 .2 1.4 .2-3.8 .2 3.8 .2 .4 .2-2.4 .2 .2 .2 .5 .2-1.5 .2-2.3 .2 2.1 .2 1.2 .2 2.6 .2-1.7 .2-1.2 .2 1.2 .2-2.2 .2 .9 .2-2 .2 1.4 .2 2.9 .2 1.6 .2-3.5 .2 .6 .2 .5 .2-.1 .2-2.4 .2 3.1 .2-5.4 .2-2.2 .2 5.9 .2-1.6 .2 3.5 .2-2.1 .2 2.1 .2-3.1 .2 3.4 .2-6.3 .2 3.4 .2-3.7 .2 5.6 .2 1.8 .2-1.9 .2-3.3 .2 .7 .2 3.8 .2-5.4 .2 8.5 .2-7 .2 4.6 .2-6.3 .2 1 .2-1.3 .2 3.7 .2 3.7 .2-4.8 .2 2 .2 1.6 .2-5 .2 4.4 .2-1 .2 .8 .2-.2 .2-2 .2-2.8 .2-2.2 .2-.5 .2 1.6 .2-.8 .2 5.4 .2-.8 .2 1.5 .2-.1 .2-.4 .2-4.4 .2 4.3 .2-.5 .2-1.7 .2 3.1 .2-1 .2-2 .2-.3 .2 .6 .2 2.1 .2-1.4 .2 2.7 .2-1.1 .2 .7 .2-4.4 .2 1.4 .2 5.8 .2-2.2 .2-2.2 .2-.6 .2-2.6 .2 4.1 .2 3 .2-1.6 .2-1.1 .2-.1 .2-.5 .2 .3 .2 2.6 .2-3.5 .2 3.9 .2-5.8 .2 4.8 .2-4.1 .2 3.9 .2-.5 .2-1.1 .2-1.3 .2-1 .2-1.8 .2 5.8 .2-4.9 .2 3.4 .2-3 .2 2.9 .2-3.1 .2 .5 .2-3.7 .2 6.6 .2-7.5 .2 .6 .2 6 .2 2.4 .2-2.5 .2 2 .2-1.4 .2 4.2 .2-3.4 .2-10.5 .2 10.4 .2-1.7 .2 .2 .2 .7 .2 .6 .2-8.3 .2 8.4 .2-9.2 .2 2.1 .2 .3 .2-2.3 .2 6.8 .2 2.9 .2-4.9 .2 1.9 .2 1.5 .2 .1 .2-3.7 .2 4.5 .2 .3 .2-.3 .2-10 .2 10.4 .2-1.3 .2 .9 .2-1.8 .2 3.7 .2-2.1 .2 1.6 .2-3.1 .2 3.3 .2-2.2 .2-1.2 .2 .5 .2 1.9 .2-3.3 .2 2.2 .2-12.3 .2 9.9 .2 2.7 .2 .3 .2-2.6 .2 .4 .2 0 .2-5.8 .2-.1 .2-.9 .2-.5 .2 8.6 .2 .1 .2-2.6 .2 7 .2-2.8 .2-1.2 .2-1 .2-2.2 .2-2 .2 4.1 .2-2 .2-3.5 .2-1.2 .2-3 .2 .2 .2 2.4 .2 .1 .2 8.8 .2-.4 .2-7.6 .2-.5 .2 .6 .2 7 .2-3 .2-2.9 .2-2.1 .2 7.3 .2-2.9 .2 3.1 .2-1.5 .2 2.7 .2-1.1 .2 1.6 .2-5.3 .2-2.1 .2-.3 .2-2.1 .2 3.3 .2 3.7 .2-1.2 .2 2.2 .2 1.5 .2-2.1 .2-.2 .2 .7 .2 1.7 .2-11.2 .2 9 .2 2.5 .2-1.9 .2-1.3 .2-7.5 .2-1.3 .2 7.3 .2-1.9 .2-3.7 .2 1 .2 .7 .2 8.1 .2-2.1 .2 1.6 .2-.6 .2-6.1 .2-2.1 .2 4.5 .2-1.2 .2 .9 .2-2.2 .2 1.8 .2 .7 .2-4.7 .2 4.7 .2 5.4 .2 1.8 .2 .1 .2-6.6 .2 1 .2 2.6 .2 0 .2-2.5 .2-4.9 .2-2.6 .2 4.4 .2-3.5 .2 7.4 .2 .9 .2 .2 .2-1.1 .2 3.8 .2-1.7 .2-.7 .2 .4 .2-4.5 .2-3.2 .2 .7 .2 4.6 .2-.2 .2-7.2 .2 1.5 .2 6.8 .2 .5 .2 2.5 .2-2.4 .2-2.3 .2 1.9 .2 3.4 .2 .6 .2-1.2 .2-.3 .2-.9 .2-.9 .2-2.9 .2 3 .2-.5 .2 .6 .2-6.4 .2 .4 .2 .4 .2 3.1 .2-5.1 .2 1.3 .2 8.6 .2-5.2 .2 3.1 .2-.6 .2 .6 .2 0 .2 .6 .2-1.2 .2-10.5 .2 3 .2 7.6 .2 2.5 .2-9.7 .2-.3 .2 4.8 .2-10.9 .2 8.4 .2 5.5 .2-1 .2-5.8 .2 6.5 .2-1.6 .2-7 .2 5.4 .2-1.6 .2 5.6 .2 .7 .2 .8 .2 .9 .2-4.9 .2-4.5 .2 5.4 .2 .8 .2-8.7 .2 .4 .2-1.3 .2 11.5 .2-9.3 .2 4.3 .2 2.6 .2 1.8 .2-.7 .2-2.6 .2 .1 .2 2.5 .2 2.4 .2-2.6 .2 0 .2 1 .2-2.5 .2-2 .2 5.8 .2-3.9 .2 2.7 .2 .7 .2-1.8 .2-.7 .2 1 .2-1.4 .2 1.9 .2 .2 .2-2.2 .2 2.7 .2-.6 .2-3 .2 3.9 .2-.7 .2 1.2 .2-3.1 .2-2.4 .2 3.5 .2-4 .2 4.5 .2-1.9 .2-.1 .2 1.1 .2-1.3 .2-1.4 .2 1.8 .2 1.8 .2 .3 .2-1.7 .2-1.4 .2 2.2 .2 .2 .2 1 .2 .6 .2-4.4 .2 3.3 .2 0 .2 .1 .2-2.2 .2 1.2 .2 2.2 .2-2.1 .2 2.2 .2-3 .2 .6 .2-.9 .2 3.4 .2 .9 .2-3.7 .2 1 .2-1 .2 2.9 .2-4.5 .2 3 .2 .5 .2-1.5 .2-1.2 .2 .7 .2 1.1 .2 .1 .2-1.8 .2 1.7 .2-2.4 .2 .4 .2 .3 .2 0 .2-.6 .2 3 .2-1 .2 .3 .2-2.5 .2 1.4 .2-.8 .2 2.8 .2-.7 .2 .8 .2-.9 .2-.2 .2-3 .2 1.5 .2-1.3 .2 1.5 .2 1.1 .2-3.1 .2 2 .2 1.7 .2-2.2 .2 1 .2-.1 .2 0 .2 2.6 .2-2 .2 1 .2-2 .2 .4 .2 0 .2 1.3 .2 1.2 .2-1.4 .2-.5 .2 1.8 .2 0 .2-1.2 .2 .5 .2-5.1 .2 3.1 .2 .4 .2-.5 .2 .8 .2-.6 .2-1.4 .2 4.5 .2-4.1 .2 2.1 .2 .6 .2-.3 .2-1.2 .2 3 .2-3.8 .2 1.3 .2-.8 .2 2.3 .2-4.6 .2 3.2 .2-.6 .2-1.1 .2 1.9 .2 .6 .2-3.5 .2 2.6 .2 .2 .2 1.2 .2-6.1 .2 5.8 .2-7.2 .2 4.4 .2 3.9 .2-.1 .2-1.5 .2-1.6 .2 .9 .2 .2 .2-1.5 .2 1.6 .2 1.1 .2-2.8 .2 1.5 .2-.5 .2-1 .2 2.9 .2-3.8 .2 3.4 .2-2.7 .2-2.1 .2 3.9 .2 .9 .2-1.1 .2 .3 .2 .2 .2-.1 .2-3.2 .2 .6 .2-.1 .2 1.5 .2 2.2 .2-1.2 .2 .6 .2-1.6 .2 3.7 .2-4 .2 2.2 .2-1.8 .2-2.2 .2 .4 .2 3.2 .2-1.8 .2 1.5 .2 0 .2-2.5 .2-.6 .2 .3 .2 1.3 .2 3.3 .2-3.5 .2-.5 .2 1.1 .2-1.4 .2 4.7 .2-4.8 .2 2.9 .2-1.2 .2-1.7 .2 4.1 .2-2.1 .2 3 .2-3.3 .2 1.8 .2-1.8 .2 1.9 .2 .4 .2-4.1 .2 .8 .2 3.1 .2-1.1 .2 .7 .2-.8 .2-1.1 .2-1.2 .2 .4 .2 2.5 .2-2 .2-2.4 .2 2.8 .2-.2 .2-1.7 .2 2.9 .2 .7 .2-2.5 .2 2 .2-.3 .2 .9 .2 .5 .2-2.5 .2 .1 .2 1.3 .2 1.4 .2-.5 .2-1 .2 .2 .2-1.3 .2 1.1 .2 .2 .2-1.4 .2 1.9 .2-.5 .2 1 .2-1 .2-4.7 .2 4.8 .2 1 .2-3.2 .2 2.1 .2-.5 .2-1.1 .2 1.8 .2-2.5 .2-.7 .2 2.4 .2-3 .2 1.9 .2 .2 .2 .8 .2-3.7 .2 2 .2 .7 .2-2.2 .2 3.1 .2 .6 .2-.8 .2-.1 .2-.3 .2 .2 .2-1 .2 .4 .2-1 .2 4.4 .2-.2 .2-1.2 .2-2 .2-1.3 .2-1.2 .2 2.8 .2 1.4 .2-1.7 .2 3.4 .2-.3 .2-1.2 .2-.7 .2-3.9 .2 1 .2 2.5 .2-1.3 .2 2.1 .2-1.2 .2-.3 .2 1.2 .2 1.3 .2-2.4 .2 2.4 .2-5.8 .2 6.1 .2-1.2 .2-1.1 .2 3.9 .2-4.5 .2 2.1 .2-1.3 .2 .2 .2 .6 .2-1.7 .2 1.2 .2-2.2 .2 1 .2-1.8 .2 5.8 .2-5.1 .2 1.5 .2 .2 .2 4 .2-4.4 .2 1.1 .2 .8 .2-.1 .2-1.8 .2 .8 .2-1.5 .2 1.8 .2 .3 .2-2.2 .2 5.1 .2-2.8 .2 .7 .2-1.8 .2-.2 .2 1.2 .2-2.4 .2-1.8 .2-.1 .2 4.5 .2-1.4 .2 1.7 .2-.7 .2 .1 .2-.3 .2 1.4 .2-.2 .2-.8 .2 2.3 .2-4.4 .2 2 .2-.4 .2 2.2 .2-3.1 .2 1.3 .2 1.4 .2-2.4 .2-.4 .2 1.6 .2-1.4 .2-.2 .2 .2 .2-.4 .2 .2 .2 4 .2-3.7 .2 2.9 .2-3.4 .2 1.3 .2 .9 .2-3.1 .2 3.7 .2-5.7 .2 6.8 .2-3 .2 1.4 .2-.1 .2-1.8 .2 2.8 .2-1.5 .2 1.8 .2 0 .2-.7 .2-3.4 .2 5.1 .2-5.7 .2 2.3 .2 3.2 .2-5.3 .2-.3 .2 2.2 .2 1.7 .2-3.1 .2 .1 .2 1.6 .2 1.8 .2 .3 .2-.3 .2-3.4 .2 4.2 .2-5 .2 3.3 .2-2.2 .2 1.9 .2-1.9 .2 2.1 .2-2.3 .2 2.7 .2 1 .2-1.2 .2-1.4 .2 .3 .2-.9 .2 1.2 .2 1.5 .2-3.3 .2-1.1 .2 7.3 .2-4.1 .2-1.6 .2 .5 .2 1 .2-.5 .2-1.8 .2 1.6 .2 0 .2 2.1 .2-3.7 .2 3.9 .2-2.7 .2-.7 .2 1.1 .2-3.7 .2 5.6 .2 1.1 .2-4 .2-.7 .2 .8 .2 2.5 .2-1.5 .2 .1 .2 5.9 .2-5.9 .2-2 .2 2.3 .2-1 .2 .5 .2-3.4 .2 5.9 .2-1.9 .2 1.1 .2-2.2 .2 .3 .2 4.6 .2-5 .2 1.2 .2 .5 .2-1.9 .2 .7 .2 3.3 .2-1.4 .2-3.2 .2 2.9 .2-.3 .2-6.4 .2 5.2 .2 .8 .2 0 .2-.3 .2 2.1 .2-2.8 .2 3.2 .2 .1 .2-2.7 .2 3.1 .2-1.5 .2 .5 .2-2.2" fill="none" stroke="#ff0000" stroke-width="1.1" stroke-linejoin="bevel"/>
<text x="412.90" y="16.77" font-family="Liberation Sans" font-weight="bold" font-size="22.59" textLength="13.79" lengthAdjust="spacingAndGlyphs" fill="#000" >d</text>
<g fill="#b3b3b3" stroke="#d9d9d9" stroke-width="0.6"><rect x="497.70" y="136.81" width="3.6" height="0.59"/><rect x="501.30" y="135.28" width="3.6" height="2.12"/><rect x="504.90" y="131.11" width="3.6" height="6.29"/><rect x="508.50" y="121.20" width="3.6" height="16.20"/><rect x="512.10" y="105.39" width="3.6" height="32.01"/><rect x="515.70" y="75.46" width="3.6" height="61.94"/><rect x="519.30" y="60.80" width="3.6" height="76.60"/><rect x="522.90" y="60.80" width="3.6" height="76.60"/><rect x="522.90" y="37.97" width="3.6" height="12.23"/><rect x="526.50" y="60.80" width="3.6" height="76.60"/><rect x="526.50" y="26.31" width="3.6" height="23.89"/><rect x="530.10" y="60.80" width="3.6" height="76.60"/><rect x="530.10" y="25.60" width="3.6" height="24.60"/><rect x="533.70" y="60.80" width="3.6" height="76.60"/><rect x="533.70" y="35.36" width="3.6" height="14.84"/><rect x="537.30" y="60.80" width="3.6" height="76.60"/><rect x="537.30" y="49.26" width="3.6" height="0.94"/><rect x="540.90" y="66.55" width="3.6" height="70.85"/><rect x="544.50" y="80.26" width="3.6" height="57.14"/><rect x="548.10" y="94.49" width="3.6" height="42.91"/><rect x="551.70" y="102.43" width="3.6" height="34.97"/><rect x="555.30" y="106.13" width="3.6" height="31.27"/><rect x="558.90" y="114.67" width="3.6" height="22.73"/><rect x="562.50" y="119.60" width="3.6" height="17.80"/><rect x="566.10" y="122.79" width="3.6" height="14.61"/><rect x="569.70" y="125.08" width="3.6" height="12.32"/><rect x="573.30" y="127.34" width="3.6" height="10.06"/><rect x="576.90" y="129.61" width="3.6" height="7.79"/><rect x="580.50" y="131.25" width="3.6" height="6.15"/><rect x="584.10" y="132.75" width="3.6" height="4.65"/><rect x="587.70" y="133.95" width="3.6" height="3.45"/><rect x="591.30" y="135.03" width="3.6" height="2.37"/><rect x="594.90" y="135.73" width="3.6" height="1.67"/><rect x="598.50" y="136.31" width="3.6" height="1.09"/><rect x="602.10" y="136.69" width="3.6" height="0.71"/></g>
<polyline points="490.3,137.4 490.8,137.4 491.3,137.4 491.8,137.4 492.3,137.4 492.8,137.4 493.3,137.4 493.8,137.3 494.3,137.3 494.8,137.3 495.3,137.3 495.8,137.3 496.3,137.2 496.8,137.2 497.3,137.1 497.8,137.1 498.3,137.0 498.8,136.9 499.3,136.8 499.8,136.7 500.3,136.6 500.8,136.4 501.3,136.2 501.8,136.0 502.3,135.7 502.8,135.4 503.3,135.1 503.8,134.7 504.3,134.3 504.8,133.8 505.3,133.2 505.8,132.5 506.3,131.8 506.8,131.0 507.3,130.1 507.8,129.1 508.3,127.9 508.8,126.7 509.3,125.3 509.8,123.9 510.3,122.2 510.8,120.4 511.3,118.4 511.8,116.3 512.3,114.0 512.8,111.5 513.3,108.8 513.8,105.8 514.3,102.6 514.8,99.2 515.3,95.6 515.8,91.7 516.3,87.5 516.8,83.1 517.3,78.4 517.8,73.5 518.3,68.3 518.8,62.9" fill="none" stroke="#000" stroke-width="1.5" stroke-linejoin="round"/>
<polyline points="520.8,49.4 521.3,47.2 521.8,45.0 522.3,42.8 522.8,40.6 523.3,38.4 523.8,36.3 524.3,34.2 524.8,32.2 525.3,30.3 525.8,28.5 526.3,26.9 526.8,25.4 527.3,24.1 527.8,23.0 528.3,22.1 528.8,21.5 529.3,21.0 529.8,20.8 530.3,20.8 530.8,21.0 531.3,21.5 531.8,22.2 532.3,23.1 532.8,24.2 533.3,25.4 533.8,26.9 534.3,28.5 534.8,30.2 535.3,32.0 535.8,33.8 536.3,35.8 536.8,37.8 537.3,39.8 537.8,41.8 538.3,43.8 538.8,45.7 539.3,47.6 539.8,49.5" fill="none" stroke="#000" stroke-width="1.5" stroke-linejoin="round"/>
<polyline points="542.3,62.8 542.8,66.7 543.3,70.3 543.8,73.6 544.3,76.7 544.8,79.5 545.3,82.1 545.8,84.4 546.3,86.6 546.8,88.6 547.3,90.4 547.8,92.0 548.3,93.5 548.8,94.9 549.3,96.2 549.8,97.4 550.3,98.5 550.8,99.6 551.3,100.5 551.8,101.5 552.3,102.4 552.8,103.3 553.3,104.1 553.8,104.9 554.3,105.7 554.8,106.5 555.3,107.3 555.8,108.0 556.3,108.8 556.8,109.5 557.3,110.2 557.8,111.0 558.3,111.7 558.8,112.4 559.3,113.0 559.8,113.7 560.3,114.4 560.8,115.0 561.3,115.6 561.8,116.3 562.3,116.9 562.8,117.5 563.3,118.0 563.8,118.6 564.3,119.1 564.8,119.7 565.3,120.2 565.8,120.7 566.3,121.1 566.8,121.6 567.3,122.1 567.8,122.5 568.3,122.9 568.8,123.3 569.3,123.7 569.8,124.1 570.3,124.5 570.8,124.8 571.3,125.2 571.8,125.5 572.3,125.9 572.8,126.2 573.3,126.5 573.8,126.8 574.3,127.1 574.8,127.4 575.3,127.7 575.8,128.0 576.3,128.2 576.8,128.5 577.3,128.8 577.8,129.0 578.3,129.3 578.8,129.5 579.3,129.8 579.8,130.0 580.3,130.2 580.8,130.5 581.3,130.7 581.8,130.9 582.3,131.1 582.8,131.4 583.3,131.6 583.8,131.8 584.3,132.0 584.8,132.2 585.3,132.4 585.8,132.6 586.3,132.8 586.8,132.9 587.3,133.1 587.8,133.3 588.3,133.5 588.8,133.6 589.3,133.8 589.8,134.0 590.3,134.1 590.8,134.3 591.3,134.4 591.8,134.6 592.3,134.7 592.8,134.8 593.3,134.9 593.8,135.1 594.3,135.2 594.8,135.3 595.3,135.4 595.8,135.5 596.3,135.6 596.8,135.7 597.3,135.8 597.8,135.9 598.3,136.0 598.8,136.1 599.3,136.2 599.8,136.2 600.3,136.3 600.8,136.4 601.3,136.4 601.8,136.5 602.3,136.5 602.8,136.6 603.3,136.7 603.8,136.7 604.3,136.8 604.8,136.8 605.3,136.8 605.8,136.9 606.3,136.9 606.8,136.9 607.3,137.0 607.8,137.0 608.3,137.0 608.8,137.1 609.3,137.1 609.8,137.1 610.3,137.1 610.8,137.2 611.3,137.2 611.8,137.2 612.3,137.2 612.8,137.2 613.3,137.2 613.8,137.3 614.3,137.3 614.8,137.3 615.3,137.3 615.8,137.3 616.3,137.3 616.8,137.3 617.3,137.3 617.8,137.3 618.3,137.3 618.8,137.3 619.3,137.3 619.8,137.4 620.3,137.4 620.8,137.4 621.3,137.4 621.8,137.4 622.3,137.4 622.8,137.4 623.3,137.4 623.8,137.4 624.3,137.4 624.8,137.4 625.3,137.4 625.8,137.4 626.3,137.4 626.8,137.4 627.3,137.4 627.8,137.4 628.3,137.4 628.8,137.4 629.3,137.4 629.8,137.4 630.3,137.4 630.8,137.4 631.3,137.4 631.8,137.4 632.3,137.4 632.8,137.4 633.3,137.4 633.8,137.4 634.3,137.4 634.8,137.4 635.3,137.4 635.8,137.4 636.3,137.4 636.8,137.4 637.3,137.4 637.8,137.4 638.3,137.4 638.8,137.4 639.3,137.4 639.8,137.4 640.3,137.4 640.8,137.4 641.3,137.4 641.8,137.4 642.3,137.4 642.8,137.4 643.3,137.4 643.8,137.4 644.3,137.4 644.8,137.4 645.3,137.4 645.8,137.4 646.3,137.4 646.8,137.4 647.3,137.4 647.8,137.4 648.3,137.4 648.8,137.4 649.3,137.4 649.8,137.4 650.3,137.4 650.8,137.4 651.3,137.4 651.8,137.4 652.3,137.4 652.8,137.4 653.3,137.4 653.8,137.4 654.3,137.4 654.8,137.4 655.3,137.4 655.8,137.4 656.3,137.4 656.8,137.4 657.3,137.4 657.8,137.4 658.3,137.4 658.8,137.4 659.3,137.4 659.8,137.4 660.3,137.4 660.8,137.4 661.3,137.4 661.8,137.4 662.3,137.4 662.8,137.4 663.3,137.4 663.8,137.4 664.3,137.4 664.8,137.4 665.3,137.4 665.8,137.4 666.3,137.4 666.8,137.4 667.3,137.4 667.8,137.4 668.3,137.4 668.8,137.4 669.3,137.4 669.8,137.4 670.3,137.4" fill="none" stroke="#000" stroke-width="1.5" stroke-linejoin="round"/>
<polyline points="490.3,137.4 490.8,137.4 491.3,137.4 491.8,137.4 492.3,137.4 492.8,137.4 493.3,137.4 493.8,137.4 494.3,137.4 494.8,137.4 495.3,137.4 495.8,137.4 496.3,137.4 496.8,137.4 497.3,137.4 497.8,137.4 498.3,137.4 498.8,137.4 499.3,137.4 499.8,137.4 500.3,137.4 500.8,137.4 501.3,137.4 501.8,137.4 502.3,137.4 502.8,137.4 503.3,137.4 503.8,137.4 504.3,137.4 504.8,137.4 505.3,137.4 505.8,137.4 506.3,137.4 506.8,137.4 507.3,137.4 507.8,137.4 508.3,137.3 508.8,137.3 509.3,137.3 509.8,137.3 510.3,137.3 510.8,137.3 511.3,137.3 511.8,137.3 512.3,137.3 512.8,137.3 513.3,137.3 513.8,137.3 514.3,137.2 514.8,137.2 515.3,137.2 515.8,137.2 516.3,137.2 516.8,137.2 517.3,137.1 517.8,137.1 518.3,137.1 518.8,137.1 519.3,137.1 519.8,137.0 520.3,137.0 520.8,137.0 521.3,136.9 521.8,136.9 522.3,136.9 522.8,136.8 523.3,136.8 523.8,136.7 524.3,136.7 524.8,136.6 525.3,136.6 525.8,136.5 526.3,136.5 526.8,136.4 527.3,136.3 527.8,136.3 528.3,136.2 528.8,136.1 529.3,136.0 529.8,135.9 530.3,135.9 530.8,135.8 531.3,135.7 531.8,135.6 532.3,135.5 532.8,135.4 533.3,135.2 533.8,135.1 534.3,135.0 534.8,134.9 535.3,134.7 535.8,134.6 536.3,134.5 536.8,134.3 537.3,134.2 537.8,134.0 538.3,133.9 538.8,133.7 539.3,133.6 539.8,133.4 540.3,133.2 540.8,133.1 541.3,132.9 541.8,132.7 542.3,132.5 542.8,132.3 543.3,132.2 543.8,132.0 544.3,131.8 544.8,131.6 545.3,131.4 545.8,131.2 546.3,131.0 546.8,130.8 547.3,130.6 547.8,130.4 548.3,130.2 548.8,130.0 549.3,129.9 549.8,129.7 550.3,129.5 550.8,129.3 551.3,129.1 551.8,128.9 552.3,128.8 552.8,128.6 553.3,128.4 553.8,128.3 554.3,128.1 554.8,127.9 555.3,127.8 555.8,127.7 556.3,127.5 556.8,127.4 557.3,127.3 557.8,127.2 558.3,127.1 558.8,127.0 559.3,126.9 559.8,126.8 560.3,126.7 560.8,126.7 561.3,126.6 561.8,126.6 562.3,126.5 562.8,126.5 563.3,126.5 563.8,126.5 564.3,126.5 564.8,126.5 565.3,126.5 565.8,126.6 566.3,126.6 566.8,126.6 567.3,126.7 567.8,126.8 568.3,126.8 568.8,126.9 569.3,127.0 569.8,127.1 570.3,127.2 570.8,127.3 571.3,127.5 571.8,127.6 572.3,127.7 572.8,127.9 573.3,128.0 573.8,128.2 574.3,128.3 574.8,128.5 575.3,128.7 575.8,128.9 576.3,129.0 576.8,129.2 577.3,129.4 577.8,129.6 578.3,129.8 578.8,130.0 579.3,130.2 579.8,130.4 580.3,130.5 580.8,130.7 581.3,130.9 581.8,131.1 582.3,131.3 582.8,131.5 583.3,131.7 583.8,131.9 584.3,132.1 584.8,132.3 585.3,132.5 585.8,132.6 586.3,132.8 586.8,133.0 587.3,133.2 587.8,133.3 588.3,133.5 588.8,133.7 589.3,133.8 589.8,134.0 590.3,134.1 590.8,134.3 591.3,134.4 591.8,134.6 592.3,134.7 592.8,134.8 593.3,135.0 593.8,135.1 594.3,135.2 594.8,135.3 595.3,135.4 595.8,135.5 596.3,135.6 596.8,135.7 597.3,135.8 597.8,135.9 598.3,136.0 598.8,136.1 599.3,136.2 599.8,136.2 600.3,136.3 600.8,136.4 601.3,136.4 601.8,136.5 602.3,136.5 602.8,136.6 603.3,136.7 603.8,136.7 604.3,136.8 604.8,136.8 605.3,136.8 605.8,136.9 606.3,136.9 606.8,136.9 607.3,137.0 607.8,137.0 608.3,137.0 608.8,137.1 609.3,137.1 609.8,137.1 610.3,137.1 610.8,137.2 611.3,137.2 611.8,137.2 612.3,137.2 612.8,137.2 613.3,137.2 613.8,137.3 614.3,137.3 614.8,137.3 615.3,137.3 615.8,137.3 616.3,137.3 616.8,137.3 617.3,137.3 617.8,137.3 618.3,137.3 618.8,137.3 619.3,137.3 619.8,137.4 620.3,137.4 620.8,137.4 621.3,137.4 621.8,137.4 622.3,137.4 622.8,137.4 623.3,137.4 623.8,137.4 624.3,137.4 624.8,137.4 625.3,137.4 625.8,137.4 626.3,137.4 626.8,137.4 627.3,137.4 627.8,137.4 628.3,137.4 628.8,137.4 629.3,137.4 629.8,137.4 630.3,137.4 630.8,137.4 631.3,137.4 631.8,137.4 632.3,137.4 632.8,137.4 633.3,137.4 633.8,137.4 634.3,137.4 634.8,137.4 635.3,137.4 635.8,137.4 636.3,137.4 636.8,137.4 637.3,137.4 637.8,137.4 638.3,137.4 638.8,137.4 639.3,137.4 639.8,137.4 640.3,137.4 640.8,137.4 641.3,137.4 641.8,137.4 642.3,137.4 642.8,137.4 643.3,137.4 643.8,137.4 644.3,137.4 644.8,137.4 645.3,137.4 645.8,137.4 646.3,137.4 646.8,137.4 647.3,137.4 647.8,137.4 648.3,137.4 648.8,137.4 649.3,137.4 649.8,137.4 650.3,137.4 650.8,137.4 651.3,137.4 651.8,137.4 652.3,137.4 652.8,137.4 653.3,137.4 653.8,137.4 654.3,137.4 654.8,137.4 655.3,137.4 655.8,137.4 656.3,137.4 656.8,137.4 657.3,137.4 657.8,137.4 658.3,137.4 658.8,137.4 659.3,137.4 659.8,137.4 660.3,137.4 660.8,137.4 661.3,137.4 661.8,137.4 662.3,137.4 662.8,137.4 663.3,137.4 663.8,137.4 664.3,137.4 664.8,137.4 665.3,137.4 665.8,137.4 666.3,137.4 666.8,137.4 667.3,137.4 667.8,137.4 668.3,137.4 668.8,137.4 669.3,137.4 669.8,137.4 670.3,137.4" fill="none" stroke="#f83c20" stroke-width="1.5" stroke-linejoin="round"/>
<polyline points="490.3,137.4 490.8,137.4 491.3,137.4 491.8,137.4 492.3,137.4 492.8,137.4 493.3,137.4 493.8,137.4 494.3,137.4 494.8,137.4 495.3,137.4 495.8,137.4 496.3,137.4 496.8,137.4 497.3,137.4 497.8,137.4 498.3,137.4 498.8,137.4 499.3,137.4 499.8,137.4 500.3,137.4 500.8,137.3 501.3,137.3 501.8,137.3 502.3,137.3 502.8,137.3 503.3,137.3 503.8,137.3 504.3,137.3 504.8,137.2 505.3,137.2 505.8,137.2 506.3,137.2 506.8,137.1 507.3,137.1 507.8,137.0 508.3,137.0 508.8,136.9 509.3,136.9 509.8,136.8 510.3,136.7 510.8,136.7 511.3,136.6 511.8,136.5 512.3,136.4 512.8,136.2 513.3,136.1 513.8,136.0 514.3,135.8 514.8,135.6 515.3,135.4 515.8,135.2 516.3,135.0 516.8,134.8 517.3,134.5 517.8,134.3 518.3,134.0 518.8,133.7 519.3,133.3 519.8,133.0 520.3,132.6 520.8,132.2 521.3,131.8 521.8,131.3 522.3,130.9 522.8,130.4 523.3,129.8 523.8,129.3 524.3,128.7 524.8,128.1 525.3,127.5 525.8,126.8 526.3,126.2 526.8,125.5 527.3,124.8 527.8,124.1 528.3,123.3 528.8,122.6 529.3,121.8 529.8,121.0 530.3,120.2 530.8,119.4 531.3,118.6 531.8,117.8 532.3,117.0 532.8,116.2 533.3,115.4 533.8,114.6 534.3,113.8 534.8,113.0 535.3,112.3 535.8,111.6 536.3,110.9 536.8,110.2 537.3,109.6 537.8,109.0 538.3,108.4 538.8,107.9 539.3,107.4 539.8,107.0 540.3,106.6 540.8,106.2 541.3,105.9 541.8,105.7 542.3,105.5 542.8,105.4 543.3,105.3 543.8,105.3 544.3,105.3 544.8,105.4 545.3,105.6 545.8,105.8 546.3,106.0 546.8,106.4 547.3,106.7 547.8,107.1 548.3,107.6 548.8,108.1 549.3,108.6 549.8,109.2 550.3,109.8 550.8,110.5 551.3,111.1 551.8,111.8 552.3,112.6 552.8,113.3 553.3,114.1 553.8,114.9 554.3,115.7 554.8,116.5 555.3,117.3 555.8,118.1 556.3,118.9 556.8,119.7 557.3,120.5 557.8,121.3 558.3,122.1 558.8,122.9 559.3,123.6 559.8,124.4 560.3,125.1 560.8,125.8 561.3,126.5 561.8,127.1 562.3,127.7 562.8,128.4 563.3,128.9 563.8,129.5 564.3,130.0 564.8,130.6 565.3,131.0 565.8,131.5 566.3,132.0 566.8,132.4 567.3,132.8 567.8,133.1 568.3,133.5 568.8,133.8 569.3,134.1 569.8,134.4 570.3,134.6 570.8,134.9 571.3,135.1 571.8,135.3 572.3,135.5 572.8,135.7 573.3,135.9 573.8,136.0 574.3,136.2 574.8,136.3 575.3,136.4 575.8,136.5 576.3,136.6 576.8,136.7 577.3,136.8 577.8,136.8 578.3,136.9 578.8,137.0 579.3,137.0 579.8,137.1 580.3,137.1 580.8,137.1 581.3,137.2 581.8,137.2 582.3,137.2 582.8,137.2 583.3,137.3 583.8,137.3 584.3,137.3 584.8,137.3 585.3,137.3 585.8,137.3 586.3,137.3 586.8,137.3 587.3,137.4 587.8,137.4 588.3,137.4 588.8,137.4 589.3,137.4 589.8,137.4 590.3,137.4 590.8,137.4 591.3,137.4 591.8,137.4 592.3,137.4 592.8,137.4 593.3,137.4 593.8,137.4 594.3,137.4 594.8,137.4 595.3,137.4 595.8,137.4 596.3,137.4 596.8,137.4 597.3,137.4 597.8,137.4 598.3,137.4 598.8,137.4 599.3,137.4 599.8,137.4 600.3,137.4 600.8,137.4 601.3,137.4 601.8,137.4 602.3,137.4 602.8,137.4 603.3,137.4 603.8,137.4 604.3,137.4 604.8,137.4 605.3,137.4 605.8,137.4 606.3,137.4 606.8,137.4 607.3,137.4 607.8,137.4 608.3,137.4 608.8,137.4 609.3,137.4 609.8,137.4 610.3,137.4 610.8,137.4 611.3,137.4 611.8,137.4 612.3,137.4 612.8,137.4 613.3,137.4 613.8,137.4 614.3,137.4 614.8,137.4 615.3,137.4 615.8,137.4 616.3,137.4 616.8,137.4 617.3,137.4 617.8,137.4 618.3,137.4 618.8,137.4 619.3,137.4 619.8,137.4 620.3,137.4 620.8,137.4 621.3,137.4 621.8,137.4 622.3,137.4 622.8,137.4 623.3,137.4 623.8,137.4 624.3,137.4 624.8,137.4 625.3,137.4 625.8,137.4 626.3,137.4 626.8,137.4 627.3,137.4 627.8,137.4 628.3,137.4 628.8,137.4 629.3,137.4 629.8,137.4 630.3,137.4 630.8,137.4 631.3,137.4 631.8,137.4 632.3,137.4 632.8,137.4 633.3,137.4 633.8,137.4 634.3,137.4 634.8,137.4 635.3,137.4 635.8,137.4 636.3,137.4 636.8,137.4 637.3,137.4 637.8,137.4 638.3,137.4 638.8,137.4 639.3,137.4 639.8,137.4 640.3,137.4 640.8,137.4 641.3,137.4 641.8,137.4 642.3,137.4 642.8,137.4 643.3,137.4 643.8,137.4 644.3,137.4 644.8,137.4 645.3,137.4 645.8,137.4 646.3,137.4 646.8,137.4 647.3,137.4 647.8,137.4 648.3,137.4 648.8,137.4 649.3,137.4 649.8,137.4 650.3,137.4 650.8,137.4 651.3,137.4 651.8,137.4 652.3,137.4 652.8,137.4 653.3,137.4 653.8,137.4 654.3,137.4 654.8,137.4 655.3,137.4 655.8,137.4 656.3,137.4 656.8,137.4 657.3,137.4 657.8,137.4 658.3,137.4 658.8,137.4 659.3,137.4 659.8,137.4 660.3,137.4 660.8,137.4 661.3,137.4 661.8,137.4 662.3,137.4 662.8,137.4 663.3,137.4 663.8,137.4 664.3,137.4 664.8,137.4 665.3,137.4 665.8,137.4 666.3,137.4 666.8,137.4 667.3,137.4 667.8,137.4 668.3,137.4 668.8,137.4 669.3,137.4 669.8,137.4 670.3,137.4" fill="none" stroke="#10e010" stroke-width="1.5" stroke-linejoin="round"/>
<polyline points="490.3,137.4 490.8,137.4 491.3,137.4 491.8,137.4 492.3,137.4 492.8,137.4 493.3,137.4 493.8,137.4 494.3,137.4 494.8,137.4 495.3,137.4 495.8,137.4 496.3,137.4 496.8,137.4 497.3,137.4 497.8,137.4 498.3,137.4 498.8,137.4 499.3,137.4 499.8,137.4 500.3,137.3 500.8,137.3 501.3,137.3 501.8,137.3 502.3,137.2 502.8,137.2 503.3,137.1 503.8,137.1 504.3,137.0 504.8,136.9 505.3,136.7 505.8,136.6 506.3,136.3 506.8,136.1 507.3,135.8 507.8,135.4 508.3,135.0 508.8,134.5 509.3,133.9 509.8,133.2 510.3,132.4 510.8,131.4 511.3,130.3 511.8,129.0 512.3,127.5 512.8,125.8 513.3,123.9 513.8,121.8 514.3,119.4 514.8,116.7 515.3,113.7 515.8,110.4 516.3,106.9 516.8,102.9 517.3,98.7 517.8,94.1 518.3,89.3 518.8,84.1 519.3,78.6 519.8,72.9 520.3,66.9" fill="none" stroke="#2a48f5" stroke-width="1.5" stroke-linejoin="round"/>
<polyline points="522.3,50.1 522.8,47.9 523.3,45.7 523.8,43.5 524.3,41.4 524.8,39.3 525.3,37.4 525.8,35.6 526.3,34.0 526.8,32.5 527.3,31.3 527.8,30.2 528.3,29.4 528.8,28.8 529.3,28.5 529.8,28.4 530.3,28.5 530.8,28.9 531.3,29.5 531.8,30.4 532.3,31.5 532.8,32.8 533.3,34.3 533.8,36.0 534.3,37.8 534.8,39.7 535.3,41.8 535.8,43.9 536.3,46.1 536.8,48.3" fill="none" stroke="#2a48f5" stroke-width="1.5" stroke-linejoin="round"/>
<polyline points="538.8,62.0 539.3,68.1 539.8,74.0 540.3,79.7 540.8,85.1 541.3,90.3 541.8,95.1 542.3,99.6 542.8,103.8 543.3,107.6 543.8,111.1 544.3,114.3 544.8,117.3 545.3,119.9 545.8,122.2 546.3,124.3 546.8,126.2 547.3,127.8 547.8,129.3 548.3,130.5 548.8,131.6 549.3,132.5 549.8,133.3 550.3,134.0 550.8,134.6 551.3,135.1 551.8,135.5 552.3,135.9 552.8,136.2 553.3,136.4 553.8,136.6 554.3,136.8 554.8,136.9 555.3,137.0 555.8,137.1 556.3,137.1 556.8,137.2 557.3,137.2 557.8,137.3 558.3,137.3 558.8,137.3 559.3,137.3 559.8,137.4 560.3,137.4 560.8,137.4 561.3,137.4 561.8,137.4 562.3,137.4 562.8,137.4 563.3,137.4 563.8,137.4 564.3,137.4 564.8,137.4 565.3,137.4 565.8,137.4 566.3,137.4 566.8,137.4 567.3,137.4 567.8,137.4 568.3,137.4 568.8,137.4 569.3,137.4 569.8,137.4 570.3,137.4 570.8,137.4 571.3,137.4 571.8,137.4 572.3,137.4 572.8,137.4 573.3,137.4 573.8,137.4 574.3,137.4 574.8,137.4 575.3,137.4 575.8,137.4 576.3,137.4 576.8,137.4 577.3,137.4 577.8,137.4 578.3,137.4 578.8,137.4 579.3,137.4 579.8,137.4 580.3,137.4 580.8,137.4 581.3,137.4 581.8,137.4 582.3,137.4 582.8,137.4 583.3,137.4 583.8,137.4 584.3,137.4 584.8,137.4 585.3,137.4 585.8,137.4 586.3,137.4 586.8,137.4 587.3,137.4 587.8,137.4 588.3,137.4 588.8,137.4 589.3,137.4 589.8,137.4 590.3,137.4 590.8,137.4 591.3,137.4 591.8,137.4 592.3,137.4 592.8,137.4 593.3,137.4 593.8,137.4 594.3,137.4 594.8,137.4 595.3,137.4 595.8,137.4 596.3,137.4 596.8,137.4 597.3,137.4 597.8,137.4 598.3,137.4 598.8,137.4 599.3,137.4 599.8,137.4 600.3,137.4 600.8,137.4 601.3,137.4 601.8,137.4 602.3,137.4 602.8,137.4 603.3,137.4 603.8,137.4 604.3,137.4 604.8,137.4 605.3,137.4 605.8,137.4 606.3,137.4 606.8,137.4 607.3,137.4 607.8,137.4 608.3,137.4 608.8,137.4 609.3,137.4 609.8,137.4 610.3,137.4 610.8,137.4 611.3,137.4 611.8,137.4 612.3,137.4 612.8,137.4 613.3,137.4 613.8,137.4 614.3,137.4 614.8,137.4 615.3,137.4 615.8,137.4 616.3,137.4 616.8,137.4 617.3,137.4 617.8,137.4 618.3,137.4 618.8,137.4 619.3,137.4 619.8,137.4 620.3,137.4 620.8,137.4 621.3,137.4 621.8,137.4 622.3,137.4 622.8,137.4 623.3,137.4 623.8,137.4 624.3,137.4 624.8,137.4 625.3,137.4 625.8,137.4 626.3,137.4 626.8,137.4 627.3,137.4 627.8,137.4 628.3,137.4 628.8,137.4 629.3,137.4 629.8,137.4 630.3,137.4 630.8,137.4 631.3,137.4 631.8,137.4 632.3,137.4 632.8,137.4 633.3,137.4 633.8,137.4 634.3,137.4 634.8,137.4 635.3,137.4 635.8,137.4 636.3,137.4 636.8,137.4 637.3,137.4 637.8,137.4 638.3,137.4 638.8,137.4 639.3,137.4 639.8,137.4 640.3,137.4 640.8,137.4 641.3,137.4 641.8,137.4 642.3,137.4 642.8,137.4 643.3,137.4 643.8,137.4 644.3,137.4 644.8,137.4 645.3,137.4 645.8,137.4 646.3,137.4 646.8,137.4 647.3,137.4 647.8,137.4 648.3,137.4 648.8,137.4 649.3,137.4 649.8,137.4 650.3,137.4 650.8,137.4 651.3,137.4 651.8,137.4 652.3,137.4 652.8,137.4 653.3,137.4 653.8,137.4 654.3,137.4 654.8,137.4 655.3,137.4 655.8,137.4 656.3,137.4 656.8,137.4 657.3,137.4 657.8,137.4 658.3,137.4 658.8,137.4 659.3,137.4 659.8,137.4 660.3,137.4 660.8,137.4 661.3,137.4 661.8,137.4 662.3,137.4 662.8,137.4 663.3,137.4 663.8,137.4 664.3,137.4 664.8,137.4 665.3,137.4 665.8,137.4 666.3,137.4 666.8,137.4 667.3,137.4 667.8,137.4 668.3,137.4 668.8,137.4 669.3,137.4 669.8,137.4 670.3,137.4" fill="none" stroke="#2a48f5" stroke-width="1.5" stroke-linejoin="round"/>
<line x1="490.30" y1="17.30" x2="490.30" y2="50.20" stroke="#000" stroke-width="1.4" />
<line x1="490.30" y1="60.80" x2="490.30" y2="137.40" stroke="#000" stroke-width="1.4" />
<line x1="487.00" y1="50.10" x2="493.60" y2="50.10" stroke="#000" stroke-width="1.4" />
<line x1="487.00" y1="60.80" x2="493.80" y2="60.80" stroke="#000" stroke-width="1.4" />
<line x1="483.70" y1="17.30" x2="490.30" y2="17.30" stroke="#000" stroke-width="1.3" />
<line x1="483.70" y1="30.70" x2="490.30" y2="30.70" stroke="#000" stroke-width="1.3" />
<line x1="483.70" y1="43.90" x2="490.30" y2="43.90" stroke="#000" stroke-width="1.3" />
<line x1="487.60" y1="24.00" x2="490.30" y2="24.00" stroke="#000" stroke-width="1.3" />
<line x1="487.60" y1="37.35" x2="490.30" y2="37.35" stroke="#000" stroke-width="1.3" />
<line x1="485.50" y1="79.95" x2="490.30" y2="79.95" stroke="#000" stroke-width="1.3" />
<line x1="485.50" y1="99.10" x2="490.30" y2="99.10" stroke="#000" stroke-width="1.3" />
<line x1="485.50" y1="118.25" x2="490.30" y2="118.25" stroke="#000" stroke-width="1.3" />
<line x1="485.50" y1="137.40" x2="490.30" y2="137.40" stroke="#000" stroke-width="1.3" />
<line x1="487.60" y1="70.40" x2="490.30" y2="70.40" stroke="#000" stroke-width="1.3" />
<line x1="487.60" y1="89.55" x2="490.30" y2="89.55" stroke="#000" stroke-width="1.3" />
<line x1="487.60" y1="108.70" x2="490.30" y2="108.70" stroke="#000" stroke-width="1.3" />
<line x1="487.60" y1="127.85" x2="490.30" y2="127.85" stroke="#000" stroke-width="1.3" />
<line x1="489.60" y1="137.40" x2="670.60" y2="137.40" stroke="#000" stroke-width="1.4" />
<line x1="490.30" y1="137.40" x2="490.30" y2="141.60" stroke="#000" stroke-width="1.3" />
<line x1="508.30" y1="137.40" x2="508.30" y2="140.00" stroke="#000" stroke-width="1.3" />
<line x1="526.30" y1="137.40" x2="526.30" y2="141.60" stroke="#000" stroke-width="1.3" />
<line x1="544.30" y1="137.40" x2="544.30" y2="140.00" stroke="#000" stroke-width="1.3" />
<line x1="562.30" y1="137.40" x2="562.30" y2="141.60" stroke="#000" stroke-width="1.3" />
<line x1="580.30" y1="137.40" x2="580.30" y2="140.00" stroke="#000" stroke-width="1.3" />
<line x1="598.30" y1="137.40" x2="598.30" y2="141.60" stroke="#000" stroke-width="1.3" />
<line x1="616.30" y1="137.40" x2="616.30" y2="140.00" stroke="#000" stroke-width="1.3" />
<line x1="634.30" y1="137.40" x2="634.30" y2="141.60" stroke="#000" stroke-width="1.3" />
<line x1="652.30" y1="137.40" x2="652.30" y2="140.00" stroke="#000" stroke-width="1.3" />
<line x1="670.30" y1="137.40" x2="670.30" y2="141.60" stroke="#000" stroke-width="1.3" />
<text x="449.81" y="21.79" font-family="Liberation Sans" font-weight="bold" font-size="11.40" fill="#000">50000</text>
<text x="449.81" y="34.64" font-family="Liberation Sans" font-weight="bold" font-size="11.40" fill="#000">40000</text>
<text x="449.81" y="47.74" font-family="Liberation Sans" font-weight="bold" font-size="11.40" fill="#000">30000</text>
<text x="451.98" y="64.75" font-family="Liberation Sans" font-weight="bold" font-size="11.30" fill="#000">20000</text>
<text x="451.98" y="83.95" font-family="Liberation Sans" font-weight="bold" font-size="11.30" fill="#000">15000</text>
<text x="451.98" y="103.05" font-family="Liberation Sans" font-weight="bold" font-size="11.30" fill="#000">10000</text>
<text x="458.25" y="122.16" font-family="Liberation Sans" font-weight="bold" font-size="11.30" fill="#000">5000</text>
<text x="477.12" y="141.36" font-family="Liberation Sans" font-weight="bold" font-size="11.30" fill="#000">0</text>
<text x="489.70" y="155.20" font-family="Liberation Sans" font-weight="bold" font-size="11.30" text-anchor="middle" fill="#000">-0.1</text>
<text x="526.30" y="155.20" font-family="Liberation Sans" font-weight="bold" font-size="11.30" text-anchor="middle" fill="#000">0.0</text>
<text x="562.30" y="155.20" font-family="Liberation Sans" font-weight="bold" font-size="11.30" text-anchor="middle" fill="#000">0.1</text>
<text x="598.30" y="155.20" font-family="Liberation Sans" font-weight="bold" font-size="11.30" text-anchor="middle" fill="#000">0.2</text>
<text x="634.30" y="155.20" font-family="Liberation Sans" font-weight="bold" font-size="11.30" text-anchor="middle" fill="#000">0.3</text>
<text x="670.30" y="155.20" font-family="Liberation Sans" font-weight="bold" font-size="11.30" text-anchor="middle" fill="#000">0.4</text>
<text x="540.52" y="171.60" font-family="Liberation Sans" font-weight="bold" font-size="11.30" textLength="80.39" lengthAdjust="spacingAndGlyphs" fill="#000">Amplitude (pA)</text>
<text transform="translate(443.00,92.50) rotate(-90)" x="-0.74" y="0" font-family="Liberation Sans" font-weight="bold" font-size="11.30" textLength="34.64" lengthAdjust="spacingAndGlyphs" fill="#000">Points</text>
<text x="539.50" y="19.90" font-family="Liberation Sans" font-weight="bold" font-size="13.10" textLength="145.23" lengthAdjust="spacingAndGlyphs" fill="#000">Y46A-KCNE1-hKCNQ1</text>
<line x1="589.80" y1="64.00" x2="603.10" y2="64.00" stroke="#2a48f5" stroke-width="1.5" />
<text x="610.21" y="68.80" font-family="Liberation Sans" font-weight="normal" font-size="11.20" textLength="22.81" lengthAdjust="spacingAndGlyphs" fill="#000">0 pA</text>
<line x1="589.80" y1="80.60" x2="603.10" y2="80.60" stroke="#10e010" stroke-width="1.5" />
<text x="610.21" y="85.00" font-family="Liberation Sans" font-weight="normal" font-size="11.20" textLength="44.63" lengthAdjust="spacingAndGlyphs" fill="#000">0.046 pA</text>
<line x1="589.80" y1="97.00" x2="603.10" y2="97.00" stroke="#f83c20" stroke-width="1.5" />
<text x="610.21" y="101.30" font-family="Liberation Sans" font-weight="normal" font-size="11.20" textLength="44.63" lengthAdjust="spacingAndGlyphs" fill="#000">0.104 pA</text>
<text x="413.10" y="183.89" font-family="Liberation Sans" font-weight="bold" font-size="20.91" textLength="12.71" lengthAdjust="spacingAndGlyphs" fill="#000" >e</text>
<g fill="#8f8f8f" stroke="#6e6e6e" stroke-width="0.45"><rect x="502.66" y="300.90" width="1.795" height="0.60"/><rect x="504.46" y="300.44" width="1.795" height="1.06"/><rect x="506.25" y="299.18" width="1.795" height="2.32"/><rect x="508.05" y="296.50" width="1.795" height="5.00"/><rect x="509.84" y="291.15" width="1.795" height="10.35"/><rect x="511.64" y="279.73" width="1.795" height="21.77"/><rect x="513.43" y="262.02" width="1.795" height="39.48"/><rect x="515.23" y="240.43" width="1.795" height="61.07"/><rect x="517.02" y="214.45" width="1.795" height="87.05"/><rect x="518.82" y="192.11" width="1.795" height="109.39"/><rect x="520.61" y="178.82" width="1.795" height="122.68"/><rect x="522.41" y="184.64" width="1.795" height="116.86"/><rect x="524.20" y="196.18" width="1.795" height="105.32"/><rect x="526.00" y="211.91" width="1.795" height="89.59"/><rect x="527.79" y="230.50" width="1.795" height="71.00"/><rect x="529.59" y="241.81" width="1.795" height="59.69"/><rect x="531.38" y="249.68" width="1.795" height="51.82"/><rect x="533.18" y="253.61" width="1.795" height="47.89"/><rect x="534.97" y="255.45" width="1.795" height="46.05"/><rect x="536.77" y="255.47" width="1.795" height="46.03"/><rect x="538.56" y="257.06" width="1.795" height="44.44"/><rect x="540.36" y="255.54" width="1.795" height="45.96"/><rect x="542.15" y="260.40" width="1.795" height="41.10"/><rect x="543.95" y="262.78" width="1.795" height="38.72"/><rect x="545.74" y="263.11" width="1.795" height="38.39"/><rect x="547.54" y="267.32" width="1.795" height="34.18"/><rect x="549.33" y="269.68" width="1.795" height="31.82"/><rect x="551.12" y="270.93" width="1.795" height="30.57"/><rect x="552.92" y="273.40" width="1.795" height="28.10"/><rect x="554.72" y="274.05" width="1.795" height="27.45"/><rect x="556.51" y="276.56" width="1.795" height="24.94"/><rect x="558.31" y="277.39" width="1.795" height="24.11"/><rect x="560.10" y="278.26" width="1.795" height="23.24"/><rect x="561.90" y="278.41" width="1.795" height="23.09"/><rect x="563.69" y="278.64" width="1.795" height="22.86"/><rect x="565.49" y="279.19" width="1.795" height="22.31"/><rect x="567.28" y="279.23" width="1.795" height="22.27"/><rect x="569.08" y="280.15" width="1.795" height="21.35"/><rect x="570.87" y="281.67" width="1.795" height="19.83"/><rect x="572.67" y="282.30" width="1.795" height="19.20"/><rect x="574.46" y="282.73" width="1.795" height="18.77"/><rect x="576.25" y="283.41" width="1.795" height="18.09"/><rect x="578.05" y="284.57" width="1.795" height="16.93"/><rect x="579.85" y="285.57" width="1.795" height="15.93"/><rect x="581.64" y="286.32" width="1.795" height="15.18"/><rect x="583.44" y="287.96" width="1.795" height="13.54"/><rect x="585.23" y="288.96" width="1.795" height="12.54"/><rect x="587.03" y="289.72" width="1.795" height="11.78"/><rect x="588.82" y="291.34" width="1.795" height="10.16"/><rect x="590.62" y="292.36" width="1.795" height="9.14"/><rect x="592.41" y="293.15" width="1.795" height="8.35"/><rect x="594.21" y="293.98" width="1.795" height="7.52"/><rect x="596.00" y="294.85" width="1.795" height="6.65"/><rect x="597.80" y="295.46" width="1.795" height="6.04"/><rect x="599.59" y="296.38" width="1.795" height="5.12"/><rect x="601.38" y="297.29" width="1.795" height="4.21"/><rect x="603.18" y="297.60" width="1.795" height="3.90"/><rect x="604.98" y="298.19" width="1.795" height="3.31"/><rect x="606.77" y="298.70" width="1.795" height="2.80"/><rect x="608.57" y="299.16" width="1.795" height="2.34"/><rect x="610.36" y="299.63" width="1.795" height="1.87"/><rect x="612.16" y="299.96" width="1.795" height="1.54"/><rect x="613.95" y="300.13" width="1.795" height="1.37"/><rect x="615.75" y="300.39" width="1.795" height="1.11"/><rect x="617.54" y="300.65" width="1.795" height="0.85"/><rect x="619.34" y="300.79" width="1.795" height="0.71"/><rect x="621.13" y="300.94" width="1.795" height="0.56"/></g>
<polyline points="488.3,301.5 488.8,301.5 489.3,301.5 489.8,301.4 490.3,301.4 490.8,301.4 491.3,301.4 491.8,301.4 492.3,301.4 492.8,301.4 493.3,301.4 493.8,301.4 494.3,301.4 494.8,301.4 495.3,301.4 495.8,301.4 496.3,301.4 496.8,301.3 497.3,301.3 497.8,301.3 498.3,301.3 498.8,301.3 499.3,301.3 499.8,301.3 500.3,301.2 500.8,301.2 501.3,301.2 501.8,301.2 502.3,301.2 502.8,301.1 503.3,301.1 503.8,301.1 504.3,301.1 504.8,301.0 505.3,301.0 505.8,301.0 506.3,300.9 506.8,300.9 507.3,300.9 507.8,300.8 508.3,300.8 508.8,300.7 509.3,300.7 509.8,300.6 510.3,300.6 510.8,300.5 511.3,300.5 511.8,300.4 512.3,300.4 512.8,300.3 513.3,300.2 513.8,300.1 514.3,300.1 514.8,300.0 515.3,299.9 515.8,299.8 516.3,299.7 516.8,299.6 517.3,299.5 517.8,299.4 518.3,299.3 518.8,299.2 519.3,299.1 519.8,299.0 520.3,298.9 520.8,298.8 521.3,298.6 521.8,298.5 522.3,298.3 522.8,298.2 523.3,298.0 523.8,297.9 524.3,297.7 524.8,297.6 525.3,297.4 525.8,297.2 526.3,297.0 526.8,296.9 527.3,296.7 527.8,296.5 528.3,296.3 528.8,296.1 529.3,295.9 529.8,295.6 530.3,295.4 530.8,295.2 531.3,295.0 531.8,294.7 532.3,294.5 532.8,294.2 533.3,294.0 533.8,293.7 534.3,293.5 534.8,293.2 535.3,293.0 535.8,292.7 536.3,292.4 536.8,292.1 537.3,291.9 537.8,291.6 538.3,291.3 538.8,291.0 539.3,290.7 539.8,290.4 540.3,290.1 540.8,289.8 541.3,289.5 541.8,289.2 542.3,288.9 542.8,288.6 543.3,288.3 543.8,288.1 544.3,287.8 544.8,287.5 545.3,287.2 545.8,286.9 546.3,286.6 546.8,286.3 547.3,286.0 547.8,285.7 548.3,285.5 548.8,285.2 549.3,284.9 549.8,284.6 550.3,284.4 550.8,284.1 551.3,283.9 551.8,283.6 552.3,283.4 552.8,283.2 553.3,283.0 553.8,282.7 554.3,282.5 554.8,282.3 555.3,282.1 555.8,282.0 556.3,281.8 556.8,281.6 557.3,281.5 557.8,281.3 558.3,281.2 558.8,281.1 559.3,280.9 559.8,280.8 560.3,280.8 560.8,280.7 561.3,280.6 561.8,280.5 562.3,280.5 562.8,280.5 563.3,280.4 563.8,280.4 564.3,280.4 564.8,280.4 565.3,280.4 565.8,280.5 566.3,280.5 566.8,280.6 567.3,280.6 567.8,280.7 568.3,280.8 568.8,280.9 569.3,281.0 569.8,281.1 570.3,281.2 570.8,281.4 571.3,281.5 571.8,281.7 572.3,281.9 572.8,282.0 573.3,282.2 573.8,282.4 574.3,282.6 574.8,282.8 575.3,283.0 575.8,283.3 576.3,283.5 576.8,283.7 577.3,284.0 577.8,284.2 578.3,284.5 578.8,284.8 579.3,285.0 579.8,285.3 580.3,285.6 580.8,285.8 581.3,286.1 581.8,286.4 582.3,286.7 582.8,287.0 583.3,287.3 583.8,287.6 584.3,287.9 584.8,288.2 585.3,288.5 585.8,288.8 586.3,289.1 586.8,289.4 587.3,289.7 587.8,290.0 588.3,290.2 588.8,290.5 589.3,290.8 589.8,291.1 590.3,291.4 590.8,291.7 591.3,292.0 591.8,292.2 592.3,292.5 592.8,292.8 593.3,293.1 593.8,293.3 594.3,293.6 594.8,293.8 595.3,294.1 595.8,294.3 596.3,294.6 596.8,294.8 597.3,295.1 597.8,295.3 598.3,295.5 598.8,295.7 599.3,295.9 599.8,296.1 600.3,296.3 600.8,296.5 601.3,296.7 601.8,296.9 602.3,297.1 602.8,297.3 603.3,297.5 603.8,297.6 604.3,297.8 604.8,298.0 605.3,298.1 605.8,298.3 606.3,298.4 606.8,298.5 607.3,298.7 607.8,298.8 608.3,298.9 608.8,299.0 609.3,299.2 609.8,299.3 610.3,299.4 610.8,299.5 611.3,299.6 611.8,299.7 612.3,299.8 612.8,299.9 613.3,299.9 613.8,300.0 614.3,300.1 614.8,300.2 615.3,300.2 615.8,300.3 616.3,300.4 616.8,300.4 617.3,300.5 617.8,300.6 618.3,300.6 618.8,300.7 619.3,300.7 619.8,300.8 620.3,300.8 620.8,300.8 621.3,300.9 621.8,300.9 622.3,301.0 622.8,301.0 623.3,301.0 623.8,301.0 624.3,301.1 624.8,301.1 625.3,301.1 625.8,301.2 626.3,301.2 626.8,301.2 627.3,301.2 627.8,301.2 628.3,301.3 628.8,301.3 629.3,301.3 629.8,301.3 630.3,301.3 630.8,301.3 631.3,301.3 631.8,301.3 632.3,301.4 632.8,301.4 633.3,301.4 633.8,301.4 634.3,301.4 634.8,301.4 635.3,301.4 635.8,301.4 636.3,301.4 636.8,301.4 637.3,301.4 637.8,301.4 638.3,301.4 638.8,301.4 639.3,301.5 639.8,301.5 640.3,301.5 640.8,301.5 641.3,301.5 641.8,301.5 642.3,301.5 642.8,301.5 643.3,301.5 643.8,301.5 644.3,301.5 644.8,301.5 645.3,301.5 645.8,301.5 646.3,301.5 646.8,301.5 647.3,301.5 647.8,301.5 648.3,301.5 648.8,301.5 649.3,301.5 649.8,301.5 650.3,301.5 650.8,301.5 651.3,301.5 651.8,301.5 652.3,301.5 652.8,301.5 653.3,301.5 653.8,301.5 654.3,301.5 654.8,301.5 655.3,301.5 655.8,301.5 656.3,301.5 656.8,301.5 657.3,301.5 657.8,301.5 658.3,301.5 658.8,301.5 659.3,301.5 659.8,301.5 660.3,301.5 660.8,301.5 661.3,301.5 661.8,301.5 662.3,301.5 662.8,301.5 663.3,301.5 663.8,301.5 664.3,301.5 664.8,301.5 665.3,301.5 665.8,301.5 666.3,301.5 666.8,301.5 667.3,301.5 667.8,301.5" fill="none" stroke="#f83c20" stroke-width="1.5" stroke-linejoin="round"/>
<polyline points="488.3,301.5 488.8,301.5 489.3,301.5 489.8,301.5 490.3,301.5 490.8,301.5 491.3,301.5 491.8,301.5 492.3,301.5 492.8,301.5 493.3,301.5 493.8,301.5 494.3,301.5 494.8,301.5 495.3,301.5 495.8,301.5 496.3,301.5 496.8,301.5 497.3,301.5 497.8,301.5 498.3,301.5 498.8,301.5 499.3,301.5 499.8,301.5 500.3,301.5 500.8,301.5 501.3,301.5 501.8,301.5 502.3,301.5 502.8,301.5 503.3,301.4 503.8,301.4 504.3,301.4 504.8,301.4 505.3,301.4 505.8,301.4 506.3,301.3 506.8,301.3 507.3,301.3 507.8,301.2 508.3,301.2 508.8,301.1 509.3,301.0 509.8,301.0 510.3,300.9 510.8,300.8 511.3,300.7 511.8,300.5 512.3,300.4 512.8,300.2 513.3,300.0 513.8,299.8 514.3,299.6 514.8,299.3 515.3,299.0 515.8,298.7 516.3,298.3 516.8,297.9 517.3,297.5 517.8,297.0 518.3,296.5 518.8,296.0 519.3,295.4 519.8,294.8 520.3,294.1 520.8,293.4 521.3,292.6 521.8,291.8 522.3,291.0 522.8,290.1 523.3,289.2 523.8,288.2 524.3,287.2 524.8,286.2 525.3,285.1 525.8,284.1 526.3,283.0 526.8,281.9 527.3,280.8 527.8,279.7 528.3,278.7 528.8,277.6 529.3,276.6 529.8,275.6 530.3,274.6 530.8,273.7 531.3,272.9 531.8,272.1 532.3,271.3 532.8,270.7 533.3,270.1 533.8,269.6 534.3,269.2 534.8,268.9 535.3,268.7 535.8,268.5 536.3,268.5 536.8,268.6 537.3,268.7 537.8,269.0 538.3,269.3 538.8,269.8 539.3,270.3 539.8,270.9 540.3,271.6 540.8,272.4 541.3,273.2 541.8,274.1 542.3,275.0 542.8,276.0 543.3,277.0 543.8,278.0 544.3,279.1 544.8,280.2 545.3,281.3 545.8,282.4 546.3,283.4 546.8,284.5 547.3,285.6 547.8,286.6 548.3,287.6 548.8,288.6 549.3,289.5 549.8,290.4 550.3,291.3 550.8,292.1 551.3,292.9 551.8,293.7 552.3,294.4 552.8,295.0 553.3,295.6 553.8,296.2 554.3,296.7 554.8,297.2 555.3,297.7 555.8,298.1 556.3,298.5 556.8,298.8 557.3,299.1 557.8,299.4 558.3,299.7 558.8,299.9 559.3,300.1 559.8,300.3 560.3,300.4 560.8,300.6 561.3,300.7 561.8,300.8 562.3,300.9 562.8,301.0 563.3,301.1 563.8,301.1 564.3,301.2 564.8,301.2 565.3,301.3 565.8,301.3 566.3,301.3 566.8,301.4 567.3,301.4 567.8,301.4 568.3,301.4 568.8,301.4 569.3,301.4 569.8,301.5 570.3,301.5 570.8,301.5 571.3,301.5 571.8,301.5 572.3,301.5 572.8,301.5 573.3,301.5 573.8,301.5 574.3,301.5 574.8,301.5 575.3,301.5 575.8,301.5 576.3,301.5 576.8,301.5 577.3,301.5 577.8,301.5 578.3,301.5 578.8,301.5 579.3,301.5 579.8,301.5 580.3,301.5 580.8,301.5 581.3,301.5 581.8,301.5 582.3,301.5 582.8,301.5 583.3,301.5 583.8,301.5 584.3,301.5 584.8,301.5 585.3,301.5 585.8,301.5 586.3,301.5 586.8,301.5 587.3,301.5 587.8,301.5 588.3,301.5 588.8,301.5 589.3,301.5 589.8,301.5 590.3,301.5 590.8,301.5 591.3,301.5 591.8,301.5 592.3,301.5 592.8,301.5 593.3,301.5 593.8,301.5 594.3,301.5 594.8,301.5 595.3,301.5 595.8,301.5 596.3,301.5 596.8,301.5 597.3,301.5 597.8,301.5 598.3,301.5 598.8,301.5 599.3,301.5 599.8,301.5 600.3,301.5 600.8,301.5 601.3,301.5 601.8,301.5 602.3,301.5 602.8,301.5 603.3,301.5 603.8,301.5 604.3,301.5 604.8,301.5 605.3,301.5 605.8,301.5 606.3,301.5 606.8,301.5 607.3,301.5 607.8,301.5 608.3,301.5 608.8,301.5 609.3,301.5 609.8,301.5 610.3,301.5 610.8,301.5 611.3,301.5 611.8,301.5 612.3,301.5 612.8,301.5 613.3,301.5 613.8,301.5 614.3,301.5 614.8,301.5 615.3,301.5 615.8,301.5 616.3,301.5 616.8,301.5 617.3,301.5 617.8,301.5 618.3,301.5 618.8,301.5 619.3,301.5 619.8,301.5 620.3,301.5 620.8,301.5 621.3,301.5 621.8,301.5 622.3,301.5 622.8,301.5 623.3,301.5 623.8,301.5 624.3,301.5 624.8,301.5 625.3,301.5 625.8,301.5 626.3,301.5 626.8,301.5 627.3,301.5 627.8,301.5 628.3,301.5 628.8,301.5 629.3,301.5 629.8,301.5 630.3,301.5 630.8,301.5 631.3,301.5 631.8,301.5 632.3,301.5 632.8,301.5 633.3,301.5 633.8,301.5 634.3,301.5 634.8,301.5 635.3,301.5 635.8,301.5 636.3,301.5 636.8,301.5 637.3,301.5 637.8,301.5 638.3,301.5 638.8,301.5 639.3,301.5 639.8,301.5 640.3,301.5 640.8,301.5 641.3,301.5 641.8,301.5 642.3,301.5 642.8,301.5 643.3,301.5 643.8,301.5 644.3,301.5 644.8,301.5 645.3,301.5 645.8,301.5 646.3,301.5 646.8,301.5 647.3,301.5 647.8,301.5 648.3,301.5 648.8,301.5 649.3,301.5 649.8,301.5 650.3,301.5 650.8,301.5 651.3,301.5 651.8,301.5 652.3,301.5 652.8,301.5 653.3,301.5 653.8,301.5 654.3,301.5 654.8,301.5 655.3,301.5 655.8,301.5 656.3,301.5 656.8,301.5 657.3,301.5 657.8,301.5 658.3,301.5 658.8,301.5 659.3,301.5 659.8,301.5 660.3,301.5 660.8,301.5 661.3,301.5 661.8,301.5 662.3,301.5 662.8,301.5 663.3,301.5 663.8,301.5 664.3,301.5 664.8,301.5 665.3,301.5 665.8,301.5 666.3,301.5 666.8,301.5 667.3,301.5 667.8,301.5" fill="none" stroke="#10e010" stroke-width="1.5" stroke-linejoin="round"/>
<line x1="488.30" y1="181.20" x2="488.30" y2="301.50" stroke="#000" stroke-width="1.4" />
<line x1="487.60" y1="301.50" x2="667.90" y2="301.50" stroke="#000" stroke-width="1.4" />
<polyline points="488.3,301.5 488.8,301.5 489.3,301.5 489.8,301.5 490.3,301.5 490.8,301.5 491.3,301.5 491.8,301.5 492.3,301.5 492.8,301.5 493.3,301.5 493.8,301.5 494.3,301.5 494.8,301.5 495.3,301.5 495.8,301.5 496.3,301.5 496.8,301.5 497.3,301.5 497.8,301.5 498.3,301.5 498.8,301.5 499.3,301.5 499.8,301.5 500.3,301.5 500.8,301.5 501.3,301.5 501.8,301.5 502.3,301.4 502.8,301.4 503.3,301.4 503.8,301.3 504.3,301.3 504.8,301.2 505.3,301.1 505.8,300.9 506.3,300.7 506.8,300.4 507.3,300.0 507.8,299.5 508.3,298.8 508.8,298.0 509.3,297.0 509.8,295.7 510.3,294.2 510.8,292.4 511.3,290.2 511.8,287.6 512.3,284.6 512.8,281.1 513.3,277.2 513.8,272.9 514.3,268.1 514.8,262.9 515.3,257.3 515.8,251.4 516.3,245.3 516.8,239.1 517.3,232.9 517.8,226.8 518.3,221.0 518.8,215.6 519.3,210.7 519.8,206.5 520.3,203.1 520.8,200.6 521.3,199.1 521.8,198.6 522.3,199.1 522.8,200.6 523.3,203.1 523.8,206.5 524.3,210.7 524.8,215.6 525.3,221.0 525.8,226.8 526.3,232.9 526.8,239.1 527.3,245.3 527.8,251.4 528.3,257.3 528.8,262.9 529.3,268.1 529.8,272.9 530.3,277.2 530.8,281.1 531.3,284.6 531.8,287.6 532.3,290.2 532.8,292.4 533.3,294.2 533.8,295.7 534.3,297.0 534.8,298.0 535.3,298.8 535.8,299.5 536.3,300.0 536.8,300.4 537.3,300.7 537.8,300.9 538.3,301.1 538.8,301.2 539.3,301.3 539.8,301.3 540.3,301.4 540.8,301.4 541.3,301.4 541.8,301.5 542.3,301.5 542.8,301.5 543.3,301.5 543.8,301.5 544.3,301.5 544.8,301.5 545.3,301.5 545.8,301.5 546.3,301.5 546.8,301.5 547.3,301.5 547.8,301.5 548.3,301.5 548.8,301.5 549.3,301.5 549.8,301.5 550.3,301.5 550.8,301.5 551.3,301.5 551.8,301.5 552.3,301.5 552.8,301.5 553.3,301.5 553.8,301.5 554.3,301.5 554.8,301.5 555.3,301.5 555.8,301.5 556.3,301.5 556.8,301.5 557.3,301.5 557.8,301.5 558.3,301.5 558.8,301.5 559.3,301.5 559.8,301.5 560.3,301.5 560.8,301.5 561.3,301.5 561.8,301.5 562.3,301.5 562.8,301.5 563.3,301.5 563.8,301.5 564.3,301.5 564.8,301.5 565.3,301.5 565.8,301.5 566.3,301.5 566.8,301.5 567.3,301.5 567.8,301.5 568.3,301.5 568.8,301.5 569.3,301.5 569.8,301.5 570.3,301.5 570.8,301.5 571.3,301.5 571.8,301.5 572.3,301.5 572.8,301.5 573.3,301.5 573.8,301.5 574.3,301.5 574.8,301.5 575.3,301.5 575.8,301.5 576.3,301.5 576.8,301.5 577.3,301.5 577.8,301.5 578.3,301.5 578.8,301.5 579.3,301.5 579.8,301.5 580.3,301.5 580.8,301.5 581.3,301.5 581.8,301.5 582.3,301.5 582.8,301.5 583.3,301.5 583.8,301.5 584.3,301.5 584.8,301.5 585.3,301.5 585.8,301.5 586.3,301.5 586.8,301.5 587.3,301.5 587.8,301.5 588.3,301.5 588.8,301.5 589.3,301.5 589.8,301.5 590.3,301.5 590.8,301.5 591.3,301.5 591.8,301.5 592.3,301.5 592.8,301.5 593.3,301.5 593.8,301.5 594.3,301.5 594.8,301.5 595.3,301.5 595.8,301.5 596.3,301.5 596.8,301.5 597.3,301.5 597.8,301.5 598.3,301.5 598.8,301.5 599.3,301.5 599.8,301.5 600.3,301.5 600.8,301.5 601.3,301.5 601.8,301.5 602.3,301.5 602.8,301.5 603.3,301.5 603.8,301.5 604.3,301.5 604.8,301.5 605.3,301.5 605.8,301.5 606.3,301.5 606.8,301.5 607.3,301.5 607.8,301.5 608.3,301.5 608.8,301.5 609.3,301.5 609.8,301.5 610.3,301.5 610.8,301.5 611.3,301.5 611.8,301.5 612.3,301.5 612.8,301.5 613.3,301.5 613.8,301.5 614.3,301.5 614.8,301.5 615.3,301.5 615.8,301.5 616.3,301.5 616.8,301.5 617.3,301.5 617.8,301.5 618.3,301.5 618.8,301.5 619.3,301.5 619.8,301.5 620.3,301.5 620.8,301.5 621.3,301.5 621.8,301.5 622.3,301.5 622.8,301.5 623.3,301.5 623.8,301.5 624.3,301.5 624.8,301.5 625.3,301.5 625.8,301.5 626.3,301.5 626.8,301.5 627.3,301.5 627.8,301.5 628.3,301.5 628.8,301.5 629.3,301.5 629.8,301.5 630.3,301.5 630.8,301.5 631.3,301.5 631.8,301.5 632.3,301.5 632.8,301.5 633.3,301.5 633.8,301.5 634.3,301.5 634.8,301.5 635.3,301.5 635.8,301.5 636.3,301.5 636.8,301.5 637.3,301.5 637.8,301.5 638.3,301.5 638.8,301.5 639.3,301.5 639.8,301.5 640.3,301.5 640.8,301.5 641.3,301.5 641.8,301.5 642.3,301.5 642.8,301.5 643.3,301.5 643.8,301.5 644.3,301.5 644.8,301.5 645.3,301.5 645.8,301.5 646.3,301.5 646.8,301.5 647.3,301.5 647.8,301.5 648.3,301.5 648.8,301.5 649.3,301.5 649.8,301.5 650.3,301.5 650.8,301.5 651.3,301.5 651.8,301.5 652.3,301.5 652.8,301.5 653.3,301.5 653.8,301.5 654.3,301.5 654.8,301.5 655.3,301.5 655.8,301.5 656.3,301.5 656.8,301.5 657.3,301.5 657.8,301.5 658.3,301.5 658.8,301.5 659.3,301.5 659.8,301.5 660.3,301.5 660.8,301.5 661.3,301.5 661.8,301.5 662.3,301.5 662.8,301.5 663.3,301.5 663.8,301.5 664.3,301.5 664.8,301.5 665.3,301.5 665.8,301.5 666.3,301.5 666.8,301.5 667.3,301.5 667.8,301.5" fill="none" stroke="#2a48f5" stroke-width="1.5" stroke-linejoin="round"/>
<line x1="482.60" y1="181.20" x2="488.30" y2="181.20" stroke="#000" stroke-width="1.3" />
<line x1="482.60" y1="221.30" x2="488.30" y2="221.30" stroke="#000" stroke-width="1.3" />
<line x1="482.60" y1="261.40" x2="488.30" y2="261.40" stroke="#000" stroke-width="1.3" />
<line x1="482.60" y1="301.50" x2="488.30" y2="301.50" stroke="#000" stroke-width="1.3" />
<line x1="485.50" y1="201.25" x2="488.30" y2="201.25" stroke="#000" stroke-width="1.3" />
<line x1="485.50" y1="241.35" x2="488.30" y2="241.35" stroke="#000" stroke-width="1.3" />
<line x1="485.50" y1="281.45" x2="488.30" y2="281.45" stroke="#000" stroke-width="1.3" />
<line x1="488.30" y1="301.50" x2="488.30" y2="305.70" stroke="#000" stroke-width="1.3" />
<line x1="506.25" y1="301.50" x2="506.25" y2="304.10" stroke="#000" stroke-width="1.3" />
<line x1="524.20" y1="301.50" x2="524.20" y2="305.70" stroke="#000" stroke-width="1.3" />
<line x1="542.15" y1="301.50" x2="542.15" y2="304.10" stroke="#000" stroke-width="1.3" />
<line x1="560.10" y1="301.50" x2="560.10" y2="305.70" stroke="#000" stroke-width="1.3" />
<line x1="578.05" y1="301.50" x2="578.05" y2="304.10" stroke="#000" stroke-width="1.3" />
<line x1="596.00" y1="301.50" x2="596.00" y2="305.70" stroke="#000" stroke-width="1.3" />
<line x1="613.95" y1="301.50" x2="613.95" y2="304.10" stroke="#000" stroke-width="1.3" />
<line x1="631.90" y1="301.50" x2="631.90" y2="305.70" stroke="#000" stroke-width="1.3" />
<line x1="649.85" y1="301.50" x2="649.85" y2="304.10" stroke="#000" stroke-width="1.3" />
<line x1="667.80" y1="301.50" x2="667.80" y2="305.70" stroke="#000" stroke-width="1.3" />
<text x="449.98" y="185.16" font-family="Liberation Sans" font-weight="bold" font-size="11.30" fill="#000">30000</text>
<text x="449.98" y="225.26" font-family="Liberation Sans" font-weight="bold" font-size="11.30" fill="#000">20000</text>
<text x="449.98" y="265.35" font-family="Liberation Sans" font-weight="bold" font-size="11.30" fill="#000">10000</text>
<text x="475.12" y="305.45" font-family="Liberation Sans" font-weight="bold" font-size="11.30" fill="#000">0</text>
<text x="487.70" y="318.20" font-family="Liberation Sans" font-weight="bold" font-size="11.30" text-anchor="middle" fill="#000">-0.1</text>
<text x="524.20" y="318.20" font-family="Liberation Sans" font-weight="bold" font-size="11.30" text-anchor="middle" fill="#000">0.0</text>
<text x="560.10" y="318.20" font-family="Liberation Sans" font-weight="bold" font-size="11.30" text-anchor="middle" fill="#000">0.1</text>
<text x="596.00" y="318.20" font-family="Liberation Sans" font-weight="bold" font-size="11.30" text-anchor="middle" fill="#000">0.2</text>
<text x="631.90" y="318.20" font-family="Liberation Sans" font-weight="bold" font-size="11.30" text-anchor="middle" fill="#000">0.3</text>
<text x="667.80" y="318.20" font-family="Liberation Sans" font-weight="bold" font-size="11.30" text-anchor="middle" fill="#000">0.4</text>
<text x="538.32" y="335.50" font-family="Liberation Sans" font-weight="bold" font-size="11.30" textLength="80.80" lengthAdjust="spacingAndGlyphs" fill="#000">Amplitude (pA)</text>
<text transform="translate(442.80,255.40) rotate(-90)" x="-0.71" y="0" font-family="Liberation Sans" font-weight="bold" font-size="11.30" textLength="33.51" lengthAdjust="spacingAndGlyphs" fill="#000">Points</text>
<text x="545.71" y="200.50" font-family="Liberation Sans" font-weight="bold" font-size="13.93" textLength="134.89" lengthAdjust="spacingAndGlyphs" fill="#000">KCNE1-hKCNQ1, 2:4</text>
<line x1="583.40" y1="227.00" x2="596.70" y2="227.00" stroke="#2a48f5" stroke-width="1.5" />
<text x="603.42" y="231.40" font-family="Liberation Sans" font-weight="normal" font-size="11.20" textLength="22.61" lengthAdjust="spacingAndGlyphs" fill="#000">0 pA</text>
<line x1="583.40" y1="243.50" x2="596.70" y2="243.50" stroke="#10e010" stroke-width="1.5" />
<text x="603.41" y="248.20" font-family="Liberation Sans" font-weight="normal" font-size="11.20" textLength="45.03" lengthAdjust="spacingAndGlyphs" fill="#000">0.040 pA</text>
<line x1="583.40" y1="260.40" x2="596.70" y2="260.40" stroke="#f83c20" stroke-width="1.5" />
<text x="603.41" y="264.70" font-family="Liberation Sans" font-weight="normal" font-size="11.20" textLength="45.03" lengthAdjust="spacingAndGlyphs" fill="#000">0.122 pA</text>
<defs><pattern id="hatch" patternUnits="userSpaceOnUse" width="3.9" height="3.9" patternTransform="rotate(-45)"><rect width="3.9" height="3.9" fill="#ff40ff"/><rect x="0" y="0" width="1.6" height="3.9" fill="#000"/></pattern></defs>
<text x="413.23" y="352.20" font-family="Liberation Sans" font-weight="bold" font-size="23.45" textLength="8.12" lengthAdjust="spacingAndGlyphs" fill="#000" >f</text>
<rect x="498.40" y="369.20" width="10.8" height="46.10" fill="#ff40ff" stroke="#000" stroke-width="1.3"/>
<line x1="503.80" y1="364.60" x2="503.80" y2="369.20" stroke="#000" stroke-width="1.2" />
<line x1="499.80" y1="364.60" x2="507.80" y2="364.60" stroke="#000" stroke-width="1.2" />
<rect x="515.10" y="415.3" width="10.8" height="25.00" fill="#ff40ff" stroke="#000" stroke-width="1.3"/>
<line x1="520.50" y1="440.30" x2="520.50" y2="446.10" stroke="#000" stroke-width="1.2" />
<line x1="516.50" y1="446.10" x2="524.50" y2="446.10" stroke="#000" stroke-width="1.2" />
<rect x="531.80" y="379.80" width="10.8" height="35.50" fill="#00f000" stroke="#000" stroke-width="1.3"/>
<line x1="537.20" y1="376.50" x2="537.20" y2="379.80" stroke="#000" stroke-width="1.2" />
<line x1="533.20" y1="376.50" x2="541.20" y2="376.50" stroke="#000" stroke-width="1.2" />
<rect x="548.50" y="361.70" width="10.8" height="53.60" fill="#00f000" stroke="#000" stroke-width="1.3"/>
<line x1="553.90" y1="357.50" x2="553.90" y2="361.70" stroke="#000" stroke-width="1.2" />
<line x1="549.90" y1="357.50" x2="557.90" y2="357.50" stroke="#000" stroke-width="1.2" />
<rect x="565.20" y="392.20" width="10.8" height="23.10" fill="#10fafa" stroke="#000" stroke-width="1.3"/>
<line x1="570.60" y1="388.50" x2="570.60" y2="392.20" stroke="#000" stroke-width="1.2" />
<line x1="566.60" y1="388.50" x2="574.60" y2="388.50" stroke="#000" stroke-width="1.2" />
<rect x="581.90" y="410.30" width="10.8" height="5.00" fill="#10fafa" stroke="#000" stroke-width="1.3"/>
<line x1="587.30" y1="407.50" x2="587.30" y2="410.30" stroke="#000" stroke-width="1.2" />
<line x1="583.30" y1="407.50" x2="591.30" y2="407.50" stroke="#000" stroke-width="1.2" />
<rect x="598.60" y="387.00" width="10.8" height="28.30" fill="#ff40ff" stroke="#000" stroke-width="1.3"/>
<line x1="604.00" y1="383.00" x2="604.00" y2="387.00" stroke="#000" stroke-width="1.2" />
<line x1="600.00" y1="383.00" x2="608.00" y2="383.00" stroke="#000" stroke-width="1.2" />
<rect x="615.30" y="365.10" width="10.8" height="50.20" fill="url(#hatch)" stroke="#000" stroke-width="1.3"/>
<line x1="620.70" y1="360.50" x2="620.70" y2="365.10" stroke="#000" stroke-width="1.2" />
<line x1="616.70" y1="360.50" x2="624.70" y2="360.50" stroke="#000" stroke-width="1.2" />
<rect x="632.00" y="371.20" width="10.8" height="44.10" fill="#00f000" stroke="#000" stroke-width="1.3"/>
<line x1="637.40" y1="366.00" x2="637.40" y2="371.20" stroke="#000" stroke-width="1.2" />
<line x1="633.40" y1="366.00" x2="641.40" y2="366.00" stroke="#000" stroke-width="1.2" />
<circle cx="503.50" cy="356.90" r="2.35" fill="#000"/>
<circle cx="502.50" cy="372.50" r="2.35" fill="#000"/>
<circle cx="504.00" cy="376.50" r="2.35" fill="#000"/>
<circle cx="502.70" cy="380.20" r="2.35" fill="#000"/>
<circle cx="504.10" cy="382.60" r="2.35" fill="#000"/>
<circle cx="516.55" cy="429.30" r="2.35" fill="#000"/>
<circle cx="520.05" cy="432.80" r="2.35" fill="#000"/>
<circle cx="522.55" cy="436.30" r="2.35" fill="#000"/>
<circle cx="520.15" cy="451.50" r="2.35" fill="#000"/>
<circle cx="520.35" cy="468.30" r="2.35" fill="#000"/>
<circle cx="537.10" cy="366.20" r="2.35" fill="#000"/>
<circle cx="534.00" cy="382.00" r="2.35" fill="#000"/>
<circle cx="539.80" cy="382.00" r="2.35" fill="#000"/>
<circle cx="537.50" cy="385.40" r="2.35" fill="#000"/>
<circle cx="535.10" cy="386.50" r="2.35" fill="#000"/>
<circle cx="539.60" cy="386.80" r="2.35" fill="#000"/>
<circle cx="550.25" cy="358.30" r="2.35" fill="#000"/>
<circle cx="554.95" cy="358.30" r="2.35" fill="#000"/>
<circle cx="553.45" cy="364.00" r="2.35" fill="#000"/>
<circle cx="556.85" cy="364.00" r="2.35" fill="#000"/>
<circle cx="553.45" cy="378.00" r="2.35" fill="#000"/>
<circle cx="567.00" cy="384.30" r="2.35" fill="#000"/>
<circle cx="573.80" cy="388.40" r="2.35" fill="#000"/>
<circle cx="570.40" cy="395.60" r="2.35" fill="#000"/>
<circle cx="568.20" cy="397.90" r="2.35" fill="#000"/>
<circle cx="573.10" cy="397.90" r="2.35" fill="#000"/>
<circle cx="590.35" cy="404.70" r="2.35" fill="#000"/>
<circle cx="584.05" cy="408.10" r="2.35" fill="#000"/>
<circle cx="584.05" cy="414.90" r="2.35" fill="#000"/>
<circle cx="589.75" cy="417.10" r="2.35" fill="#000"/>
<circle cx="586.35" cy="417.10" r="2.35" fill="#000"/>
<circle cx="603.30" cy="380.90" r="2.35" fill="#000"/>
<circle cx="600.00" cy="384.30" r="2.35" fill="#000"/>
<circle cx="607.20" cy="385.40" r="2.35" fill="#000"/>
<circle cx="602.20" cy="393.40" r="2.35" fill="#000"/>
<circle cx="605.60" cy="390.00" r="2.35" fill="#000"/>
<circle cx="620.35" cy="350.40" r="2.35" fill="#000"/>
<circle cx="620.35" cy="358.30" r="2.35" fill="#000"/>
<circle cx="619.25" cy="367.30" r="2.35" fill="#000"/>
<circle cx="622.65" cy="369.60" r="2.35" fill="#000"/>
<circle cx="620.35" cy="371.90" r="2.35" fill="#000"/>
<circle cx="634.00" cy="361.70" r="2.35" fill="#000"/>
<circle cx="638.10" cy="365.80" r="2.35" fill="#000"/>
<circle cx="641.20" cy="365.80" r="2.35" fill="#000"/>
<circle cx="636.30" cy="378.70" r="2.35" fill="#000"/>
<circle cx="635.80" cy="383.20" r="2.35" fill="#000"/>
<line x1="493.40" y1="344.20" x2="493.40" y2="486.50" stroke="#000" stroke-width="1.6" />
<line x1="492.60" y1="415.30" x2="648.80" y2="415.30" stroke="#000" stroke-width="1.8" />
<line x1="492.60" y1="485.70" x2="648.80" y2="485.70" stroke="#000" stroke-width="1.6" />
<line x1="487.30" y1="344.90" x2="493.40" y2="344.90" stroke="#000" stroke-width="1.5" />
<text x="477.89" y="348.69" font-family="Liberation Sans" font-weight="bold" font-size="11.00" fill="#000">4</text>
<line x1="487.30" y1="380.10" x2="493.40" y2="380.10" stroke="#000" stroke-width="1.5" />
<text x="478.28" y="383.95" font-family="Liberation Sans" font-weight="bold" font-size="11.00" fill="#000">2</text>
<line x1="487.30" y1="415.30" x2="493.40" y2="415.30" stroke="#000" stroke-width="1.5" />
<text x="478.17" y="419.10" font-family="Liberation Sans" font-weight="bold" font-size="11.00" fill="#000">1</text>
<line x1="487.30" y1="450.50" x2="493.40" y2="450.50" stroke="#000" stroke-width="1.5" />
<text x="468.99" y="454.35" font-family="Liberation Sans" font-weight="bold" font-size="11.00" fill="#000">0.5</text>
<line x1="487.30" y1="485.70" x2="493.40" y2="485.70" stroke="#000" stroke-width="1.5" />
<text x="462.88" y="489.55" font-family="Liberation Sans" font-weight="bold" font-size="11.00" fill="#000">0.25</text>
<line x1="503.80" y1="485.70" x2="503.80" y2="491.60" stroke="#000" stroke-width="1.4" />
<line x1="520.50" y1="485.70" x2="520.50" y2="491.60" stroke="#000" stroke-width="1.4" />
<line x1="537.20" y1="485.70" x2="537.20" y2="491.60" stroke="#000" stroke-width="1.4" />
<line x1="553.90" y1="485.70" x2="553.90" y2="491.60" stroke="#000" stroke-width="1.4" />
<line x1="570.60" y1="485.70" x2="570.60" y2="491.60" stroke="#000" stroke-width="1.4" />
<line x1="587.30" y1="485.70" x2="587.30" y2="491.60" stroke="#000" stroke-width="1.4" />
<line x1="604.00" y1="485.70" x2="604.00" y2="491.60" stroke="#000" stroke-width="1.4" />
<line x1="620.70" y1="485.70" x2="620.70" y2="491.60" stroke="#000" stroke-width="1.4" />
<line x1="637.40" y1="485.70" x2="637.40" y2="491.60" stroke="#000" stroke-width="1.4" />
<text transform="translate(466.60,436.10) rotate(-90)" x="-0.76" y="0" font-family="Liberation Sans" font-weight="bold" font-size="11.60" textLength="40.73" lengthAdjust="spacingAndGlyphs" fill="#000">Rb+/K+</text>
<text transform="translate(505.40,503.40) rotate(-45)" x="0" y="0" text-anchor="end" font-family="Liberation Sans" font-weight="bold" font-size="10.8">hKCNQ1</text>
<text transform="translate(522.10,503.40) rotate(-45)" x="0" y="0" text-anchor="end" font-family="Liberation Sans" font-weight="bold" font-size="10.8">KCNE1-hKCNQ1</text>
<text transform="translate(538.80,503.40) rotate(-45)" x="0" y="0" text-anchor="end" font-family="Liberation Sans" font-weight="bold" font-size="10.8">hE1R/R2E</text>
<text transform="translate(555.50,503.40) rotate(-45)" x="0" y="0" text-anchor="end" font-family="Liberation Sans" font-weight="bold" font-size="10.8">KCNE1-hE1R/R2E</text>
<text transform="translate(572.20,503.40) rotate(-45)" x="0" y="0" text-anchor="end" font-family="Liberation Sans" font-weight="bold" font-size="10.8">hE1R/R4E</text>
<text transform="translate(588.90,503.40) rotate(-45)" x="0" y="0" text-anchor="end" font-family="Liberation Sans" font-weight="bold" font-size="10.8">KCNE1-hE1R/R4E</text>
<text transform="translate(605.60,503.40) rotate(-45)" x="0" y="0" text-anchor="end" font-family="Liberation Sans" font-weight="bold" font-size="10.8">Y46A-KCNE1-hKCNQ1</text>
<text transform="translate(622.30,503.40) rotate(-45)" x="0" y="0" text-anchor="end" font-family="Liberation Sans" font-weight="bold" font-size="10.8">Y46A-KCNE1-hKCNQ1 0 mV</text>
<text transform="translate(639.00,503.40) rotate(-45)" x="0" y="0" text-anchor="end" font-family="Liberation Sans" font-weight="bold" font-size="10.8">Y46A-KCNE1-hE1R/R2E</text>
<text x="412.48" y="592.91" font-family="Liberation Serif" font-weight="bold" font-size="23.13" textLength="12.45" lengthAdjust="spacingAndGlyphs" fill="#000" >g</text>
<rect x="505.65" y="661.20" width="11.7" height="79.30" fill="#ff40ff" stroke="#000" stroke-width="1.3"/>
<line x1="511.50" y1="651.90" x2="511.50" y2="661.20" stroke="#000" stroke-width="1.2" />
<line x1="507.50" y1="651.90" x2="515.50" y2="651.90" stroke="#000" stroke-width="1.2" />
<rect x="524.57" y="731.30" width="11.7" height="9.20" fill="#050005" stroke="#000" stroke-width="1.3"/>
<line x1="530.42" y1="726.00" x2="530.42" y2="731.30" stroke="#000" stroke-width="1.2" />
<line x1="526.42" y1="726.00" x2="534.42" y2="726.00" stroke="#000" stroke-width="1.2" />
<rect x="543.49" y="688.00" width="11.7" height="52.50" fill="#00f000" stroke="#000" stroke-width="1.3"/>
<line x1="549.34" y1="681.60" x2="549.34" y2="688.00" stroke="#000" stroke-width="1.2" />
<line x1="545.34" y1="681.60" x2="553.34" y2="681.60" stroke="#000" stroke-width="1.2" />
<rect x="562.41" y="646.10" width="11.7" height="94.40" fill="#00f000" stroke="#000" stroke-width="1.3"/>
<line x1="568.26" y1="635.30" x2="568.26" y2="646.10" stroke="#000" stroke-width="1.2" />
<line x1="564.26" y1="635.30" x2="572.26" y2="635.30" stroke="#000" stroke-width="1.2" />
<rect x="581.33" y="669.90" width="11.7" height="70.60" fill="#10fafa" stroke="#000" stroke-width="1.3"/>
<line x1="587.18" y1="661.30" x2="587.18" y2="669.90" stroke="#000" stroke-width="1.2" />
<line x1="583.18" y1="661.30" x2="591.18" y2="661.30" stroke="#000" stroke-width="1.2" />
<rect x="600.25" y="738.20" width="11.7" height="2.30" fill="#10fafa" stroke="#000" stroke-width="1.3"/>
<line x1="606.10" y1="732.60" x2="606.10" y2="738.20" stroke="#000" stroke-width="1.2" />
<line x1="602.10" y1="732.60" x2="610.10" y2="732.60" stroke="#000" stroke-width="1.2" />
<rect x="619.17" y="713.30" width="11.7" height="27.20" fill="#ff40ff" stroke="#000" stroke-width="1.3"/>
<line x1="625.02" y1="707.70" x2="625.02" y2="713.30" stroke="#000" stroke-width="1.2" />
<line x1="621.02" y1="707.70" x2="629.02" y2="707.70" stroke="#000" stroke-width="1.2" />
<circle cx="511.70" cy="631.60" r="2.35" fill="#000"/>
<circle cx="511.70" cy="650.30" r="2.35" fill="#000"/>
<circle cx="507.50" cy="670.60" r="2.35" fill="#000"/>
<circle cx="515.60" cy="670.60" r="2.35" fill="#000"/>
<circle cx="511.70" cy="684.60" r="2.35" fill="#000"/>
<circle cx="511.70" cy="690.00" r="2.35" fill="#000"/>
<circle cx="530.50" cy="714.20" r="2.35" fill="#000"/>
<circle cx="527.00" cy="728.60" r="2.35" fill="#000"/>
<circle cx="531.00" cy="727.80" r="2.35" fill="#000"/>
<circle cx="534.20" cy="727.20" r="2.35" fill="#000"/>
<circle cx="529.00" cy="729.50" r="2.35" fill="#000"/>
<circle cx="544.70" cy="676.00" r="2.35" fill="#000"/>
<circle cx="553.80" cy="678.90" r="2.35" fill="#000"/>
<circle cx="544.70" cy="681.60" r="2.35" fill="#000"/>
<circle cx="549.20" cy="698.60" r="2.35" fill="#000"/>
<circle cx="549.20" cy="714.90" r="2.35" fill="#000"/>
<circle cx="568.50" cy="629.10" r="2.35" fill="#000"/>
<circle cx="568.50" cy="647.00" r="2.35" fill="#000"/>
<circle cx="568.50" cy="673.30" r="2.35" fill="#000"/>
<circle cx="583.20" cy="652.20" r="2.35" fill="#000"/>
<circle cx="591.60" cy="649.30" r="2.35" fill="#000"/>
<circle cx="587.30" cy="665.80" r="2.35" fill="#000"/>
<circle cx="587.30" cy="675.50" r="2.35" fill="#000"/>
<circle cx="587.30" cy="698.60" r="2.35" fill="#000"/>
<circle cx="587.30" cy="714.00" r="2.35" fill="#000"/>
<circle cx="602.00" cy="734.40" r="2.35" fill="#000"/>
<circle cx="610.30" cy="732.60" r="2.35" fill="#000"/>
<circle cx="625.00" cy="703.60" r="2.35" fill="#000"/>
<circle cx="621.60" cy="720.80" r="2.35" fill="#000"/>
<circle cx="628.40" cy="716.70" r="2.35" fill="#000"/>
<line x1="499.50" y1="600.60" x2="499.50" y2="741.30" stroke="#000" stroke-width="1.6" />
<line x1="498.70" y1="740.50" x2="638.20" y2="740.50" stroke="#000" stroke-width="1.8" />
<line x1="493.40" y1="601.00" x2="499.50" y2="601.00" stroke="#000" stroke-width="1.5" />
<text x="478.69" y="604.78" font-family="Liberation Sans" font-weight="bold" font-size="10.80" fill="#000">32</text>
<line x1="493.40" y1="628.90" x2="499.50" y2="628.90" stroke="#000" stroke-width="1.5" />
<text x="478.69" y="632.68" font-family="Liberation Sans" font-weight="bold" font-size="10.80" fill="#000">16</text>
<line x1="493.40" y1="656.80" x2="499.50" y2="656.80" stroke="#000" stroke-width="1.5" />
<text x="484.58" y="660.58" font-family="Liberation Sans" font-weight="bold" font-size="10.80" fill="#000">8</text>
<line x1="493.40" y1="684.70" x2="499.50" y2="684.70" stroke="#000" stroke-width="1.5" />
<text x="484.31" y="688.43" font-family="Liberation Sans" font-weight="bold" font-size="10.80" fill="#000">4</text>
<line x1="493.40" y1="712.60" x2="499.50" y2="712.60" stroke="#000" stroke-width="1.5" />
<text x="484.68" y="716.38" font-family="Liberation Sans" font-weight="bold" font-size="10.80" fill="#000">2</text>
<line x1="493.40" y1="740.50" x2="499.50" y2="740.50" stroke="#000" stroke-width="1.5" />
<text x="484.58" y="744.23" font-family="Liberation Sans" font-weight="bold" font-size="10.80" fill="#000">1</text>
<line x1="511.50" y1="740.50" x2="511.50" y2="746.30" stroke="#000" stroke-width="1.4" />
<line x1="530.42" y1="740.50" x2="530.42" y2="746.30" stroke="#000" stroke-width="1.4" />
<line x1="549.34" y1="740.50" x2="549.34" y2="746.30" stroke="#000" stroke-width="1.4" />
<line x1="568.26" y1="740.50" x2="568.26" y2="746.30" stroke="#000" stroke-width="1.4" />
<line x1="587.18" y1="740.50" x2="587.18" y2="746.30" stroke="#000" stroke-width="1.4" />
<line x1="606.10" y1="740.50" x2="606.10" y2="746.30" stroke="#000" stroke-width="1.4" />
<line x1="625.02" y1="740.50" x2="625.02" y2="746.30" stroke="#000" stroke-width="1.4" />
<text transform="translate(458.90,716.10) rotate(-90)" x="-0.73" y="0" font-family="Liberation Sans" font-weight="bold" font-size="11.30" textLength="91.90" lengthAdjust="spacingAndGlyphs" fill="#000">Peak Tail Current</text>
<text transform="translate(473.40,709.10) rotate(-90)" x="-0.74" y="0" font-family="Liberation Sans" font-weight="bold" font-size="11.30" textLength="78.63" lengthAdjust="spacingAndGlyphs" fill="#000">ML277/Control</text>
<text transform="translate(512.90,755.20) rotate(-45)" x="0" y="0" text-anchor="end" font-family="Liberation Sans" font-weight="bold" font-size="10.8">hKCNQ1</text>
<text transform="translate(531.82,755.20) rotate(-45)" x="0" y="0" text-anchor="end" font-family="Liberation Sans" font-weight="bold" font-size="10.8">KCNE1-hKCNQ1</text>
<text transform="translate(550.74,755.20) rotate(-45)" x="0" y="0" text-anchor="end" font-family="Liberation Sans" font-weight="bold" font-size="10.8">hE1R/R2E</text>
<text transform="translate(569.66,755.20) rotate(-45)" x="0" y="0" text-anchor="end" font-family="Liberation Sans" font-weight="bold" font-size="10.8">KCNE1-hE1R/R2E</text>
<text transform="translate(588.58,755.20) rotate(-45)" x="0" y="0" text-anchor="end" font-family="Liberation Sans" font-weight="bold" font-size="10.8">hE1R/R4E</text>
<text transform="translate(607.50,755.20) rotate(-45)" x="0" y="0" text-anchor="end" font-family="Liberation Sans" font-weight="bold" font-size="10.8">KCNE1-hE1R/R4E</text>
<text transform="translate(626.42,755.20) rotate(-45)" x="0" y="0" text-anchor="end" font-family="Liberation Sans" font-weight="bold" font-size="10.8">Y46A-KCNE1-hKCNQ1</text>
</svg></body></html>
